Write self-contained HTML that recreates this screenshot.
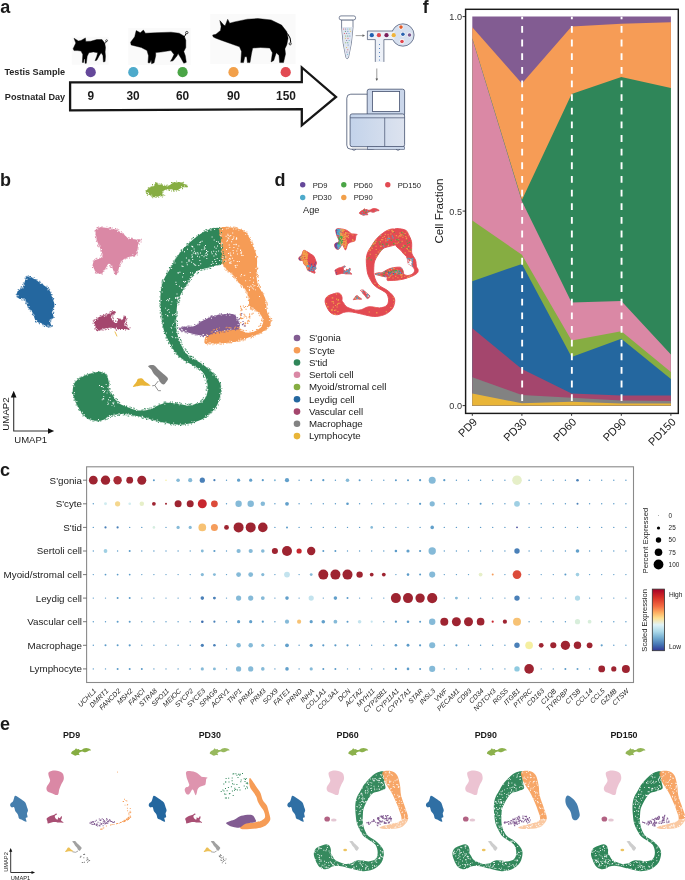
<!DOCTYPE html><html><head><meta charset="utf-8"><style>html,body{margin:0;padding:0;background:#fff;width:685px;height:880px;overflow:hidden}svg{display:block;font-family:"Liberation Sans", sans-serif;will-change:transform}</style></head><body><svg width="685" height="880" viewBox="0 0 685 880"><text x="0.2" y="12.9" font-size="18" font-weight="bold" text-anchor="start" fill="#1a1a1a" >a</text>
<rect x="71.8" y="36.8" width="36.8" height="28" fill="#fafafa"/>
<rect x="128.2" y="27.9" width="62.5" height="37.1" fill="#fafafa"/>
<rect x="210.2" y="14.1" width="85.4" height="49.9" fill="#fafafa"/>
<polygon points="73.1,48.8 75.8,43.1 74.0,38.3 78.4,40.9 81.0,40.5 85.4,37.9 85.8,41.4 90.7,41.2 96.8,39.6 102.0,39.6 104.7,43.1 105.5,47.5 105.1,51.9 105.5,56.3 105.1,61.5 103.4,62.0 102.9,55.4 101.2,52.8 99.4,55.4 96.8,60.2 95.0,60.7 96.8,56.3 97.7,52.8 93.3,51.9 88.9,52.8 87.2,56.3 86.3,63.3 85.0,63.3 85.0,58.9 84.1,58.9 83.6,62.4 82.3,62.4 82.8,54.5 81.0,51.0 77.5,50.6 74.0,50.6" fill="#000" stroke="#000" stroke-width="0.4" stroke-linejoin="round"/>
<polygon points="130.6,42.2 134.7,36.8 136.2,30.6 140.3,32.7 143.4,30.1 145.4,33.2 155.7,32.7 171.0,32.2 179.2,33.2 184.3,36.2 185.8,40.3 185.8,47.5 183.8,51.6 185.3,55.7 186.3,62.3 183.8,63.3 180.7,57.7 178.1,53.6 177.1,55.7 173.0,60.8 170.5,61.3 172.0,58.7 174.0,54.6 171.0,50.5 160.8,52.1 155.7,52.6 155.7,55.7 154.1,62.8 151.6,63.8 151.1,59.7 150.0,62.8 148.0,62.8 148.5,55.7 147.0,50.5 141.3,47.5 135.2,46.0 131.1,44.9" fill="#000" stroke="#000" stroke-width="0.4" stroke-linejoin="round"/>
<polygon points="212.6,35.0 215.9,34.3 220.5,30.4 221.1,26.5 219.8,20.5 223.8,25.1 225.1,25.8 227.7,19.2 229.7,23.2 234.3,21.9 247.4,19.2 257.9,18.6 271.1,19.9 281.6,25.1 286.8,31.7 288.1,38.3 286.8,44.8 284.9,48.8 285.5,54.0 283.5,62.6 279.6,62.6 279.0,55.4 276.3,52.7 273.7,60.6 271.1,61.9 272.4,52.7 269.8,48.1 260.6,47.5 252.7,48.1 251.4,54.0 250.0,62.6 247.4,62.6 246.8,56.7 244.8,56.7 243.5,62.6 240.8,62.6 241.5,51.4 239.5,46.8 230.3,43.5 221.1,40.2 215.9,38.3 213.3,37.0" fill="#000" stroke="#000" stroke-width="0.4" stroke-linejoin="round"/>
<path d="M104.8,43.5 Q106,42.5 106.2,41.2" fill="none" stroke="#000" stroke-width="0.9"/><circle cx="106.6" cy="40.6" r="0.9" fill="none" stroke="#000" stroke-width="0.6"/>
<path d="M184.3,36.8 Q185.5,35 186,33.6" fill="none" stroke="#000" stroke-width="1"/><circle cx="186.8" cy="32.6" r="1.2" fill="none" stroke="#000" stroke-width="0.7"/>
<path d="M287.5,33.5 Q291,38 290.8,42.5" fill="none" stroke="#000" stroke-width="1"/><circle cx="290.2" cy="43.8" r="1.1" fill="none" stroke="#000" stroke-width="0.7"/>
<path d="M70.1,82.3 L301.8,82.2 L301.8,67.5 L336,97 L301.8,125.3 L301.8,109.2 L70.1,110.4 Z" fill="#fff" stroke="#161616" stroke-width="2.3" stroke-linejoin="miter"/>
<circle cx="90.7" cy="72.2" r="5.1" fill="#65489a"/>
<circle cx="133.3" cy="72.2" r="5.1" fill="#4eaacb"/>
<circle cx="182.6" cy="72.2" r="5.1" fill="#4aa546"/>
<circle cx="233.5" cy="72.2" r="5.1" fill="#f2a04a"/>
<circle cx="285.7" cy="72.2" r="5.1" fill="#e24a52"/>
<text x="4.4" y="75" font-size="9.15" font-weight="bold" text-anchor="start" fill="#262626" >Testis Sample</text>
<text x="4.8" y="99.8" font-size="9.15" font-weight="bold" text-anchor="start" fill="#262626" >Postnatal Day</text>
<text x="90.7" y="100.3" font-size="11.9" font-weight="bold" text-anchor="middle" fill="#1c1c1c" >9</text>
<text x="133" y="100.3" font-size="11.9" font-weight="bold" text-anchor="middle" fill="#1c1c1c" >30</text>
<text x="182.5" y="100.3" font-size="11.9" font-weight="bold" text-anchor="middle" fill="#1c1c1c" >60</text>
<text x="233.5" y="100.3" font-size="11.9" font-weight="bold" text-anchor="middle" fill="#1c1c1c" >90</text>
<text x="286" y="100.3" font-size="11.9" font-weight="bold" text-anchor="middle" fill="#1c1c1c" >150</text>
<path d="M341.6,19.9 L353,19.9 L353,27 Q352,44 348.4,57.8 Q347.2,59.5 346,57.8 Q342.6,44 341.6,27 Z" fill="#fff" stroke="#44506e" stroke-width="0.7"/>
<path d="M342,27 L352.6,27 Q351.6,44 348.2,57.4 Q347.2,58.8 346.2,57.4 Q343,44 342,27 Z" fill="#dfe6f1"/>
<rect x="339.2" y="15.9" width="16.4" height="4" rx="1.8" fill="#fff" stroke="#44506e" stroke-width="0.7"/>
<circle cx="343.6" cy="29.0" r="0.5" fill="#e0474f"/>
<circle cx="345.7" cy="29.0" r="0.5" fill="#7e5b92"/>
<circle cx="347.8" cy="29.0" r="0.5" fill="#4eaacb"/>
<circle cx="349.9" cy="29.0" r="0.5" fill="#86ad42"/>
<circle cx="345.4" cy="31.3" r="0.5" fill="#2f8659"/>
<circle cx="347.9" cy="31.3" r="0.5" fill="#4b78c0"/>
<circle cx="350.4" cy="31.3" r="0.5" fill="#e9b538"/>
<circle cx="344.4" cy="33.6" r="0.5" fill="#e0474f"/>
<circle cx="346.7" cy="33.6" r="0.5" fill="#7e5b92"/>
<circle cx="349.0" cy="33.6" r="0.5" fill="#4eaacb"/>
<circle cx="345.7" cy="35.9" r="0.5" fill="#86ad42"/>
<circle cx="347.8" cy="35.9" r="0.5" fill="#2f8659"/>
<circle cx="349.9" cy="35.9" r="0.5" fill="#4b78c0"/>
<circle cx="345.3" cy="38.2" r="0.5" fill="#e9b538"/>
<circle cx="348.0" cy="38.2" r="0.5" fill="#e0474f"/>
<circle cx="346.7" cy="40.5" r="0.5" fill="#7e5b92"/>
<circle cx="349.1" cy="40.5" r="0.5" fill="#4eaacb"/>
<circle cx="345.7" cy="42.8" r="0.5" fill="#86ad42"/>
<circle cx="347.8" cy="42.8" r="0.5" fill="#2f8659"/>
<circle cx="348.1" cy="45.1" r="0.5" fill="#4b78c0"/>
<circle cx="346.6" cy="47.4" r="0.5" fill="#e9b538"/>
<circle cx="347.8" cy="49.7" r="0.5" fill="#e0474f"/>
<circle cx="346.9" cy="52.0" r="0.5" fill="#7e5b92"/>
<circle cx="347.6" cy="54.3" r="0.5" fill="#4eaacb"/>
<line x1="355.6" y1="35.6" x2="363.5" y2="35.6" stroke="#666" stroke-width="0.6"/>
<path d="M362.5,34.3 L365,35.6 L362.5,36.9 Z" fill="#666"/>
<circle cx="402.9" cy="35" r="11.2" fill="#d7e0ef" stroke="#44506e" stroke-width="0.7"/>
<rect x="367.4" y="31" width="27" height="8.6" fill="#edf1f8"/>
<rect x="375.3" y="39" width="8.6" height="22.9" fill="#edf1f8"/>
<path d="M393.2,31 L367.4,31 L367.4,39.6 L375.3,39.6 L375.3,61.9 M383.9,61.9 L383.9,39.6 L392.6,39.6" fill="none" stroke="#44506e" stroke-width="0.7"/>
<circle cx="371.8" cy="35.2" r="2.1" fill="#1f5fb0"/>
<circle cx="378.9" cy="35.2" r="2.1" fill="#e0474f"/>
<circle cx="386.5" cy="35.2" r="2.1" fill="#7a1f5c"/>
<circle cx="393.7" cy="35.2" r="2.1" fill="#f0b43a"/>
<circle cx="401" cy="27.1" r="2.4" fill="#fff"/>
<circle cx="401" cy="27.1" r="1.8" fill="#e05a2a"/>
<circle cx="402.9" cy="34.3" r="2.4" fill="#fff"/>
<circle cx="402.9" cy="34.3" r="1.8" fill="#2a62b0"/>
<circle cx="409.5" cy="35" r="2.4" fill="#fff"/>
<circle cx="409.5" cy="35" r="1.8" fill="#7e5b92"/>
<circle cx="402" cy="41.5" r="2.4" fill="#fff"/>
<circle cx="402" cy="41.5" r="1.8" fill="#e0474f"/>
<circle cx="379.5" cy="44.5" r="0.5" fill="#2a62b0"/>
<circle cx="379.5" cy="48.5" r="0.5" fill="#2a62b0"/>
<circle cx="379.5" cy="52.5" r="0.5" fill="#2a62b0"/>
<circle cx="379.5" cy="56.5" r="0.5" fill="#2a62b0"/>
<circle cx="379.5" cy="60" r="0.5" fill="#2a62b0"/>
<line x1="376.8" y1="68.5" x2="376.8" y2="79.5" stroke="#555" stroke-width="0.6"/>
<path d="M375.5,78.6 L376.8,81 L378.1,78.6 Z" fill="#555"/>
<defs><linearGradient id="mg" x1="0" x2="1"><stop offset="0" stop-color="#c3d3ea"/><stop offset="1" stop-color="#dde3ef"/></linearGradient></defs>
<rect x="346.8" y="94.2" width="30" height="55" rx="4" fill="#fff" stroke="#44506e" stroke-width="0.8"/>
<rect x="367.2" y="89.2" width="37.4" height="27" rx="2" fill="#cad6ea" stroke="#44506e" stroke-width="0.8"/>
<rect x="372.4" y="91.5" width="27.2" height="20" fill="#fff" stroke="#44506e" stroke-width="0.8"/>
<rect x="350.1" y="113.9" width="54.5" height="32.8" rx="2" fill="url(#mg)" stroke="#44506e" stroke-width="0.8"/>
<line x1="350.1" y1="117.8" x2="404.6" y2="117.8" stroke="#44506e" stroke-width="0.7"/>
<line x1="384.7" y1="117.8" x2="384.7" y2="146.7" stroke="#44506e" stroke-width="0.7"/>
<rect x="367.5" y="146.7" width="37" height="2.6" fill="#cad6ea" stroke="#44506e" stroke-width="0.6"/>
<path d="M352,149.3 Q354,151.5 356,149.3 M396,149.3 Q398,151.5 400,149.3" fill="none" stroke="#44506e" stroke-width="0.7"/>
<polygon points="472.3,16.6 521.9,16.6 571.6,16.6 621.3,16.6 670.9,16.6 670.9,405.6 621.3,405.6 571.6,405.6 521.9,405.6 472.3,405.6" fill="#825c92"/>
<polygon points="472.3,27.3 521.9,83.6 571.6,26.6 621.3,23.7 670.9,22.3 670.9,405.6 621.3,405.6 571.6,405.6 521.9,405.6 472.3,405.6" fill="#f69c56"/>
<polygon points="472.3,38.3 521.9,200.1 571.6,94.1 621.3,77.1 670.9,88.0 670.9,405.6 621.3,405.6 571.6,405.6 521.9,405.6 472.3,405.6" fill="#2f8659"/>
<polygon points="472.3,38.7 521.9,201.3 571.6,302.4 621.3,301.0 670.9,354.5 670.9,405.6 621.3,405.6 571.6,405.6 521.9,405.6 472.3,405.6" fill="#da88a5"/>
<polygon points="472.3,220.6 521.9,254.7 571.6,340.4 621.3,331.2 670.9,372.0 670.9,405.6 621.3,405.6 571.6,405.6 521.9,405.6 472.3,405.6" fill="#86ad42"/>
<polygon points="472.3,281.2 521.9,263.9 571.6,357.1 621.3,338.7 670.9,379.0 670.9,405.6 621.3,405.6 571.6,405.6 521.9,405.6 472.3,405.6" fill="#24679f"/>
<polygon points="472.3,328.2 521.9,369.1 571.6,393.5 621.3,395.6 670.9,395.6 670.9,405.6 621.3,405.6 571.6,405.6 521.9,405.6 472.3,405.6" fill="#a4466d"/>
<polygon points="472.3,377.3 521.9,395.0 571.6,397.7 621.3,400.5 670.9,400.9 670.9,405.6 621.3,405.6 571.6,405.6 521.9,405.6 472.3,405.6" fill="#828282"/>
<polygon points="472.3,393.6 521.9,403.2 571.6,401.8 621.3,403.5 670.9,403.5 670.9,405.6 621.3,405.6 571.6,405.6 521.9,405.6 472.3,405.6" fill="#e9b538"/>
<line x1="522.15" y1="414.7" x2="522.15" y2="16.65" stroke="#fff" stroke-width="1.9" stroke-dasharray="6.82,6.82"/>
<line x1="571.85" y1="414.7" x2="571.85" y2="16.65" stroke="#fff" stroke-width="1.9" stroke-dasharray="6.82,6.82"/>
<line x1="621.55" y1="414.7" x2="621.55" y2="16.65" stroke="#fff" stroke-width="1.9" stroke-dasharray="6.82,6.82"/>
<rect x="465.6" y="9.3" width="212.7" height="404.1" fill="none" stroke="#1a1a1a" stroke-width="1.45"/>
<line x1="462.6" y1="16.6" x2="465" y2="16.6" stroke="#333" stroke-width="1"/>
<text x="462" y="20.25" font-size="9.1" font-weight="normal" text-anchor="end" fill="#333" >1.0</text>
<line x1="462.6" y1="211.1" x2="465" y2="211.1" stroke="#333" stroke-width="1"/>
<text x="462" y="214.725" font-size="9.1" font-weight="normal" text-anchor="end" fill="#333" >0.5</text>
<line x1="462.6" y1="405.6" x2="465" y2="405.6" stroke="#333" stroke-width="1"/>
<text x="462" y="409.20000000000005" font-size="9.1" font-weight="normal" text-anchor="end" fill="#333" >0.0</text>
<line x1="472.3" y1="413.4" x2="472.3" y2="415.8" stroke="#333" stroke-width="1"/>
<text transform="translate(477.90000000000003,422.6) rotate(-45)" font-size="11" text-anchor="end" fill="#1a1a1a">PD9</text>
<line x1="521.9" y1="413.4" x2="521.9" y2="415.8" stroke="#333" stroke-width="1"/>
<text transform="translate(527.5,422.6) rotate(-45)" font-size="11" text-anchor="end" fill="#1a1a1a">PD30</text>
<line x1="571.6" y1="413.4" x2="571.6" y2="415.8" stroke="#333" stroke-width="1"/>
<text transform="translate(577.2,422.6) rotate(-45)" font-size="11" text-anchor="end" fill="#1a1a1a">PD60</text>
<line x1="621.3" y1="413.4" x2="621.3" y2="415.8" stroke="#333" stroke-width="1"/>
<text transform="translate(626.9,422.6) rotate(-45)" font-size="11" text-anchor="end" fill="#1a1a1a">PD90</text>
<line x1="670.9" y1="413.4" x2="670.9" y2="415.8" stroke="#333" stroke-width="1"/>
<text transform="translate(676.5,422.6) rotate(-45)" font-size="11" text-anchor="end" fill="#1a1a1a">PD150</text>
<text transform="translate(443,211) rotate(-90)" font-size="11.6" text-anchor="middle" fill="#1a1a1a">Cell Fraction</text>
<text x="422.8" y="12.6" font-size="17.6" font-weight="bold" text-anchor="start" fill="#1a1a1a" >f</text>
<text x="0.0" y="185.6" font-size="18" font-weight="bold" text-anchor="start" fill="#1a1a1a" >b</text>
<g><path d="M145.70,192.50 C145.57,191.33 147.57,189.18 148.80,188.10 C150.03,187.02 151.87,186.95 153.10,186.00 C154.33,185.05 155.32,182.63 156.20,182.40 C157.08,182.17 157.38,184.30 158.40,184.60 C159.42,184.90 161.43,183.97 162.30,184.20 C163.17,184.43 162.50,185.78 163.60,186.00 C164.70,186.22 167.43,185.95 168.90,185.50 C170.37,185.05 170.93,183.88 172.40,183.30 C173.87,182.72 175.95,182.00 177.70,182.00 C179.45,182.00 181.23,182.57 182.90,183.30 C184.57,184.03 187.70,185.73 187.70,186.40 C187.70,187.07 184.57,186.72 182.90,187.30 C181.23,187.88 179.30,189.40 177.70,189.90 C176.10,190.40 174.77,190.45 173.30,190.30 C171.83,190.15 170.37,189.00 168.90,189.00 C167.43,189.00 165.67,189.72 164.50,190.30 C163.33,190.88 162.05,191.55 161.90,192.50 C161.75,193.45 164.03,195.42 163.60,196.00 C163.17,196.58 160.82,195.78 159.30,196.00 C157.78,196.22 156.12,197.45 154.50,197.30 C152.88,197.15 151.07,195.90 149.60,195.10 C148.13,194.30 145.83,193.67 145.70,192.50Z" fill="#86ad42"/>
<path d="M96.00,229.20 C96.73,228.38 98.08,227.62 99.90,227.40 C101.72,227.18 104.27,227.53 106.90,227.90 C109.53,228.27 113.22,228.73 115.70,229.60 C118.18,230.47 120.05,231.93 121.80,233.10 C123.55,234.27 125.03,235.65 126.20,236.60 C127.37,237.55 127.50,238.35 128.80,238.80 C130.10,239.25 131.95,239.00 134.00,239.30 C136.05,239.60 140.37,240.02 141.10,240.60 C141.83,241.18 138.98,241.42 138.40,242.80 C137.82,244.18 138.03,246.87 137.60,248.90 C137.17,250.93 137.12,253.68 135.80,255.00 C134.48,256.32 131.75,256.07 129.70,256.80 C127.65,257.53 125.12,258.23 123.50,259.40 C121.88,260.57 120.87,261.90 120.00,263.80 C119.13,265.70 118.95,268.90 118.30,270.80 C117.65,272.70 116.83,275.05 116.10,275.20 C115.37,275.35 114.70,273.32 113.90,271.70 C113.10,270.08 112.18,266.82 111.30,265.50 C110.42,264.18 109.63,263.22 108.60,263.80 C107.57,264.38 106.27,267.40 105.10,269.00 C103.93,270.60 103.05,272.80 101.60,273.40 C100.15,274.00 97.85,273.92 96.40,272.60 C94.95,271.28 93.20,267.55 92.90,265.50 C92.60,263.45 93.43,261.47 94.60,260.30 C95.77,259.13 98.58,259.38 99.90,258.50 C101.22,257.62 102.35,256.45 102.50,255.00 C102.65,253.55 101.60,251.83 100.80,249.80 C100.00,247.77 98.43,244.85 97.70,242.80 C96.97,240.75 96.77,239.25 96.40,237.50 C96.03,235.75 95.57,233.68 95.50,232.30 C95.43,230.92 95.27,230.02 96.00,229.20Z" fill="#da88a5"/>
<path d="M27.30,276.10 C28.90,275.38 31.48,277.48 33.90,278.80 C36.32,280.12 39.32,282.25 41.80,284.00 C44.28,285.75 47.05,286.97 48.80,289.30 C50.55,291.63 51.35,295.38 52.30,298.00 C53.25,300.62 54.50,302.80 54.50,305.00 C54.50,307.20 52.45,309.08 52.30,311.20 C52.15,313.32 54.03,316.25 53.60,317.70 C53.17,319.15 50.07,318.37 49.70,319.90 C49.33,321.43 51.98,325.88 51.40,326.90 C50.82,327.92 47.80,326.58 46.20,326.00 C44.60,325.42 43.55,324.27 41.80,323.40 C40.05,322.53 37.17,322.55 35.70,320.80 C34.23,319.05 34.32,315.23 33.00,312.90 C31.68,310.57 29.12,309.13 27.80,306.80 C26.48,304.47 26.42,300.22 25.10,298.90 C23.78,297.58 21.28,299.48 19.90,298.90 C18.52,298.32 17.10,296.72 16.80,295.40 C16.50,294.08 17.15,292.32 18.10,291.00 C19.05,289.68 21.47,288.82 22.50,287.50 C23.53,286.18 23.50,285.00 24.30,283.10 C25.10,281.20 25.70,276.82 27.30,276.10Z" fill="#24679f"/>
<path d="M93.80,321.50 C93.95,320.25 95.10,319.75 96.40,318.80 C97.70,317.85 99.57,316.60 101.60,315.80 C103.63,315.00 106.55,314.80 108.60,314.00 C110.65,313.20 112.72,311.15 113.90,311.00 C115.08,310.85 116.13,312.30 115.70,313.10 C115.27,313.90 111.75,314.48 111.30,315.80 C110.85,317.12 111.98,319.83 113.00,321.00 C114.02,322.17 116.52,323.23 117.40,322.80 C118.28,322.37 117.57,318.85 118.30,318.40 C119.03,317.95 120.63,320.53 121.80,320.10 C122.97,319.67 124.57,315.80 125.30,315.80 C126.03,315.80 126.35,318.65 126.20,320.10 C126.05,321.55 123.82,322.97 124.40,324.50 C124.98,326.03 129.85,328.57 129.70,329.30 C129.55,330.03 125.70,328.97 123.50,328.90 C121.30,328.83 118.25,329.05 116.50,328.90 C114.75,328.75 114.45,328.15 113.00,328.00 C111.55,327.85 109.83,327.70 107.80,328.00 C105.77,328.30 102.70,329.35 100.80,329.80 C98.90,330.25 97.28,331.28 96.40,330.70 C95.52,330.12 95.93,327.83 95.50,326.30 C95.07,324.77 93.65,322.75 93.80,321.50Z" fill="#a4466d"/>
<path d="M220.20,228.50 C217.85,226.90 211.32,228.65 206.90,230.40 C202.48,232.15 198.12,235.35 193.70,239.00 C189.28,242.65 184.20,247.57 180.40,252.30 C176.60,257.03 173.75,262.67 170.90,267.40 C168.05,272.13 165.05,275.95 163.30,280.70 C161.55,285.45 160.72,290.20 160.40,295.90 C160.08,301.60 160.83,309.22 161.40,314.90 C161.97,320.58 162.42,325.30 163.80,330.00 C165.18,334.70 167.62,339.17 169.70,343.10 C171.78,347.03 173.88,350.75 176.30,353.60 C178.72,356.45 181.35,358.22 184.20,360.20 C187.05,362.18 190.33,363.53 193.40,365.50 C196.47,367.47 200.42,369.60 202.60,372.00 C204.78,374.40 205.63,377.27 206.50,379.90 C207.37,382.53 207.80,385.17 207.80,387.80 C207.80,390.43 207.37,393.50 206.50,395.70 C205.63,397.90 204.13,399.68 202.60,401.00 C201.07,402.32 199.72,402.85 197.30,403.60 C194.88,404.35 191.60,405.50 188.10,405.50 C184.60,405.50 180.02,404.03 176.30,403.60 C172.58,403.17 168.78,402.62 165.80,402.90 C162.82,403.18 161.08,404.18 158.40,405.30 C155.72,406.42 153.10,408.75 149.70,409.60 C146.30,410.45 141.90,410.88 138.00,410.40 C134.10,409.92 129.70,408.05 126.30,406.70 C122.90,405.35 120.03,404.48 117.60,402.30 C115.17,400.12 113.17,395.78 111.70,393.60 C110.23,391.42 109.28,391.15 108.80,389.20 C108.32,387.25 109.28,384.33 108.80,381.90 C108.32,379.47 107.37,376.30 105.90,374.60 C104.43,372.90 102.20,371.95 100.00,371.70 C97.80,371.45 95.37,372.37 92.70,373.10 C90.03,373.83 86.67,374.88 84.00,376.10 C81.33,377.32 78.53,378.47 76.70,380.40 C74.87,382.33 73.48,385.02 73.00,387.70 C72.52,390.38 72.70,392.85 73.80,396.50 C74.90,400.15 77.67,406.20 79.60,409.60 C81.53,413.00 82.97,415.07 85.40,416.90 C87.83,418.73 91.27,420.10 94.20,420.60 C97.13,421.10 100.08,420.75 103.00,419.90 C105.92,419.05 108.30,416.48 111.70,415.50 C115.10,414.52 119.02,413.88 123.40,414.00 C127.78,414.12 133.13,415.22 138.00,416.20 C142.87,417.18 148.10,418.80 152.60,419.90 C157.10,421.00 161.05,422.02 165.00,422.80 C168.95,423.58 172.67,424.42 176.30,424.60 C179.93,424.78 183.08,424.55 186.80,423.90 C190.52,423.25 195.10,422.12 198.60,420.70 C202.10,419.28 204.95,417.60 207.80,415.40 C210.65,413.20 213.73,410.35 215.70,407.50 C217.67,404.65 218.72,401.58 219.60,398.30 C220.48,395.02 221.22,390.87 221.00,387.80 C220.78,384.73 219.83,382.53 218.30,379.90 C216.77,377.27 214.42,374.62 211.80,372.00 C209.18,369.38 206.33,366.82 202.60,364.20 C198.87,361.58 192.92,359.37 189.40,356.30 C185.88,353.23 183.63,350.18 181.50,345.80 C179.37,341.42 177.42,335.78 176.60,330.00 C175.78,324.22 176.28,316.15 176.60,311.10 C176.92,306.05 177.23,303.50 178.50,299.70 C179.77,295.90 181.98,292.10 184.20,288.30 C186.42,284.50 189.28,279.90 191.80,276.90 C194.32,273.90 195.83,272.03 199.30,270.30 C202.77,268.57 208.48,267.88 212.60,266.50 C216.72,265.12 222.43,264.75 224.00,262.00 C225.57,259.25 222.50,253.67 222.00,250.00 C221.50,246.33 221.30,243.58 221.00,240.00 C220.70,236.42 222.55,230.10 220.20,228.50Z" fill="#2f8659"/>
<path d="M220.20,228.50 C221.97,226.43 227.48,227.12 231.60,227.60 C235.72,228.08 241.73,229.18 244.90,231.40 C248.07,233.62 248.65,236.80 250.60,240.90 C252.55,245.00 255.55,251.15 256.60,256.00 C257.65,260.85 256.75,265.40 256.90,270.00 C257.05,274.60 256.13,278.93 257.50,283.60 C258.87,288.27 263.48,293.22 265.10,298.00 C266.72,302.78 266.27,308.73 267.20,312.30 C268.13,315.87 270.37,317.02 270.70,319.40 C271.03,321.78 270.82,324.38 269.20,326.60 C267.58,328.82 264.07,331.00 261.00,332.70 C257.93,334.40 254.55,335.43 250.80,336.80 C247.05,338.17 242.77,339.87 238.50,340.90 C234.23,341.93 229.45,342.55 225.20,343.00 C220.95,343.45 216.37,343.53 213.00,343.60 C209.63,343.67 206.02,344.83 205.00,343.40 C203.98,341.97 204.40,337.57 206.90,335.00 C209.40,332.43 214.57,329.07 220.00,328.00 C225.43,326.93 235.90,328.15 239.50,328.60 C243.10,329.05 240.07,330.02 241.60,330.70 C243.13,331.38 245.97,332.87 248.70,332.70 C251.43,332.53 255.60,331.40 258.00,329.70 C260.40,328.00 262.60,324.90 263.10,322.50 C263.60,320.10 262.20,317.35 261.00,315.30 C259.80,313.25 257.77,311.73 255.90,310.20 C254.03,308.67 251.00,307.80 249.80,306.10 C248.60,304.40 249.38,302.72 248.70,300.00 C248.02,297.28 247.23,292.53 245.70,289.80 C244.17,287.07 241.55,285.98 239.50,283.60 C237.45,281.22 235.78,278.05 233.40,275.50 C231.02,272.95 227.02,270.55 225.20,268.30 C223.38,266.05 223.03,265.05 222.50,262.00 C221.97,258.95 222.25,253.67 222.00,250.00 C221.75,246.33 221.30,243.58 221.00,240.00 C220.70,236.42 218.43,230.57 220.20,228.50Z" fill="#f69c56"/>
<path d="M178.50,329.10 C178.50,328.20 183.57,327.07 186.10,326.60 C188.63,326.13 190.87,327.30 193.70,326.30 C196.53,325.30 199.63,322.35 203.10,320.60 C206.57,318.85 209.75,316.92 214.50,315.80 C219.25,314.68 227.80,313.42 231.60,313.90 C235.40,314.38 236.03,316.32 237.30,318.70 C238.57,321.08 240.47,326.30 239.20,328.20 C237.93,330.10 233.50,329.47 229.70,330.10 C225.90,330.73 220.20,331.05 216.40,332.00 C212.60,332.95 210.07,335.33 206.90,335.80 C203.73,336.27 200.87,335.43 197.40,334.80 C193.93,334.17 189.25,332.95 186.10,332.00 C182.95,331.05 178.50,330.00 178.50,329.10Z" fill="#825c92"/>
<path d="M148.20,366.10 C148.63,365.38 152.22,364.72 153.90,365.30 C155.58,365.88 156.70,368.15 158.30,369.60 C159.90,371.05 161.90,372.53 163.50,374.00 C165.10,375.47 167.45,377.08 167.90,378.40 C168.35,379.72 166.93,380.88 166.20,381.90 C165.47,382.92 164.53,384.50 163.50,384.50 C162.47,384.50 160.87,382.92 160.00,381.90 C159.13,380.88 159.32,379.72 158.30,378.40 C157.28,377.08 155.07,375.47 153.90,374.00 C152.73,372.53 152.25,370.92 151.30,369.60 C150.35,368.28 147.77,366.82 148.20,366.10Z" fill="#828282"/>
<path d="M132.90,386.70 C132.90,385.97 135.53,383.22 136.40,381.90 C137.27,380.58 137.15,379.38 138.10,378.80 C139.05,378.22 140.93,377.95 142.10,378.40 C143.27,378.85 143.72,380.33 145.10,381.50 C146.48,382.67 150.10,384.68 150.40,385.40 C150.70,386.12 148.50,385.80 146.90,385.80 C145.30,385.80 142.55,385.32 140.80,385.40 C139.05,385.48 137.72,386.08 136.40,386.30 C135.08,386.52 132.90,387.43 132.90,386.70Z" fill="#e9b538"/></g>
<path d="M145.5,190.4h0.9v0.9h-0.9zM147.8,187.5h0.9v0.9h-0.9zM145.8,190.0h0.9v0.9h-0.9zM152.0,184.4h0.9v0.9h-0.9zM148.4,187.2h0.9v0.9h-0.9zM150.7,186.3h0.9v0.9h-0.9zM155.3,182.0h0.9v0.9h-0.9zM152.1,184.0h0.9v0.9h-0.9zM152.8,185.2h0.9v0.9h-0.9zM157.2,182.8h0.9v0.9h-0.9zM157.3,182.9h0.9v0.9h-0.9zM158.8,183.4h0.9v0.9h-0.9zM160.8,183.2h0.9v0.9h-0.9zM163.9,184.8h0.9v0.9h-0.9zM166.7,184.5h0.9v0.9h-0.9zM166.6,185.2h0.9v0.9h-0.9zM165.7,185.3h0.9v0.9h-0.9zM171.3,182.0h0.9v0.9h-0.9zM171.0,182.0h0.9v0.9h-0.9zM172.6,182.1h0.9v0.9h-0.9zM176.2,180.7h0.9v0.9h-0.9zM174.0,182.0h0.9v0.9h-0.9zM181.5,181.9h0.9v0.9h-0.9zM182.6,182.2h0.9v0.9h-0.9zM182.6,182.1h0.9v0.9h-0.9zM186.5,184.7h0.9v0.9h-0.9zM185.4,184.3h0.9v0.9h-0.9zM183.2,181.7h0.9v0.9h-0.9zM187.0,186.3h0.9v0.9h-0.9zM185.8,186.6h0.9v0.9h-0.9zM184.4,186.7h0.9v0.9h-0.9zM182.0,188.3h0.9v0.9h-0.9zM182.2,187.7h0.9v0.9h-0.9zM178.7,190.0h0.9v0.9h-0.9zM177.7,189.5h0.9v0.9h-0.9zM173.2,190.0h0.9v0.9h-0.9zM173.5,191.0h0.9v0.9h-0.9zM176.1,190.5h0.9v0.9h-0.9zM171.0,190.6h0.9v0.9h-0.9zM168.9,189.6h0.9v0.9h-0.9zM169.0,190.2h0.9v0.9h-0.9zM165.9,189.4h0.9v0.9h-0.9zM168.5,189.0h0.9v0.9h-0.9zM167.8,189.7h0.9v0.9h-0.9zM162.7,191.5h0.9v0.9h-0.9zM161.9,192.3h0.9v0.9h-0.9zM164.3,194.9h0.9v0.9h-0.9zM163.2,194.2h0.9v0.9h-0.9zM159.9,195.6h0.9v0.9h-0.9zM161.9,196.7h0.9v0.9h-0.9zM159.9,195.9h0.9v0.9h-0.9zM155.6,197.1h0.9v0.9h-0.9zM157.6,196.1h0.9v0.9h-0.9zM158.3,196.9h0.9v0.9h-0.9zM150.9,195.6h0.9v0.9h-0.9zM151.8,196.5h0.9v0.9h-0.9zM152.4,197.4h0.9v0.9h-0.9zM146.2,192.8h0.9v0.9h-0.9zM146.9,194.5h0.9v0.9h-0.9zM147.0,194.8h0.9v0.9h-0.9z" fill="#86ad42"/><path d="M153.4,185.1h0.9v0.9h-0.9zM152.9,185.3h0.9v0.9h-0.9zM166.7,185.5h0.9v0.9h-0.9zM166.7,185.5h0.9v0.9h-0.9zM176.5,181.9h0.9v0.9h-0.9zM184.2,185.6h0.9v0.9h-0.9zM181.0,186.3h0.9v0.9h-0.9zM171.5,189.0h0.9v0.9h-0.9zM162.4,194.5h0.9v0.9h-0.9zM159.9,195.5h0.9v0.9h-0.9zM155.4,196.1h0.9v0.9h-0.9zM151.3,194.7h0.9v0.9h-0.9zM146.7,192.1h0.9v0.9h-0.9zM148.1,192.7h0.9v0.9h-0.9zM148.1,193.1h0.9v0.9h-0.9z" fill="#fff"/>
<path d="M97.3,227.3h0.9v0.9h-0.9zM96.6,227.0h0.9v0.9h-0.9zM98.2,226.6h0.9v0.9h-0.9zM101.5,226.6h0.9v0.9h-0.9zM100.4,226.9h0.9v0.9h-0.9zM101.6,226.3h0.9v0.9h-0.9zM106.5,226.4h0.9v0.9h-0.9zM110.1,226.9h0.9v0.9h-0.9zM108.7,227.3h0.9v0.9h-0.9zM115.1,228.1h0.9v0.9h-0.9zM109.6,227.6h0.9v0.9h-0.9zM111.8,227.5h0.9v0.9h-0.9zM110.3,227.8h0.9v0.9h-0.9zM120.9,230.9h0.9v0.9h-0.9zM116.5,229.6h0.9v0.9h-0.9zM118.3,229.3h0.9v0.9h-0.9zM116.7,228.6h0.9v0.9h-0.9zM122.9,232.9h0.9v0.9h-0.9zM121.6,232.5h0.9v0.9h-0.9zM123.3,234.0h0.9v0.9h-0.9zM128.6,237.8h0.9v0.9h-0.9zM128.4,237.0h0.9v0.9h-0.9zM132.0,238.2h0.9v0.9h-0.9zM131.4,237.5h0.9v0.9h-0.9zM131.1,238.1h0.9v0.9h-0.9zM140.4,239.7h0.9v0.9h-0.9zM139.4,239.4h0.9v0.9h-0.9zM138.5,239.0h0.9v0.9h-0.9zM140.9,238.8h0.9v0.9h-0.9zM137.3,239.3h0.9v0.9h-0.9zM140.6,241.5h0.9v0.9h-0.9zM140.7,241.4h0.9v0.9h-0.9zM137.7,248.5h0.9v0.9h-0.9zM137.6,247.2h0.9v0.9h-0.9zM138.8,243.9h0.9v0.9h-0.9zM138.4,243.1h0.9v0.9h-0.9zM136.8,251.6h0.9v0.9h-0.9zM136.8,254.6h0.9v0.9h-0.9zM136.1,252.5h0.9v0.9h-0.9zM137.0,252.6h0.9v0.9h-0.9zM134.2,255.9h0.9v0.9h-0.9zM133.6,255.3h0.9v0.9h-0.9zM134.3,255.1h0.9v0.9h-0.9zM132.9,255.9h0.9v0.9h-0.9zM129.1,257.6h0.9v0.9h-0.9zM126.6,257.9h0.9v0.9h-0.9zM124.7,258.6h0.9v0.9h-0.9zM125.4,258.2h0.9v0.9h-0.9zM121.9,260.7h0.9v0.9h-0.9zM120.9,262.7h0.9v0.9h-0.9zM121.8,261.6h0.9v0.9h-0.9zM119.2,265.9h0.9v0.9h-0.9zM118.9,266.2h0.9v0.9h-0.9zM119.2,265.6h0.9v0.9h-0.9zM120.1,263.9h0.9v0.9h-0.9zM119.9,265.6h0.9v0.9h-0.9zM117.7,270.9h0.9v0.9h-0.9zM117.2,272.1h0.9v0.9h-0.9zM117.6,271.7h0.9v0.9h-0.9zM113.7,271.7h0.9v0.9h-0.9zM114.1,273.1h0.9v0.9h-0.9zM110.7,267.1h0.9v0.9h-0.9zM109.9,266.5h0.9v0.9h-0.9zM110.3,266.2h0.9v0.9h-0.9zM111.2,266.9h0.9v0.9h-0.9zM110.5,265.0h0.9v0.9h-0.9zM109.1,265.3h0.9v0.9h-0.9zM106.3,267.8h0.9v0.9h-0.9zM106.6,266.2h0.9v0.9h-0.9zM104.7,268.5h0.9v0.9h-0.9zM106.4,268.4h0.9v0.9h-0.9zM103.4,270.8h0.9v0.9h-0.9zM102.1,273.5h0.9v0.9h-0.9zM102.6,271.2h0.9v0.9h-0.9zM96.4,273.0h0.9v0.9h-0.9zM101.0,273.4h0.9v0.9h-0.9zM98.8,273.0h0.9v0.9h-0.9zM92.1,267.1h0.9v0.9h-0.9zM95.0,271.9h0.9v0.9h-0.9zM94.8,269.9h0.9v0.9h-0.9zM95.0,270.3h0.9v0.9h-0.9zM94.9,272.5h0.9v0.9h-0.9zM92.8,260.5h0.9v0.9h-0.9zM93.1,260.6h0.9v0.9h-0.9zM91.9,264.7h0.9v0.9h-0.9zM94.2,259.2h0.9v0.9h-0.9zM96.5,257.7h0.9v0.9h-0.9zM95.6,258.0h0.9v0.9h-0.9zM100.9,254.5h0.9v0.9h-0.9zM100.1,255.4h0.9v0.9h-0.9zM99.2,257.8h0.9v0.9h-0.9zM101.2,253.3h0.9v0.9h-0.9zM100.3,249.5h0.9v0.9h-0.9zM100.5,250.8h0.9v0.9h-0.9zM100.1,249.3h0.9v0.9h-0.9zM97.2,245.6h0.9v0.9h-0.9zM98.2,246.3h0.9v0.9h-0.9zM97.3,244.8h0.9v0.9h-0.9zM97.9,244.0h0.9v0.9h-0.9zM96.2,240.2h0.9v0.9h-0.9zM95.7,238.5h0.9v0.9h-0.9zM95.9,241.1h0.9v0.9h-0.9zM94.9,235.8h0.9v0.9h-0.9zM95.4,233.8h0.9v0.9h-0.9zM95.1,237.0h0.9v0.9h-0.9zM95.3,230.1h0.9v0.9h-0.9zM94.4,230.5h0.9v0.9h-0.9z" fill="#da88a5"/><path d="M97.3,228.5h0.9v0.9h-0.9zM109.6,229.1h0.9v0.9h-0.9zM111.6,228.5h0.9v0.9h-0.9zM120.2,232.1h0.9v0.9h-0.9zM117.3,231.0h0.9v0.9h-0.9zM128.2,238.3h0.9v0.9h-0.9zM137.1,240.5h0.9v0.9h-0.9zM140.0,240.6h0.9v0.9h-0.9zM136.1,251.4h0.9v0.9h-0.9zM132.4,254.2h0.9v0.9h-0.9zM120.7,260.7h0.9v0.9h-0.9zM116.9,271.4h0.9v0.9h-0.9zM113.9,271.6h0.9v0.9h-0.9zM111.6,265.7h0.9v0.9h-0.9zM102.9,270.4h0.9v0.9h-0.9zM101.7,256.5h0.9v0.9h-0.9zM101.1,249.2h0.9v0.9h-0.9zM100.7,249.1h0.9v0.9h-0.9zM99.6,245.6h0.9v0.9h-0.9zM98.5,243.7h0.9v0.9h-0.9z" fill="#fff"/>
<path d="M28.1,275.4h0.9v0.9h-0.9zM33.7,277.2h0.9v0.9h-0.9zM31.4,277.3h0.9v0.9h-0.9zM30.0,276.1h0.9v0.9h-0.9zM40.2,282.6h0.9v0.9h-0.9zM36.6,279.6h0.9v0.9h-0.9zM34.9,279.3h0.9v0.9h-0.9zM36.3,279.3h0.9v0.9h-0.9zM39.4,281.6h0.9v0.9h-0.9zM39.3,280.7h0.9v0.9h-0.9zM41.8,283.4h0.9v0.9h-0.9zM48.3,288.3h0.9v0.9h-0.9zM42.3,284.1h0.9v0.9h-0.9zM48.3,288.2h0.9v0.9h-0.9zM46.5,285.8h0.9v0.9h-0.9zM48.1,287.2h0.9v0.9h-0.9zM51.6,294.3h0.9v0.9h-0.9zM51.8,297.1h0.9v0.9h-0.9zM50.3,291.8h0.9v0.9h-0.9zM49.2,289.3h0.9v0.9h-0.9zM50.5,291.8h0.9v0.9h-0.9zM51.2,294.0h0.9v0.9h-0.9zM55.1,304.1h0.9v0.9h-0.9zM52.6,298.0h0.9v0.9h-0.9zM52.8,298.7h0.9v0.9h-0.9zM53.3,298.2h0.9v0.9h-0.9zM52.7,299.4h0.9v0.9h-0.9zM52.8,309.1h0.9v0.9h-0.9zM52.2,310.2h0.9v0.9h-0.9zM53.3,309.2h0.9v0.9h-0.9zM53.6,306.4h0.9v0.9h-0.9zM53.3,311.7h0.9v0.9h-0.9zM53.0,313.1h0.9v0.9h-0.9zM53.3,312.0h0.9v0.9h-0.9zM53.6,317.0h0.9v0.9h-0.9zM51.2,319.4h0.9v0.9h-0.9zM50.2,319.4h0.9v0.9h-0.9zM49.9,320.5h0.9v0.9h-0.9zM50.3,321.3h0.9v0.9h-0.9zM49.7,321.0h0.9v0.9h-0.9zM51.0,325.6h0.9v0.9h-0.9zM52.1,325.3h0.9v0.9h-0.9zM52.0,325.7h0.9v0.9h-0.9zM48.3,327.2h0.9v0.9h-0.9zM46.0,326.2h0.9v0.9h-0.9zM47.3,326.4h0.9v0.9h-0.9zM44.2,326.1h0.9v0.9h-0.9zM42.7,325.4h0.9v0.9h-0.9zM42.2,323.8h0.9v0.9h-0.9zM39.1,323.3h0.9v0.9h-0.9zM35.6,321.9h0.9v0.9h-0.9zM35.1,321.0h0.9v0.9h-0.9zM38.5,322.4h0.9v0.9h-0.9zM33.2,315.0h0.9v0.9h-0.9zM32.4,312.9h0.9v0.9h-0.9zM32.8,314.8h0.9v0.9h-0.9zM31.9,314.1h0.9v0.9h-0.9zM33.9,316.4h0.9v0.9h-0.9zM32.3,312.5h0.9v0.9h-0.9zM29.9,310.6h0.9v0.9h-0.9zM28.9,308.6h0.9v0.9h-0.9zM28.3,308.7h0.9v0.9h-0.9zM27.7,306.8h0.9v0.9h-0.9zM25.6,303.3h0.9v0.9h-0.9zM25.2,302.6h0.9v0.9h-0.9zM25.3,300.5h0.9v0.9h-0.9zM24.2,300.2h0.9v0.9h-0.9zM24.3,298.9h0.9v0.9h-0.9zM22.5,299.7h0.9v0.9h-0.9zM21.2,299.4h0.9v0.9h-0.9zM23.5,298.7h0.9v0.9h-0.9zM16.6,295.8h0.9v0.9h-0.9zM17.1,296.5h0.9v0.9h-0.9zM16.6,296.3h0.9v0.9h-0.9zM15.8,293.9h0.9v0.9h-0.9zM16.6,293.6h0.9v0.9h-0.9zM17.3,291.5h0.9v0.9h-0.9zM20.8,286.3h0.9v0.9h-0.9zM20.2,287.8h0.9v0.9h-0.9zM17.8,289.1h0.9v0.9h-0.9zM22.3,284.2h0.9v0.9h-0.9zM22.9,282.5h0.9v0.9h-0.9zM21.5,286.8h0.9v0.9h-0.9zM24.5,277.7h0.9v0.9h-0.9zM25.5,276.4h0.9v0.9h-0.9zM25.9,276.5h0.9v0.9h-0.9zM26.7,275.7h0.9v0.9h-0.9zM25.0,278.8h0.9v0.9h-0.9z" fill="#24679f"/><path d="M29.6,277.2h0.9v0.9h-0.9zM39.9,283.1h0.9v0.9h-0.9zM48.1,288.7h0.9v0.9h-0.9zM47.3,289.4h0.9v0.9h-0.9zM51.9,312.3h0.9v0.9h-0.9zM49.4,321.1h0.9v0.9h-0.9zM49.9,325.9h0.9v0.9h-0.9zM48.6,325.7h0.9v0.9h-0.9zM47.5,324.8h0.9v0.9h-0.9zM36.3,320.3h0.9v0.9h-0.9zM35.5,320.1h0.9v0.9h-0.9zM33.6,314.8h0.9v0.9h-0.9zM30.7,309.9h0.9v0.9h-0.9zM28.6,306.0h0.9v0.9h-0.9zM27.3,302.8h0.9v0.9h-0.9zM21.2,298.1h0.9v0.9h-0.9zM17.5,295.0h0.9v0.9h-0.9zM17.6,295.4h0.9v0.9h-0.9zM21.7,287.4h0.9v0.9h-0.9zM23.8,284.8h0.9v0.9h-0.9zM22.9,287.4h0.9v0.9h-0.9zM26.8,278.7h0.9v0.9h-0.9zM27.6,276.1h0.9v0.9h-0.9zM25.6,279.1h0.9v0.9h-0.9z" fill="#fff"/>
<path d="M93.8,318.9h0.9v0.9h-0.9zM92.8,320.3h0.9v0.9h-0.9zM100.2,315.8h0.9v0.9h-0.9zM99.8,315.3h0.9v0.9h-0.9zM100.5,315.4h0.9v0.9h-0.9zM96.3,316.9h0.9v0.9h-0.9zM103.4,313.9h0.9v0.9h-0.9zM103.2,314.2h0.9v0.9h-0.9zM105.2,313.8h0.9v0.9h-0.9zM106.0,313.2h0.9v0.9h-0.9zM107.6,313.5h0.9v0.9h-0.9zM112.0,310.3h0.9v0.9h-0.9zM111.3,311.0h0.9v0.9h-0.9zM109.8,311.1h0.9v0.9h-0.9zM109.3,312.4h0.9v0.9h-0.9zM114.6,311.7h0.9v0.9h-0.9zM111.6,315.4h0.9v0.9h-0.9zM113.6,314.0h0.9v0.9h-0.9zM112.6,314.7h0.9v0.9h-0.9zM112.4,316.6h0.9v0.9h-0.9zM112.9,318.3h0.9v0.9h-0.9zM112.4,317.5h0.9v0.9h-0.9zM113.0,320.3h0.9v0.9h-0.9zM115.3,320.3h0.9v0.9h-0.9zM115.4,321.0h0.9v0.9h-0.9zM117.0,320.9h0.9v0.9h-0.9zM117.0,321.9h0.9v0.9h-0.9zM116.9,318.0h0.9v0.9h-0.9zM120.4,319.1h0.9v0.9h-0.9zM119.6,318.6h0.9v0.9h-0.9zM123.2,316.9h0.9v0.9h-0.9zM123.6,315.5h0.9v0.9h-0.9zM123.5,315.8h0.9v0.9h-0.9zM126.0,319.1h0.9v0.9h-0.9zM126.6,318.2h0.9v0.9h-0.9zM126.2,319.5h0.9v0.9h-0.9zM125.1,322.9h0.9v0.9h-0.9zM126.2,321.7h0.9v0.9h-0.9zM126.1,322.5h0.9v0.9h-0.9zM129.6,327.3h0.9v0.9h-0.9zM126.5,325.9h0.9v0.9h-0.9zM126.7,324.8h0.9v0.9h-0.9zM126.0,324.1h0.9v0.9h-0.9zM125.2,324.3h0.9v0.9h-0.9zM125.1,329.6h0.9v0.9h-0.9zM123.1,328.9h0.9v0.9h-0.9zM123.1,329.2h0.9v0.9h-0.9zM128.3,329.1h0.9v0.9h-0.9zM120.1,329.1h0.9v0.9h-0.9zM117.8,329.2h0.9v0.9h-0.9zM116.1,329.8h0.9v0.9h-0.9zM122.7,328.7h0.9v0.9h-0.9zM115.6,329.3h0.9v0.9h-0.9zM115.6,329.3h0.9v0.9h-0.9zM110.5,328.2h0.9v0.9h-0.9zM108.0,328.8h0.9v0.9h-0.9zM108.2,328.8h0.9v0.9h-0.9zM102.8,329.7h0.9v0.9h-0.9zM104.8,329.3h0.9v0.9h-0.9zM101.6,329.6h0.9v0.9h-0.9zM105.8,328.9h0.9v0.9h-0.9zM107.0,327.7h0.9v0.9h-0.9zM99.4,330.0h0.9v0.9h-0.9zM96.9,330.1h0.9v0.9h-0.9zM97.1,330.3h0.9v0.9h-0.9zM94.4,328.5h0.9v0.9h-0.9zM95.2,327.4h0.9v0.9h-0.9zM94.4,328.2h0.9v0.9h-0.9zM92.6,322.8h0.9v0.9h-0.9zM93.2,321.2h0.9v0.9h-0.9zM94.3,325.1h0.9v0.9h-0.9z" fill="#a4466d"/><path d="M95.0,320.0h0.9v0.9h-0.9zM93.7,321.2h0.9v0.9h-0.9zM100.4,316.2h0.9v0.9h-0.9zM97.3,318.6h0.9v0.9h-0.9zM103.9,315.8h0.9v0.9h-0.9zM105.6,315.3h0.9v0.9h-0.9zM109.9,313.4h0.9v0.9h-0.9zM110.9,317.1h0.9v0.9h-0.9zM111.9,318.7h0.9v0.9h-0.9zM114.6,322.2h0.9v0.9h-0.9zM115.0,322.0h0.9v0.9h-0.9zM125.5,319.2h0.9v0.9h-0.9zM125.3,319.7h0.9v0.9h-0.9zM124.4,325.2h0.9v0.9h-0.9zM116.1,328.1h0.9v0.9h-0.9zM116.0,327.4h0.9v0.9h-0.9zM102.4,327.9h0.9v0.9h-0.9zM96.8,328.9h0.9v0.9h-0.9zM96.1,328.2h0.9v0.9h-0.9zM94.0,320.9h0.9v0.9h-0.9z" fill="#fff"/>
<path d="M209.8,228.2h0.9v0.9h-0.9zM206.5,229.5h0.9v0.9h-0.9zM212.3,228.1h0.9v0.9h-0.9zM212.4,228.0h0.9v0.9h-0.9zM213.4,227.7h0.9v0.9h-0.9zM211.7,229.0h0.9v0.9h-0.9zM219.0,227.0h0.9v0.9h-0.9zM210.5,228.6h0.9v0.9h-0.9zM214.1,228.4h0.9v0.9h-0.9zM196.4,235.6h0.9v0.9h-0.9zM205.5,229.3h0.9v0.9h-0.9zM196.5,235.6h0.9v0.9h-0.9zM198.0,235.2h0.9v0.9h-0.9zM198.2,235.0h0.9v0.9h-0.9zM202.0,232.3h0.9v0.9h-0.9zM193.1,237.1h0.9v0.9h-0.9zM203.5,230.4h0.9v0.9h-0.9zM205.6,229.1h0.9v0.9h-0.9zM197.9,234.0h0.9v0.9h-0.9zM204.1,230.6h0.9v0.9h-0.9zM187.4,243.1h0.9v0.9h-0.9zM184.1,247.1h0.9v0.9h-0.9zM192.3,237.7h0.9v0.9h-0.9zM180.7,249.7h0.9v0.9h-0.9zM191.3,238.5h0.9v0.9h-0.9zM180.9,250.2h0.9v0.9h-0.9zM182.9,248.2h0.9v0.9h-0.9zM189.3,241.5h0.9v0.9h-0.9zM180.9,249.3h0.9v0.9h-0.9zM186.3,243.6h0.9v0.9h-0.9zM186.6,243.6h0.9v0.9h-0.9zM181.0,250.4h0.9v0.9h-0.9zM180.7,250.3h0.9v0.9h-0.9zM179.5,252.4h0.9v0.9h-0.9zM171.5,264.9h0.9v0.9h-0.9zM173.2,261.7h0.9v0.9h-0.9zM174.4,259.9h0.9v0.9h-0.9zM175.5,256.3h0.9v0.9h-0.9zM170.7,265.6h0.9v0.9h-0.9zM171.9,263.1h0.9v0.9h-0.9zM172.9,260.5h0.9v0.9h-0.9zM175.2,258.5h0.9v0.9h-0.9zM174.6,259.6h0.9v0.9h-0.9zM177.3,255.3h0.9v0.9h-0.9zM176.2,257.5h0.9v0.9h-0.9zM166.9,270.5h0.9v0.9h-0.9zM162.3,279.3h0.9v0.9h-0.9zM166.0,272.8h0.9v0.9h-0.9zM169.0,266.9h0.9v0.9h-0.9zM168.9,267.6h0.9v0.9h-0.9zM162.5,279.4h0.9v0.9h-0.9zM165.9,273.4h0.9v0.9h-0.9zM169.7,267.1h0.9v0.9h-0.9zM166.8,270.6h0.9v0.9h-0.9zM167.6,271.9h0.9v0.9h-0.9zM161.6,281.4h0.9v0.9h-0.9zM160.8,288.7h0.9v0.9h-0.9zM160.1,291.6h0.9v0.9h-0.9zM161.8,280.2h0.9v0.9h-0.9zM159.5,291.0h0.9v0.9h-0.9zM159.9,291.4h0.9v0.9h-0.9zM161.9,280.6h0.9v0.9h-0.9zM161.6,282.5h0.9v0.9h-0.9zM160.8,287.0h0.9v0.9h-0.9zM161.5,284.4h0.9v0.9h-0.9zM159.4,296.4h0.9v0.9h-0.9zM160.1,304.3h0.9v0.9h-0.9zM159.1,300.3h0.9v0.9h-0.9zM159.7,310.2h0.9v0.9h-0.9zM159.1,303.4h0.9v0.9h-0.9zM159.8,307.4h0.9v0.9h-0.9zM159.2,305.6h0.9v0.9h-0.9zM160.1,304.7h0.9v0.9h-0.9zM160.1,307.0h0.9v0.9h-0.9zM159.4,301.2h0.9v0.9h-0.9zM159.7,312.5h0.9v0.9h-0.9zM160.6,311.8h0.9v0.9h-0.9zM160.1,312.5h0.9v0.9h-0.9zM160.2,317.4h0.9v0.9h-0.9zM162.1,322.1h0.9v0.9h-0.9zM162.1,322.8h0.9v0.9h-0.9zM160.2,316.0h0.9v0.9h-0.9zM162.1,326.5h0.9v0.9h-0.9zM161.2,320.7h0.9v0.9h-0.9zM161.6,322.8h0.9v0.9h-0.9zM162.2,322.4h0.9v0.9h-0.9zM160.7,315.6h0.9v0.9h-0.9zM161.5,318.7h0.9v0.9h-0.9zM163.4,331.2h0.9v0.9h-0.9zM165.7,337.8h0.9v0.9h-0.9zM165.6,337.3h0.9v0.9h-0.9zM164.6,333.1h0.9v0.9h-0.9zM166.6,340.1h0.9v0.9h-0.9zM168.4,342.4h0.9v0.9h-0.9zM168.3,341.9h0.9v0.9h-0.9zM165.8,336.8h0.9v0.9h-0.9zM168.7,342.8h0.9v0.9h-0.9zM163.9,333.1h0.9v0.9h-0.9zM171.2,347.5h0.9v0.9h-0.9zM175.7,353.1h0.9v0.9h-0.9zM168.2,343.3h0.9v0.9h-0.9zM173.9,351.0h0.9v0.9h-0.9zM170.0,346.0h0.9v0.9h-0.9zM172.0,348.2h0.9v0.9h-0.9zM173.7,350.8h0.9v0.9h-0.9zM174.3,353.3h0.9v0.9h-0.9zM177.6,354.6h0.9v0.9h-0.9zM178.8,356.2h0.9v0.9h-0.9zM178.8,356.8h0.9v0.9h-0.9zM179.2,356.1h0.9v0.9h-0.9zM181.5,358.5h0.9v0.9h-0.9zM178.0,356.5h0.9v0.9h-0.9zM176.0,353.8h0.9v0.9h-0.9zM186.0,361.6h0.9v0.9h-0.9zM187.1,361.7h0.9v0.9h-0.9zM191.9,365.2h0.9v0.9h-0.9zM183.6,360.0h0.9v0.9h-0.9zM186.7,361.8h0.9v0.9h-0.9zM185.7,362.5h0.9v0.9h-0.9zM192.7,365.0h0.9v0.9h-0.9zM196.5,368.4h0.9v0.9h-0.9zM194.6,366.9h0.9v0.9h-0.9zM199.3,370.2h0.9v0.9h-0.9zM198.4,369.0h0.9v0.9h-0.9zM198.6,369.1h0.9v0.9h-0.9zM194.2,367.4h0.9v0.9h-0.9zM194.5,366.2h0.9v0.9h-0.9zM203.0,376.3h0.9v0.9h-0.9zM203.6,377.1h0.9v0.9h-0.9zM201.6,373.2h0.9v0.9h-0.9zM204.6,379.7h0.9v0.9h-0.9zM202.9,374.6h0.9v0.9h-0.9zM203.1,375.6h0.9v0.9h-0.9zM206.5,386.1h0.9v0.9h-0.9zM205.4,383.1h0.9v0.9h-0.9zM206.5,386.3h0.9v0.9h-0.9zM206.0,381.5h0.9v0.9h-0.9zM207.2,386.9h0.9v0.9h-0.9zM206.9,388.2h0.9v0.9h-0.9zM206.4,387.7h0.9v0.9h-0.9zM205.7,388.9h0.9v0.9h-0.9zM205.8,390.1h0.9v0.9h-0.9zM205.4,393.7h0.9v0.9h-0.9zM204.9,396.7h0.9v0.9h-0.9zM202.4,398.8h0.9v0.9h-0.9zM201.6,399.2h0.9v0.9h-0.9zM202.9,397.3h0.9v0.9h-0.9zM197.1,401.9h0.9v0.9h-0.9zM200.3,401.1h0.9v0.9h-0.9zM200.6,400.1h0.9v0.9h-0.9zM201.6,400.7h0.9v0.9h-0.9zM191.3,403.3h0.9v0.9h-0.9zM195.8,403.3h0.9v0.9h-0.9zM188.5,403.5h0.9v0.9h-0.9zM190.1,403.6h0.9v0.9h-0.9zM189.7,404.2h0.9v0.9h-0.9zM188.7,404.0h0.9v0.9h-0.9zM176.5,403.1h0.9v0.9h-0.9zM180.3,402.7h0.9v0.9h-0.9zM186.9,404.4h0.9v0.9h-0.9zM176.8,402.0h0.9v0.9h-0.9zM180.9,402.9h0.9v0.9h-0.9zM186.8,404.0h0.9v0.9h-0.9zM185.2,403.3h0.9v0.9h-0.9zM179.2,402.3h0.9v0.9h-0.9zM169.4,402.5h0.9v0.9h-0.9zM175.1,402.5h0.9v0.9h-0.9zM175.3,402.1h0.9v0.9h-0.9zM173.7,403.0h0.9v0.9h-0.9zM165.4,401.8h0.9v0.9h-0.9zM170.2,401.6h0.9v0.9h-0.9zM172.0,401.6h0.9v0.9h-0.9zM164.8,401.6h0.9v0.9h-0.9zM159.1,403.7h0.9v0.9h-0.9zM158.6,403.6h0.9v0.9h-0.9zM163.7,401.6h0.9v0.9h-0.9zM163.7,402.6h0.9v0.9h-0.9zM149.5,407.6h0.9v0.9h-0.9zM154.0,406.7h0.9v0.9h-0.9zM153.5,406.7h0.9v0.9h-0.9zM154.7,405.5h0.9v0.9h-0.9zM150.9,407.6h0.9v0.9h-0.9zM153.5,405.8h0.9v0.9h-0.9zM148.7,408.8h0.9v0.9h-0.9zM148.2,408.6h0.9v0.9h-0.9zM146.9,408.3h0.9v0.9h-0.9zM141.1,409.7h0.9v0.9h-0.9zM142.1,409.6h0.9v0.9h-0.9zM145.1,408.6h0.9v0.9h-0.9zM143.5,409.2h0.9v0.9h-0.9zM144.2,408.1h0.9v0.9h-0.9zM126.0,406.3h0.9v0.9h-0.9zM136.3,408.9h0.9v0.9h-0.9zM129.5,406.6h0.9v0.9h-0.9zM131.0,407.2h0.9v0.9h-0.9zM133.7,408.1h0.9v0.9h-0.9zM126.3,405.6h0.9v0.9h-0.9zM130.7,407.3h0.9v0.9h-0.9zM133.4,407.6h0.9v0.9h-0.9zM119.3,402.3h0.9v0.9h-0.9zM123.9,405.1h0.9v0.9h-0.9zM118.3,401.3h0.9v0.9h-0.9zM117.8,401.6h0.9v0.9h-0.9zM125.9,405.8h0.9v0.9h-0.9zM118.6,402.2h0.9v0.9h-0.9zM113.3,395.1h0.9v0.9h-0.9zM113.0,394.2h0.9v0.9h-0.9zM116.4,400.5h0.9v0.9h-0.9zM116.2,398.4h0.9v0.9h-0.9zM117.3,401.2h0.9v0.9h-0.9zM115.4,397.9h0.9v0.9h-0.9zM116.9,399.0h0.9v0.9h-0.9zM109.0,388.5h0.9v0.9h-0.9zM109.7,388.6h0.9v0.9h-0.9zM111.5,391.3h0.9v0.9h-0.9zM109.4,388.1h0.9v0.9h-0.9zM108.5,385.0h0.9v0.9h-0.9zM109.7,383.9h0.9v0.9h-0.9zM108.7,382.9h0.9v0.9h-0.9zM108.4,382.2h0.9v0.9h-0.9zM106.8,375.6h0.9v0.9h-0.9zM109.2,380.7h0.9v0.9h-0.9zM106.2,374.6h0.9v0.9h-0.9zM107.2,378.3h0.9v0.9h-0.9zM106.4,376.0h0.9v0.9h-0.9zM103.4,373.1h0.9v0.9h-0.9zM104.2,372.5h0.9v0.9h-0.9zM102.1,371.7h0.9v0.9h-0.9zM105.5,373.8h0.9v0.9h-0.9zM97.9,371.2h0.9v0.9h-0.9zM98.4,371.2h0.9v0.9h-0.9zM93.9,372.0h0.9v0.9h-0.9zM92.5,371.6h0.9v0.9h-0.9zM93.1,372.3h0.9v0.9h-0.9zM83.8,375.4h0.9v0.9h-0.9zM87.2,372.9h0.9v0.9h-0.9zM84.3,374.4h0.9v0.9h-0.9zM86.7,374.1h0.9v0.9h-0.9zM87.1,374.2h0.9v0.9h-0.9zM88.9,373.7h0.9v0.9h-0.9zM78.4,378.2h0.9v0.9h-0.9zM80.9,376.4h0.9v0.9h-0.9zM79.6,376.8h0.9v0.9h-0.9zM76.9,378.3h0.9v0.9h-0.9zM80.8,376.9h0.9v0.9h-0.9zM74.5,380.4h0.9v0.9h-0.9zM73.5,383.0h0.9v0.9h-0.9zM72.6,384.9h0.9v0.9h-0.9zM73.9,382.7h0.9v0.9h-0.9zM75.2,381.5h0.9v0.9h-0.9zM72.1,393.0h0.9v0.9h-0.9zM73.0,392.8h0.9v0.9h-0.9zM72.4,391.8h0.9v0.9h-0.9zM71.8,392.2h0.9v0.9h-0.9zM72.9,393.9h0.9v0.9h-0.9zM73.1,395.3h0.9v0.9h-0.9zM78.1,409.2h0.9v0.9h-0.9zM76.7,404.3h0.9v0.9h-0.9zM77.5,405.8h0.9v0.9h-0.9zM76.1,402.5h0.9v0.9h-0.9zM73.7,400.1h0.9v0.9h-0.9zM73.2,396.9h0.9v0.9h-0.9zM73.8,398.8h0.9v0.9h-0.9zM73.6,397.0h0.9v0.9h-0.9zM75.7,404.5h0.9v0.9h-0.9zM75.4,401.5h0.9v0.9h-0.9zM82.5,415.5h0.9v0.9h-0.9zM81.0,412.6h0.9v0.9h-0.9zM78.7,410.2h0.9v0.9h-0.9zM82.4,413.8h0.9v0.9h-0.9zM79.2,409.4h0.9v0.9h-0.9zM83.0,414.6h0.9v0.9h-0.9zM87.2,418.0h0.9v0.9h-0.9zM88.6,418.6h0.9v0.9h-0.9zM92.6,420.9h0.9v0.9h-0.9zM90.0,419.4h0.9v0.9h-0.9zM86.8,418.2h0.9v0.9h-0.9zM89.9,419.5h0.9v0.9h-0.9zM100.6,420.4h0.9v0.9h-0.9zM97.8,421.1h0.9v0.9h-0.9zM99.7,420.6h0.9v0.9h-0.9zM94.3,420.4h0.9v0.9h-0.9zM98.1,420.5h0.9v0.9h-0.9zM96.6,420.7h0.9v0.9h-0.9zM110.0,417.2h0.9v0.9h-0.9zM111.2,415.9h0.9v0.9h-0.9zM107.9,418.2h0.9v0.9h-0.9zM105.8,419.2h0.9v0.9h-0.9zM104.8,419.3h0.9v0.9h-0.9zM107.0,418.7h0.9v0.9h-0.9zM117.9,414.6h0.9v0.9h-0.9zM117.3,415.0h0.9v0.9h-0.9zM119.4,414.1h0.9v0.9h-0.9zM122.8,414.7h0.9v0.9h-0.9zM114.6,416.0h0.9v0.9h-0.9zM113.7,414.9h0.9v0.9h-0.9zM112.1,415.5h0.9v0.9h-0.9zM118.9,415.1h0.9v0.9h-0.9zM124.1,414.3h0.9v0.9h-0.9zM133.3,415.3h0.9v0.9h-0.9zM127.6,415.6h0.9v0.9h-0.9zM127.7,415.6h0.9v0.9h-0.9zM123.9,413.8h0.9v0.9h-0.9zM131.1,414.8h0.9v0.9h-0.9zM125.7,414.5h0.9v0.9h-0.9zM135.1,415.5h0.9v0.9h-0.9zM128.3,415.7h0.9v0.9h-0.9zM131.8,415.3h0.9v0.9h-0.9zM138.0,416.4h0.9v0.9h-0.9zM142.8,418.2h0.9v0.9h-0.9zM141.3,417.2h0.9v0.9h-0.9zM151.0,419.5h0.9v0.9h-0.9zM145.8,418.1h0.9v0.9h-0.9zM152.0,419.5h0.9v0.9h-0.9zM141.8,417.9h0.9v0.9h-0.9zM147.2,418.5h0.9v0.9h-0.9zM147.9,418.4h0.9v0.9h-0.9zM146.0,419.1h0.9v0.9h-0.9zM155.5,420.3h0.9v0.9h-0.9zM154.7,420.1h0.9v0.9h-0.9zM157.9,422.0h0.9v0.9h-0.9zM154.7,420.1h0.9v0.9h-0.9zM160.5,421.5h0.9v0.9h-0.9zM156.5,420.5h0.9v0.9h-0.9zM156.5,421.0h0.9v0.9h-0.9zM152.3,420.1h0.9v0.9h-0.9zM170.1,423.9h0.9v0.9h-0.9zM165.3,422.9h0.9v0.9h-0.9zM174.8,425.2h0.9v0.9h-0.9zM165.2,422.6h0.9v0.9h-0.9zM170.3,423.6h0.9v0.9h-0.9zM172.9,424.3h0.9v0.9h-0.9zM164.6,423.6h0.9v0.9h-0.9zM170.8,424.7h0.9v0.9h-0.9zM185.0,424.7h0.9v0.9h-0.9zM180.0,425.0h0.9v0.9h-0.9zM180.3,424.9h0.9v0.9h-0.9zM182.6,424.3h0.9v0.9h-0.9zM177.9,424.3h0.9v0.9h-0.9zM184.6,424.0h0.9v0.9h-0.9zM180.8,424.6h0.9v0.9h-0.9zM191.1,423.6h0.9v0.9h-0.9zM194.9,421.2h0.9v0.9h-0.9zM194.2,422.3h0.9v0.9h-0.9zM191.8,422.3h0.9v0.9h-0.9zM187.6,424.5h0.9v0.9h-0.9zM193.5,422.2h0.9v0.9h-0.9zM194.0,421.8h0.9v0.9h-0.9zM190.2,422.4h0.9v0.9h-0.9zM207.6,415.6h0.9v0.9h-0.9zM203.2,418.9h0.9v0.9h-0.9zM201.8,418.3h0.9v0.9h-0.9zM203.4,417.4h0.9v0.9h-0.9zM205.8,417.0h0.9v0.9h-0.9zM205.1,417.1h0.9v0.9h-0.9zM206.5,416.1h0.9v0.9h-0.9zM211.3,412.2h0.9v0.9h-0.9zM214.5,409.6h0.9v0.9h-0.9zM208.9,413.7h0.9v0.9h-0.9zM209.2,413.6h0.9v0.9h-0.9zM216.0,408.2h0.9v0.9h-0.9zM210.6,412.7h0.9v0.9h-0.9zM211.3,411.8h0.9v0.9h-0.9zM218.3,400.3h0.9v0.9h-0.9zM219.7,398.8h0.9v0.9h-0.9zM216.1,407.2h0.9v0.9h-0.9zM217.8,404.6h0.9v0.9h-0.9zM219.1,400.2h0.9v0.9h-0.9zM218.7,400.2h0.9v0.9h-0.9zM219.6,396.5h0.9v0.9h-0.9zM220.6,393.2h0.9v0.9h-0.9zM221.4,387.9h0.9v0.9h-0.9zM220.5,390.6h0.9v0.9h-0.9zM220.2,390.1h0.9v0.9h-0.9zM221.1,390.7h0.9v0.9h-0.9zM220.8,393.4h0.9v0.9h-0.9zM219.6,383.0h0.9v0.9h-0.9zM219.9,382.1h0.9v0.9h-0.9zM220.2,383.7h0.9v0.9h-0.9zM220.1,382.2h0.9v0.9h-0.9zM220.3,385.6h0.9v0.9h-0.9zM214.7,374.1h0.9v0.9h-0.9zM216.3,375.7h0.9v0.9h-0.9zM218.1,378.6h0.9v0.9h-0.9zM212.5,372.2h0.9v0.9h-0.9zM214.0,373.4h0.9v0.9h-0.9zM216.0,376.2h0.9v0.9h-0.9zM212.9,372.8h0.9v0.9h-0.9zM209.2,369.4h0.9v0.9h-0.9zM210.0,370.4h0.9v0.9h-0.9zM209.1,368.3h0.9v0.9h-0.9zM202.9,363.6h0.9v0.9h-0.9zM210.4,369.3h0.9v0.9h-0.9zM208.8,369.4h0.9v0.9h-0.9zM207.5,367.3h0.9v0.9h-0.9zM203.0,363.0h0.9v0.9h-0.9zM190.4,355.5h0.9v0.9h-0.9zM191.2,356.1h0.9v0.9h-0.9zM200.5,361.4h0.9v0.9h-0.9zM190.8,356.0h0.9v0.9h-0.9zM192.4,356.6h0.9v0.9h-0.9zM193.1,356.8h0.9v0.9h-0.9zM195.5,359.7h0.9v0.9h-0.9zM194.7,358.6h0.9v0.9h-0.9zM190.0,356.3h0.9v0.9h-0.9zM196.4,360.0h0.9v0.9h-0.9zM184.7,348.3h0.9v0.9h-0.9zM186.9,351.3h0.9v0.9h-0.9zM186.3,350.9h0.9v0.9h-0.9zM182.6,346.6h0.9v0.9h-0.9zM185.3,349.9h0.9v0.9h-0.9zM188.2,353.1h0.9v0.9h-0.9zM185.5,349.0h0.9v0.9h-0.9zM187.1,351.7h0.9v0.9h-0.9zM188.6,355.3h0.9v0.9h-0.9zM180.3,339.4h0.9v0.9h-0.9zM179.3,337.4h0.9v0.9h-0.9zM178.8,337.1h0.9v0.9h-0.9zM180.9,340.5h0.9v0.9h-0.9zM177.8,333.1h0.9v0.9h-0.9zM177.6,331.3h0.9v0.9h-0.9zM181.6,344.0h0.9v0.9h-0.9zM180.3,339.6h0.9v0.9h-0.9zM181.3,342.4h0.9v0.9h-0.9zM179.9,339.1h0.9v0.9h-0.9zM180.2,342.2h0.9v0.9h-0.9zM177.1,325.0h0.9v0.9h-0.9zM177.0,327.6h0.9v0.9h-0.9zM176.6,313.1h0.9v0.9h-0.9zM177.2,323.4h0.9v0.9h-0.9zM177.1,327.9h0.9v0.9h-0.9zM177.1,311.7h0.9v0.9h-0.9zM176.2,316.3h0.9v0.9h-0.9zM176.3,327.4h0.9v0.9h-0.9zM176.8,314.7h0.9v0.9h-0.9zM177.0,321.1h0.9v0.9h-0.9zM176.5,315.6h0.9v0.9h-0.9zM176.7,311.4h0.9v0.9h-0.9zM176.4,320.0h0.9v0.9h-0.9zM179.2,300.3h0.9v0.9h-0.9zM178.9,300.3h0.9v0.9h-0.9zM177.6,304.4h0.9v0.9h-0.9zM178.5,302.0h0.9v0.9h-0.9zM178.2,301.6h0.9v0.9h-0.9zM178.4,303.7h0.9v0.9h-0.9zM179.3,300.4h0.9v0.9h-0.9zM177.8,301.9h0.9v0.9h-0.9zM182.0,292.4h0.9v0.9h-0.9zM178.7,298.1h0.9v0.9h-0.9zM184.4,288.2h0.9v0.9h-0.9zM183.5,289.2h0.9v0.9h-0.9zM181.8,293.8h0.9v0.9h-0.9zM178.6,298.5h0.9v0.9h-0.9zM179.6,297.6h0.9v0.9h-0.9zM179.2,297.3h0.9v0.9h-0.9zM189.6,279.9h0.9v0.9h-0.9zM189.2,281.3h0.9v0.9h-0.9zM187.5,284.6h0.9v0.9h-0.9zM188.3,281.6h0.9v0.9h-0.9zM186.0,284.7h0.9v0.9h-0.9zM185.2,286.0h0.9v0.9h-0.9zM188.5,281.3h0.9v0.9h-0.9zM191.0,278.9h0.9v0.9h-0.9zM187.1,282.8h0.9v0.9h-0.9zM191.6,276.3h0.9v0.9h-0.9zM193.2,275.1h0.9v0.9h-0.9zM197.4,272.5h0.9v0.9h-0.9zM196.6,273.4h0.9v0.9h-0.9zM198.0,272.0h0.9v0.9h-0.9zM192.3,276.2h0.9v0.9h-0.9zM203.8,269.3h0.9v0.9h-0.9zM210.3,268.0h0.9v0.9h-0.9zM203.7,269.4h0.9v0.9h-0.9zM209.8,267.7h0.9v0.9h-0.9zM200.3,269.8h0.9v0.9h-0.9zM204.7,268.7h0.9v0.9h-0.9zM201.4,269.9h0.9v0.9h-0.9zM206.7,268.5h0.9v0.9h-0.9zM208.8,267.5h0.9v0.9h-0.9zM222.8,262.5h0.9v0.9h-0.9zM217.0,264.3h0.9v0.9h-0.9zM223.2,262.4h0.9v0.9h-0.9zM213.1,265.9h0.9v0.9h-0.9zM217.3,264.2h0.9v0.9h-0.9zM217.1,264.4h0.9v0.9h-0.9zM220.1,264.1h0.9v0.9h-0.9zM218.5,264.7h0.9v0.9h-0.9zM223.0,252.8h0.9v0.9h-0.9zM223.9,255.6h0.9v0.9h-0.9zM223.9,261.2h0.9v0.9h-0.9zM223.2,258.2h0.9v0.9h-0.9zM224.2,257.6h0.9v0.9h-0.9zM222.8,255.1h0.9v0.9h-0.9zM224.0,261.0h0.9v0.9h-0.9zM222.6,251.1h0.9v0.9h-0.9zM222.1,243.8h0.9v0.9h-0.9zM221.5,246.9h0.9v0.9h-0.9zM222.0,247.8h0.9v0.9h-0.9zM222.0,244.7h0.9v0.9h-0.9zM222.2,247.0h0.9v0.9h-0.9zM221.7,246.8h0.9v0.9h-0.9zM221.7,246.6h0.9v0.9h-0.9zM221.1,232.0h0.9v0.9h-0.9zM221.1,237.8h0.9v0.9h-0.9zM220.7,228.3h0.9v0.9h-0.9zM220.8,237.0h0.9v0.9h-0.9zM220.8,228.2h0.9v0.9h-0.9zM220.2,228.3h0.9v0.9h-0.9zM220.6,233.7h0.9v0.9h-0.9zM221.3,237.9h0.9v0.9h-0.9z" fill="#2f8659"/><path d="M210.0,229.4h0.9v0.9h-0.9zM206.6,230.5h0.9v0.9h-0.9zM219.3,228.7h0.9v0.9h-0.9zM210.6,229.6h0.9v0.9h-0.9zM214.2,229.0h0.9v0.9h-0.9zM206.8,231.0h0.9v0.9h-0.9zM182.0,250.3h0.9v0.9h-0.9zM187.5,244.5h0.9v0.9h-0.9zM174.6,262.5h0.9v0.9h-0.9zM163.6,280.1h0.9v0.9h-0.9zM171.2,268.0h0.9v0.9h-0.9zM163.5,280.5h0.9v0.9h-0.9zM161.6,291.4h0.9v0.9h-0.9zM161.8,291.7h0.9v0.9h-0.9zM163.9,281.0h0.9v0.9h-0.9zM161.9,287.2h0.9v0.9h-0.9zM160.9,300.2h0.9v0.9h-0.9zM161.1,312.4h0.9v0.9h-0.9zM162.5,322.8h0.9v0.9h-0.9zM163.1,322.5h0.9v0.9h-0.9zM161.6,315.4h0.9v0.9h-0.9zM162.4,318.6h0.9v0.9h-0.9zM165.9,332.6h0.9v0.9h-0.9zM172.0,344.7h0.9v0.9h-0.9zM175.6,352.5h0.9v0.9h-0.9zM186.9,361.3h0.9v0.9h-0.9zM199.1,368.0h0.9v0.9h-0.9zM194.8,365.8h0.9v0.9h-0.9zM206.6,378.7h0.9v0.9h-0.9zM207.3,389.1h0.9v0.9h-0.9zM200.6,401.9h0.9v0.9h-0.9zM202.0,401.5h0.9v0.9h-0.9zM191.6,404.7h0.9v0.9h-0.9zM186.6,405.0h0.9v0.9h-0.9zM178.8,404.3h0.9v0.9h-0.9zM173.7,403.3h0.9v0.9h-0.9zM164.4,403.9h0.9v0.9h-0.9zM153.7,407.2h0.9v0.9h-0.9zM135.9,410.0h0.9v0.9h-0.9zM117.5,402.1h0.9v0.9h-0.9zM101.6,372.6h0.9v0.9h-0.9zM92.7,372.7h0.9v0.9h-0.9zM86.9,374.6h0.9v0.9h-0.9zM78.8,378.9h0.9v0.9h-0.9zM74.2,385.7h0.9v0.9h-0.9zM73.9,392.0h0.9v0.9h-0.9zM73.6,393.8h0.9v0.9h-0.9zM76.4,401.0h0.9v0.9h-0.9zM83.9,414.4h0.9v0.9h-0.9zM82.0,411.8h0.9v0.9h-0.9zM83.6,414.0h0.9v0.9h-0.9zM90.3,418.5h0.9v0.9h-0.9zM98.0,419.0h0.9v0.9h-0.9zM108.9,415.1h0.9v0.9h-0.9zM110.8,415.1h0.9v0.9h-0.9zM107.2,416.8h0.9v0.9h-0.9zM106.4,417.4h0.9v0.9h-0.9zM122.7,413.4h0.9v0.9h-0.9zM113.6,413.8h0.9v0.9h-0.9zM118.6,413.1h0.9v0.9h-0.9zM127.9,413.5h0.9v0.9h-0.9zM131.1,414.3h0.9v0.9h-0.9zM125.8,413.6h0.9v0.9h-0.9zM141.6,415.7h0.9v0.9h-0.9zM152.3,418.7h0.9v0.9h-0.9zM142.2,416.1h0.9v0.9h-0.9zM147.3,417.9h0.9v0.9h-0.9zM148.1,417.7h0.9v0.9h-0.9zM146.4,417.5h0.9v0.9h-0.9zM154.7,420.0h0.9v0.9h-0.9zM156.8,419.6h0.9v0.9h-0.9zM165.5,421.8h0.9v0.9h-0.9zM165.4,421.8h0.9v0.9h-0.9zM173.2,422.6h0.9v0.9h-0.9zM184.9,422.9h0.9v0.9h-0.9zM179.9,423.5h0.9v0.9h-0.9zM191.4,420.9h0.9v0.9h-0.9zM193.7,421.0h0.9v0.9h-0.9zM207.2,415.0h0.9v0.9h-0.9zM205.0,415.5h0.9v0.9h-0.9zM212.9,408.0h0.9v0.9h-0.9zM208.7,413.5h0.9v0.9h-0.9zM210.8,411.4h0.9v0.9h-0.9zM218.1,400.0h0.9v0.9h-0.9zM219.8,387.7h0.9v0.9h-0.9zM219.3,393.2h0.9v0.9h-0.9zM212.5,374.6h0.9v0.9h-0.9zM215.4,376.7h0.9v0.9h-0.9zM209.6,370.4h0.9v0.9h-0.9zM201.9,364.3h0.9v0.9h-0.9zM192.0,358.6h0.9v0.9h-0.9zM189.4,357.3h0.9v0.9h-0.9zM185.1,351.8h0.9v0.9h-0.9zM183.6,350.4h0.9v0.9h-0.9zM185.8,352.7h0.9v0.9h-0.9zM188.3,355.5h0.9v0.9h-0.9zM176.1,331.8h0.9v0.9h-0.9zM178.6,340.1h0.9v0.9h-0.9zM180.0,342.8h0.9v0.9h-0.9zM176.0,327.6h0.9v0.9h-0.9zM175.3,313.1h0.9v0.9h-0.9zM175.3,314.7h0.9v0.9h-0.9zM177.9,300.0h0.9v0.9h-0.9zM177.7,300.1h0.9v0.9h-0.9zM177.2,304.4h0.9v0.9h-0.9zM176.7,301.7h0.9v0.9h-0.9zM183.6,287.8h0.9v0.9h-0.9zM181.0,293.4h0.9v0.9h-0.9zM178.0,296.8h0.9v0.9h-0.9zM187.7,280.3h0.9v0.9h-0.9zM189.5,277.9h0.9v0.9h-0.9zM191.1,275.7h0.9v0.9h-0.9zM196.1,271.0h0.9v0.9h-0.9zM195.8,272.4h0.9v0.9h-0.9zM209.5,266.7h0.9v0.9h-0.9zM200.2,269.1h0.9v0.9h-0.9zM222.4,255.9h0.9v0.9h-0.9zM222.1,257.9h0.9v0.9h-0.9zM221.1,251.3h0.9v0.9h-0.9zM221.0,247.0h0.9v0.9h-0.9z" fill="#fff"/>
<path d="M222.0,227.0h0.9v0.9h-0.9zM221.9,227.2h0.9v0.9h-0.9zM230.0,226.4h0.9v0.9h-0.9zM225.8,226.4h0.9v0.9h-0.9zM226.6,226.9h0.9v0.9h-0.9zM219.7,227.3h0.9v0.9h-0.9zM226.8,226.9h0.9v0.9h-0.9zM227.5,226.5h0.9v0.9h-0.9zM243.9,230.3h0.9v0.9h-0.9zM233.4,226.6h0.9v0.9h-0.9zM234.6,226.8h0.9v0.9h-0.9zM235.9,227.2h0.9v0.9h-0.9zM237.0,227.6h0.9v0.9h-0.9zM238.6,229.0h0.9v0.9h-0.9zM241.0,228.8h0.9v0.9h-0.9zM233.3,227.1h0.9v0.9h-0.9zM235.7,227.0h0.9v0.9h-0.9zM249.9,239.1h0.9v0.9h-0.9zM249.0,238.2h0.9v0.9h-0.9zM246.4,231.5h0.9v0.9h-0.9zM246.6,233.1h0.9v0.9h-0.9zM248.8,238.0h0.9v0.9h-0.9zM247.9,235.4h0.9v0.9h-0.9zM249.8,237.2h0.9v0.9h-0.9zM252.4,243.5h0.9v0.9h-0.9zM253.3,247.0h0.9v0.9h-0.9zM252.7,243.8h0.9v0.9h-0.9zM254.5,250.3h0.9v0.9h-0.9zM254.7,250.5h0.9v0.9h-0.9zM251.9,242.3h0.9v0.9h-0.9zM251.8,242.6h0.9v0.9h-0.9zM251.8,244.0h0.9v0.9h-0.9zM251.6,240.6h0.9v0.9h-0.9zM255.2,250.3h0.9v0.9h-0.9zM250.7,241.8h0.9v0.9h-0.9zM257.1,268.6h0.9v0.9h-0.9zM256.6,266.7h0.9v0.9h-0.9zM256.8,267.9h0.9v0.9h-0.9zM256.6,268.3h0.9v0.9h-0.9zM256.3,257.5h0.9v0.9h-0.9zM257.3,256.6h0.9v0.9h-0.9zM257.6,267.7h0.9v0.9h-0.9zM256.8,256.0h0.9v0.9h-0.9zM256.7,268.5h0.9v0.9h-0.9zM258.0,280.0h0.9v0.9h-0.9zM257.0,275.9h0.9v0.9h-0.9zM256.6,272.4h0.9v0.9h-0.9zM257.3,276.2h0.9v0.9h-0.9zM257.4,275.5h0.9v0.9h-0.9zM257.7,276.8h0.9v0.9h-0.9zM258.1,275.2h0.9v0.9h-0.9zM257.0,274.0h0.9v0.9h-0.9zM257.5,280.7h0.9v0.9h-0.9zM262.2,291.8h0.9v0.9h-0.9zM258.9,285.0h0.9v0.9h-0.9zM263.3,293.3h0.9v0.9h-0.9zM259.7,286.3h0.9v0.9h-0.9zM258.5,285.7h0.9v0.9h-0.9zM261.9,291.8h0.9v0.9h-0.9zM258.8,284.5h0.9v0.9h-0.9zM260.1,286.4h0.9v0.9h-0.9zM260.0,286.9h0.9v0.9h-0.9zM257.8,283.3h0.9v0.9h-0.9zM258.5,285.0h0.9v0.9h-0.9zM266.6,303.2h0.9v0.9h-0.9zM266.1,302.4h0.9v0.9h-0.9zM267.2,307.8h0.9v0.9h-0.9zM266.2,302.2h0.9v0.9h-0.9zM266.6,302.2h0.9v0.9h-0.9zM265.8,300.7h0.9v0.9h-0.9zM265.3,301.2h0.9v0.9h-0.9zM266.9,304.6h0.9v0.9h-0.9zM266.5,302.8h0.9v0.9h-0.9zM266.7,303.7h0.9v0.9h-0.9zM270.8,318.1h0.9v0.9h-0.9zM267.9,313.4h0.9v0.9h-0.9zM271.3,318.4h0.9v0.9h-0.9zM268.3,312.5h0.9v0.9h-0.9zM269.5,316.7h0.9v0.9h-0.9zM269.1,325.5h0.9v0.9h-0.9zM271.4,320.1h0.9v0.9h-0.9zM269.0,325.3h0.9v0.9h-0.9zM270.0,324.8h0.9v0.9h-0.9zM271.1,320.6h0.9v0.9h-0.9zM265.9,329.2h0.9v0.9h-0.9zM267.3,327.7h0.9v0.9h-0.9zM261.1,332.2h0.9v0.9h-0.9zM261.4,332.7h0.9v0.9h-0.9zM264.3,329.9h0.9v0.9h-0.9zM264.8,329.8h0.9v0.9h-0.9zM266.0,329.3h0.9v0.9h-0.9zM258.7,333.5h0.9v0.9h-0.9zM257.5,333.8h0.9v0.9h-0.9zM253.1,336.7h0.9v0.9h-0.9zM254.8,335.4h0.9v0.9h-0.9zM260.4,332.8h0.9v0.9h-0.9zM252.2,336.1h0.9v0.9h-0.9zM251.1,336.8h0.9v0.9h-0.9zM243.3,339.4h0.9v0.9h-0.9zM250.5,337.5h0.9v0.9h-0.9zM242.6,340.3h0.9v0.9h-0.9zM244.7,338.5h0.9v0.9h-0.9zM240.9,339.7h0.9v0.9h-0.9zM245.1,338.2h0.9v0.9h-0.9zM238.4,340.5h0.9v0.9h-0.9zM244.6,339.6h0.9v0.9h-0.9zM239.5,340.8h0.9v0.9h-0.9zM234.9,341.2h0.9v0.9h-0.9zM230.4,342.4h0.9v0.9h-0.9zM229.6,342.2h0.9v0.9h-0.9zM230.7,342.7h0.9v0.9h-0.9zM237.4,341.0h0.9v0.9h-0.9zM231.3,341.8h0.9v0.9h-0.9zM233.9,341.2h0.9v0.9h-0.9zM226.5,343.2h0.9v0.9h-0.9zM228.6,342.6h0.9v0.9h-0.9zM213.6,343.6h0.9v0.9h-0.9zM217.4,343.2h0.9v0.9h-0.9zM214.5,343.2h0.9v0.9h-0.9zM216.1,343.5h0.9v0.9h-0.9zM220.8,343.7h0.9v0.9h-0.9zM221.0,343.7h0.9v0.9h-0.9zM223.1,343.6h0.9v0.9h-0.9zM219.6,343.9h0.9v0.9h-0.9zM208.6,343.3h0.9v0.9h-0.9zM206.6,343.4h0.9v0.9h-0.9zM212.4,344.4h0.9v0.9h-0.9zM207.2,344.4h0.9v0.9h-0.9zM209.6,344.2h0.9v0.9h-0.9zM204.8,340.9h0.9v0.9h-0.9zM204.8,340.8h0.9v0.9h-0.9zM205.1,340.2h0.9v0.9h-0.9zM205.3,338.0h0.9v0.9h-0.9zM205.3,338.0h0.9v0.9h-0.9zM204.7,342.0h0.9v0.9h-0.9zM219.0,327.4h0.9v0.9h-0.9zM210.6,331.7h0.9v0.9h-0.9zM213.8,329.1h0.9v0.9h-0.9zM211.8,331.3h0.9v0.9h-0.9zM211.3,331.4h0.9v0.9h-0.9zM216.5,328.0h0.9v0.9h-0.9zM211.8,331.6h0.9v0.9h-0.9zM216.0,329.0h0.9v0.9h-0.9zM206.6,333.9h0.9v0.9h-0.9zM212.8,329.6h0.9v0.9h-0.9zM238.6,327.3h0.9v0.9h-0.9zM225.6,327.3h0.9v0.9h-0.9zM230.6,327.5h0.9v0.9h-0.9zM234.4,327.3h0.9v0.9h-0.9zM228.8,327.5h0.9v0.9h-0.9zM238.3,327.6h0.9v0.9h-0.9zM227.7,327.2h0.9v0.9h-0.9zM229.5,327.0h0.9v0.9h-0.9zM235.2,326.6h0.9v0.9h-0.9zM234.0,327.8h0.9v0.9h-0.9zM238.6,327.0h0.9v0.9h-0.9zM237.0,327.1h0.9v0.9h-0.9zM226.4,326.7h0.9v0.9h-0.9zM241.1,329.7h0.9v0.9h-0.9zM240.7,329.7h0.9v0.9h-0.9zM243.4,330.4h0.9v0.9h-0.9zM242.7,330.0h0.9v0.9h-0.9zM245.7,330.1h0.9v0.9h-0.9zM242.7,329.7h0.9v0.9h-0.9zM241.5,329.4h0.9v0.9h-0.9zM252.3,330.3h0.9v0.9h-0.9zM257.3,329.0h0.9v0.9h-0.9zM249.6,331.6h0.9v0.9h-0.9zM255.9,329.5h0.9v0.9h-0.9zM256.2,329.0h0.9v0.9h-0.9zM252.2,330.0h0.9v0.9h-0.9zM260.1,325.2h0.9v0.9h-0.9zM258.4,326.0h0.9v0.9h-0.9zM260.5,323.1h0.9v0.9h-0.9zM259.9,323.7h0.9v0.9h-0.9zM259.8,325.0h0.9v0.9h-0.9zM258.6,325.8h0.9v0.9h-0.9zM261.3,318.4h0.9v0.9h-0.9zM261.7,319.5h0.9v0.9h-0.9zM261.1,319.8h0.9v0.9h-0.9zM261.0,320.4h0.9v0.9h-0.9zM262.2,320.8h0.9v0.9h-0.9zM259.5,315.4h0.9v0.9h-0.9zM258.1,313.2h0.9v0.9h-0.9zM258.8,314.7h0.9v0.9h-0.9zM254.6,310.7h0.9v0.9h-0.9zM256.1,310.7h0.9v0.9h-0.9zM253.3,308.8h0.9v0.9h-0.9zM251.5,308.7h0.9v0.9h-0.9zM251.8,307.4h0.9v0.9h-0.9zM254.6,310.0h0.9v0.9h-0.9zM251.2,308.4h0.9v0.9h-0.9zM248.5,304.0h0.9v0.9h-0.9zM248.0,305.0h0.9v0.9h-0.9zM249.1,305.2h0.9v0.9h-0.9zM247.9,300.1h0.9v0.9h-0.9zM244.7,289.6h0.9v0.9h-0.9zM246.3,296.6h0.9v0.9h-0.9zM246.8,296.3h0.9v0.9h-0.9zM245.1,291.7h0.9v0.9h-0.9zM245.6,291.6h0.9v0.9h-0.9zM246.3,297.1h0.9v0.9h-0.9zM246.1,292.7h0.9v0.9h-0.9zM241.0,285.6h0.9v0.9h-0.9zM243.3,287.4h0.9v0.9h-0.9zM240.0,285.4h0.9v0.9h-0.9zM243.6,287.8h0.9v0.9h-0.9zM243.0,287.1h0.9v0.9h-0.9zM241.1,286.8h0.9v0.9h-0.9zM234.5,278.3h0.9v0.9h-0.9zM233.2,276.4h0.9v0.9h-0.9zM234.6,277.2h0.9v0.9h-0.9zM236.1,280.3h0.9v0.9h-0.9zM232.5,275.7h0.9v0.9h-0.9zM233.4,277.1h0.9v0.9h-0.9zM237.8,281.6h0.9v0.9h-0.9zM227.6,271.0h0.9v0.9h-0.9zM227.6,271.5h0.9v0.9h-0.9zM232.1,275.9h0.9v0.9h-0.9zM230.6,273.6h0.9v0.9h-0.9zM225.6,270.1h0.9v0.9h-0.9zM227.8,271.5h0.9v0.9h-0.9zM224.4,268.7h0.9v0.9h-0.9zM223.5,265.9h0.9v0.9h-0.9zM221.5,263.6h0.9v0.9h-0.9zM221.9,262.1h0.9v0.9h-0.9zM222.4,262.8h0.9v0.9h-0.9zM221.2,249.7h0.9v0.9h-0.9zM220.9,258.0h0.9v0.9h-0.9zM221.5,255.7h0.9v0.9h-0.9zM221.4,252.3h0.9v0.9h-0.9zM221.0,255.4h0.9v0.9h-0.9zM220.7,256.9h0.9v0.9h-0.9zM220.7,250.8h0.9v0.9h-0.9zM221.5,255.7h0.9v0.9h-0.9zM220.3,243.6h0.9v0.9h-0.9zM220.6,240.4h0.9v0.9h-0.9zM219.8,243.1h0.9v0.9h-0.9zM220.4,245.8h0.9v0.9h-0.9zM220.6,242.6h0.9v0.9h-0.9zM220.7,243.4h0.9v0.9h-0.9zM220.7,245.7h0.9v0.9h-0.9zM218.9,228.9h0.9v0.9h-0.9zM219.4,231.6h0.9v0.9h-0.9zM220.0,234.7h0.9v0.9h-0.9zM219.5,235.1h0.9v0.9h-0.9zM219.0,229.7h0.9v0.9h-0.9zM219.9,231.1h0.9v0.9h-0.9zM219.0,233.8h0.9v0.9h-0.9zM218.8,229.0h0.9v0.9h-0.9z" fill="#f69c56"/><path d="M222.1,229.0h0.9v0.9h-0.9zM225.9,228.4h0.9v0.9h-0.9zM227.6,227.9h0.9v0.9h-0.9zM243.6,231.2h0.9v0.9h-0.9zM235.5,228.7h0.9v0.9h-0.9zM238.4,229.7h0.9v0.9h-0.9zM232.9,228.6h0.9v0.9h-0.9zM245.2,233.9h0.9v0.9h-0.9zM251.0,242.9h0.9v0.9h-0.9zM255.3,267.9h0.9v0.9h-0.9zM255.0,256.7h0.9v0.9h-0.9zM255.8,267.7h0.9v0.9h-0.9zM255.2,256.1h0.9v0.9h-0.9zM256.2,275.9h0.9v0.9h-0.9zM255.9,272.4h0.9v0.9h-0.9zM257.2,285.9h0.9v0.9h-0.9zM257.5,286.2h0.9v0.9h-0.9zM258.0,284.9h0.9v0.9h-0.9zM265.0,308.1h0.9v0.9h-0.9zM265.1,301.3h0.9v0.9h-0.9zM265.4,303.0h0.9v0.9h-0.9zM269.0,317.0h0.9v0.9h-0.9zM268.9,320.2h0.9v0.9h-0.9zM266.9,327.1h0.9v0.9h-0.9zM251.8,335.2h0.9v0.9h-0.9zM240.4,338.5h0.9v0.9h-0.9zM238.2,339.8h0.9v0.9h-0.9zM244.1,338.0h0.9v0.9h-0.9zM229.4,340.7h0.9v0.9h-0.9zM231.2,341.1h0.9v0.9h-0.9zM219.5,342.3h0.9v0.9h-0.9zM208.6,342.6h0.9v0.9h-0.9zM212.4,342.9h0.9v0.9h-0.9zM207.3,342.9h0.9v0.9h-0.9zM209.7,342.2h0.9v0.9h-0.9zM205.8,340.4h0.9v0.9h-0.9zM205.9,338.2h0.9v0.9h-0.9zM214.8,331.0h0.9v0.9h-0.9zM216.7,330.3h0.9v0.9h-0.9zM240.6,330.1h0.9v0.9h-0.9zM245.3,331.6h0.9v0.9h-0.9zM252.6,331.1h0.9v0.9h-0.9zM259.8,327.0h0.9v0.9h-0.9zM261.0,325.9h0.9v0.9h-0.9zM262.8,319.2h0.9v0.9h-0.9zM258.9,312.4h0.9v0.9h-0.9zM252.4,307.4h0.9v0.9h-0.9zM247.4,296.1h0.9v0.9h-0.9zM247.8,296.7h0.9v0.9h-0.9zM246.8,292.5h0.9v0.9h-0.9zM241.5,285.2h0.9v0.9h-0.9zM235.9,277.2h0.9v0.9h-0.9zM231.4,272.7h0.9v0.9h-0.9zM225.2,267.8h0.9v0.9h-0.9zM222.7,257.9h0.9v0.9h-0.9zM221.8,243.4h0.9v0.9h-0.9zM221.4,242.6h0.9v0.9h-0.9zM220.4,235.0h0.9v0.9h-0.9zM220.7,233.7h0.9v0.9h-0.9z" fill="#fff"/>
<path d="M184.1,326.6h0.9v0.9h-0.9zM180.5,327.8h0.9v0.9h-0.9zM182.5,326.0h0.9v0.9h-0.9zM178.5,327.2h0.9v0.9h-0.9zM181.3,326.7h0.9v0.9h-0.9zM187.2,326.0h0.9v0.9h-0.9zM186.9,325.7h0.9v0.9h-0.9zM187.9,325.4h0.9v0.9h-0.9zM189.4,325.4h0.9v0.9h-0.9zM190.9,325.7h0.9v0.9h-0.9zM200.5,321.0h0.9v0.9h-0.9zM199.1,321.7h0.9v0.9h-0.9zM198.7,321.8h0.9v0.9h-0.9zM194.3,324.1h0.9v0.9h-0.9zM198.9,321.0h0.9v0.9h-0.9zM197.5,323.2h0.9v0.9h-0.9zM194.4,323.9h0.9v0.9h-0.9zM211.5,315.0h0.9v0.9h-0.9zM211.6,315.4h0.9v0.9h-0.9zM202.8,318.9h0.9v0.9h-0.9zM205.0,318.0h0.9v0.9h-0.9zM211.3,316.0h0.9v0.9h-0.9zM210.5,315.8h0.9v0.9h-0.9zM208.3,316.7h0.9v0.9h-0.9zM210.2,315.8h0.9v0.9h-0.9zM219.1,313.6h0.9v0.9h-0.9zM227.1,313.5h0.9v0.9h-0.9zM217.8,314.5h0.9v0.9h-0.9zM221.4,314.1h0.9v0.9h-0.9zM229.2,313.4h0.9v0.9h-0.9zM214.5,314.9h0.9v0.9h-0.9zM221.0,313.2h0.9v0.9h-0.9zM223.8,313.9h0.9v0.9h-0.9zM225.7,313.9h0.9v0.9h-0.9zM220.8,314.3h0.9v0.9h-0.9zM226.9,312.9h0.9v0.9h-0.9zM220.7,313.3h0.9v0.9h-0.9zM234.6,314.5h0.9v0.9h-0.9zM234.5,315.6h0.9v0.9h-0.9zM232.3,314.0h0.9v0.9h-0.9zM235.1,316.6h0.9v0.9h-0.9zM237.2,317.0h0.9v0.9h-0.9zM238.7,323.7h0.9v0.9h-0.9zM238.0,322.9h0.9v0.9h-0.9zM238.5,319.1h0.9v0.9h-0.9zM238.7,324.8h0.9v0.9h-0.9zM237.8,319.5h0.9v0.9h-0.9zM238.5,321.3h0.9v0.9h-0.9zM237.2,328.3h0.9v0.9h-0.9zM235.0,329.5h0.9v0.9h-0.9zM238.2,328.6h0.9v0.9h-0.9zM235.2,329.7h0.9v0.9h-0.9zM236.5,328.5h0.9v0.9h-0.9zM230.5,329.6h0.9v0.9h-0.9zM219.1,332.5h0.9v0.9h-0.9zM224.3,330.8h0.9v0.9h-0.9zM227.5,331.0h0.9v0.9h-0.9zM220.9,331.3h0.9v0.9h-0.9zM222.7,331.7h0.9v0.9h-0.9zM224.5,331.6h0.9v0.9h-0.9zM224.2,331.5h0.9v0.9h-0.9zM218.6,331.7h0.9v0.9h-0.9zM219.1,332.3h0.9v0.9h-0.9zM207.1,336.1h0.9v0.9h-0.9zM214.9,333.2h0.9v0.9h-0.9zM211.6,333.3h0.9v0.9h-0.9zM211.6,333.5h0.9v0.9h-0.9zM207.5,336.1h0.9v0.9h-0.9zM206.6,335.7h0.9v0.9h-0.9zM215.5,332.6h0.9v0.9h-0.9zM203.1,335.8h0.9v0.9h-0.9zM202.9,336.3h0.9v0.9h-0.9zM201.9,335.7h0.9v0.9h-0.9zM202.1,335.6h0.9v0.9h-0.9zM201.7,335.3h0.9v0.9h-0.9zM200.0,335.9h0.9v0.9h-0.9zM192.6,333.7h0.9v0.9h-0.9zM196.4,334.6h0.9v0.9h-0.9zM194.8,334.6h0.9v0.9h-0.9zM191.5,333.7h0.9v0.9h-0.9zM185.6,332.4h0.9v0.9h-0.9zM187.2,332.9h0.9v0.9h-0.9zM185.7,331.6h0.9v0.9h-0.9zM196.7,334.7h0.9v0.9h-0.9zM184.5,331.6h0.9v0.9h-0.9zM182.0,330.5h0.9v0.9h-0.9zM181.5,331.3h0.9v0.9h-0.9zM180.8,330.6h0.9v0.9h-0.9zM180.2,329.9h0.9v0.9h-0.9z" fill="#825c92"/><path d="M180.7,328.4h0.9v0.9h-0.9zM187.0,326.6h0.9v0.9h-0.9zM197.5,323.3h0.9v0.9h-0.9zM211.1,317.8h0.9v0.9h-0.9zM229.4,314.8h0.9v0.9h-0.9zM214.6,316.2h0.9v0.9h-0.9zM225.8,314.7h0.9v0.9h-0.9zM220.8,314.7h0.9v0.9h-0.9zM236.2,318.1h0.9v0.9h-0.9zM237.7,324.0h0.9v0.9h-0.9zM236.5,319.5h0.9v0.9h-0.9zM230.4,328.8h0.9v0.9h-0.9zM227.3,329.4h0.9v0.9h-0.9zM224.3,330.3h0.9v0.9h-0.9zM207.0,335.0h0.9v0.9h-0.9zM206.1,334.4h0.9v0.9h-0.9zM203.2,334.2h0.9v0.9h-0.9zM203.1,334.0h0.9v0.9h-0.9zM202.0,334.4h0.9v0.9h-0.9zM186.0,330.4h0.9v0.9h-0.9zM185.0,330.2h0.9v0.9h-0.9zM182.2,329.5h0.9v0.9h-0.9zM181.3,329.1h0.9v0.9h-0.9z" fill="#fff"/>
<path d="M181.4,287.9h1.0v1.0h-1.0zM197.7,253.4h1.0v1.0h-1.0zM201.6,240.8h1.0v1.0h-1.0zM211.6,253.2h1.0v1.0h-1.0zM197.4,244.3h1.0v1.0h-1.0zM190.0,272.3h1.0v1.0h-1.0zM215.1,253.3h1.0v1.0h-1.0zM211.0,251.4h1.0v1.0h-1.0zM179.4,271.7h1.0v1.0h-1.0zM213.2,250.8h1.0v1.0h-1.0zM193.2,263.3h1.0v1.0h-1.0zM195.2,264.8h1.0v1.0h-1.0zM184.2,281.8h1.0v1.0h-1.0zM176.7,297.3h1.0v1.0h-1.0zM210.8,264.0h1.0v1.0h-1.0zM191.5,254.3h1.0v1.0h-1.0zM215.6,247.8h1.0v1.0h-1.0zM176.8,296.7h1.0v1.0h-1.0zM213.7,239.5h1.0v1.0h-1.0zM185.9,257.5h1.0v1.0h-1.0zM193.6,248.5h1.0v1.0h-1.0zM214.3,258.9h1.0v1.0h-1.0zM199.1,256.5h1.0v1.0h-1.0zM201.5,255.0h1.0v1.0h-1.0zM217.0,245.6h1.0v1.0h-1.0zM205.0,245.1h1.0v1.0h-1.0zM199.4,260.1h1.0v1.0h-1.0zM197.2,252.2h1.0v1.0h-1.0zM176.5,293.6h1.0v1.0h-1.0zM192.2,259.0h1.0v1.0h-1.0zM216.7,257.9h1.0v1.0h-1.0zM219.0,243.0h1.0v1.0h-1.0zM176.6,297.4h1.0v1.0h-1.0zM177.0,297.4h1.0v1.0h-1.0zM198.3,265.1h1.0v1.0h-1.0zM192.8,252.6h1.0v1.0h-1.0zM195.4,253.5h1.0v1.0h-1.0zM192.0,272.5h1.0v1.0h-1.0zM177.6,272.0h1.0v1.0h-1.0zM188.5,259.2h1.0v1.0h-1.0zM192.3,246.6h1.0v1.0h-1.0zM200.1,241.5h1.0v1.0h-1.0zM207.3,251.1h1.0v1.0h-1.0zM206.2,255.3h1.0v1.0h-1.0zM219.2,260.0h1.0v1.0h-1.0zM180.9,287.3h1.0v1.0h-1.0zM183.1,280.9h1.0v1.0h-1.0zM186.8,264.3h1.0v1.0h-1.0zM187.0,248.8h1.0v1.0h-1.0zM192.0,256.2h1.0v1.0h-1.0zM175.2,297.1h1.0v1.0h-1.0zM175.4,281.7h1.0v1.0h-1.0zM207.1,253.8h1.0v1.0h-1.0zM191.3,245.8h1.0v1.0h-1.0zM182.5,266.1h1.0v1.0h-1.0zM200.0,252.6h1.0v1.0h-1.0zM177.4,303.9h1.0v1.0h-1.0zM211.9,261.2h1.0v1.0h-1.0zM186.4,262.3h1.0v1.0h-1.0zM216.2,240.9h1.0v1.0h-1.0zM206.0,249.9h1.0v1.0h-1.0zM177.3,298.4h1.0v1.0h-1.0zM190.4,276.0h1.0v1.0h-1.0zM203.7,248.7h1.0v1.0h-1.0zM206.1,252.0h1.0v1.0h-1.0zM211.6,236.4h1.0v1.0h-1.0zM204.5,247.8h1.0v1.0h-1.0zM215.8,251.2h1.0v1.0h-1.0zM215.9,263.0h1.0v1.0h-1.0zM182.1,276.5h1.0v1.0h-1.0zM212.6,263.0h1.0v1.0h-1.0zM204.7,254.7h1.0v1.0h-1.0zM194.1,264.2h1.0v1.0h-1.0zM197.0,255.7h1.0v1.0h-1.0zM199.3,270.4h1.0v1.0h-1.0zM175.2,298.0h1.0v1.0h-1.0zM197.5,270.6h1.0v1.0h-1.0zM191.5,254.5h1.0v1.0h-1.0zM218.1,250.6h1.0v1.0h-1.0zM203.9,246.6h1.0v1.0h-1.0zM213.4,255.6h1.0v1.0h-1.0zM206.3,258.0h1.0v1.0h-1.0zM184.0,251.2h1.0v1.0h-1.0zM191.2,250.2h1.0v1.0h-1.0zM191.1,261.8h1.0v1.0h-1.0zM195.3,252.3h1.0v1.0h-1.0zM177.7,272.7h1.0v1.0h-1.0zM189.2,260.5h1.0v1.0h-1.0zM199.2,244.3h1.0v1.0h-1.0zM199.4,242.0h1.0v1.0h-1.0zM185.1,281.1h1.0v1.0h-1.0zM201.3,249.3h1.0v1.0h-1.0zM218.0,241.6h1.0v1.0h-1.0zM181.4,261.4h1.0v1.0h-1.0zM178.9,285.8h1.0v1.0h-1.0zM194.7,253.1h1.0v1.0h-1.0zM200.2,263.2h1.0v1.0h-1.0zM183.0,273.1h1.0v1.0h-1.0zM188.1,260.6h1.0v1.0h-1.0zM193.9,250.7h1.0v1.0h-1.0zM215.2,261.1h1.0v1.0h-1.0zM205.5,253.0h1.0v1.0h-1.0zM191.5,256.8h1.0v1.0h-1.0zM214.1,246.6h1.0v1.0h-1.0zM215.7,254.2h1.0v1.0h-1.0zM221.3,260.4h1.0v1.0h-1.0zM181.5,265.6h1.0v1.0h-1.0zM203.5,256.2h1.0v1.0h-1.0zM192.0,245.9h1.0v1.0h-1.0zM175.8,283.9h1.0v1.0h-1.0z" fill="#fff"/>
<path d="M225.6,235.8h1.0v1.0h-1.0zM235.8,243.9h1.0v1.0h-1.0zM234.7,265.1h1.0v1.0h-1.0zM236.6,264.8h1.0v1.0h-1.0zM240.9,252.7h1.0v1.0h-1.0zM228.3,238.3h1.0v1.0h-1.0zM240.2,252.5h1.0v1.0h-1.0zM236.9,253.5h1.0v1.0h-1.0zM228.4,259.6h1.0v1.0h-1.0zM242.5,254.9h1.0v1.0h-1.0zM236.2,238.2h1.0v1.0h-1.0zM232.6,250.1h1.0v1.0h-1.0zM230.5,255.3h1.0v1.0h-1.0zM229.7,252.5h1.0v1.0h-1.0zM228.0,252.9h1.0v1.0h-1.0zM233.4,247.1h1.0v1.0h-1.0zM236.3,250.5h1.0v1.0h-1.0zM229.3,247.0h1.0v1.0h-1.0zM230.3,235.0h1.0v1.0h-1.0zM233.5,244.1h1.0v1.0h-1.0zM228.7,244.4h1.0v1.0h-1.0zM233.3,260.2h1.0v1.0h-1.0zM235.7,238.8h1.0v1.0h-1.0zM230.5,261.3h1.0v1.0h-1.0zM240.1,249.4h1.0v1.0h-1.0zM233.0,252.5h1.0v1.0h-1.0zM231.9,257.7h1.0v1.0h-1.0zM235.7,244.2h1.0v1.0h-1.0zM238.8,261.0h1.0v1.0h-1.0zM234.9,265.4h1.0v1.0h-1.0zM235.5,243.8h1.0v1.0h-1.0zM225.3,256.4h1.0v1.0h-1.0zM231.1,241.2h1.0v1.0h-1.0zM229.3,235.8h1.0v1.0h-1.0zM226.3,240.7h1.0v1.0h-1.0zM227.6,235.0h1.0v1.0h-1.0zM231.8,239.0h1.0v1.0h-1.0zM229.1,258.0h1.0v1.0h-1.0zM226.0,249.1h1.0v1.0h-1.0zM229.9,258.5h1.0v1.0h-1.0zM237.3,248.2h1.0v1.0h-1.0zM227.0,239.8h1.0v1.0h-1.0zM227.4,233.8h1.0v1.0h-1.0zM236.1,237.2h1.0v1.0h-1.0zM241.1,254.8h1.0v1.0h-1.0zM232.2,232.6h1.0v1.0h-1.0zM235.4,267.0h1.0v1.0h-1.0zM233.3,236.5h1.0v1.0h-1.0zM229.0,262.6h1.0v1.0h-1.0zM229.9,254.5h1.0v1.0h-1.0zM225.4,260.4h1.0v1.0h-1.0zM241.1,251.4h1.0v1.0h-1.0zM229.5,262.0h1.0v1.0h-1.0zM232.8,238.3h1.0v1.0h-1.0zM227.6,237.2h1.0v1.0h-1.0zM240.0,249.9h1.0v1.0h-1.0zM236.8,260.9h1.0v1.0h-1.0zM230.4,263.0h1.0v1.0h-1.0zM238.3,245.4h1.0v1.0h-1.0zM235.9,238.5h1.0v1.0h-1.0z" fill="#fff"/>
<path d="M176.6,337.3h0.9v0.9h-0.9zM172.2,314.2h0.9v0.9h-0.9zM171.4,301.3h0.9v0.9h-0.9zM167.0,315.1h0.9v0.9h-0.9zM167.4,315.6h0.9v0.9h-0.9zM173.8,314.1h0.9v0.9h-0.9zM171.2,327.9h0.9v0.9h-0.9zM169.2,298.1h0.9v0.9h-0.9zM174.7,321.5h0.9v0.9h-0.9zM173.1,322.9h0.9v0.9h-0.9zM172.0,324.6h0.9v0.9h-0.9zM168.6,299.3h0.9v0.9h-0.9zM170.7,327.1h0.9v0.9h-0.9zM172.2,315.2h0.9v0.9h-0.9zM166.9,309.8h0.9v0.9h-0.9zM166.0,299.9h0.9v0.9h-0.9zM165.1,307.7h0.9v0.9h-0.9zM172.0,331.7h0.9v0.9h-0.9zM168.9,311.8h0.9v0.9h-0.9zM168.3,309.0h0.9v0.9h-0.9zM174.7,319.7h0.9v0.9h-0.9zM167.9,300.3h0.9v0.9h-0.9zM174.7,326.7h0.9v0.9h-0.9zM171.6,336.0h0.9v0.9h-0.9zM172.3,337.2h0.9v0.9h-0.9zM165.3,313.9h0.9v0.9h-0.9zM175.0,337.3h0.9v0.9h-0.9zM167.1,298.9h0.9v0.9h-0.9zM170.6,304.2h0.9v0.9h-0.9zM176.7,337.4h0.9v0.9h-0.9z" fill="#fff"/>
<path d="M113.2,403.5h0.9v0.9h-0.9zM101.8,399.3h0.9v0.9h-0.9zM113.5,401.7h0.9v0.9h-0.9zM107.3,404.2h0.9v0.9h-0.9zM104.7,390.2h0.9v0.9h-0.9zM109.5,391.7h0.9v0.9h-0.9zM99.1,385.0h0.9v0.9h-0.9zM112.2,402.5h0.9v0.9h-0.9zM113.9,405.7h0.9v0.9h-0.9zM100.9,386.1h0.9v0.9h-0.9zM108.1,399.3h0.9v0.9h-0.9zM102.9,398.3h0.9v0.9h-0.9zM103.3,398.6h0.9v0.9h-0.9zM107.9,403.3h0.9v0.9h-0.9zM103.1,387.2h0.9v0.9h-0.9zM110.2,393.4h0.9v0.9h-0.9zM105.7,384.0h0.9v0.9h-0.9zM107.5,390.4h0.9v0.9h-0.9zM107.4,401.7h0.9v0.9h-0.9zM113.2,402.8h0.9v0.9h-0.9zM109.4,397.0h0.9v0.9h-0.9zM106.6,392.5h0.9v0.9h-0.9zM102.4,390.1h0.9v0.9h-0.9zM104.0,391.0h0.9v0.9h-0.9zM117.5,402.5h0.9v0.9h-0.9zM103.3,396.1h0.9v0.9h-0.9zM111.5,405.2h0.9v0.9h-0.9zM103.4,392.1h0.9v0.9h-0.9zM107.4,386.9h0.9v0.9h-0.9zM109.8,400.1h0.9v0.9h-0.9zM101.6,386.1h0.9v0.9h-0.9zM101.8,386.4h0.9v0.9h-0.9zM102.7,398.0h0.9v0.9h-0.9zM103.0,390.2h0.9v0.9h-0.9zM114.0,397.8h0.9v0.9h-0.9z" fill="#fff"/>
<path d="M245.2,280.3h0.9v0.9h-0.9zM248.9,290.1h0.9v0.9h-0.9zM247.4,286.0h0.9v0.9h-0.9zM252.4,284.1h0.9v0.9h-0.9zM243.7,275.2h0.9v0.9h-0.9zM249.7,272.0h0.9v0.9h-0.9zM251.9,287.6h0.9v0.9h-0.9zM240.4,275.6h0.9v0.9h-0.9zM248.9,289.1h0.9v0.9h-0.9zM249.1,286.8h0.9v0.9h-0.9zM250.7,286.4h0.9v0.9h-0.9zM248.5,298.1h0.9v0.9h-0.9zM253.4,285.6h0.9v0.9h-0.9zM250.1,277.2h0.9v0.9h-0.9zM253.1,281.8h0.9v0.9h-0.9zM241.0,274.1h0.9v0.9h-0.9zM259.0,296.0h0.9v0.9h-0.9zM244.4,274.7h0.9v0.9h-0.9zM253.2,288.5h0.9v0.9h-0.9zM249.5,280.2h0.9v0.9h-0.9zM250.4,285.6h0.9v0.9h-0.9zM254.5,285.2h0.9v0.9h-0.9zM248.7,297.7h0.9v0.9h-0.9zM255.1,289.4h0.9v0.9h-0.9zM253.0,277.6h0.9v0.9h-0.9z" fill="#fff"/>
<path d="M249.9,308.3h1.1v1.1h-1.1zM242.3,317.9h1.1v1.1h-1.1zM240.2,322.1h1.1v1.1h-1.1zM249.0,315.5h1.1v1.1h-1.1zM241.3,317.8h1.1v1.1h-1.1zM244.5,323.3h1.1v1.1h-1.1zM243.6,316.5h1.1v1.1h-1.1zM239.6,317.9h1.1v1.1h-1.1zM247.3,323.0h1.1v1.1h-1.1zM251.4,313.6h1.1v1.1h-1.1zM251.3,308.3h1.1v1.1h-1.1zM251.8,309.5h1.1v1.1h-1.1zM252.6,312.7h1.1v1.1h-1.1zM245.4,315.9h1.1v1.1h-1.1zM247.1,320.6h1.1v1.1h-1.1zM240.1,313.2h1.1v1.1h-1.1zM244.6,322.2h1.1v1.1h-1.1zM247.1,306.0h1.1v1.1h-1.1zM249.3,317.4h1.1v1.1h-1.1zM240.0,305.8h1.1v1.1h-1.1zM242.8,305.4h1.1v1.1h-1.1zM244.3,325.2h1.1v1.1h-1.1zM244.3,314.7h1.1v1.1h-1.1zM240.1,317.1h1.1v1.1h-1.1zM246.1,317.4h1.1v1.1h-1.1zM239.7,313.8h1.1v1.1h-1.1zM243.5,313.7h1.1v1.1h-1.1zM240.3,307.5h1.1v1.1h-1.1zM240.8,318.1h1.1v1.1h-1.1zM249.0,313.6h1.1v1.1h-1.1zM248.5,316.6h1.1v1.1h-1.1zM245.0,305.9h1.1v1.1h-1.1zM243.7,306.9h1.1v1.1h-1.1zM245.1,322.8h1.1v1.1h-1.1zM249.2,315.8h1.1v1.1h-1.1zM248.6,321.0h1.1v1.1h-1.1zM241.5,309.3h1.1v1.1h-1.1zM240.4,310.2h1.1v1.1h-1.1zM245.5,308.7h1.1v1.1h-1.1zM240.9,308.6h1.1v1.1h-1.1zM250.1,306.9h1.1v1.1h-1.1zM249.7,304.4h1.1v1.1h-1.1zM248.2,319.8h1.1v1.1h-1.1zM247.0,322.5h1.1v1.1h-1.1zM240.2,315.1h1.1v1.1h-1.1z" fill="#f69c56"/>
<path d="M241.9,324.1h1.1v1.1h-1.1zM238.8,318.2h1.1v1.1h-1.1zM241.2,312.9h1.1v1.1h-1.1zM243.8,325.4h1.1v1.1h-1.1zM242.9,323.3h1.1v1.1h-1.1zM238.0,322.5h1.1v1.1h-1.1zM238.8,323.2h1.1v1.1h-1.1zM242.5,320.9h1.1v1.1h-1.1zM236.4,318.5h1.1v1.1h-1.1zM238.5,324.9h1.1v1.1h-1.1zM244.8,325.4h1.1v1.1h-1.1zM240.8,314.5h1.1v1.1h-1.1z" fill="#825c92"/>
<path d="M114.8,331.5 L116,334 L117,336.4" fill="none" stroke="#e9b538" stroke-width="0.9"/>
<path d="M158.3,381 L154.8,385.4 L152.2,385.8 M154.8,385.4 L158.3,390.7 L160.9,390.7" fill="none" stroke="#878787" stroke-width="0.9"/>
<path d="M13.7,397 L13.7,431 L48.5,431" fill="none" stroke="#333" stroke-width="1.1"/>
<path d="M10.8,397.4 L13.7,390.7 L16.5,397.4 Z M48,428.2 L54.2,431 L48,433.8 Z" fill="#111"/>
<text transform="translate(8.8,414) rotate(-90)" font-size="9.7" text-anchor="middle" fill="#1a1a1a">UMAP2</text>
<text x="14.3" y="442.7" font-size="9.5" font-weight="normal" text-anchor="start" fill="#1a1a1a" >UMAP1</text>
<text x="0.0" y="476.3" font-size="18" font-weight="bold" text-anchor="start" fill="#1a1a1a" >c</text>
<rect x="86.6" y="466.8" width="546.4" height="115.9" fill="none"/>
<rect x="86.6" y="466.8" width="546.9" height="215.7" fill="none" stroke="#8a8a8a" stroke-width="1.1"/>
<line x1="83" y1="480.2" x2="86.6" y2="480.2" stroke="#555" stroke-width="0.8"/>
<text x="82" y="483.59999999999997" font-size="9.8" font-weight="normal" text-anchor="end" fill="#1a1a1a" >S'gonia</text>
<circle cx="93.3" cy="480.2" r="4.4" fill="#9e2431"/>
<circle cx="105.5" cy="480.2" r="4.65" fill="#9e2431"/>
<circle cx="117.6" cy="480.2" r="4.2" fill="#a82a35"/>
<circle cx="129.7" cy="480.2" r="3.4" fill="#9e2431"/>
<circle cx="141.8" cy="480.2" r="4.5" fill="#9e2431"/>
<circle cx="153.9" cy="480.2" r="1.0" fill="#5b9bc9"/>
<circle cx="166.0" cy="480.2" r="0.8" fill="#f5efa0"/>
<circle cx="178.1" cy="480.2" r="1.8" fill="#85bad8"/>
<circle cx="190.2" cy="480.2" r="2.1" fill="#85bad8"/>
<circle cx="202.3" cy="480.2" r="2.6" fill="#4a80b8"/>
<circle cx="214.4" cy="480.2" r="1.1" fill="#4a80b8"/>
<circle cx="226.5" cy="480.2" r="0.7" fill="#5b9bc9"/>
<circle cx="238.6" cy="480.2" r="1.6" fill="#62a0cb"/>
<circle cx="250.7" cy="480.2" r="1.6" fill="#62a0cb"/>
<circle cx="262.8" cy="480.2" r="1.1" fill="#5b9bc9"/>
<circle cx="274.9" cy="480.2" r="1.0" fill="#85bad8"/>
<circle cx="287.0" cy="480.2" r="2.1" fill="#62a0cb"/>
<circle cx="299.1" cy="480.2" r="0.7" fill="#5b9bc9"/>
<circle cx="311.2" cy="480.2" r="1.0" fill="#5b9bc9"/>
<circle cx="323.3" cy="480.2" r="1.1" fill="#5b9bc9"/>
<circle cx="335.4" cy="480.2" r="0.7" fill="#5b9bc9"/>
<circle cx="347.5" cy="480.2" r="1.8" fill="#85bad8"/>
<circle cx="359.6" cy="480.2" r="1.0" fill="#5b9bc9"/>
<circle cx="371.7" cy="480.2" r="0.7" fill="#5b9bc9"/>
<circle cx="383.8" cy="480.2" r="0.7" fill="#5b9bc9"/>
<circle cx="395.9" cy="480.2" r="1.0" fill="#5b9bc9"/>
<circle cx="408.0" cy="480.2" r="1.0" fill="#5b9bc9"/>
<circle cx="420.1" cy="480.2" r="1.1" fill="#5b9bc9"/>
<circle cx="432.2" cy="480.2" r="3.5" fill="#85bad8"/>
<circle cx="444.3" cy="480.2" r="1.1" fill="#5b9bc9"/>
<circle cx="456.4" cy="480.2" r="0.7" fill="#5b9bc9"/>
<circle cx="468.5" cy="480.2" r="0.7" fill="#5b9bc9"/>
<circle cx="480.6" cy="480.2" r="0.7" fill="#5b9bc9"/>
<circle cx="492.7" cy="480.2" r="0.7" fill="#5b9bc9"/>
<circle cx="504.9" cy="480.2" r="0.7" fill="#5b9bc9"/>
<circle cx="517.0" cy="480.2" r="4.8" fill="#e6efc8"/>
<circle cx="529.1" cy="480.2" r="0.7" fill="#5b9bc9"/>
<circle cx="541.2" cy="480.2" r="0.7" fill="#5b9bc9"/>
<circle cx="553.3" cy="480.2" r="0.7" fill="#5b9bc9"/>
<circle cx="565.4" cy="480.2" r="0.7" fill="#5b9bc9"/>
<circle cx="577.5" cy="480.2" r="1.3" fill="#4a80b8"/>
<circle cx="589.6" cy="480.2" r="0.7" fill="#5b9bc9"/>
<circle cx="601.7" cy="480.2" r="0.7" fill="#5b9bc9"/>
<circle cx="613.8" cy="480.2" r="0.7" fill="#5b9bc9"/>
<circle cx="625.9" cy="480.2" r="0.7" fill="#5b9bc9"/>
<line x1="83" y1="503.8" x2="86.6" y2="503.8" stroke="#555" stroke-width="0.8"/>
<text x="82" y="507.18999999999994" font-size="9.8" font-weight="normal" text-anchor="end" fill="#1a1a1a" >S'cyte</text>
<circle cx="93.3" cy="503.8" r="0.7" fill="#5b9bc9"/>
<circle cx="105.5" cy="503.8" r="1.45" fill="#d0ecf0"/>
<circle cx="117.6" cy="503.8" r="2.6" fill="#f5d78e"/>
<circle cx="129.7" cy="503.8" r="1.3" fill="#d0ecf0"/>
<circle cx="141.8" cy="503.8" r="2.25" fill="#e6efc8"/>
<circle cx="153.9" cy="503.8" r="1.9" fill="#9e2431"/>
<circle cx="166.0" cy="503.8" r="1.0" fill="#9e2431"/>
<circle cx="178.1" cy="503.8" r="3.5" fill="#9e2431"/>
<circle cx="190.2" cy="503.8" r="3.5" fill="#9e2431"/>
<circle cx="202.3" cy="503.8" r="4.5" fill="#c8262e"/>
<circle cx="214.4" cy="503.8" r="3.4" fill="#dc4b3a"/>
<circle cx="226.5" cy="503.8" r="0.7" fill="#5b9bc9"/>
<circle cx="238.6" cy="503.8" r="3.2" fill="#85bad8"/>
<circle cx="250.7" cy="503.8" r="3.2" fill="#85bad8"/>
<circle cx="262.8" cy="503.8" r="2.25" fill="#85bad8"/>
<circle cx="274.9" cy="503.8" r="0.7" fill="#5b9bc9"/>
<circle cx="287.0" cy="503.8" r="1.9" fill="#62a0cb"/>
<circle cx="299.1" cy="503.8" r="0.7" fill="#5b9bc9"/>
<circle cx="311.2" cy="503.8" r="0.7" fill="#5b9bc9"/>
<circle cx="323.3" cy="503.8" r="0.7" fill="#5b9bc9"/>
<circle cx="335.4" cy="503.8" r="0.7" fill="#5b9bc9"/>
<circle cx="347.5" cy="503.8" r="1.3" fill="#5b9bc9"/>
<circle cx="359.6" cy="503.8" r="0.7" fill="#5b9bc9"/>
<circle cx="371.7" cy="503.8" r="0.7" fill="#5b9bc9"/>
<circle cx="383.8" cy="503.8" r="0.7" fill="#5b9bc9"/>
<circle cx="395.9" cy="503.8" r="0.7" fill="#5b9bc9"/>
<circle cx="408.0" cy="503.8" r="0.7" fill="#5b9bc9"/>
<circle cx="420.1" cy="503.8" r="1.1" fill="#5b9bc9"/>
<circle cx="432.2" cy="503.8" r="2.6" fill="#85bad8"/>
<circle cx="444.3" cy="503.8" r="0.7" fill="#5b9bc9"/>
<circle cx="456.4" cy="503.8" r="0.7" fill="#5b9bc9"/>
<circle cx="468.5" cy="503.8" r="0.7" fill="#5b9bc9"/>
<circle cx="480.6" cy="503.8" r="1.0" fill="#5b9bc9"/>
<circle cx="492.7" cy="503.8" r="0.7" fill="#5b9bc9"/>
<circle cx="504.9" cy="503.8" r="0.7" fill="#5b9bc9"/>
<circle cx="517.0" cy="503.8" r="2.9" fill="#9fcfe3"/>
<circle cx="529.1" cy="503.8" r="0.7" fill="#5b9bc9"/>
<circle cx="541.2" cy="503.8" r="0.7" fill="#5b9bc9"/>
<circle cx="553.3" cy="503.8" r="0.7" fill="#5b9bc9"/>
<circle cx="565.4" cy="503.8" r="0.7" fill="#5b9bc9"/>
<circle cx="577.5" cy="503.8" r="1.0" fill="#4a80b8"/>
<circle cx="589.6" cy="503.8" r="0.7" fill="#5b9bc9"/>
<circle cx="601.7" cy="503.8" r="0.7" fill="#5b9bc9"/>
<circle cx="613.8" cy="503.8" r="0.7" fill="#5b9bc9"/>
<circle cx="625.9" cy="503.8" r="0.7" fill="#5b9bc9"/>
<line x1="83" y1="527.4" x2="86.6" y2="527.4" stroke="#555" stroke-width="0.8"/>
<text x="82" y="530.78" font-size="9.8" font-weight="normal" text-anchor="end" fill="#1a1a1a" >S'tid</text>
<circle cx="93.3" cy="527.4" r="0.7" fill="#5b9bc9"/>
<circle cx="105.5" cy="527.4" r="1.1" fill="#4a80b8"/>
<circle cx="117.6" cy="527.4" r="1.1" fill="#4a80b8"/>
<circle cx="129.7" cy="527.4" r="0.7" fill="#5b9bc9"/>
<circle cx="141.8" cy="527.4" r="0.7" fill="#5b9bc9"/>
<circle cx="153.9" cy="527.4" r="1.3" fill="#d5ede0"/>
<circle cx="166.0" cy="527.4" r="0.7" fill="#5b9bc9"/>
<circle cx="178.1" cy="527.4" r="1.6" fill="#85bad8"/>
<circle cx="190.2" cy="527.4" r="1.6" fill="#85bad8"/>
<circle cx="202.3" cy="527.4" r="3.85" fill="#f7c274"/>
<circle cx="214.4" cy="527.4" r="3.5" fill="#f59d5c"/>
<circle cx="226.5" cy="527.4" r="2.4" fill="#9e2431"/>
<circle cx="238.6" cy="527.4" r="5.0" fill="#9e2431"/>
<circle cx="250.7" cy="527.4" r="5.0" fill="#9e2431"/>
<circle cx="262.8" cy="527.4" r="4.8" fill="#9e2431"/>
<circle cx="274.9" cy="527.4" r="0.7" fill="#5b9bc9"/>
<circle cx="287.0" cy="527.4" r="1.0" fill="#5b9bc9"/>
<circle cx="299.1" cy="527.4" r="0.7" fill="#5b9bc9"/>
<circle cx="311.2" cy="527.4" r="0.7" fill="#5b9bc9"/>
<circle cx="323.3" cy="527.4" r="0.7" fill="#5b9bc9"/>
<circle cx="335.4" cy="527.4" r="0.7" fill="#5b9bc9"/>
<circle cx="347.5" cy="527.4" r="0.7" fill="#5b9bc9"/>
<circle cx="359.6" cy="527.4" r="0.7" fill="#5b9bc9"/>
<circle cx="371.7" cy="527.4" r="1.3" fill="#85bad8"/>
<circle cx="383.8" cy="527.4" r="0.7" fill="#5b9bc9"/>
<circle cx="395.9" cy="527.4" r="0.7" fill="#5b9bc9"/>
<circle cx="408.0" cy="527.4" r="0.7" fill="#5b9bc9"/>
<circle cx="420.1" cy="527.4" r="0.7" fill="#5b9bc9"/>
<circle cx="432.2" cy="527.4" r="1.8" fill="#62a0cb"/>
<circle cx="444.3" cy="527.4" r="0.7" fill="#5b9bc9"/>
<circle cx="456.4" cy="527.4" r="0.7" fill="#5b9bc9"/>
<circle cx="468.5" cy="527.4" r="0.7" fill="#5b9bc9"/>
<circle cx="480.6" cy="527.4" r="0.7" fill="#5b9bc9"/>
<circle cx="492.7" cy="527.4" r="0.7" fill="#5b9bc9"/>
<circle cx="504.9" cy="527.4" r="0.7" fill="#5b9bc9"/>
<circle cx="517.0" cy="527.4" r="0.8" fill="#3b3f95"/>
<circle cx="529.1" cy="527.4" r="0.7" fill="#5b9bc9"/>
<circle cx="541.2" cy="527.4" r="0.7" fill="#5b9bc9"/>
<circle cx="553.3" cy="527.4" r="0.7" fill="#5b9bc9"/>
<circle cx="565.4" cy="527.4" r="0.7" fill="#5b9bc9"/>
<circle cx="577.5" cy="527.4" r="0.7" fill="#5b9bc9"/>
<circle cx="589.6" cy="527.4" r="0.7" fill="#5b9bc9"/>
<circle cx="601.7" cy="527.4" r="0.7" fill="#5b9bc9"/>
<circle cx="613.8" cy="527.4" r="0.7" fill="#5b9bc9"/>
<circle cx="625.9" cy="527.4" r="0.7" fill="#5b9bc9"/>
<line x1="83" y1="551.0" x2="86.6" y2="551.0" stroke="#555" stroke-width="0.8"/>
<text x="82" y="554.37" font-size="9.8" font-weight="normal" text-anchor="end" fill="#1a1a1a" >Sertoli cell</text>
<circle cx="93.3" cy="551.0" r="0.7" fill="#5b9bc9"/>
<circle cx="105.5" cy="551.0" r="1.9" fill="#9fcfe3"/>
<circle cx="117.6" cy="551.0" r="0.7" fill="#5b9bc9"/>
<circle cx="129.7" cy="551.0" r="1.0" fill="#5b9bc9"/>
<circle cx="141.8" cy="551.0" r="0.7" fill="#5b9bc9"/>
<circle cx="153.9" cy="551.0" r="0.7" fill="#5b9bc9"/>
<circle cx="166.0" cy="551.0" r="0.7" fill="#5b9bc9"/>
<circle cx="178.1" cy="551.0" r="0.7" fill="#5b9bc9"/>
<circle cx="190.2" cy="551.0" r="0.7" fill="#5b9bc9"/>
<circle cx="202.3" cy="551.0" r="1.45" fill="#85bad8"/>
<circle cx="214.4" cy="551.0" r="1.1" fill="#5b9bc9"/>
<circle cx="226.5" cy="551.0" r="0.7" fill="#5b9bc9"/>
<circle cx="238.6" cy="551.0" r="2.1" fill="#85bad8"/>
<circle cx="250.7" cy="551.0" r="2.1" fill="#85bad8"/>
<circle cx="262.8" cy="551.0" r="1.8" fill="#85bad8"/>
<circle cx="274.9" cy="551.0" r="3.05" fill="#9e2431"/>
<circle cx="287.0" cy="551.0" r="5.0" fill="#9e2431"/>
<circle cx="299.1" cy="551.0" r="2.6" fill="#c8262e"/>
<circle cx="311.2" cy="551.0" r="4.2" fill="#9e2431"/>
<circle cx="323.3" cy="551.0" r="1.0" fill="#5b9bc9"/>
<circle cx="335.4" cy="551.0" r="1.0" fill="#5b9bc9"/>
<circle cx="347.5" cy="551.0" r="0.7" fill="#5b9bc9"/>
<circle cx="359.6" cy="551.0" r="0.7" fill="#5b9bc9"/>
<circle cx="371.7" cy="551.0" r="0.7" fill="#5b9bc9"/>
<circle cx="383.8" cy="551.0" r="0.7" fill="#5b9bc9"/>
<circle cx="395.9" cy="551.0" r="1.3" fill="#5b9bc9"/>
<circle cx="408.0" cy="551.0" r="1.6" fill="#62a0cb"/>
<circle cx="420.1" cy="551.0" r="1.1" fill="#5b9bc9"/>
<circle cx="432.2" cy="551.0" r="3.7" fill="#85bad8"/>
<circle cx="444.3" cy="551.0" r="0.7" fill="#5b9bc9"/>
<circle cx="456.4" cy="551.0" r="0.7" fill="#5b9bc9"/>
<circle cx="468.5" cy="551.0" r="0.7" fill="#5b9bc9"/>
<circle cx="480.6" cy="551.0" r="0.7" fill="#5b9bc9"/>
<circle cx="492.7" cy="551.0" r="0.7" fill="#5b9bc9"/>
<circle cx="504.9" cy="551.0" r="0.7" fill="#5b9bc9"/>
<circle cx="517.0" cy="551.0" r="2.7" fill="#4a80b8"/>
<circle cx="529.1" cy="551.0" r="0.7" fill="#5b9bc9"/>
<circle cx="541.2" cy="551.0" r="0.7" fill="#5b9bc9"/>
<circle cx="553.3" cy="551.0" r="0.7" fill="#5b9bc9"/>
<circle cx="565.4" cy="551.0" r="0.7" fill="#5b9bc9"/>
<circle cx="577.5" cy="551.0" r="1.8" fill="#62a0cb"/>
<circle cx="589.6" cy="551.0" r="0.7" fill="#5b9bc9"/>
<circle cx="601.7" cy="551.0" r="0.7" fill="#5b9bc9"/>
<circle cx="613.8" cy="551.0" r="0.7" fill="#5b9bc9"/>
<circle cx="625.9" cy="551.0" r="0.7" fill="#5b9bc9"/>
<line x1="83" y1="574.6" x2="86.6" y2="574.6" stroke="#555" stroke-width="0.8"/>
<text x="82" y="577.9599999999999" font-size="9.8" font-weight="normal" text-anchor="end" fill="#1a1a1a" >Myoid/stromal cell</text>
<circle cx="93.3" cy="574.6" r="0.7" fill="#5b9bc9"/>
<circle cx="105.5" cy="574.6" r="0.9" fill="#5b9bc9"/>
<circle cx="117.6" cy="574.6" r="0.9" fill="#5b9bc9"/>
<circle cx="129.7" cy="574.6" r="0.9" fill="#5b9bc9"/>
<circle cx="141.8" cy="574.6" r="0.7" fill="#5b9bc9"/>
<circle cx="153.9" cy="574.6" r="0.7" fill="#5b9bc9"/>
<circle cx="166.0" cy="574.6" r="0.7" fill="#5b9bc9"/>
<circle cx="178.1" cy="574.6" r="0.7" fill="#5b9bc9"/>
<circle cx="190.2" cy="574.6" r="0.7" fill="#5b9bc9"/>
<circle cx="202.3" cy="574.6" r="1.6" fill="#85bad8"/>
<circle cx="214.4" cy="574.6" r="1.45" fill="#85bad8"/>
<circle cx="226.5" cy="574.6" r="0.7" fill="#5b9bc9"/>
<circle cx="238.6" cy="574.6" r="2.4" fill="#85bad8"/>
<circle cx="250.7" cy="574.6" r="2.4" fill="#85bad8"/>
<circle cx="262.8" cy="574.6" r="1.6" fill="#85bad8"/>
<circle cx="274.9" cy="574.6" r="0.7" fill="#5b9bc9"/>
<circle cx="287.0" cy="574.6" r="2.9" fill="#c3e3ee"/>
<circle cx="299.1" cy="574.6" r="0.7" fill="#5b9bc9"/>
<circle cx="311.2" cy="574.6" r="1.45" fill="#85bad8"/>
<circle cx="323.3" cy="574.6" r="5.0" fill="#9e2431"/>
<circle cx="335.4" cy="574.6" r="5.0" fill="#9e2431"/>
<circle cx="347.5" cy="574.6" r="5.0" fill="#9e2431"/>
<circle cx="359.6" cy="574.6" r="3.2" fill="#9e2431"/>
<circle cx="371.7" cy="574.6" r="1.9" fill="#9e2431"/>
<circle cx="383.8" cy="574.6" r="1.9" fill="#9e2431"/>
<circle cx="395.9" cy="574.6" r="0.7" fill="#5b9bc9"/>
<circle cx="408.0" cy="574.6" r="1.3" fill="#5b9bc9"/>
<circle cx="420.1" cy="574.6" r="1.0" fill="#5b9bc9"/>
<circle cx="432.2" cy="574.6" r="3.05" fill="#85bad8"/>
<circle cx="444.3" cy="574.6" r="0.7" fill="#5b9bc9"/>
<circle cx="456.4" cy="574.6" r="0.7" fill="#5b9bc9"/>
<circle cx="468.5" cy="574.6" r="0.7" fill="#5b9bc9"/>
<circle cx="480.6" cy="574.6" r="1.9" fill="#e6efc8"/>
<circle cx="492.7" cy="574.6" r="1.0" fill="#f59d5c"/>
<circle cx="504.9" cy="574.6" r="0.7" fill="#5b9bc9"/>
<circle cx="517.0" cy="574.6" r="4.35" fill="#dc4b3a"/>
<circle cx="529.1" cy="574.6" r="0.7" fill="#5b9bc9"/>
<circle cx="541.2" cy="574.6" r="0.7" fill="#5b9bc9"/>
<circle cx="553.3" cy="574.6" r="0.7" fill="#5b9bc9"/>
<circle cx="565.4" cy="574.6" r="1.0" fill="#5b9bc9"/>
<circle cx="577.5" cy="574.6" r="1.8" fill="#9fcfe3"/>
<circle cx="589.6" cy="574.6" r="0.7" fill="#5b9bc9"/>
<circle cx="601.7" cy="574.6" r="0.7" fill="#5b9bc9"/>
<circle cx="613.8" cy="574.6" r="0.7" fill="#5b9bc9"/>
<circle cx="625.9" cy="574.6" r="0.7" fill="#5b9bc9"/>
<line x1="83" y1="598.1" x2="86.6" y2="598.1" stroke="#555" stroke-width="0.8"/>
<text x="82" y="601.55" font-size="9.8" font-weight="normal" text-anchor="end" fill="#1a1a1a" >Leydig cell</text>
<circle cx="93.3" cy="598.1" r="0.7" fill="#5b9bc9"/>
<circle cx="105.5" cy="598.1" r="0.7" fill="#5b9bc9"/>
<circle cx="117.6" cy="598.1" r="1.0" fill="#5b9bc9"/>
<circle cx="129.7" cy="598.1" r="1.0" fill="#5b9bc9"/>
<circle cx="141.8" cy="598.1" r="0.7" fill="#5b9bc9"/>
<circle cx="153.9" cy="598.1" r="0.7" fill="#5b9bc9"/>
<circle cx="166.0" cy="598.1" r="0.7" fill="#5b9bc9"/>
<circle cx="178.1" cy="598.1" r="0.7" fill="#5b9bc9"/>
<circle cx="190.2" cy="598.1" r="0.7" fill="#5b9bc9"/>
<circle cx="202.3" cy="598.1" r="1.8" fill="#4a80b8"/>
<circle cx="214.4" cy="598.1" r="1.45" fill="#4a80b8"/>
<circle cx="226.5" cy="598.1" r="0.7" fill="#5b9bc9"/>
<circle cx="238.6" cy="598.1" r="2.6" fill="#85bad8"/>
<circle cx="250.7" cy="598.1" r="2.6" fill="#85bad8"/>
<circle cx="262.8" cy="598.1" r="1.9" fill="#85bad8"/>
<circle cx="274.9" cy="598.1" r="0.7" fill="#5b9bc9"/>
<circle cx="287.0" cy="598.1" r="1.8" fill="#62a0cb"/>
<circle cx="299.1" cy="598.1" r="0.7" fill="#5b9bc9"/>
<circle cx="311.2" cy="598.1" r="2.6" fill="#c3e3ee"/>
<circle cx="323.3" cy="598.1" r="0.7" fill="#5b9bc9"/>
<circle cx="335.4" cy="598.1" r="1.8" fill="#62a0cb"/>
<circle cx="347.5" cy="598.1" r="1.0" fill="#5b9bc9"/>
<circle cx="359.6" cy="598.1" r="0.7" fill="#5b9bc9"/>
<circle cx="371.7" cy="598.1" r="0.7" fill="#5b9bc9"/>
<circle cx="383.8" cy="598.1" r="0.7" fill="#5b9bc9"/>
<circle cx="395.9" cy="598.1" r="5.0" fill="#9e2431"/>
<circle cx="408.0" cy="598.1" r="5.0" fill="#9e2431"/>
<circle cx="420.1" cy="598.1" r="4.65" fill="#9e2431"/>
<circle cx="432.2" cy="598.1" r="5.1" fill="#9e2431"/>
<circle cx="444.3" cy="598.1" r="0.7" fill="#5b9bc9"/>
<circle cx="456.4" cy="598.1" r="1.45" fill="#85bad8"/>
<circle cx="468.5" cy="598.1" r="0.7" fill="#5b9bc9"/>
<circle cx="480.6" cy="598.1" r="0.7" fill="#5b9bc9"/>
<circle cx="492.7" cy="598.1" r="0.7" fill="#5b9bc9"/>
<circle cx="504.9" cy="598.1" r="0.7" fill="#5b9bc9"/>
<circle cx="517.0" cy="598.1" r="2.7" fill="#4a80b8"/>
<circle cx="529.1" cy="598.1" r="0.7" fill="#5b9bc9"/>
<circle cx="541.2" cy="598.1" r="0.7" fill="#5b9bc9"/>
<circle cx="553.3" cy="598.1" r="0.7" fill="#5b9bc9"/>
<circle cx="565.4" cy="598.1" r="0.7" fill="#5b9bc9"/>
<circle cx="577.5" cy="598.1" r="2.6" fill="#b2dbe9"/>
<circle cx="589.6" cy="598.1" r="0.7" fill="#5b9bc9"/>
<circle cx="601.7" cy="598.1" r="0.7" fill="#5b9bc9"/>
<circle cx="613.8" cy="598.1" r="0.7" fill="#5b9bc9"/>
<circle cx="625.9" cy="598.1" r="0.7" fill="#5b9bc9"/>
<line x1="83" y1="621.7" x2="86.6" y2="621.7" stroke="#555" stroke-width="0.8"/>
<text x="82" y="625.14" font-size="9.8" font-weight="normal" text-anchor="end" fill="#1a1a1a" >Vascular cell</text>
<circle cx="93.3" cy="621.7" r="0.7" fill="#5b9bc9"/>
<circle cx="105.5" cy="621.7" r="0.7" fill="#5b9bc9"/>
<circle cx="117.6" cy="621.7" r="1.0" fill="#5b9bc9"/>
<circle cx="129.7" cy="621.7" r="1.0" fill="#5b9bc9"/>
<circle cx="141.8" cy="621.7" r="0.7" fill="#5b9bc9"/>
<circle cx="153.9" cy="621.7" r="0.7" fill="#5b9bc9"/>
<circle cx="166.0" cy="621.7" r="0.7" fill="#5b9bc9"/>
<circle cx="178.1" cy="621.7" r="0.7" fill="#5b9bc9"/>
<circle cx="190.2" cy="621.7" r="0.7" fill="#5b9bc9"/>
<circle cx="202.3" cy="621.7" r="1.3" fill="#3d6eae"/>
<circle cx="214.4" cy="621.7" r="1.1" fill="#4a80b8"/>
<circle cx="226.5" cy="621.7" r="0.7" fill="#5b9bc9"/>
<circle cx="238.6" cy="621.7" r="1.6" fill="#62a0cb"/>
<circle cx="250.7" cy="621.7" r="1.6" fill="#62a0cb"/>
<circle cx="262.8" cy="621.7" r="1.1" fill="#5b9bc9"/>
<circle cx="274.9" cy="621.7" r="0.7" fill="#5b9bc9"/>
<circle cx="287.0" cy="621.7" r="2.1" fill="#85bad8"/>
<circle cx="299.1" cy="621.7" r="2.1" fill="#f7c274"/>
<circle cx="311.2" cy="621.7" r="1.6" fill="#62a0cb"/>
<circle cx="323.3" cy="621.7" r="1.8" fill="#62a0cb"/>
<circle cx="335.4" cy="621.7" r="1.9" fill="#85bad8"/>
<circle cx="347.5" cy="621.7" r="1.0" fill="#5b9bc9"/>
<circle cx="359.6" cy="621.7" r="1.8" fill="#c3e3ee"/>
<circle cx="371.7" cy="621.7" r="1.1" fill="#c3e3ee"/>
<circle cx="383.8" cy="621.7" r="0.7" fill="#5b9bc9"/>
<circle cx="395.9" cy="621.7" r="1.1" fill="#5b9bc9"/>
<circle cx="408.0" cy="621.7" r="1.3" fill="#5b9bc9"/>
<circle cx="420.1" cy="621.7" r="1.0" fill="#5b9bc9"/>
<circle cx="432.2" cy="621.7" r="3.2" fill="#85bad8"/>
<circle cx="444.3" cy="621.7" r="4.0" fill="#9e2431"/>
<circle cx="456.4" cy="621.7" r="4.5" fill="#9e2431"/>
<circle cx="468.5" cy="621.7" r="4.5" fill="#9e2431"/>
<circle cx="480.6" cy="621.7" r="3.85" fill="#9e2431"/>
<circle cx="492.7" cy="621.7" r="1.1" fill="#c8262e"/>
<circle cx="504.9" cy="621.7" r="2.1" fill="#9e2431"/>
<circle cx="517.0" cy="621.7" r="4.0" fill="#f7c274"/>
<circle cx="529.1" cy="621.7" r="0.7" fill="#5b9bc9"/>
<circle cx="541.2" cy="621.7" r="0.7" fill="#5b9bc9"/>
<circle cx="553.3" cy="621.7" r="0.7" fill="#5b9bc9"/>
<circle cx="565.4" cy="621.7" r="0.7" fill="#5b9bc9"/>
<circle cx="577.5" cy="621.7" r="2.6" fill="#d8eedb"/>
<circle cx="589.6" cy="621.7" r="1.9" fill="#d8eedb"/>
<circle cx="601.7" cy="621.7" r="0.7" fill="#5b9bc9"/>
<circle cx="613.8" cy="621.7" r="0.7" fill="#5b9bc9"/>
<circle cx="625.9" cy="621.7" r="0.7" fill="#5b9bc9"/>
<line x1="83" y1="645.3" x2="86.6" y2="645.3" stroke="#555" stroke-width="0.8"/>
<text x="82" y="648.7299999999999" font-size="9.8" font-weight="normal" text-anchor="end" fill="#1a1a1a" >Macrophage</text>
<circle cx="93.3" cy="645.3" r="0.7" fill="#5b9bc9"/>
<circle cx="105.5" cy="645.3" r="1.0" fill="#5b9bc9"/>
<circle cx="117.6" cy="645.3" r="1.0" fill="#5b9bc9"/>
<circle cx="129.7" cy="645.3" r="1.1" fill="#5b9bc9"/>
<circle cx="141.8" cy="645.3" r="0.7" fill="#5b9bc9"/>
<circle cx="153.9" cy="645.3" r="0.7" fill="#5b9bc9"/>
<circle cx="166.0" cy="645.3" r="0.7" fill="#5b9bc9"/>
<circle cx="178.1" cy="645.3" r="0.7" fill="#5b9bc9"/>
<circle cx="190.2" cy="645.3" r="0.7" fill="#5b9bc9"/>
<circle cx="202.3" cy="645.3" r="1.6" fill="#4a80b8"/>
<circle cx="214.4" cy="645.3" r="1.3" fill="#4a80b8"/>
<circle cx="226.5" cy="645.3" r="0.7" fill="#5b9bc9"/>
<circle cx="238.6" cy="645.3" r="2.25" fill="#85bad8"/>
<circle cx="250.7" cy="645.3" r="2.25" fill="#85bad8"/>
<circle cx="262.8" cy="645.3" r="1.6" fill="#85bad8"/>
<circle cx="274.9" cy="645.3" r="0.7" fill="#5b9bc9"/>
<circle cx="287.0" cy="645.3" r="1.9" fill="#62a0cb"/>
<circle cx="299.1" cy="645.3" r="0.7" fill="#5b9bc9"/>
<circle cx="311.2" cy="645.3" r="1.6" fill="#62a0cb"/>
<circle cx="323.3" cy="645.3" r="1.1" fill="#5b9bc9"/>
<circle cx="335.4" cy="645.3" r="1.1" fill="#5b9bc9"/>
<circle cx="347.5" cy="645.3" r="1.1" fill="#5b9bc9"/>
<circle cx="359.6" cy="645.3" r="0.7" fill="#5b9bc9"/>
<circle cx="371.7" cy="645.3" r="0.7" fill="#5b9bc9"/>
<circle cx="383.8" cy="645.3" r="0.7" fill="#5b9bc9"/>
<circle cx="395.9" cy="645.3" r="1.3" fill="#5b9bc9"/>
<circle cx="408.0" cy="645.3" r="1.45" fill="#5b9bc9"/>
<circle cx="420.1" cy="645.3" r="1.1" fill="#5b9bc9"/>
<circle cx="432.2" cy="645.3" r="3.05" fill="#85bad8"/>
<circle cx="444.3" cy="645.3" r="0.7" fill="#5b9bc9"/>
<circle cx="456.4" cy="645.3" r="1.1" fill="#5b9bc9"/>
<circle cx="468.5" cy="645.3" r="0.7" fill="#5b9bc9"/>
<circle cx="480.6" cy="645.3" r="0.7" fill="#5b9bc9"/>
<circle cx="492.7" cy="645.3" r="0.7" fill="#5b9bc9"/>
<circle cx="504.9" cy="645.3" r="0.7" fill="#5b9bc9"/>
<circle cx="517.0" cy="645.3" r="2.7" fill="#4a80b8"/>
<circle cx="529.1" cy="645.3" r="3.85" fill="#f5efa0"/>
<circle cx="541.2" cy="645.3" r="2.4" fill="#9e2431"/>
<circle cx="553.3" cy="645.3" r="3.05" fill="#9e2431"/>
<circle cx="565.4" cy="645.3" r="4.65" fill="#9e2431"/>
<circle cx="577.5" cy="645.3" r="3.7" fill="#9e2431"/>
<circle cx="589.6" cy="645.3" r="2.9" fill="#9e2431"/>
<circle cx="601.7" cy="645.3" r="1.1" fill="#62a0cb"/>
<circle cx="613.8" cy="645.3" r="0.7" fill="#5b9bc9"/>
<circle cx="625.9" cy="645.3" r="0.7" fill="#5b9bc9"/>
<line x1="83" y1="668.9" x2="86.6" y2="668.9" stroke="#555" stroke-width="0.8"/>
<text x="82" y="672.3199999999999" font-size="9.8" font-weight="normal" text-anchor="end" fill="#1a1a1a" >Lymphocyte</text>
<circle cx="93.3" cy="668.9" r="0.7" fill="#5b9bc9"/>
<circle cx="105.5" cy="668.9" r="0.7" fill="#5b9bc9"/>
<circle cx="117.6" cy="668.9" r="1.0" fill="#5b9bc9"/>
<circle cx="129.7" cy="668.9" r="1.0" fill="#5b9bc9"/>
<circle cx="141.8" cy="668.9" r="1.0" fill="#5b9bc9"/>
<circle cx="153.9" cy="668.9" r="0.7" fill="#5b9bc9"/>
<circle cx="166.0" cy="668.9" r="0.7" fill="#5b9bc9"/>
<circle cx="178.1" cy="668.9" r="0.7" fill="#5b9bc9"/>
<circle cx="190.2" cy="668.9" r="0.7" fill="#5b9bc9"/>
<circle cx="202.3" cy="668.9" r="1.6" fill="#85bad8"/>
<circle cx="214.4" cy="668.9" r="1.45" fill="#85bad8"/>
<circle cx="226.5" cy="668.9" r="0.7" fill="#5b9bc9"/>
<circle cx="238.6" cy="668.9" r="2.6" fill="#85bad8"/>
<circle cx="250.7" cy="668.9" r="2.6" fill="#85bad8"/>
<circle cx="262.8" cy="668.9" r="1.8" fill="#85bad8"/>
<circle cx="274.9" cy="668.9" r="0.7" fill="#5b9bc9"/>
<circle cx="287.0" cy="668.9" r="1.8" fill="#62a0cb"/>
<circle cx="299.1" cy="668.9" r="0.7" fill="#5b9bc9"/>
<circle cx="311.2" cy="668.9" r="1.6" fill="#85bad8"/>
<circle cx="323.3" cy="668.9" r="1.0" fill="#5b9bc9"/>
<circle cx="335.4" cy="668.9" r="1.0" fill="#5b9bc9"/>
<circle cx="347.5" cy="668.9" r="0.7" fill="#5b9bc9"/>
<circle cx="359.6" cy="668.9" r="0.7" fill="#5b9bc9"/>
<circle cx="371.7" cy="668.9" r="0.7" fill="#5b9bc9"/>
<circle cx="383.8" cy="668.9" r="0.7" fill="#5b9bc9"/>
<circle cx="395.9" cy="668.9" r="1.1" fill="#5b9bc9"/>
<circle cx="408.0" cy="668.9" r="1.3" fill="#5b9bc9"/>
<circle cx="420.1" cy="668.9" r="1.0" fill="#5b9bc9"/>
<circle cx="432.2" cy="668.9" r="3.05" fill="#85bad8"/>
<circle cx="444.3" cy="668.9" r="0.7" fill="#5b9bc9"/>
<circle cx="456.4" cy="668.9" r="0.7" fill="#5b9bc9"/>
<circle cx="468.5" cy="668.9" r="0.7" fill="#5b9bc9"/>
<circle cx="480.6" cy="668.9" r="0.7" fill="#5b9bc9"/>
<circle cx="492.7" cy="668.9" r="0.7" fill="#5b9bc9"/>
<circle cx="504.9" cy="668.9" r="0.7" fill="#5b9bc9"/>
<circle cx="517.0" cy="668.9" r="2.7" fill="#8fcae0"/>
<circle cx="529.1" cy="668.9" r="4.8" fill="#9e2431"/>
<circle cx="541.2" cy="668.9" r="0.7" fill="#5b9bc9"/>
<circle cx="553.3" cy="668.9" r="0.7" fill="#5b9bc9"/>
<circle cx="565.4" cy="668.9" r="1.0" fill="#5b9bc9"/>
<circle cx="577.5" cy="668.9" r="1.0" fill="#62a0cb"/>
<circle cx="589.6" cy="668.9" r="0.7" fill="#5b9bc9"/>
<circle cx="601.7" cy="668.9" r="3.4" fill="#9e2431"/>
<circle cx="613.8" cy="668.9" r="2.6" fill="#9e2431"/>
<circle cx="625.9" cy="668.9" r="4.0" fill="#9e2431"/>
<text transform="translate(96.8,691.4) rotate(-45)" font-size="6.9" font-style="italic" text-anchor="end" fill="#1a1a1a">UCHL1</text>
<text transform="translate(109.0,691.4) rotate(-45)" font-size="6.9" font-style="italic" text-anchor="end" fill="#1a1a1a">DMRT1</text>
<text transform="translate(121.1,691.4) rotate(-45)" font-size="6.9" font-style="italic" text-anchor="end" fill="#1a1a1a">FANCD2</text>
<text transform="translate(133.2,691.4) rotate(-45)" font-size="6.9" font-style="italic" text-anchor="end" fill="#1a1a1a">MSH2</text>
<text transform="translate(145.3,691.4) rotate(-45)" font-size="6.9" font-style="italic" text-anchor="end" fill="#1a1a1a">FANCI</text>
<text transform="translate(157.4,691.4) rotate(-45)" font-size="6.9" font-style="italic" text-anchor="end" fill="#1a1a1a">STRA8</text>
<text transform="translate(169.5,691.4) rotate(-45)" font-size="6.9" font-style="italic" text-anchor="end" fill="#1a1a1a">SPO11</text>
<text transform="translate(181.6,691.4) rotate(-45)" font-size="6.9" font-style="italic" text-anchor="end" fill="#1a1a1a">MEIOC</text>
<text transform="translate(193.7,691.4) rotate(-45)" font-size="6.9" font-style="italic" text-anchor="end" fill="#1a1a1a">SYCP2</text>
<text transform="translate(205.8,691.4) rotate(-45)" font-size="6.9" font-style="italic" text-anchor="end" fill="#1a1a1a">SYCE3</text>
<text transform="translate(217.9,691.4) rotate(-45)" font-size="6.9" font-style="italic" text-anchor="end" fill="#1a1a1a">SPAG6</text>
<text transform="translate(230.0,691.4) rotate(-45)" font-size="6.9" font-style="italic" text-anchor="end" fill="#1a1a1a">ACRV1</text>
<text transform="translate(242.1,691.4) rotate(-45)" font-size="6.9" font-style="italic" text-anchor="end" fill="#1a1a1a">TNP1</text>
<text transform="translate(254.2,691.4) rotate(-45)" font-size="6.9" font-style="italic" text-anchor="end" fill="#1a1a1a">PRM2</text>
<text transform="translate(266.3,691.4) rotate(-45)" font-size="6.9" font-style="italic" text-anchor="end" fill="#1a1a1a">PRM3</text>
<text transform="translate(278.4,691.4) rotate(-45)" font-size="6.9" font-style="italic" text-anchor="end" fill="#1a1a1a">SOX9</text>
<text transform="translate(290.5,691.4) rotate(-45)" font-size="6.9" font-style="italic" text-anchor="end" fill="#1a1a1a">FATE1</text>
<text transform="translate(302.6,691.4) rotate(-45)" font-size="6.9" font-style="italic" text-anchor="end" fill="#1a1a1a">PRND</text>
<text transform="translate(314.7,691.4) rotate(-45)" font-size="6.9" font-style="italic" text-anchor="end" fill="#1a1a1a">INHA</text>
<text transform="translate(326.8,691.4) rotate(-45)" font-size="6.9" font-style="italic" text-anchor="end" fill="#1a1a1a">COL1A1</text>
<text transform="translate(338.9,691.4) rotate(-45)" font-size="6.9" font-style="italic" text-anchor="end" fill="#1a1a1a">COL3A1</text>
<text transform="translate(351.0,691.4) rotate(-45)" font-size="6.9" font-style="italic" text-anchor="end" fill="#1a1a1a">DCN</text>
<text transform="translate(363.1,691.4) rotate(-45)" font-size="6.9" font-style="italic" text-anchor="end" fill="#1a1a1a">ACTA2</text>
<text transform="translate(375.2,691.4) rotate(-45)" font-size="6.9" font-style="italic" text-anchor="end" fill="#1a1a1a">MYH11</text>
<text transform="translate(387.3,691.4) rotate(-45)" font-size="6.9" font-style="italic" text-anchor="end" fill="#1a1a1a">CYP26B1</text>
<text transform="translate(399.4,691.4) rotate(-45)" font-size="6.9" font-style="italic" text-anchor="end" fill="#1a1a1a">CYP11A1</text>
<text transform="translate(411.5,691.4) rotate(-45)" font-size="6.9" font-style="italic" text-anchor="end" fill="#1a1a1a">CYP17A1</text>
<text transform="translate(423.6,691.4) rotate(-45)" font-size="6.9" font-style="italic" text-anchor="end" fill="#1a1a1a">STAR</text>
<text transform="translate(435.7,691.4) rotate(-45)" font-size="6.9" font-style="italic" text-anchor="end" fill="#1a1a1a">INSL3</text>
<text transform="translate(447.8,691.4) rotate(-45)" font-size="6.9" font-style="italic" text-anchor="end" fill="#1a1a1a">VWF</text>
<text transform="translate(459.9,691.4) rotate(-45)" font-size="6.9" font-style="italic" text-anchor="end" fill="#1a1a1a">PECAM1</text>
<text transform="translate(472.0,691.4) rotate(-45)" font-size="6.9" font-style="italic" text-anchor="end" fill="#1a1a1a">CD93</text>
<text transform="translate(484.1,691.4) rotate(-45)" font-size="6.9" font-style="italic" text-anchor="end" fill="#1a1a1a">CD34</text>
<text transform="translate(496.2,691.4) rotate(-45)" font-size="6.9" font-style="italic" text-anchor="end" fill="#1a1a1a">NOTCH3</text>
<text transform="translate(508.4,691.4) rotate(-45)" font-size="6.9" font-style="italic" text-anchor="end" fill="#1a1a1a">RGS5</text>
<text transform="translate(520.5,691.4) rotate(-45)" font-size="6.9" font-style="italic" text-anchor="end" fill="#1a1a1a">ITGB1</text>
<text transform="translate(532.6,691.4) rotate(-45)" font-size="6.9" font-style="italic" text-anchor="end" fill="#1a1a1a">PTPRC</text>
<text transform="translate(544.7,691.4) rotate(-45)" font-size="6.9" font-style="italic" text-anchor="end" fill="#1a1a1a">CD163</text>
<text transform="translate(556.8,691.4) rotate(-45)" font-size="6.9" font-style="italic" text-anchor="end" fill="#1a1a1a">C1QB</text>
<text transform="translate(568.9,691.4) rotate(-45)" font-size="6.9" font-style="italic" text-anchor="end" fill="#1a1a1a">TYROBP</text>
<text transform="translate(581.0,691.4) rotate(-45)" font-size="6.9" font-style="italic" text-anchor="end" fill="#1a1a1a">CTSB</text>
<text transform="translate(593.1,691.4) rotate(-45)" font-size="6.9" font-style="italic" text-anchor="end" fill="#1a1a1a">CCL14</text>
<text transform="translate(605.2,691.4) rotate(-45)" font-size="6.9" font-style="italic" text-anchor="end" fill="#1a1a1a">CCL5</text>
<text transform="translate(617.3,691.4) rotate(-45)" font-size="6.9" font-style="italic" text-anchor="end" fill="#1a1a1a">GZMB</text>
<text transform="translate(629.4,691.4) rotate(-45)" font-size="6.9" font-style="italic" text-anchor="end" fill="#1a1a1a">CTSW</text>
<text transform="translate(647.6,540.6) rotate(-90)" font-size="7.8" text-anchor="middle" fill="#1a1a1a">Percent Expressed</text>
<circle cx="658.5" cy="515.6" r="0.35" fill="#000"/>
<text x="668.6" y="517.9" font-size="6.4" font-weight="normal" text-anchor="start" fill="#1a1a1a" >0</text>
<circle cx="658.5" cy="528" r="1.6" fill="#000"/>
<text x="668.6" y="530.3" font-size="6.4" font-weight="normal" text-anchor="start" fill="#1a1a1a" >25</text>
<circle cx="658.5" cy="540" r="2.7" fill="#000"/>
<text x="668.6" y="542.3" font-size="6.4" font-weight="normal" text-anchor="start" fill="#1a1a1a" >50</text>
<circle cx="658.5" cy="552.3" r="3.8" fill="#000"/>
<text x="668.6" y="554.5999999999999" font-size="6.4" font-weight="normal" text-anchor="start" fill="#1a1a1a" >75</text>
<circle cx="658.5" cy="564.5" r="4.9" fill="#000"/>
<text x="668.6" y="566.8" font-size="6.4" font-weight="normal" text-anchor="start" fill="#1a1a1a" >100</text>
<defs><linearGradient id="cb" x1="0" y1="0" x2="0" y2="1"><stop offset="0" stop-color="#a50026"/><stop offset="0.14" stop-color="#d73027"/><stop offset="0.28" stop-color="#f46d43"/><stop offset="0.38" stop-color="#fdae61"/><stop offset="0.47" stop-color="#fee090"/><stop offset="0.58" stop-color="#e0f3f8"/><stop offset="0.69" stop-color="#abd9e9"/><stop offset="0.79" stop-color="#74add1"/><stop offset="0.9" stop-color="#4575b4"/><stop offset="1" stop-color="#313695"/></linearGradient></defs>
<rect x="652.3" y="589.1" width="12.2" height="61.6" fill="url(#cb)" stroke="#333" stroke-width="0.8"/>
<text x="668.9" y="597" font-size="6.6" font-weight="normal" text-anchor="start" fill="#1a1a1a" >High</text>
<text x="668.9" y="649.2" font-size="6.6" font-weight="normal" text-anchor="start" fill="#1a1a1a" >Low</text>
<text transform="translate(646.9,620.4) rotate(-90)" font-size="7.55" text-anchor="middle" fill="#1a1a1a">Scaled Expression</text>
<text x="274.6" y="185.7" font-size="18" font-weight="bold" text-anchor="start" fill="#1a1a1a" >d</text>
<circle cx="302.7" cy="184.8" r="2.7" fill="#65489a"/>
<text x="312.7" y="187.5" font-size="7.6" font-weight="normal" text-anchor="start" fill="#1a1a1a" >PD9</text>
<circle cx="343.8" cy="184.8" r="2.7" fill="#4aa546"/>
<text x="353.8" y="187.5" font-size="7.6" font-weight="normal" text-anchor="start" fill="#1a1a1a" >PD60</text>
<circle cx="387.8" cy="184.8" r="2.7" fill="#e24a52"/>
<text x="397.8" y="187.5" font-size="7.6" font-weight="normal" text-anchor="start" fill="#1a1a1a" >PD150</text>
<circle cx="302.7" cy="197.5" r="2.7" fill="#4eaacb"/>
<text x="312.7" y="200.2" font-size="7.6" font-weight="normal" text-anchor="start" fill="#1a1a1a" >PD30</text>
<circle cx="343.8" cy="197.5" r="2.7" fill="#f2a04a"/>
<text x="353.8" y="200.2" font-size="7.6" font-weight="normal" text-anchor="start" fill="#1a1a1a" >PD90</text>
<text x="303" y="212.8" font-size="9.2" font-weight="normal" text-anchor="start" fill="#1a1a1a" >Age</text>
<defs><filter id="bl" x="-50%" y="-50%" width="200%" height="200%"><feGaussianBlur stdDeviation="2"/></filter><clipPath id="dc0"><path d="M145.70,192.50 C145.57,191.33 147.57,189.18 148.80,188.10 C150.03,187.02 151.87,186.95 153.10,186.00 C154.33,185.05 155.32,182.63 156.20,182.40 C157.08,182.17 157.38,184.30 158.40,184.60 C159.42,184.90 161.43,183.97 162.30,184.20 C163.17,184.43 162.50,185.78 163.60,186.00 C164.70,186.22 167.43,185.95 168.90,185.50 C170.37,185.05 170.93,183.88 172.40,183.30 C173.87,182.72 175.95,182.00 177.70,182.00 C179.45,182.00 181.23,182.57 182.90,183.30 C184.57,184.03 187.70,185.73 187.70,186.40 C187.70,187.07 184.57,186.72 182.90,187.30 C181.23,187.88 179.30,189.40 177.70,189.90 C176.10,190.40 174.77,190.45 173.30,190.30 C171.83,190.15 170.37,189.00 168.90,189.00 C167.43,189.00 165.67,189.72 164.50,190.30 C163.33,190.88 162.05,191.55 161.90,192.50 C161.75,193.45 164.03,195.42 163.60,196.00 C163.17,196.58 160.82,195.78 159.30,196.00 C157.78,196.22 156.12,197.45 154.50,197.30 C152.88,197.15 151.07,195.90 149.60,195.10 C148.13,194.30 145.83,193.67 145.70,192.50Z"/></clipPath><clipPath id="dc1"><path d="M96.00,229.20 C96.73,228.38 98.08,227.62 99.90,227.40 C101.72,227.18 104.27,227.53 106.90,227.90 C109.53,228.27 113.22,228.73 115.70,229.60 C118.18,230.47 120.05,231.93 121.80,233.10 C123.55,234.27 125.03,235.65 126.20,236.60 C127.37,237.55 127.50,238.35 128.80,238.80 C130.10,239.25 131.95,239.00 134.00,239.30 C136.05,239.60 140.37,240.02 141.10,240.60 C141.83,241.18 138.98,241.42 138.40,242.80 C137.82,244.18 138.03,246.87 137.60,248.90 C137.17,250.93 137.12,253.68 135.80,255.00 C134.48,256.32 131.75,256.07 129.70,256.80 C127.65,257.53 125.12,258.23 123.50,259.40 C121.88,260.57 120.87,261.90 120.00,263.80 C119.13,265.70 118.95,268.90 118.30,270.80 C117.65,272.70 116.83,275.05 116.10,275.20 C115.37,275.35 114.70,273.32 113.90,271.70 C113.10,270.08 112.18,266.82 111.30,265.50 C110.42,264.18 109.63,263.22 108.60,263.80 C107.57,264.38 106.27,267.40 105.10,269.00 C103.93,270.60 103.05,272.80 101.60,273.40 C100.15,274.00 97.85,273.92 96.40,272.60 C94.95,271.28 93.20,267.55 92.90,265.50 C92.60,263.45 93.43,261.47 94.60,260.30 C95.77,259.13 98.58,259.38 99.90,258.50 C101.22,257.62 102.35,256.45 102.50,255.00 C102.65,253.55 101.60,251.83 100.80,249.80 C100.00,247.77 98.43,244.85 97.70,242.80 C96.97,240.75 96.77,239.25 96.40,237.50 C96.03,235.75 95.57,233.68 95.50,232.30 C95.43,230.92 95.27,230.02 96.00,229.20Z"/></clipPath><clipPath id="dc2"><path d="M27.30,276.10 C28.90,275.38 31.48,277.48 33.90,278.80 C36.32,280.12 39.32,282.25 41.80,284.00 C44.28,285.75 47.05,286.97 48.80,289.30 C50.55,291.63 51.35,295.38 52.30,298.00 C53.25,300.62 54.50,302.80 54.50,305.00 C54.50,307.20 52.45,309.08 52.30,311.20 C52.15,313.32 54.03,316.25 53.60,317.70 C53.17,319.15 50.07,318.37 49.70,319.90 C49.33,321.43 51.98,325.88 51.40,326.90 C50.82,327.92 47.80,326.58 46.20,326.00 C44.60,325.42 43.55,324.27 41.80,323.40 C40.05,322.53 37.17,322.55 35.70,320.80 C34.23,319.05 34.32,315.23 33.00,312.90 C31.68,310.57 29.12,309.13 27.80,306.80 C26.48,304.47 26.42,300.22 25.10,298.90 C23.78,297.58 21.28,299.48 19.90,298.90 C18.52,298.32 17.10,296.72 16.80,295.40 C16.50,294.08 17.15,292.32 18.10,291.00 C19.05,289.68 21.47,288.82 22.50,287.50 C23.53,286.18 23.50,285.00 24.30,283.10 C25.10,281.20 25.70,276.82 27.30,276.10Z"/></clipPath><clipPath id="dc3"><path d="M93.80,321.50 C93.95,320.25 95.10,319.75 96.40,318.80 C97.70,317.85 99.57,316.60 101.60,315.80 C103.63,315.00 106.55,314.80 108.60,314.00 C110.65,313.20 112.72,311.15 113.90,311.00 C115.08,310.85 116.13,312.30 115.70,313.10 C115.27,313.90 111.75,314.48 111.30,315.80 C110.85,317.12 111.98,319.83 113.00,321.00 C114.02,322.17 116.52,323.23 117.40,322.80 C118.28,322.37 117.57,318.85 118.30,318.40 C119.03,317.95 120.63,320.53 121.80,320.10 C122.97,319.67 124.57,315.80 125.30,315.80 C126.03,315.80 126.35,318.65 126.20,320.10 C126.05,321.55 123.82,322.97 124.40,324.50 C124.98,326.03 129.85,328.57 129.70,329.30 C129.55,330.03 125.70,328.97 123.50,328.90 C121.30,328.83 118.25,329.05 116.50,328.90 C114.75,328.75 114.45,328.15 113.00,328.00 C111.55,327.85 109.83,327.70 107.80,328.00 C105.77,328.30 102.70,329.35 100.80,329.80 C98.90,330.25 97.28,331.28 96.40,330.70 C95.52,330.12 95.93,327.83 95.50,326.30 C95.07,324.77 93.65,322.75 93.80,321.50Z"/></clipPath><clipPath id="dc4"><path d="M220.20,228.50 C217.85,226.90 211.32,228.65 206.90,230.40 C202.48,232.15 198.12,235.35 193.70,239.00 C189.28,242.65 184.20,247.57 180.40,252.30 C176.60,257.03 173.75,262.67 170.90,267.40 C168.05,272.13 165.05,275.95 163.30,280.70 C161.55,285.45 160.72,290.20 160.40,295.90 C160.08,301.60 160.83,309.22 161.40,314.90 C161.97,320.58 162.42,325.30 163.80,330.00 C165.18,334.70 167.62,339.17 169.70,343.10 C171.78,347.03 173.88,350.75 176.30,353.60 C178.72,356.45 181.35,358.22 184.20,360.20 C187.05,362.18 190.33,363.53 193.40,365.50 C196.47,367.47 200.42,369.60 202.60,372.00 C204.78,374.40 205.63,377.27 206.50,379.90 C207.37,382.53 207.80,385.17 207.80,387.80 C207.80,390.43 207.37,393.50 206.50,395.70 C205.63,397.90 204.13,399.68 202.60,401.00 C201.07,402.32 199.72,402.85 197.30,403.60 C194.88,404.35 191.60,405.50 188.10,405.50 C184.60,405.50 180.02,404.03 176.30,403.60 C172.58,403.17 168.78,402.62 165.80,402.90 C162.82,403.18 161.08,404.18 158.40,405.30 C155.72,406.42 153.10,408.75 149.70,409.60 C146.30,410.45 141.90,410.88 138.00,410.40 C134.10,409.92 129.70,408.05 126.30,406.70 C122.90,405.35 120.03,404.48 117.60,402.30 C115.17,400.12 113.17,395.78 111.70,393.60 C110.23,391.42 109.28,391.15 108.80,389.20 C108.32,387.25 109.28,384.33 108.80,381.90 C108.32,379.47 107.37,376.30 105.90,374.60 C104.43,372.90 102.20,371.95 100.00,371.70 C97.80,371.45 95.37,372.37 92.70,373.10 C90.03,373.83 86.67,374.88 84.00,376.10 C81.33,377.32 78.53,378.47 76.70,380.40 C74.87,382.33 73.48,385.02 73.00,387.70 C72.52,390.38 72.70,392.85 73.80,396.50 C74.90,400.15 77.67,406.20 79.60,409.60 C81.53,413.00 82.97,415.07 85.40,416.90 C87.83,418.73 91.27,420.10 94.20,420.60 C97.13,421.10 100.08,420.75 103.00,419.90 C105.92,419.05 108.30,416.48 111.70,415.50 C115.10,414.52 119.02,413.88 123.40,414.00 C127.78,414.12 133.13,415.22 138.00,416.20 C142.87,417.18 148.10,418.80 152.60,419.90 C157.10,421.00 161.05,422.02 165.00,422.80 C168.95,423.58 172.67,424.42 176.30,424.60 C179.93,424.78 183.08,424.55 186.80,423.90 C190.52,423.25 195.10,422.12 198.60,420.70 C202.10,419.28 204.95,417.60 207.80,415.40 C210.65,413.20 213.73,410.35 215.70,407.50 C217.67,404.65 218.72,401.58 219.60,398.30 C220.48,395.02 221.22,390.87 221.00,387.80 C220.78,384.73 219.83,382.53 218.30,379.90 C216.77,377.27 214.42,374.62 211.80,372.00 C209.18,369.38 206.33,366.82 202.60,364.20 C198.87,361.58 192.92,359.37 189.40,356.30 C185.88,353.23 183.63,350.18 181.50,345.80 C179.37,341.42 177.42,335.78 176.60,330.00 C175.78,324.22 176.28,316.15 176.60,311.10 C176.92,306.05 177.23,303.50 178.50,299.70 C179.77,295.90 181.98,292.10 184.20,288.30 C186.42,284.50 189.28,279.90 191.80,276.90 C194.32,273.90 195.83,272.03 199.30,270.30 C202.77,268.57 208.48,267.88 212.60,266.50 C216.72,265.12 222.43,264.75 224.00,262.00 C225.57,259.25 222.50,253.67 222.00,250.00 C221.50,246.33 221.30,243.58 221.00,240.00 C220.70,236.42 222.55,230.10 220.20,228.50Z"/></clipPath><clipPath id="dc5"><path d="M220.20,228.50 C221.97,226.43 227.48,227.12 231.60,227.60 C235.72,228.08 241.73,229.18 244.90,231.40 C248.07,233.62 248.65,236.80 250.60,240.90 C252.55,245.00 255.55,251.15 256.60,256.00 C257.65,260.85 256.75,265.40 256.90,270.00 C257.05,274.60 256.13,278.93 257.50,283.60 C258.87,288.27 263.48,293.22 265.10,298.00 C266.72,302.78 266.27,308.73 267.20,312.30 C268.13,315.87 270.37,317.02 270.70,319.40 C271.03,321.78 270.82,324.38 269.20,326.60 C267.58,328.82 264.07,331.00 261.00,332.70 C257.93,334.40 254.55,335.43 250.80,336.80 C247.05,338.17 242.77,339.87 238.50,340.90 C234.23,341.93 229.45,342.55 225.20,343.00 C220.95,343.45 216.37,343.53 213.00,343.60 C209.63,343.67 206.02,344.83 205.00,343.40 C203.98,341.97 204.40,337.57 206.90,335.00 C209.40,332.43 214.57,329.07 220.00,328.00 C225.43,326.93 235.90,328.15 239.50,328.60 C243.10,329.05 240.07,330.02 241.60,330.70 C243.13,331.38 245.97,332.87 248.70,332.70 C251.43,332.53 255.60,331.40 258.00,329.70 C260.40,328.00 262.60,324.90 263.10,322.50 C263.60,320.10 262.20,317.35 261.00,315.30 C259.80,313.25 257.77,311.73 255.90,310.20 C254.03,308.67 251.00,307.80 249.80,306.10 C248.60,304.40 249.38,302.72 248.70,300.00 C248.02,297.28 247.23,292.53 245.70,289.80 C244.17,287.07 241.55,285.98 239.50,283.60 C237.45,281.22 235.78,278.05 233.40,275.50 C231.02,272.95 227.02,270.55 225.20,268.30 C223.38,266.05 223.03,265.05 222.50,262.00 C221.97,258.95 222.25,253.67 222.00,250.00 C221.75,246.33 221.30,243.58 221.00,240.00 C220.70,236.42 218.43,230.57 220.20,228.50Z"/></clipPath><clipPath id="dc6"><path d="M178.50,329.10 C178.50,328.20 183.57,327.07 186.10,326.60 C188.63,326.13 190.87,327.30 193.70,326.30 C196.53,325.30 199.63,322.35 203.10,320.60 C206.57,318.85 209.75,316.92 214.50,315.80 C219.25,314.68 227.80,313.42 231.60,313.90 C235.40,314.38 236.03,316.32 237.30,318.70 C238.57,321.08 240.47,326.30 239.20,328.20 C237.93,330.10 233.50,329.47 229.70,330.10 C225.90,330.73 220.20,331.05 216.40,332.00 C212.60,332.95 210.07,335.33 206.90,335.80 C203.73,336.27 200.87,335.43 197.40,334.80 C193.93,334.17 189.25,332.95 186.10,332.00 C182.95,331.05 178.50,330.00 178.50,329.10Z"/></clipPath><clipPath id="dc7"><path d="M148.20,366.10 C148.63,365.38 152.22,364.72 153.90,365.30 C155.58,365.88 156.70,368.15 158.30,369.60 C159.90,371.05 161.90,372.53 163.50,374.00 C165.10,375.47 167.45,377.08 167.90,378.40 C168.35,379.72 166.93,380.88 166.20,381.90 C165.47,382.92 164.53,384.50 163.50,384.50 C162.47,384.50 160.87,382.92 160.00,381.90 C159.13,380.88 159.32,379.72 158.30,378.40 C157.28,377.08 155.07,375.47 153.90,374.00 C152.73,372.53 152.25,370.92 151.30,369.60 C150.35,368.28 147.77,366.82 148.20,366.10Z"/></clipPath><clipPath id="dc8"><path d="M132.90,386.70 C132.90,385.97 135.53,383.22 136.40,381.90 C137.27,380.58 137.15,379.38 138.10,378.80 C139.05,378.22 140.93,377.95 142.10,378.40 C143.27,378.85 143.72,380.33 145.10,381.50 C146.48,382.67 150.10,384.68 150.40,385.40 C150.70,386.12 148.50,385.80 146.90,385.80 C145.30,385.80 142.55,385.32 140.80,385.40 C139.05,385.48 137.72,386.08 136.40,386.30 C135.08,386.52 132.90,387.43 132.90,386.70Z"/></clipPath></defs>
<g transform="translate(290.9,127.5) scale(0.47,0.445)"><path d="M145.70,192.50 C145.57,191.33 147.57,189.18 148.80,188.10 C150.03,187.02 151.87,186.95 153.10,186.00 C154.33,185.05 155.32,182.63 156.20,182.40 C157.08,182.17 157.38,184.30 158.40,184.60 C159.42,184.90 161.43,183.97 162.30,184.20 C163.17,184.43 162.50,185.78 163.60,186.00 C164.70,186.22 167.43,185.95 168.90,185.50 C170.37,185.05 170.93,183.88 172.40,183.30 C173.87,182.72 175.95,182.00 177.70,182.00 C179.45,182.00 181.23,182.57 182.90,183.30 C184.57,184.03 187.70,185.73 187.70,186.40 C187.70,187.07 184.57,186.72 182.90,187.30 C181.23,187.88 179.30,189.40 177.70,189.90 C176.10,190.40 174.77,190.45 173.30,190.30 C171.83,190.15 170.37,189.00 168.90,189.00 C167.43,189.00 165.67,189.72 164.50,190.30 C163.33,190.88 162.05,191.55 161.90,192.50 C161.75,193.45 164.03,195.42 163.60,196.00 C163.17,196.58 160.82,195.78 159.30,196.00 C157.78,196.22 156.12,197.45 154.50,197.30 C152.88,197.15 151.07,195.90 149.60,195.10 C148.13,194.30 145.83,193.67 145.70,192.50Z" fill="#e24a52" stroke="#e24a52" stroke-width="2"/>
<path d="M96.00,229.20 C96.73,228.38 98.08,227.62 99.90,227.40 C101.72,227.18 104.27,227.53 106.90,227.90 C109.53,228.27 113.22,228.73 115.70,229.60 C118.18,230.47 120.05,231.93 121.80,233.10 C123.55,234.27 125.03,235.65 126.20,236.60 C127.37,237.55 127.50,238.35 128.80,238.80 C130.10,239.25 131.95,239.00 134.00,239.30 C136.05,239.60 140.37,240.02 141.10,240.60 C141.83,241.18 138.98,241.42 138.40,242.80 C137.82,244.18 138.03,246.87 137.60,248.90 C137.17,250.93 137.12,253.68 135.80,255.00 C134.48,256.32 131.75,256.07 129.70,256.80 C127.65,257.53 125.12,258.23 123.50,259.40 C121.88,260.57 120.87,261.90 120.00,263.80 C119.13,265.70 118.95,268.90 118.30,270.80 C117.65,272.70 116.83,275.05 116.10,275.20 C115.37,275.35 114.70,273.32 113.90,271.70 C113.10,270.08 112.18,266.82 111.30,265.50 C110.42,264.18 109.63,263.22 108.60,263.80 C107.57,264.38 106.27,267.40 105.10,269.00 C103.93,270.60 103.05,272.80 101.60,273.40 C100.15,274.00 97.85,273.92 96.40,272.60 C94.95,271.28 93.20,267.55 92.90,265.50 C92.60,263.45 93.43,261.47 94.60,260.30 C95.77,259.13 98.58,259.38 99.90,258.50 C101.22,257.62 102.35,256.45 102.50,255.00 C102.65,253.55 101.60,251.83 100.80,249.80 C100.00,247.77 98.43,244.85 97.70,242.80 C96.97,240.75 96.77,239.25 96.40,237.50 C96.03,235.75 95.57,233.68 95.50,232.30 C95.43,230.92 95.27,230.02 96.00,229.20Z" fill="#e24a52" stroke="#e24a52" stroke-width="2"/>
<path d="M27.30,276.10 C28.90,275.38 31.48,277.48 33.90,278.80 C36.32,280.12 39.32,282.25 41.80,284.00 C44.28,285.75 47.05,286.97 48.80,289.30 C50.55,291.63 51.35,295.38 52.30,298.00 C53.25,300.62 54.50,302.80 54.50,305.00 C54.50,307.20 52.45,309.08 52.30,311.20 C52.15,313.32 54.03,316.25 53.60,317.70 C53.17,319.15 50.07,318.37 49.70,319.90 C49.33,321.43 51.98,325.88 51.40,326.90 C50.82,327.92 47.80,326.58 46.20,326.00 C44.60,325.42 43.55,324.27 41.80,323.40 C40.05,322.53 37.17,322.55 35.70,320.80 C34.23,319.05 34.32,315.23 33.00,312.90 C31.68,310.57 29.12,309.13 27.80,306.80 C26.48,304.47 26.42,300.22 25.10,298.90 C23.78,297.58 21.28,299.48 19.90,298.90 C18.52,298.32 17.10,296.72 16.80,295.40 C16.50,294.08 17.15,292.32 18.10,291.00 C19.05,289.68 21.47,288.82 22.50,287.50 C23.53,286.18 23.50,285.00 24.30,283.10 C25.10,281.20 25.70,276.82 27.30,276.10Z" fill="#e24a52" stroke="#e24a52" stroke-width="2"/>
<path d="M93.80,321.50 C93.95,320.25 95.10,319.75 96.40,318.80 C97.70,317.85 99.57,316.60 101.60,315.80 C103.63,315.00 106.55,314.80 108.60,314.00 C110.65,313.20 112.72,311.15 113.90,311.00 C115.08,310.85 116.13,312.30 115.70,313.10 C115.27,313.90 111.75,314.48 111.30,315.80 C110.85,317.12 111.98,319.83 113.00,321.00 C114.02,322.17 116.52,323.23 117.40,322.80 C118.28,322.37 117.57,318.85 118.30,318.40 C119.03,317.95 120.63,320.53 121.80,320.10 C122.97,319.67 124.57,315.80 125.30,315.80 C126.03,315.80 126.35,318.65 126.20,320.10 C126.05,321.55 123.82,322.97 124.40,324.50 C124.98,326.03 129.85,328.57 129.70,329.30 C129.55,330.03 125.70,328.97 123.50,328.90 C121.30,328.83 118.25,329.05 116.50,328.90 C114.75,328.75 114.45,328.15 113.00,328.00 C111.55,327.85 109.83,327.70 107.80,328.00 C105.77,328.30 102.70,329.35 100.80,329.80 C98.90,330.25 97.28,331.28 96.40,330.70 C95.52,330.12 95.93,327.83 95.50,326.30 C95.07,324.77 93.65,322.75 93.80,321.50Z" fill="#e24a52" stroke="#e24a52" stroke-width="2"/>
<path d="M220.20,228.50 C217.85,226.90 211.32,228.65 206.90,230.40 C202.48,232.15 198.12,235.35 193.70,239.00 C189.28,242.65 184.20,247.57 180.40,252.30 C176.60,257.03 173.75,262.67 170.90,267.40 C168.05,272.13 165.05,275.95 163.30,280.70 C161.55,285.45 160.72,290.20 160.40,295.90 C160.08,301.60 160.83,309.22 161.40,314.90 C161.97,320.58 162.42,325.30 163.80,330.00 C165.18,334.70 167.62,339.17 169.70,343.10 C171.78,347.03 173.88,350.75 176.30,353.60 C178.72,356.45 181.35,358.22 184.20,360.20 C187.05,362.18 190.33,363.53 193.40,365.50 C196.47,367.47 200.42,369.60 202.60,372.00 C204.78,374.40 205.63,377.27 206.50,379.90 C207.37,382.53 207.80,385.17 207.80,387.80 C207.80,390.43 207.37,393.50 206.50,395.70 C205.63,397.90 204.13,399.68 202.60,401.00 C201.07,402.32 199.72,402.85 197.30,403.60 C194.88,404.35 191.60,405.50 188.10,405.50 C184.60,405.50 180.02,404.03 176.30,403.60 C172.58,403.17 168.78,402.62 165.80,402.90 C162.82,403.18 161.08,404.18 158.40,405.30 C155.72,406.42 153.10,408.75 149.70,409.60 C146.30,410.45 141.90,410.88 138.00,410.40 C134.10,409.92 129.70,408.05 126.30,406.70 C122.90,405.35 120.03,404.48 117.60,402.30 C115.17,400.12 113.17,395.78 111.70,393.60 C110.23,391.42 109.28,391.15 108.80,389.20 C108.32,387.25 109.28,384.33 108.80,381.90 C108.32,379.47 107.37,376.30 105.90,374.60 C104.43,372.90 102.20,371.95 100.00,371.70 C97.80,371.45 95.37,372.37 92.70,373.10 C90.03,373.83 86.67,374.88 84.00,376.10 C81.33,377.32 78.53,378.47 76.70,380.40 C74.87,382.33 73.48,385.02 73.00,387.70 C72.52,390.38 72.70,392.85 73.80,396.50 C74.90,400.15 77.67,406.20 79.60,409.60 C81.53,413.00 82.97,415.07 85.40,416.90 C87.83,418.73 91.27,420.10 94.20,420.60 C97.13,421.10 100.08,420.75 103.00,419.90 C105.92,419.05 108.30,416.48 111.70,415.50 C115.10,414.52 119.02,413.88 123.40,414.00 C127.78,414.12 133.13,415.22 138.00,416.20 C142.87,417.18 148.10,418.80 152.60,419.90 C157.10,421.00 161.05,422.02 165.00,422.80 C168.95,423.58 172.67,424.42 176.30,424.60 C179.93,424.78 183.08,424.55 186.80,423.90 C190.52,423.25 195.10,422.12 198.60,420.70 C202.10,419.28 204.95,417.60 207.80,415.40 C210.65,413.20 213.73,410.35 215.70,407.50 C217.67,404.65 218.72,401.58 219.60,398.30 C220.48,395.02 221.22,390.87 221.00,387.80 C220.78,384.73 219.83,382.53 218.30,379.90 C216.77,377.27 214.42,374.62 211.80,372.00 C209.18,369.38 206.33,366.82 202.60,364.20 C198.87,361.58 192.92,359.37 189.40,356.30 C185.88,353.23 183.63,350.18 181.50,345.80 C179.37,341.42 177.42,335.78 176.60,330.00 C175.78,324.22 176.28,316.15 176.60,311.10 C176.92,306.05 177.23,303.50 178.50,299.70 C179.77,295.90 181.98,292.10 184.20,288.30 C186.42,284.50 189.28,279.90 191.80,276.90 C194.32,273.90 195.83,272.03 199.30,270.30 C202.77,268.57 208.48,267.88 212.60,266.50 C216.72,265.12 222.43,264.75 224.00,262.00 C225.57,259.25 222.50,253.67 222.00,250.00 C221.50,246.33 221.30,243.58 221.00,240.00 C220.70,236.42 222.55,230.10 220.20,228.50Z" fill="#e24a52" stroke="#e24a52" stroke-width="2"/>
<path d="M220.20,228.50 C221.97,226.43 227.48,227.12 231.60,227.60 C235.72,228.08 241.73,229.18 244.90,231.40 C248.07,233.62 248.65,236.80 250.60,240.90 C252.55,245.00 255.55,251.15 256.60,256.00 C257.65,260.85 256.75,265.40 256.90,270.00 C257.05,274.60 256.13,278.93 257.50,283.60 C258.87,288.27 263.48,293.22 265.10,298.00 C266.72,302.78 266.27,308.73 267.20,312.30 C268.13,315.87 270.37,317.02 270.70,319.40 C271.03,321.78 270.82,324.38 269.20,326.60 C267.58,328.82 264.07,331.00 261.00,332.70 C257.93,334.40 254.55,335.43 250.80,336.80 C247.05,338.17 242.77,339.87 238.50,340.90 C234.23,341.93 229.45,342.55 225.20,343.00 C220.95,343.45 216.37,343.53 213.00,343.60 C209.63,343.67 206.02,344.83 205.00,343.40 C203.98,341.97 204.40,337.57 206.90,335.00 C209.40,332.43 214.57,329.07 220.00,328.00 C225.43,326.93 235.90,328.15 239.50,328.60 C243.10,329.05 240.07,330.02 241.60,330.70 C243.13,331.38 245.97,332.87 248.70,332.70 C251.43,332.53 255.60,331.40 258.00,329.70 C260.40,328.00 262.60,324.90 263.10,322.50 C263.60,320.10 262.20,317.35 261.00,315.30 C259.80,313.25 257.77,311.73 255.90,310.20 C254.03,308.67 251.00,307.80 249.80,306.10 C248.60,304.40 249.38,302.72 248.70,300.00 C248.02,297.28 247.23,292.53 245.70,289.80 C244.17,287.07 241.55,285.98 239.50,283.60 C237.45,281.22 235.78,278.05 233.40,275.50 C231.02,272.95 227.02,270.55 225.20,268.30 C223.38,266.05 223.03,265.05 222.50,262.00 C221.97,258.95 222.25,253.67 222.00,250.00 C221.75,246.33 221.30,243.58 221.00,240.00 C220.70,236.42 218.43,230.57 220.20,228.50Z" fill="#e24a52" stroke="#e24a52" stroke-width="2"/>
<path d="M178.50,329.10 C178.50,328.20 183.57,327.07 186.10,326.60 C188.63,326.13 190.87,327.30 193.70,326.30 C196.53,325.30 199.63,322.35 203.10,320.60 C206.57,318.85 209.75,316.92 214.50,315.80 C219.25,314.68 227.80,313.42 231.60,313.90 C235.40,314.38 236.03,316.32 237.30,318.70 C238.57,321.08 240.47,326.30 239.20,328.20 C237.93,330.10 233.50,329.47 229.70,330.10 C225.90,330.73 220.20,331.05 216.40,332.00 C212.60,332.95 210.07,335.33 206.90,335.80 C203.73,336.27 200.87,335.43 197.40,334.80 C193.93,334.17 189.25,332.95 186.10,332.00 C182.95,331.05 178.50,330.00 178.50,329.10Z" fill="#e24a52" stroke="#e24a52" stroke-width="2"/>
<path d="M148.20,366.10 C148.63,365.38 152.22,364.72 153.90,365.30 C155.58,365.88 156.70,368.15 158.30,369.60 C159.90,371.05 161.90,372.53 163.50,374.00 C165.10,375.47 167.45,377.08 167.90,378.40 C168.35,379.72 166.93,380.88 166.20,381.90 C165.47,382.92 164.53,384.50 163.50,384.50 C162.47,384.50 160.87,382.92 160.00,381.90 C159.13,380.88 159.32,379.72 158.30,378.40 C157.28,377.08 155.07,375.47 153.90,374.00 C152.73,372.53 152.25,370.92 151.30,369.60 C150.35,368.28 147.77,366.82 148.20,366.10Z" fill="#e24a52" stroke="#e24a52" stroke-width="2"/>
<path d="M132.90,386.70 C132.90,385.97 135.53,383.22 136.40,381.90 C137.27,380.58 137.15,379.38 138.10,378.80 C139.05,378.22 140.93,377.95 142.10,378.40 C143.27,378.85 143.72,380.33 145.10,381.50 C146.48,382.67 150.10,384.68 150.40,385.40 C150.70,386.12 148.50,385.80 146.90,385.80 C145.30,385.80 142.55,385.32 140.80,385.40 C139.05,385.48 137.72,386.08 136.40,386.30 C135.08,386.52 132.90,387.43 132.90,386.70Z" fill="#e24a52" stroke="#e24a52" stroke-width="2"/>
<g clip-path="url(#dc1)"><path d="M95.1,255.8h2.5v2.5h-2.5zM99.4,274.8h2.5v2.5h-2.5zM93.9,268.0h2.5v2.5h-2.5zM91.1,256.5h2.5v2.5h-2.5zM91.9,268.8h2.5v2.5h-2.5zM91.1,276.0h2.5v2.5h-2.5zM89.5,255.8h2.5v2.5h-2.5zM89.7,270.8h2.5v2.5h-2.5zM92.8,263.0h2.5v2.5h-2.5zM92.3,267.3h2.5v2.5h-2.5zM93.2,256.2h2.5v2.5h-2.5zM93.5,258.7h2.5v2.5h-2.5zM90.0,272.2h2.5v2.5h-2.5zM96.2,268.0h2.5v2.5h-2.5zM98.5,261.0h2.5v2.5h-2.5zM92.9,261.7h2.5v2.5h-2.5zM93.2,268.1h2.5v2.5h-2.5zM88.8,262.8h2.5v2.5h-2.5zM94.6,259.7h2.5v2.5h-2.5zM89.0,269.1h2.5v2.5h-2.5zM88.9,265.4h2.5v2.5h-2.5zM90.4,251.6h2.5v2.5h-2.5zM90.7,252.5h2.5v2.5h-2.5zM90.4,268.6h2.5v2.5h-2.5zM96.8,260.2h2.5v2.5h-2.5zM95.9,263.1h2.5v2.5h-2.5zM94.2,273.5h2.5v2.5h-2.5zM92.2,273.4h2.5v2.5h-2.5zM96.4,268.5h2.5v2.5h-2.5zM88.8,252.9h2.5v2.5h-2.5zM89.1,259.7h2.5v2.5h-2.5zM99.2,273.5h2.5v2.5h-2.5zM98.0,253.8h2.5v2.5h-2.5zM96.5,270.9h2.5v2.5h-2.5zM97.7,271.3h2.5v2.5h-2.5zM90.3,255.4h2.5v2.5h-2.5zM97.5,269.9h2.5v2.5h-2.5zM98.6,262.4h2.5v2.5h-2.5zM98.5,254.4h2.5v2.5h-2.5zM99.3,273.7h2.5v2.5h-2.5zM92.5,252.5h2.5v2.5h-2.5zM94.8,268.7h2.5v2.5h-2.5zM92.6,252.2h2.5v2.5h-2.5zM91.8,272.2h2.5v2.5h-2.5zM89.7,275.1h2.5v2.5h-2.5zM91.5,256.1h2.5v2.5h-2.5zM90.0,276.3h2.5v2.5h-2.5zM98.7,259.0h2.5v2.5h-2.5zM89.8,267.7h2.5v2.5h-2.5zM98.5,251.1h2.5v2.5h-2.5zM95.7,273.0h2.5v2.5h-2.5zM93.8,265.6h2.5v2.5h-2.5zM97.6,257.0h2.5v2.5h-2.5zM91.8,267.9h2.5v2.5h-2.5zM94.8,264.7h2.5v2.5h-2.5zM92.4,275.1h2.5v2.5h-2.5zM91.9,268.4h2.5v2.5h-2.5zM98.6,261.2h2.5v2.5h-2.5zM89.3,256.5h2.5v2.5h-2.5zM89.5,254.6h2.5v2.5h-2.5zM90.1,259.7h2.5v2.5h-2.5zM92.8,262.4h2.5v2.5h-2.5zM96.1,268.3h2.5v2.5h-2.5zM96.3,260.2h2.5v2.5h-2.5zM96.0,265.0h2.5v2.5h-2.5zM90.2,264.9h2.5v2.5h-2.5zM92.3,268.3h2.5v2.5h-2.5zM96.8,257.0h2.5v2.5h-2.5zM93.5,262.6h2.5v2.5h-2.5zM92.0,251.8h2.5v2.5h-2.5zM89.3,276.6h2.5v2.5h-2.5zM96.9,262.2h2.5v2.5h-2.5zM96.1,257.7h2.5v2.5h-2.5zM96.6,275.5h2.5v2.5h-2.5zM97.3,262.8h2.5v2.5h-2.5zM99.6,274.7h2.5v2.5h-2.5zM89.4,261.5h2.5v2.5h-2.5zM93.7,257.9h2.5v2.5h-2.5zM95.5,254.5h2.5v2.5h-2.5zM97.0,273.0h2.5v2.5h-2.5zM89.4,268.7h2.5v2.5h-2.5zM91.7,267.3h2.5v2.5h-2.5zM96.4,276.1h2.5v2.5h-2.5zM97.5,259.6h2.5v2.5h-2.5zM96.8,254.6h2.5v2.5h-2.5zM96.6,261.6h2.5v2.5h-2.5zM91.7,257.0h2.5v2.5h-2.5zM91.1,271.5h2.5v2.5h-2.5zM89.8,256.8h2.5v2.5h-2.5zM90.9,254.9h2.5v2.5h-2.5z" fill="#65489a"/><path d="M99.2,266.0h2.5v2.5h-2.5zM99.4,268.7h2.5v2.5h-2.5zM103.8,259.5h2.5v2.5h-2.5zM103.9,264.6h2.5v2.5h-2.5zM98.2,263.6h2.5v2.5h-2.5zM103.9,263.3h2.5v2.5h-2.5zM106.5,269.3h2.5v2.5h-2.5zM101.5,255.1h2.5v2.5h-2.5zM99.0,271.4h2.5v2.5h-2.5zM104.6,265.8h2.5v2.5h-2.5zM102.2,262.8h2.5v2.5h-2.5zM100.0,263.6h2.5v2.5h-2.5zM99.2,266.1h2.5v2.5h-2.5zM104.1,267.5h2.5v2.5h-2.5zM100.2,251.3h2.5v2.5h-2.5zM101.1,268.0h2.5v2.5h-2.5zM102.8,269.7h2.5v2.5h-2.5zM102.1,259.9h2.5v2.5h-2.5zM106.8,253.4h2.5v2.5h-2.5zM99.8,265.2h2.5v2.5h-2.5zM104.1,260.9h2.5v2.5h-2.5zM103.3,261.1h2.5v2.5h-2.5zM104.4,273.6h2.5v2.5h-2.5zM106.0,266.6h2.5v2.5h-2.5zM102.5,275.3h2.5v2.5h-2.5zM102.2,266.3h2.5v2.5h-2.5zM106.4,267.9h2.5v2.5h-2.5zM101.7,269.6h2.5v2.5h-2.5zM103.8,274.4h2.5v2.5h-2.5zM104.0,263.7h2.5v2.5h-2.5zM107.5,263.5h2.5v2.5h-2.5zM101.7,275.0h2.5v2.5h-2.5zM107.2,253.6h2.5v2.5h-2.5zM98.5,272.8h2.5v2.5h-2.5zM106.6,259.5h2.5v2.5h-2.5zM100.3,267.9h2.5v2.5h-2.5zM107.2,254.7h2.5v2.5h-2.5zM102.2,267.3h2.5v2.5h-2.5zM100.0,260.4h2.5v2.5h-2.5zM99.2,262.2h2.5v2.5h-2.5zM100.0,251.0h2.5v2.5h-2.5zM101.6,253.0h2.5v2.5h-2.5zM98.9,253.0h2.5v2.5h-2.5zM101.9,257.6h2.5v2.5h-2.5zM105.0,260.4h2.5v2.5h-2.5zM100.2,254.0h2.5v2.5h-2.5zM100.7,269.6h2.5v2.5h-2.5zM99.8,261.8h2.5v2.5h-2.5zM105.8,272.0h2.5v2.5h-2.5zM102.4,272.3h2.5v2.5h-2.5zM104.2,255.1h2.5v2.5h-2.5zM98.7,253.5h2.5v2.5h-2.5zM105.7,259.7h2.5v2.5h-2.5zM106.1,275.8h2.5v2.5h-2.5zM106.9,261.9h2.5v2.5h-2.5zM97.8,256.5h2.5v2.5h-2.5zM99.9,266.9h2.5v2.5h-2.5zM104.8,274.6h2.5v2.5h-2.5zM104.8,275.6h2.5v2.5h-2.5zM104.1,262.0h2.5v2.5h-2.5zM106.1,256.4h2.5v2.5h-2.5zM105.5,269.1h2.5v2.5h-2.5zM106.4,250.4h2.5v2.5h-2.5zM99.6,275.3h2.5v2.5h-2.5zM99.2,261.4h2.5v2.5h-2.5zM103.8,262.2h2.5v2.5h-2.5zM106.5,275.5h2.5v2.5h-2.5zM101.2,252.5h2.5v2.5h-2.5zM106.9,261.5h2.5v2.5h-2.5zM100.2,252.6h2.5v2.5h-2.5zM97.8,265.1h2.5v2.5h-2.5zM100.6,264.3h2.5v2.5h-2.5zM107.0,262.3h2.5v2.5h-2.5zM107.3,250.6h2.5v2.5h-2.5zM105.3,269.9h2.5v2.5h-2.5zM107.3,249.6h2.5v2.5h-2.5zM102.8,264.3h2.5v2.5h-2.5zM103.7,261.9h2.5v2.5h-2.5zM100.5,274.0h2.5v2.5h-2.5zM106.5,268.4h2.5v2.5h-2.5z" fill="#4eaacb"/><path d="M99.5,230.1h2.5v2.5h-2.5zM96.7,234.5h2.5v2.5h-2.5zM91.1,224.0h2.5v2.5h-2.5zM95.4,224.7h2.5v2.5h-2.5zM93.0,237.0h2.5v2.5h-2.5zM98.3,224.6h2.5v2.5h-2.5zM89.7,226.3h2.5v2.5h-2.5zM97.9,223.1h2.5v2.5h-2.5zM91.2,224.5h2.5v2.5h-2.5zM90.2,231.1h2.5v2.5h-2.5zM90.8,229.3h2.5v2.5h-2.5zM96.8,234.3h2.5v2.5h-2.5zM93.3,235.3h2.5v2.5h-2.5zM95.0,236.0h2.5v2.5h-2.5zM91.5,228.7h2.5v2.5h-2.5zM95.1,237.9h2.5v2.5h-2.5zM95.6,230.3h2.5v2.5h-2.5zM91.5,227.3h2.5v2.5h-2.5zM91.1,238.5h2.5v2.5h-2.5zM98.5,237.1h2.5v2.5h-2.5zM94.6,234.1h2.5v2.5h-2.5zM92.0,230.5h2.5v2.5h-2.5zM90.4,229.5h2.5v2.5h-2.5zM91.5,224.3h2.5v2.5h-2.5zM98.9,224.3h2.5v2.5h-2.5zM97.7,233.9h2.5v2.5h-2.5zM89.7,230.5h2.5v2.5h-2.5zM99.7,238.5h2.5v2.5h-2.5zM94.9,235.1h2.5v2.5h-2.5zM96.5,227.4h2.5v2.5h-2.5zM94.8,232.3h2.5v2.5h-2.5zM93.1,235.9h2.5v2.5h-2.5zM93.6,234.7h2.5v2.5h-2.5zM89.5,229.9h2.5v2.5h-2.5zM89.2,233.1h2.5v2.5h-2.5zM98.3,231.4h2.5v2.5h-2.5zM95.0,232.7h2.5v2.5h-2.5zM91.3,228.9h2.5v2.5h-2.5zM95.1,233.1h2.5v2.5h-2.5zM92.9,230.4h2.5v2.5h-2.5zM92.4,231.6h2.5v2.5h-2.5zM96.2,228.0h2.5v2.5h-2.5zM96.3,236.3h2.5v2.5h-2.5zM94.7,238.4h2.5v2.5h-2.5zM92.2,237.5h2.5v2.5h-2.5zM90.8,228.6h2.5v2.5h-2.5zM97.7,223.3h2.5v2.5h-2.5zM95.5,236.7h2.5v2.5h-2.5zM99.1,233.7h2.5v2.5h-2.5zM92.6,228.1h2.5v2.5h-2.5z" fill="#65489a"/><path d="M106.3,243.7h2.5v2.5h-2.5zM104.1,228.2h2.5v2.5h-2.5zM100.1,239.9h2.5v2.5h-2.5zM104.8,223.2h2.5v2.5h-2.5zM98.4,244.2h2.5v2.5h-2.5zM97.9,238.5h2.5v2.5h-2.5zM100.0,238.2h2.5v2.5h-2.5zM105.4,236.7h2.5v2.5h-2.5zM100.7,230.5h2.5v2.5h-2.5zM103.0,237.8h2.5v2.5h-2.5zM100.8,233.9h2.5v2.5h-2.5zM102.1,229.0h2.5v2.5h-2.5zM98.5,236.4h2.5v2.5h-2.5zM97.8,237.1h2.5v2.5h-2.5zM104.8,242.6h2.5v2.5h-2.5zM99.3,232.7h2.5v2.5h-2.5zM106.0,231.1h2.5v2.5h-2.5zM106.7,227.5h2.5v2.5h-2.5zM105.2,223.7h2.5v2.5h-2.5zM103.4,242.1h2.5v2.5h-2.5zM102.2,237.9h2.5v2.5h-2.5zM105.9,246.7h2.5v2.5h-2.5zM98.5,235.3h2.5v2.5h-2.5zM97.1,231.8h2.5v2.5h-2.5zM98.2,226.6h2.5v2.5h-2.5zM103.0,224.8h2.5v2.5h-2.5zM98.3,223.0h2.5v2.5h-2.5zM104.9,228.6h2.5v2.5h-2.5zM97.5,237.7h2.5v2.5h-2.5zM103.9,237.9h2.5v2.5h-2.5zM102.2,235.6h2.5v2.5h-2.5zM103.9,230.2h2.5v2.5h-2.5zM105.2,239.4h2.5v2.5h-2.5zM105.3,244.1h2.5v2.5h-2.5zM105.1,235.2h2.5v2.5h-2.5zM102.0,240.4h2.5v2.5h-2.5zM102.5,223.4h2.5v2.5h-2.5zM105.9,227.5h2.5v2.5h-2.5zM101.6,233.6h2.5v2.5h-2.5zM97.7,236.6h2.5v2.5h-2.5zM102.7,242.3h2.5v2.5h-2.5zM102.9,230.1h2.5v2.5h-2.5zM102.4,245.8h2.5v2.5h-2.5zM103.1,243.0h2.5v2.5h-2.5zM96.9,239.3h2.5v2.5h-2.5zM98.9,226.7h2.5v2.5h-2.5zM100.1,227.0h2.5v2.5h-2.5zM97.6,227.8h2.5v2.5h-2.5zM99.1,228.7h2.5v2.5h-2.5zM104.7,224.7h2.5v2.5h-2.5zM98.8,224.1h2.5v2.5h-2.5zM101.8,228.2h2.5v2.5h-2.5zM102.1,228.5h2.5v2.5h-2.5zM98.7,234.5h2.5v2.5h-2.5zM97.5,244.0h2.5v2.5h-2.5zM102.4,232.2h2.5v2.5h-2.5zM102.2,245.5h2.5v2.5h-2.5zM101.7,232.2h2.5v2.5h-2.5zM98.9,231.9h2.5v2.5h-2.5zM104.5,237.5h2.5v2.5h-2.5z" fill="#4eaacb"/><path d="M115.0,240.1h2.5v2.5h-2.5zM113.8,266.6h2.5v2.5h-2.5zM107.1,258.6h2.5v2.5h-2.5zM107.4,232.0h2.5v2.5h-2.5zM107.6,257.8h2.5v2.5h-2.5zM104.8,253.8h2.5v2.5h-2.5zM107.7,232.2h2.5v2.5h-2.5zM108.8,241.8h2.5v2.5h-2.5zM109.2,263.5h2.5v2.5h-2.5zM115.6,234.7h2.5v2.5h-2.5zM116.6,251.7h2.5v2.5h-2.5zM116.2,260.7h2.5v2.5h-2.5zM110.1,235.8h2.5v2.5h-2.5zM115.8,268.7h2.5v2.5h-2.5zM111.5,229.9h2.5v2.5h-2.5zM114.3,258.4h2.5v2.5h-2.5zM115.1,267.7h2.5v2.5h-2.5zM116.4,257.1h2.5v2.5h-2.5zM108.2,248.2h2.5v2.5h-2.5zM109.8,258.2h2.5v2.5h-2.5zM111.5,261.1h2.5v2.5h-2.5zM110.0,250.7h2.5v2.5h-2.5zM116.2,259.6h2.5v2.5h-2.5zM115.8,255.5h2.5v2.5h-2.5zM104.5,243.2h2.5v2.5h-2.5zM106.8,236.3h2.5v2.5h-2.5zM104.5,229.6h2.5v2.5h-2.5zM109.5,259.2h2.5v2.5h-2.5zM114.9,267.3h2.5v2.5h-2.5zM110.9,225.4h2.5v2.5h-2.5zM105.4,227.3h2.5v2.5h-2.5zM114.9,238.8h2.5v2.5h-2.5zM112.9,244.6h2.5v2.5h-2.5zM110.9,262.2h2.5v2.5h-2.5zM111.9,228.0h2.5v2.5h-2.5zM111.6,240.4h2.5v2.5h-2.5zM116.4,236.5h2.5v2.5h-2.5zM106.1,265.3h2.5v2.5h-2.5zM108.5,228.4h2.5v2.5h-2.5zM113.9,265.2h2.5v2.5h-2.5zM109.6,232.1h2.5v2.5h-2.5zM114.9,239.7h2.5v2.5h-2.5zM106.2,226.7h2.5v2.5h-2.5zM115.1,235.1h2.5v2.5h-2.5zM104.4,240.8h2.5v2.5h-2.5zM112.6,268.6h2.5v2.5h-2.5zM105.7,251.9h2.5v2.5h-2.5zM106.5,262.7h2.5v2.5h-2.5zM109.6,254.8h2.5v2.5h-2.5zM114.5,248.3h2.5v2.5h-2.5zM109.3,225.2h2.5v2.5h-2.5zM105.1,255.2h2.5v2.5h-2.5zM113.4,250.2h2.5v2.5h-2.5zM103.4,257.6h2.5v2.5h-2.5zM114.6,262.4h2.5v2.5h-2.5zM113.3,253.9h2.5v2.5h-2.5zM107.6,240.7h2.5v2.5h-2.5zM105.4,253.1h2.5v2.5h-2.5zM107.5,260.4h2.5v2.5h-2.5zM106.0,236.3h2.5v2.5h-2.5zM103.9,237.1h2.5v2.5h-2.5zM113.6,261.1h2.5v2.5h-2.5zM115.6,226.3h2.5v2.5h-2.5zM112.3,249.5h2.5v2.5h-2.5zM107.6,266.1h2.5v2.5h-2.5zM112.3,238.5h2.5v2.5h-2.5zM114.4,244.2h2.5v2.5h-2.5zM109.3,245.7h2.5v2.5h-2.5zM109.4,225.9h2.5v2.5h-2.5zM114.2,238.0h2.5v2.5h-2.5zM109.1,232.5h2.5v2.5h-2.5zM110.7,227.9h2.5v2.5h-2.5zM103.2,234.0h2.5v2.5h-2.5zM115.1,254.8h2.5v2.5h-2.5zM112.9,228.8h2.5v2.5h-2.5zM109.1,257.1h2.5v2.5h-2.5zM113.2,244.5h2.5v2.5h-2.5zM103.8,241.4h2.5v2.5h-2.5zM116.0,263.9h2.5v2.5h-2.5zM111.3,240.3h2.5v2.5h-2.5zM111.2,250.1h2.5v2.5h-2.5zM109.2,262.3h2.5v2.5h-2.5zM110.6,229.0h2.5v2.5h-2.5zM113.0,255.5h2.5v2.5h-2.5zM104.2,247.8h2.5v2.5h-2.5zM116.4,253.2h2.5v2.5h-2.5zM112.2,245.8h2.5v2.5h-2.5zM108.7,268.2h2.5v2.5h-2.5zM106.7,245.2h2.5v2.5h-2.5zM104.1,247.4h2.5v2.5h-2.5zM112.0,255.2h2.5v2.5h-2.5zM116.4,236.3h2.5v2.5h-2.5zM105.7,240.5h2.5v2.5h-2.5zM107.4,264.9h2.5v2.5h-2.5zM105.7,245.5h2.5v2.5h-2.5zM116.7,242.7h2.5v2.5h-2.5zM109.2,243.2h2.5v2.5h-2.5zM107.3,238.9h2.5v2.5h-2.5zM114.5,225.4h2.5v2.5h-2.5zM103.7,260.3h2.5v2.5h-2.5zM112.9,243.4h2.5v2.5h-2.5zM109.5,245.6h2.5v2.5h-2.5zM106.3,243.8h2.5v2.5h-2.5zM107.7,250.8h2.5v2.5h-2.5zM107.5,250.7h2.5v2.5h-2.5zM103.3,268.3h2.5v2.5h-2.5zM102.9,245.5h2.5v2.5h-2.5zM108.0,230.5h2.5v2.5h-2.5zM116.4,244.5h2.5v2.5h-2.5zM105.3,239.2h2.5v2.5h-2.5z" fill="#f2a04a"/><path d="M106.1,259.0h2.5v2.5h-2.5zM99.9,259.7h2.5v2.5h-2.5zM107.1,243.8h2.5v2.5h-2.5zM107.0,257.2h2.5v2.5h-2.5zM101.4,260.2h2.5v2.5h-2.5zM103.0,250.9h2.5v2.5h-2.5zM105.6,255.2h2.5v2.5h-2.5zM106.5,247.8h2.5v2.5h-2.5zM104.1,245.2h2.5v2.5h-2.5zM102.2,251.6h2.5v2.5h-2.5zM100.4,249.0h2.5v2.5h-2.5zM107.1,246.0h2.5v2.5h-2.5zM103.7,243.4h2.5v2.5h-2.5zM106.4,244.6h2.5v2.5h-2.5zM101.4,256.2h2.5v2.5h-2.5zM103.7,252.7h2.5v2.5h-2.5zM105.2,251.7h2.5v2.5h-2.5zM103.6,245.5h2.5v2.5h-2.5zM101.0,246.4h2.5v2.5h-2.5zM102.0,248.5h2.5v2.5h-2.5zM107.8,246.6h2.5v2.5h-2.5zM100.9,247.6h2.5v2.5h-2.5zM100.9,257.7h2.5v2.5h-2.5zM108.3,256.5h2.5v2.5h-2.5zM108.3,252.6h2.5v2.5h-2.5z" fill="#4aa546"/><path d="M121.2,246.5h2.5v2.5h-2.5zM140.0,249.1h2.5v2.5h-2.5zM127.3,237.3h2.5v2.5h-2.5zM118.3,260.7h2.5v2.5h-2.5zM134.4,235.3h2.5v2.5h-2.5zM130.2,250.8h2.5v2.5h-2.5zM138.3,236.3h2.5v2.5h-2.5zM122.9,233.1h2.5v2.5h-2.5zM130.1,258.1h2.5v2.5h-2.5zM133.8,231.5h2.5v2.5h-2.5zM124.4,229.4h2.5v2.5h-2.5zM118.9,243.5h2.5v2.5h-2.5zM118.7,235.9h2.5v2.5h-2.5zM121.1,241.1h2.5v2.5h-2.5zM137.0,234.8h2.5v2.5h-2.5zM130.7,240.4h2.5v2.5h-2.5zM122.3,236.9h2.5v2.5h-2.5zM135.0,255.4h2.5v2.5h-2.5zM133.8,257.0h2.5v2.5h-2.5zM133.7,236.9h2.5v2.5h-2.5zM120.8,246.0h2.5v2.5h-2.5zM130.6,253.4h2.5v2.5h-2.5zM138.3,253.9h2.5v2.5h-2.5zM140.1,249.7h2.5v2.5h-2.5zM132.5,253.9h2.5v2.5h-2.5z" fill="#f2a04a"/></g>
<g clip-path="url(#dc2)"><path d="M13.9,297.4h2.5v2.5h-2.5zM20.7,289.7h2.5v2.5h-2.5zM15.2,286.3h2.5v2.5h-2.5zM13.5,286.6h2.5v2.5h-2.5zM14.6,298.1h2.5v2.5h-2.5zM14.5,286.2h2.5v2.5h-2.5zM21.1,299.3h2.5v2.5h-2.5zM13.7,288.6h2.5v2.5h-2.5zM21.6,289.8h2.5v2.5h-2.5zM18.4,295.2h2.5v2.5h-2.5zM18.6,283.7h2.5v2.5h-2.5zM19.3,297.4h2.5v2.5h-2.5zM16.8,289.0h2.5v2.5h-2.5zM19.3,300.6h2.5v2.5h-2.5zM21.2,286.4h2.5v2.5h-2.5zM19.6,291.6h2.5v2.5h-2.5zM21.6,300.2h2.5v2.5h-2.5zM17.1,299.0h2.5v2.5h-2.5zM20.7,284.8h2.5v2.5h-2.5zM16.4,299.8h2.5v2.5h-2.5zM14.9,290.6h2.5v2.5h-2.5zM18.4,289.1h2.5v2.5h-2.5zM19.8,286.0h2.5v2.5h-2.5zM18.1,292.7h2.5v2.5h-2.5zM13.0,297.0h2.5v2.5h-2.5zM19.9,298.1h2.5v2.5h-2.5zM14.5,292.3h2.5v2.5h-2.5zM14.1,296.0h2.5v2.5h-2.5zM18.3,298.8h2.5v2.5h-2.5zM14.0,287.3h2.5v2.5h-2.5zM13.4,299.4h2.5v2.5h-2.5zM18.6,285.3h2.5v2.5h-2.5zM19.4,290.8h2.5v2.5h-2.5zM16.4,296.8h2.5v2.5h-2.5zM19.3,291.5h2.5v2.5h-2.5zM15.4,289.7h2.5v2.5h-2.5zM16.2,286.1h2.5v2.5h-2.5zM14.3,292.8h2.5v2.5h-2.5zM21.5,293.2h2.5v2.5h-2.5zM16.4,283.3h2.5v2.5h-2.5zM21.0,288.5h2.5v2.5h-2.5zM15.4,295.7h2.5v2.5h-2.5zM20.7,284.7h2.5v2.5h-2.5zM13.4,286.6h2.5v2.5h-2.5zM21.7,292.0h2.5v2.5h-2.5zM13.7,294.5h2.5v2.5h-2.5zM17.3,284.7h2.5v2.5h-2.5zM13.3,289.5h2.5v2.5h-2.5zM21.5,290.4h2.5v2.5h-2.5zM21.7,289.5h2.5v2.5h-2.5z" fill="#65489a"/><path d="M23.2,293.9h2.5v2.5h-2.5zM27.5,277.4h2.5v2.5h-2.5zM26.8,316.7h2.5v2.5h-2.5zM27.8,296.6h2.5v2.5h-2.5zM31.4,293.5h2.5v2.5h-2.5zM23.2,311.3h2.5v2.5h-2.5zM21.4,313.7h2.5v2.5h-2.5zM32.9,298.0h2.5v2.5h-2.5zM27.0,275.8h2.5v2.5h-2.5zM21.5,308.3h2.5v2.5h-2.5zM30.4,301.4h2.5v2.5h-2.5zM20.9,306.1h2.5v2.5h-2.5zM34.6,312.9h2.5v2.5h-2.5zM29.4,293.2h2.5v2.5h-2.5zM25.5,279.8h2.5v2.5h-2.5zM19.4,317.3h2.5v2.5h-2.5zM25.1,290.6h2.5v2.5h-2.5zM26.5,318.0h2.5v2.5h-2.5zM33.4,304.5h2.5v2.5h-2.5zM31.3,297.0h2.5v2.5h-2.5zM29.1,309.4h2.5v2.5h-2.5zM29.4,275.0h2.5v2.5h-2.5zM26.2,299.7h2.5v2.5h-2.5zM29.5,315.6h2.5v2.5h-2.5zM31.3,292.0h2.5v2.5h-2.5zM26.4,308.7h2.5v2.5h-2.5zM30.9,289.4h2.5v2.5h-2.5zM25.1,300.9h2.5v2.5h-2.5zM26.7,303.5h2.5v2.5h-2.5zM32.4,292.0h2.5v2.5h-2.5zM28.0,282.0h2.5v2.5h-2.5zM31.8,304.9h2.5v2.5h-2.5zM28.4,288.3h2.5v2.5h-2.5zM20.2,284.2h2.5v2.5h-2.5zM22.9,308.1h2.5v2.5h-2.5zM28.0,312.0h2.5v2.5h-2.5zM33.6,285.1h2.5v2.5h-2.5zM21.2,306.1h2.5v2.5h-2.5zM25.6,311.0h2.5v2.5h-2.5zM25.9,283.3h2.5v2.5h-2.5zM33.9,307.0h2.5v2.5h-2.5zM31.5,305.2h2.5v2.5h-2.5zM34.0,313.1h2.5v2.5h-2.5zM19.8,276.3h2.5v2.5h-2.5zM19.4,307.0h2.5v2.5h-2.5zM26.7,305.4h2.5v2.5h-2.5zM20.3,280.8h2.5v2.5h-2.5zM32.8,301.4h2.5v2.5h-2.5zM21.2,278.3h2.5v2.5h-2.5zM31.6,311.4h2.5v2.5h-2.5zM20.6,317.8h2.5v2.5h-2.5zM20.7,290.7h2.5v2.5h-2.5zM28.7,310.1h2.5v2.5h-2.5zM32.8,273.7h2.5v2.5h-2.5zM22.8,279.1h2.5v2.5h-2.5zM20.0,303.6h2.5v2.5h-2.5zM21.0,292.1h2.5v2.5h-2.5zM29.6,308.5h2.5v2.5h-2.5zM27.4,304.5h2.5v2.5h-2.5zM29.2,283.3h2.5v2.5h-2.5zM22.3,316.9h2.5v2.5h-2.5zM22.9,314.5h2.5v2.5h-2.5zM19.6,287.1h2.5v2.5h-2.5zM29.5,283.3h2.5v2.5h-2.5zM34.7,301.6h2.5v2.5h-2.5zM32.8,303.6h2.5v2.5h-2.5zM32.4,278.9h2.5v2.5h-2.5zM24.5,284.0h2.5v2.5h-2.5zM24.8,278.3h2.5v2.5h-2.5zM20.9,296.2h2.5v2.5h-2.5zM33.9,302.3h2.5v2.5h-2.5zM29.1,314.6h2.5v2.5h-2.5zM28.0,299.0h2.5v2.5h-2.5zM28.3,297.0h2.5v2.5h-2.5zM21.4,277.1h2.5v2.5h-2.5zM32.4,294.3h2.5v2.5h-2.5zM31.5,275.1h2.5v2.5h-2.5zM26.8,314.9h2.5v2.5h-2.5zM19.0,317.4h2.5v2.5h-2.5zM24.4,296.4h2.5v2.5h-2.5zM28.8,299.9h2.5v2.5h-2.5zM23.9,315.8h2.5v2.5h-2.5zM23.5,272.9h2.5v2.5h-2.5zM19.0,317.6h2.5v2.5h-2.5zM22.6,288.5h2.5v2.5h-2.5zM28.2,296.5h2.5v2.5h-2.5zM24.3,305.9h2.5v2.5h-2.5zM28.0,277.7h2.5v2.5h-2.5zM30.0,305.0h2.5v2.5h-2.5zM30.6,305.1h2.5v2.5h-2.5zM19.1,275.5h2.5v2.5h-2.5zM32.8,284.0h2.5v2.5h-2.5zM34.6,318.7h2.5v2.5h-2.5zM32.5,305.2h2.5v2.5h-2.5zM19.4,311.7h2.5v2.5h-2.5zM25.1,311.8h2.5v2.5h-2.5zM33.6,275.4h2.5v2.5h-2.5zM24.9,285.4h2.5v2.5h-2.5zM21.5,316.4h2.5v2.5h-2.5zM29.7,299.1h2.5v2.5h-2.5zM31.0,298.6h2.5v2.5h-2.5zM19.1,298.3h2.5v2.5h-2.5zM29.6,305.1h2.5v2.5h-2.5zM31.8,285.9h2.5v2.5h-2.5zM28.4,307.3h2.5v2.5h-2.5zM25.6,316.8h2.5v2.5h-2.5zM24.0,296.6h2.5v2.5h-2.5zM25.5,314.5h2.5v2.5h-2.5zM32.3,306.5h2.5v2.5h-2.5zM29.8,299.8h2.5v2.5h-2.5zM30.2,287.2h2.5v2.5h-2.5zM20.0,292.7h2.5v2.5h-2.5zM34.3,275.9h2.5v2.5h-2.5zM28.1,279.0h2.5v2.5h-2.5zM19.2,305.3h2.5v2.5h-2.5zM29.5,284.5h2.5v2.5h-2.5zM28.1,298.8h2.5v2.5h-2.5zM26.5,305.6h2.5v2.5h-2.5zM31.4,308.8h2.5v2.5h-2.5zM28.1,315.8h2.5v2.5h-2.5zM34.3,307.1h2.5v2.5h-2.5zM23.3,280.7h2.5v2.5h-2.5zM29.8,308.9h2.5v2.5h-2.5zM34.5,316.0h2.5v2.5h-2.5zM25.1,276.6h2.5v2.5h-2.5zM28.9,297.3h2.5v2.5h-2.5zM29.3,281.6h2.5v2.5h-2.5zM28.4,301.8h2.5v2.5h-2.5zM18.9,276.9h2.5v2.5h-2.5zM25.9,302.8h2.5v2.5h-2.5zM31.6,280.8h2.5v2.5h-2.5zM34.1,282.6h2.5v2.5h-2.5zM34.3,283.0h2.5v2.5h-2.5zM29.2,313.1h2.5v2.5h-2.5zM21.9,290.2h2.5v2.5h-2.5zM33.4,307.8h2.5v2.5h-2.5zM31.4,276.8h2.5v2.5h-2.5zM33.3,293.1h2.5v2.5h-2.5zM22.0,310.8h2.5v2.5h-2.5zM26.2,310.0h2.5v2.5h-2.5zM32.1,274.1h2.5v2.5h-2.5zM22.7,302.6h2.5v2.5h-2.5zM20.6,280.4h2.5v2.5h-2.5zM28.7,311.8h2.5v2.5h-2.5zM21.5,279.8h2.5v2.5h-2.5zM31.2,290.9h2.5v2.5h-2.5zM24.8,298.4h2.5v2.5h-2.5zM34.6,302.6h2.5v2.5h-2.5zM25.3,292.9h2.5v2.5h-2.5zM33.3,304.6h2.5v2.5h-2.5zM28.0,284.5h2.5v2.5h-2.5zM31.6,278.7h2.5v2.5h-2.5zM25.5,281.6h2.5v2.5h-2.5zM22.2,279.0h2.5v2.5h-2.5zM22.0,309.2h2.5v2.5h-2.5zM19.3,291.3h2.5v2.5h-2.5zM19.4,274.8h2.5v2.5h-2.5zM24.2,288.3h2.5v2.5h-2.5zM33.1,290.2h2.5v2.5h-2.5zM33.2,318.5h2.5v2.5h-2.5zM26.7,294.3h2.5v2.5h-2.5zM32.6,314.3h2.5v2.5h-2.5zM34.6,283.2h2.5v2.5h-2.5zM24.0,298.4h2.5v2.5h-2.5zM27.2,288.2h2.5v2.5h-2.5zM20.9,290.9h2.5v2.5h-2.5zM32.8,290.5h2.5v2.5h-2.5zM24.2,315.3h2.5v2.5h-2.5zM19.8,286.1h2.5v2.5h-2.5zM21.5,286.3h2.5v2.5h-2.5zM33.5,287.8h2.5v2.5h-2.5zM24.3,283.9h2.5v2.5h-2.5zM26.0,275.0h2.5v2.5h-2.5zM25.7,313.4h2.5v2.5h-2.5zM33.5,288.5h2.5v2.5h-2.5zM20.2,274.7h2.5v2.5h-2.5zM25.3,285.3h2.5v2.5h-2.5zM30.9,283.4h2.5v2.5h-2.5zM25.6,288.6h2.5v2.5h-2.5zM25.8,302.7h2.5v2.5h-2.5z" fill="#f2a04a"/><path d="M52.3,316.5h2.5v2.5h-2.5zM49.8,313.7h2.5v2.5h-2.5zM42.4,314.2h2.5v2.5h-2.5zM43.7,310.2h2.5v2.5h-2.5zM40.9,315.1h2.5v2.5h-2.5zM32.6,325.1h2.5v2.5h-2.5zM51.8,311.8h2.5v2.5h-2.5zM45.7,319.3h2.5v2.5h-2.5zM41.1,320.6h2.5v2.5h-2.5zM46.3,314.3h2.5v2.5h-2.5zM39.7,318.9h2.5v2.5h-2.5zM53.6,327.4h2.5v2.5h-2.5zM48.8,317.9h2.5v2.5h-2.5zM51.7,328.3h2.5v2.5h-2.5zM51.2,312.6h2.5v2.5h-2.5zM40.8,313.3h2.5v2.5h-2.5zM41.7,325.8h2.5v2.5h-2.5zM42.6,315.3h2.5v2.5h-2.5zM35.4,311.6h2.5v2.5h-2.5zM49.9,327.8h2.5v2.5h-2.5zM51.3,308.8h2.5v2.5h-2.5zM37.6,311.6h2.5v2.5h-2.5zM41.9,312.8h2.5v2.5h-2.5zM42.5,317.8h2.5v2.5h-2.5zM45.6,319.0h2.5v2.5h-2.5zM42.8,309.6h2.5v2.5h-2.5zM52.5,317.3h2.5v2.5h-2.5zM50.9,315.2h2.5v2.5h-2.5zM33.7,328.6h2.5v2.5h-2.5zM42.6,312.1h2.5v2.5h-2.5zM52.9,327.3h2.5v2.5h-2.5zM34.2,327.8h2.5v2.5h-2.5zM34.6,311.3h2.5v2.5h-2.5zM35.0,326.3h2.5v2.5h-2.5zM45.1,319.9h2.5v2.5h-2.5zM47.1,314.6h2.5v2.5h-2.5zM33.1,310.3h2.5v2.5h-2.5zM37.0,320.5h2.5v2.5h-2.5zM33.4,309.6h2.5v2.5h-2.5zM36.2,309.0h2.5v2.5h-2.5z" fill="#4eaacb"/><path d="M50.7,305.4h2.0v2.0h-2.0zM52.9,313.8h2.0v2.0h-2.0zM42.6,317.5h2.0v2.0h-2.0zM38.2,304.8h2.0v2.0h-2.0zM43.0,305.9h2.0v2.0h-2.0zM47.7,311.5h2.0v2.0h-2.0zM42.3,307.3h2.0v2.0h-2.0zM39.2,320.5h2.0v2.0h-2.0zM52.1,309.5h2.0v2.0h-2.0zM50.3,308.4h2.0v2.0h-2.0zM49.4,306.2h2.0v2.0h-2.0zM45.8,311.2h2.0v2.0h-2.0zM51.5,321.8h2.0v2.0h-2.0zM37.0,302.0h2.0v2.0h-2.0zM43.7,305.5h2.0v2.0h-2.0zM39.5,327.5h2.0v2.0h-2.0zM52.9,299.5h2.0v2.0h-2.0zM35.4,317.8h2.0v2.0h-2.0zM53.0,325.7h2.0v2.0h-2.0zM48.2,321.2h2.0v2.0h-2.0zM44.2,313.7h2.0v2.0h-2.0zM51.3,302.2h2.0v2.0h-2.0zM48.0,320.6h2.0v2.0h-2.0zM38.0,322.1h2.0v2.0h-2.0zM38.2,328.0h2.0v2.0h-2.0z" fill="#65489a"/></g>
<g clip-path="url(#dc3)"><path d="M120.4,323.4h2.5v2.5h-2.5zM123.1,324.3h2.5v2.5h-2.5zM128.8,325.8h2.5v2.5h-2.5zM114.0,310.9h2.5v2.5h-2.5zM119.8,315.7h2.5v2.5h-2.5zM130.0,325.2h2.5v2.5h-2.5zM120.1,314.6h2.5v2.5h-2.5zM115.3,321.6h2.5v2.5h-2.5zM129.2,309.4h2.5v2.5h-2.5zM119.8,314.4h2.5v2.5h-2.5zM122.9,311.9h2.5v2.5h-2.5zM112.1,323.7h2.5v2.5h-2.5zM116.9,322.9h2.5v2.5h-2.5zM128.9,321.0h2.5v2.5h-2.5zM129.0,327.2h2.5v2.5h-2.5zM112.0,311.6h2.5v2.5h-2.5zM124.0,318.1h2.5v2.5h-2.5zM110.8,327.8h2.5v2.5h-2.5zM123.7,316.9h2.5v2.5h-2.5zM121.2,309.5h2.5v2.5h-2.5zM121.8,308.7h2.5v2.5h-2.5zM124.0,331.1h2.5v2.5h-2.5zM115.1,312.2h2.5v2.5h-2.5zM122.3,329.3h2.5v2.5h-2.5zM114.1,315.7h2.5v2.5h-2.5zM122.9,309.4h2.5v2.5h-2.5zM112.1,325.7h2.5v2.5h-2.5zM123.2,321.0h2.5v2.5h-2.5zM121.7,307.6h2.5v2.5h-2.5zM120.4,318.4h2.5v2.5h-2.5zM121.0,309.3h2.5v2.5h-2.5zM112.1,319.2h2.5v2.5h-2.5zM124.7,323.4h2.5v2.5h-2.5zM129.5,315.1h2.5v2.5h-2.5zM118.6,314.0h2.5v2.5h-2.5zM120.9,323.5h2.5v2.5h-2.5zM128.0,307.3h2.5v2.5h-2.5zM122.3,326.2h2.5v2.5h-2.5zM125.7,316.8h2.5v2.5h-2.5zM112.2,313.8h2.5v2.5h-2.5zM122.7,326.5h2.5v2.5h-2.5zM115.1,313.9h2.5v2.5h-2.5zM118.1,306.2h2.5v2.5h-2.5zM130.2,314.6h2.5v2.5h-2.5zM119.6,331.9h2.5v2.5h-2.5zM126.4,312.4h2.5v2.5h-2.5zM129.6,327.9h2.5v2.5h-2.5zM122.0,317.1h2.5v2.5h-2.5zM127.7,330.5h2.5v2.5h-2.5zM124.2,313.7h2.5v2.5h-2.5zM128.2,323.2h2.5v2.5h-2.5zM129.4,327.6h2.5v2.5h-2.5zM124.6,329.8h2.5v2.5h-2.5zM119.6,321.7h2.5v2.5h-2.5zM125.7,317.1h2.5v2.5h-2.5zM113.3,327.9h2.5v2.5h-2.5zM121.5,317.5h2.5v2.5h-2.5zM121.4,312.9h2.5v2.5h-2.5zM127.6,312.8h2.5v2.5h-2.5zM115.7,322.4h2.5v2.5h-2.5zM120.5,313.5h2.5v2.5h-2.5zM112.4,317.1h2.5v2.5h-2.5zM119.0,320.1h2.5v2.5h-2.5zM123.7,312.4h2.5v2.5h-2.5zM112.1,306.5h2.5v2.5h-2.5zM121.8,331.0h2.5v2.5h-2.5zM125.5,330.8h2.5v2.5h-2.5zM113.8,310.6h2.5v2.5h-2.5zM125.0,316.2h2.5v2.5h-2.5zM119.2,328.1h2.5v2.5h-2.5zM112.4,331.1h2.5v2.5h-2.5zM114.5,321.2h2.5v2.5h-2.5zM123.9,320.4h2.5v2.5h-2.5zM124.9,313.3h2.5v2.5h-2.5zM115.4,323.2h2.5v2.5h-2.5zM129.7,306.5h2.5v2.5h-2.5zM112.9,332.4h2.5v2.5h-2.5zM111.8,308.4h2.5v2.5h-2.5zM120.8,313.8h2.5v2.5h-2.5zM124.8,317.8h2.5v2.5h-2.5zM126.7,307.9h2.5v2.5h-2.5zM115.2,310.1h2.5v2.5h-2.5zM126.8,332.7h2.5v2.5h-2.5zM118.3,311.0h2.5v2.5h-2.5zM112.2,309.9h2.5v2.5h-2.5zM130.4,331.4h2.5v2.5h-2.5zM129.2,309.8h2.5v2.5h-2.5zM112.3,332.6h2.5v2.5h-2.5zM125.2,329.5h2.5v2.5h-2.5zM128.7,329.1h2.5v2.5h-2.5z" fill="#4eaacb"/><path d="M89.0,328.6h2.5v2.5h-2.5zM94.5,315.0h2.5v2.5h-2.5zM93.1,318.6h2.5v2.5h-2.5zM95.8,328.4h2.5v2.5h-2.5zM91.2,324.3h2.5v2.5h-2.5zM92.7,319.3h2.5v2.5h-2.5zM92.2,321.1h2.5v2.5h-2.5zM92.5,330.0h2.5v2.5h-2.5zM94.6,315.4h2.5v2.5h-2.5zM91.6,330.2h2.5v2.5h-2.5zM94.8,324.5h2.5v2.5h-2.5zM93.9,325.7h2.5v2.5h-2.5zM90.1,321.3h2.5v2.5h-2.5zM91.0,317.8h2.5v2.5h-2.5zM94.3,315.3h2.5v2.5h-2.5z" fill="#65489a"/></g>
<g clip-path="url(#dc6)"><path d="M190.7,311.7h2.5v2.5h-2.5zM218.7,316.1h2.5v2.5h-2.5zM216.0,313.4h2.5v2.5h-2.5zM239.5,329.0h2.5v2.5h-2.5zM194.2,310.7h2.5v2.5h-2.5zM230.0,335.7h2.5v2.5h-2.5zM197.0,311.9h2.5v2.5h-2.5zM239.3,335.6h2.5v2.5h-2.5zM205.3,312.1h2.5v2.5h-2.5zM224.4,337.9h2.5v2.5h-2.5zM194.6,319.8h2.5v2.5h-2.5zM232.1,331.2h2.5v2.5h-2.5zM235.3,327.4h2.5v2.5h-2.5zM190.0,337.3h2.5v2.5h-2.5zM228.2,334.7h2.5v2.5h-2.5zM196.8,317.8h2.5v2.5h-2.5zM239.1,336.5h2.5v2.5h-2.5zM181.3,311.1h2.5v2.5h-2.5zM183.5,328.6h2.5v2.5h-2.5zM191.3,313.8h2.5v2.5h-2.5zM209.0,337.6h2.5v2.5h-2.5zM206.4,311.2h2.5v2.5h-2.5zM184.0,317.7h2.5v2.5h-2.5zM196.8,315.0h2.5v2.5h-2.5zM180.2,318.9h2.5v2.5h-2.5zM189.2,314.9h2.5v2.5h-2.5zM180.3,325.7h2.5v2.5h-2.5zM224.7,319.3h2.5v2.5h-2.5zM181.9,321.4h2.5v2.5h-2.5zM179.7,312.8h2.5v2.5h-2.5zM192.0,335.8h2.5v2.5h-2.5zM178.5,323.4h2.5v2.5h-2.5zM175.7,319.4h2.5v2.5h-2.5zM239.4,334.0h2.5v2.5h-2.5zM205.7,316.7h2.5v2.5h-2.5zM192.1,325.0h2.5v2.5h-2.5zM203.7,316.7h2.5v2.5h-2.5zM177.0,332.2h2.5v2.5h-2.5zM240.7,337.6h2.5v2.5h-2.5zM208.2,320.8h2.5v2.5h-2.5zM182.4,338.4h2.5v2.5h-2.5zM203.6,310.8h2.5v2.5h-2.5zM238.7,328.3h2.5v2.5h-2.5zM223.8,324.9h2.5v2.5h-2.5zM188.9,332.8h2.5v2.5h-2.5zM223.9,324.1h2.5v2.5h-2.5zM236.8,314.1h2.5v2.5h-2.5zM238.1,326.2h2.5v2.5h-2.5zM182.1,333.9h2.5v2.5h-2.5zM231.6,333.3h2.5v2.5h-2.5zM203.8,326.9h2.5v2.5h-2.5zM214.7,330.3h2.5v2.5h-2.5zM202.2,312.4h2.5v2.5h-2.5zM197.0,319.4h2.5v2.5h-2.5zM177.6,314.0h2.5v2.5h-2.5zM219.0,324.3h2.5v2.5h-2.5zM187.2,334.2h2.5v2.5h-2.5zM177.9,308.8h2.5v2.5h-2.5zM218.1,335.6h2.5v2.5h-2.5zM231.4,328.0h2.5v2.5h-2.5zM204.6,316.5h2.5v2.5h-2.5zM236.6,328.5h2.5v2.5h-2.5zM187.9,335.1h2.5v2.5h-2.5zM224.0,337.8h2.5v2.5h-2.5zM199.8,321.9h2.5v2.5h-2.5zM212.8,317.7h2.5v2.5h-2.5zM194.4,336.6h2.5v2.5h-2.5zM229.1,335.3h2.5v2.5h-2.5zM224.4,328.3h2.5v2.5h-2.5zM177.4,333.3h2.5v2.5h-2.5zM187.9,327.7h2.5v2.5h-2.5zM217.5,314.8h2.5v2.5h-2.5zM221.9,311.1h2.5v2.5h-2.5zM181.9,331.6h2.5v2.5h-2.5zM196.1,323.8h2.5v2.5h-2.5zM216.7,324.9h2.5v2.5h-2.5zM231.1,333.1h2.5v2.5h-2.5zM191.8,311.7h2.5v2.5h-2.5zM206.4,336.7h2.5v2.5h-2.5zM190.6,332.4h2.5v2.5h-2.5z" fill="#f2a04a"/><path d="M233.9,314.7h2.5v2.5h-2.5zM182.2,312.1h2.5v2.5h-2.5zM224.5,334.5h2.5v2.5h-2.5zM240.2,329.1h2.5v2.5h-2.5zM217.0,329.4h2.5v2.5h-2.5zM206.6,325.2h2.5v2.5h-2.5zM184.2,310.0h2.5v2.5h-2.5zM232.1,332.8h2.5v2.5h-2.5zM238.4,331.0h2.5v2.5h-2.5zM213.5,313.7h2.5v2.5h-2.5zM232.1,324.6h2.5v2.5h-2.5zM232.0,332.2h2.5v2.5h-2.5zM226.6,327.7h2.5v2.5h-2.5zM227.4,321.6h2.5v2.5h-2.5zM221.9,324.5h2.5v2.5h-2.5zM215.0,338.0h2.5v2.5h-2.5zM233.4,330.2h2.5v2.5h-2.5zM214.3,315.7h2.5v2.5h-2.5zM230.2,321.1h2.5v2.5h-2.5zM199.1,334.6h2.5v2.5h-2.5zM206.3,329.7h2.5v2.5h-2.5zM187.0,331.4h2.5v2.5h-2.5zM237.7,327.2h2.5v2.5h-2.5zM230.6,325.9h2.5v2.5h-2.5zM222.2,322.1h2.5v2.5h-2.5zM195.3,336.7h2.5v2.5h-2.5zM217.7,336.5h2.5v2.5h-2.5zM196.7,316.5h2.5v2.5h-2.5zM210.4,326.5h2.5v2.5h-2.5zM178.6,311.2h2.5v2.5h-2.5zM214.5,309.5h2.5v2.5h-2.5zM183.7,337.2h2.5v2.5h-2.5zM237.9,335.8h2.5v2.5h-2.5zM193.9,337.9h2.5v2.5h-2.5zM199.5,333.0h2.5v2.5h-2.5zM194.3,337.1h2.5v2.5h-2.5zM186.0,310.6h2.5v2.5h-2.5zM187.5,326.9h2.5v2.5h-2.5zM179.3,328.7h2.5v2.5h-2.5zM228.9,333.0h2.5v2.5h-2.5zM229.9,329.2h2.5v2.5h-2.5zM208.3,324.6h2.5v2.5h-2.5zM192.4,325.0h2.5v2.5h-2.5zM213.9,323.7h2.5v2.5h-2.5zM233.8,332.3h2.5v2.5h-2.5zM195.0,335.6h2.5v2.5h-2.5zM196.8,324.1h2.5v2.5h-2.5zM181.7,329.2h2.5v2.5h-2.5zM178.7,313.4h2.5v2.5h-2.5zM232.3,336.4h2.5v2.5h-2.5zM209.3,332.7h2.5v2.5h-2.5zM207.2,309.8h2.5v2.5h-2.5zM184.1,327.1h2.5v2.5h-2.5zM227.2,323.4h2.5v2.5h-2.5zM236.6,336.3h2.5v2.5h-2.5z" fill="#4eaacb"/><path d="M229.0,326.7h2.5v2.5h-2.5zM222.4,309.0h2.5v2.5h-2.5zM217.4,330.9h2.5v2.5h-2.5zM206.5,323.3h2.5v2.5h-2.5zM191.0,321.0h2.5v2.5h-2.5zM213.3,334.7h2.5v2.5h-2.5zM212.6,322.3h2.5v2.5h-2.5zM195.6,331.5h2.5v2.5h-2.5zM196.0,310.5h2.5v2.5h-2.5zM211.4,324.3h2.5v2.5h-2.5zM229.4,321.9h2.5v2.5h-2.5zM219.9,319.7h2.5v2.5h-2.5zM207.2,311.1h2.5v2.5h-2.5zM205.3,315.0h2.5v2.5h-2.5zM201.5,316.7h2.5v2.5h-2.5zM221.5,320.0h2.5v2.5h-2.5zM201.4,321.4h2.5v2.5h-2.5zM216.4,320.6h2.5v2.5h-2.5zM224.9,329.7h2.5v2.5h-2.5zM197.1,325.9h2.5v2.5h-2.5zM216.6,309.4h2.5v2.5h-2.5zM201.9,317.3h2.5v2.5h-2.5zM198.4,321.0h2.5v2.5h-2.5zM238.1,331.2h2.5v2.5h-2.5zM194.6,309.9h2.5v2.5h-2.5zM223.7,320.2h2.5v2.5h-2.5zM177.2,317.5h2.5v2.5h-2.5zM185.4,338.6h2.5v2.5h-2.5zM191.3,323.5h2.5v2.5h-2.5zM177.3,334.8h2.5v2.5h-2.5zM208.1,309.3h2.5v2.5h-2.5zM214.4,334.4h2.5v2.5h-2.5zM206.1,325.2h2.5v2.5h-2.5zM236.4,321.3h2.5v2.5h-2.5zM211.7,335.2h2.5v2.5h-2.5zM218.7,324.1h2.5v2.5h-2.5zM197.0,327.2h2.5v2.5h-2.5zM225.2,330.8h2.5v2.5h-2.5zM188.6,317.8h2.5v2.5h-2.5zM209.9,312.2h2.5v2.5h-2.5z" fill="#4aa546"/><path d="M190.6,313.7h2.5v2.5h-2.5zM201.1,313.5h2.5v2.5h-2.5zM201.6,312.3h2.5v2.5h-2.5zM209.5,325.7h2.5v2.5h-2.5zM197.8,333.1h2.5v2.5h-2.5zM176.9,338.0h2.5v2.5h-2.5zM203.4,313.7h2.5v2.5h-2.5zM200.2,321.4h2.5v2.5h-2.5zM175.2,329.8h2.5v2.5h-2.5zM217.0,326.5h2.5v2.5h-2.5zM216.7,335.9h2.5v2.5h-2.5zM206.7,325.3h2.5v2.5h-2.5zM236.9,335.3h2.5v2.5h-2.5zM186.1,312.1h2.5v2.5h-2.5zM234.4,327.4h2.5v2.5h-2.5z" fill="#65489a"/></g>
<g clip-path="url(#dc5)"><path d="M253.2,298.2h2.5v2.5h-2.5zM237.3,303.6h2.5v2.5h-2.5zM254.7,301.9h2.5v2.5h-2.5zM257.8,311.0h2.5v2.5h-2.5zM248.0,311.0h2.5v2.5h-2.5zM249.6,308.3h2.5v2.5h-2.5zM255.9,313.3h2.5v2.5h-2.5zM248.1,292.9h2.5v2.5h-2.5zM240.2,296.7h2.5v2.5h-2.5zM257.6,321.5h2.5v2.5h-2.5zM244.6,315.4h2.5v2.5h-2.5zM236.4,318.2h2.5v2.5h-2.5zM236.4,317.4h2.5v2.5h-2.5zM251.5,319.0h2.5v2.5h-2.5zM254.6,306.4h2.5v2.5h-2.5zM237.0,298.5h2.5v2.5h-2.5zM257.0,312.8h2.5v2.5h-2.5zM234.8,315.9h2.5v2.5h-2.5zM236.8,293.0h2.5v2.5h-2.5zM258.2,320.2h2.5v2.5h-2.5zM244.1,316.6h2.5v2.5h-2.5zM240.4,298.1h2.5v2.5h-2.5zM255.1,301.1h2.5v2.5h-2.5zM236.9,318.8h2.5v2.5h-2.5zM248.1,315.8h2.5v2.5h-2.5zM257.2,312.2h2.5v2.5h-2.5zM237.9,298.1h2.5v2.5h-2.5zM257.2,308.3h2.5v2.5h-2.5zM239.9,315.4h2.5v2.5h-2.5zM257.4,297.5h2.5v2.5h-2.5zM249.7,321.4h2.5v2.5h-2.5zM238.1,315.5h2.5v2.5h-2.5zM245.5,315.1h2.5v2.5h-2.5zM237.3,308.7h2.5v2.5h-2.5zM240.5,296.4h2.5v2.5h-2.5zM256.3,294.5h2.5v2.5h-2.5zM237.6,318.8h2.5v2.5h-2.5zM239.0,321.8h2.5v2.5h-2.5zM246.3,312.5h2.5v2.5h-2.5zM251.0,301.7h2.5v2.5h-2.5zM243.9,302.7h2.5v2.5h-2.5zM239.6,304.4h2.5v2.5h-2.5zM252.9,294.3h2.5v2.5h-2.5zM234.9,301.4h2.5v2.5h-2.5zM246.8,297.2h2.5v2.5h-2.5zM236.2,293.0h2.5v2.5h-2.5zM254.8,312.0h2.5v2.5h-2.5zM235.6,296.5h2.5v2.5h-2.5zM239.6,314.3h2.5v2.5h-2.5zM245.7,294.8h2.5v2.5h-2.5zM247.6,322.1h2.5v2.5h-2.5zM249.3,322.0h2.5v2.5h-2.5zM244.7,312.2h2.5v2.5h-2.5zM249.8,311.0h2.5v2.5h-2.5zM257.2,303.7h2.5v2.5h-2.5zM237.6,308.6h2.5v2.5h-2.5zM248.3,304.6h2.5v2.5h-2.5zM257.9,293.4h2.5v2.5h-2.5zM252.5,313.5h2.5v2.5h-2.5zM244.9,311.5h2.5v2.5h-2.5zM257.2,312.5h2.5v2.5h-2.5zM257.3,301.0h2.5v2.5h-2.5zM238.6,310.5h2.5v2.5h-2.5zM235.4,315.0h2.5v2.5h-2.5zM242.3,306.6h2.5v2.5h-2.5zM251.3,293.7h2.5v2.5h-2.5zM237.5,315.1h2.5v2.5h-2.5zM238.0,312.7h2.5v2.5h-2.5zM238.6,320.3h2.5v2.5h-2.5zM250.6,311.2h2.5v2.5h-2.5zM248.6,308.2h2.5v2.5h-2.5zM254.9,296.2h2.5v2.5h-2.5zM259.9,322.0h2.5v2.5h-2.5zM242.1,292.8h2.5v2.5h-2.5zM251.0,316.4h2.5v2.5h-2.5zM251.4,314.7h2.5v2.5h-2.5zM257.8,320.1h2.5v2.5h-2.5zM239.3,315.0h2.5v2.5h-2.5zM248.8,315.1h2.5v2.5h-2.5zM251.4,303.3h2.5v2.5h-2.5z" fill="#4eaacb"/><path d="M253.4,300.2h2.8v2.8h-2.8zM251.1,307.4h2.8v2.8h-2.8zM254.3,307.7h2.8v2.8h-2.8zM245.5,298.2h2.8v2.8h-2.8zM245.4,315.9h2.8v2.8h-2.8zM254.4,301.7h2.8v2.8h-2.8zM251.6,300.8h2.8v2.8h-2.8zM247.9,304.7h2.8v2.8h-2.8zM242.7,305.2h2.8v2.8h-2.8zM250.3,310.2h2.8v2.8h-2.8zM244.0,299.2h2.8v2.8h-2.8zM238.8,315.0h2.8v2.8h-2.8zM246.9,306.5h2.8v2.8h-2.8zM245.3,298.8h2.8v2.8h-2.8zM242.4,316.0h2.8v2.8h-2.8zM244.7,307.3h2.8v2.8h-2.8zM253.6,308.6h2.8v2.8h-2.8zM241.6,297.9h2.8v2.8h-2.8zM241.3,298.8h2.8v2.8h-2.8zM241.5,299.8h2.8v2.8h-2.8zM243.8,306.0h2.8v2.8h-2.8zM244.7,304.0h2.8v2.8h-2.8zM246.9,301.2h2.8v2.8h-2.8zM254.0,301.3h2.8v2.8h-2.8zM248.7,304.4h2.8v2.8h-2.8zM247.2,296.7h2.8v2.8h-2.8zM254.5,314.1h2.8v2.8h-2.8zM239.0,302.0h2.8v2.8h-2.8zM253.4,311.9h2.8v2.8h-2.8zM247.7,313.1h2.8v2.8h-2.8zM240.5,311.4h2.8v2.8h-2.8zM241.3,302.2h2.8v2.8h-2.8zM253.7,303.6h2.8v2.8h-2.8zM247.5,309.6h2.8v2.8h-2.8zM245.6,312.7h2.8v2.8h-2.8zM253.9,308.0h2.8v2.8h-2.8zM244.3,313.0h2.8v2.8h-2.8zM242.8,297.4h2.8v2.8h-2.8zM252.7,301.5h2.8v2.8h-2.8zM239.6,310.2h2.8v2.8h-2.8zM239.0,310.8h2.8v2.8h-2.8zM251.9,300.8h2.8v2.8h-2.8zM251.8,308.6h2.8v2.8h-2.8zM241.9,299.5h2.8v2.8h-2.8zM240.5,306.5h2.8v2.8h-2.8zM253.1,305.7h2.8v2.8h-2.8zM245.9,303.5h2.8v2.8h-2.8zM248.1,309.0h2.8v2.8h-2.8zM242.5,300.3h2.8v2.8h-2.8zM239.2,310.8h2.8v2.8h-2.8zM248.0,298.6h2.8v2.8h-2.8zM252.6,310.7h2.8v2.8h-2.8zM238.9,310.0h2.8v2.8h-2.8zM239.2,306.0h2.8v2.8h-2.8zM253.3,309.2h2.8v2.8h-2.8zM241.1,298.8h2.8v2.8h-2.8zM253.6,296.6h2.8v2.8h-2.8zM242.7,299.7h2.8v2.8h-2.8zM243.2,303.7h2.8v2.8h-2.8zM251.7,304.1h2.8v2.8h-2.8z" fill="#fff"/><path d="M238.3,240.3h2.5v2.5h-2.5zM255.0,272.5h2.5v2.5h-2.5zM241.2,294.5h2.5v2.5h-2.5zM222.2,283.8h2.5v2.5h-2.5zM227.2,244.8h2.5v2.5h-2.5zM231.0,280.0h2.5v2.5h-2.5zM254.5,277.6h2.5v2.5h-2.5zM230.8,236.0h2.5v2.5h-2.5zM229.6,242.4h2.5v2.5h-2.5zM237.8,263.4h2.5v2.5h-2.5zM223.1,241.8h2.5v2.5h-2.5zM252.1,277.2h2.5v2.5h-2.5zM222.4,289.2h2.5v2.5h-2.5zM235.8,254.4h2.5v2.5h-2.5zM249.3,276.3h2.5v2.5h-2.5zM235.3,254.4h2.5v2.5h-2.5zM239.4,286.8h2.5v2.5h-2.5zM245.7,233.1h2.5v2.5h-2.5zM219.9,252.5h2.5v2.5h-2.5zM229.7,282.8h2.5v2.5h-2.5zM241.8,236.8h2.5v2.5h-2.5zM234.8,268.3h2.5v2.5h-2.5zM237.0,245.4h2.5v2.5h-2.5zM245.0,247.0h2.5v2.5h-2.5zM256.5,254.0h2.5v2.5h-2.5zM237.8,284.6h2.5v2.5h-2.5zM232.1,291.6h2.5v2.5h-2.5zM239.8,265.8h2.5v2.5h-2.5zM227.8,250.5h2.5v2.5h-2.5zM238.8,285.7h2.5v2.5h-2.5zM224.6,287.7h2.5v2.5h-2.5zM253.8,232.5h2.5v2.5h-2.5zM243.2,243.8h2.5v2.5h-2.5zM222.5,297.1h2.5v2.5h-2.5zM228.2,256.6h2.5v2.5h-2.5zM245.5,270.6h2.5v2.5h-2.5zM253.0,297.0h2.5v2.5h-2.5zM236.5,234.5h2.5v2.5h-2.5zM250.5,237.6h2.5v2.5h-2.5zM232.6,242.8h2.5v2.5h-2.5zM250.2,241.7h2.5v2.5h-2.5zM249.6,266.4h2.5v2.5h-2.5zM241.9,280.4h2.5v2.5h-2.5zM231.9,239.8h2.5v2.5h-2.5zM246.9,272.2h2.5v2.5h-2.5zM234.6,240.1h2.5v2.5h-2.5zM224.9,259.0h2.5v2.5h-2.5zM244.5,248.4h2.5v2.5h-2.5zM219.3,259.9h2.5v2.5h-2.5zM227.6,280.6h2.5v2.5h-2.5z" fill="#f2a04a"/><path d="M222.1,268.8h2.5v2.5h-2.5zM233.9,292.6h2.5v2.5h-2.5zM242.1,264.4h2.5v2.5h-2.5zM254.4,247.3h2.5v2.5h-2.5zM251.0,257.1h2.5v2.5h-2.5zM244.4,296.5h2.5v2.5h-2.5zM249.4,270.3h2.5v2.5h-2.5zM249.4,228.5h2.5v2.5h-2.5zM235.0,288.6h2.5v2.5h-2.5zM247.4,259.2h2.5v2.5h-2.5zM227.5,251.7h2.5v2.5h-2.5zM235.1,235.1h2.5v2.5h-2.5zM254.4,273.4h2.5v2.5h-2.5zM238.9,239.9h2.5v2.5h-2.5zM231.0,256.5h2.5v2.5h-2.5zM224.3,250.8h2.5v2.5h-2.5zM232.7,279.8h2.5v2.5h-2.5zM253.2,227.4h2.5v2.5h-2.5zM223.9,288.3h2.5v2.5h-2.5zM219.1,245.3h2.5v2.5h-2.5zM240.2,265.1h2.5v2.5h-2.5zM227.0,281.0h2.5v2.5h-2.5zM245.8,227.1h2.5v2.5h-2.5zM245.8,253.9h2.5v2.5h-2.5zM237.5,268.3h2.5v2.5h-2.5z" fill="#4aa546"/><path d="M234.4,335.7h2.5v2.5h-2.5zM221.9,342.4h2.5v2.5h-2.5zM247.5,339.0h2.5v2.5h-2.5zM231.2,340.5h2.5v2.5h-2.5zM247.8,335.6h2.5v2.5h-2.5zM210.1,332.8h2.5v2.5h-2.5zM262.0,334.9h2.5v2.5h-2.5zM226.5,336.3h2.5v2.5h-2.5zM212.3,330.3h2.5v2.5h-2.5zM250.5,333.2h2.5v2.5h-2.5zM227.0,343.2h2.5v2.5h-2.5zM235.0,332.8h2.5v2.5h-2.5zM208.7,335.7h2.5v2.5h-2.5zM233.4,329.4h2.5v2.5h-2.5zM259.7,336.2h2.5v2.5h-2.5zM236.1,341.0h2.5v2.5h-2.5zM227.5,343.3h2.5v2.5h-2.5zM244.9,331.4h2.5v2.5h-2.5zM231.1,343.1h2.5v2.5h-2.5zM240.2,324.0h2.5v2.5h-2.5zM254.9,332.0h2.5v2.5h-2.5zM221.7,333.4h2.5v2.5h-2.5zM216.0,337.1h2.5v2.5h-2.5zM240.9,333.0h2.5v2.5h-2.5zM232.6,330.4h2.5v2.5h-2.5zM245.3,340.4h2.5v2.5h-2.5zM206.8,336.4h2.5v2.5h-2.5zM252.1,343.6h2.5v2.5h-2.5zM250.4,342.8h2.5v2.5h-2.5zM242.0,340.7h2.5v2.5h-2.5zM248.1,328.8h2.5v2.5h-2.5zM246.7,336.1h2.5v2.5h-2.5zM235.7,328.5h2.5v2.5h-2.5zM260.3,339.9h2.5v2.5h-2.5zM250.9,328.6h2.5v2.5h-2.5z" fill="#f2a04a"/></g>
<g clip-path="url(#dc4)"><path d="M162.0,233.0h2.5v2.5h-2.5zM184.0,234.5h2.5v2.5h-2.5zM214.6,229.5h2.5v2.5h-2.5zM192.0,250.7h2.5v2.5h-2.5zM211.6,238.2h2.5v2.5h-2.5zM179.7,250.8h2.5v2.5h-2.5zM174.0,226.9h2.5v2.5h-2.5zM185.8,233.1h2.5v2.5h-2.5zM195.8,231.8h2.5v2.5h-2.5zM178.3,259.0h2.5v2.5h-2.5zM214.9,233.4h2.5v2.5h-2.5zM167.6,283.6h2.5v2.5h-2.5zM160.1,292.4h2.5v2.5h-2.5zM194.3,245.9h2.5v2.5h-2.5zM210.7,282.1h2.5v2.5h-2.5zM180.0,284.5h2.5v2.5h-2.5zM171.6,270.6h2.5v2.5h-2.5zM191.4,285.0h2.5v2.5h-2.5zM178.3,255.4h2.5v2.5h-2.5zM206.4,263.7h2.5v2.5h-2.5zM201.2,272.7h2.5v2.5h-2.5zM200.1,290.8h2.5v2.5h-2.5zM188.9,274.9h2.5v2.5h-2.5zM182.0,229.0h2.5v2.5h-2.5zM205.5,239.8h2.5v2.5h-2.5zM209.6,292.5h2.5v2.5h-2.5zM199.6,239.0h2.5v2.5h-2.5zM179.6,254.9h2.5v2.5h-2.5zM163.3,259.6h2.5v2.5h-2.5zM194.3,250.9h2.5v2.5h-2.5zM170.5,233.1h2.5v2.5h-2.5zM197.7,227.7h2.5v2.5h-2.5zM180.6,243.2h2.5v2.5h-2.5zM191.7,278.9h2.5v2.5h-2.5zM215.1,272.7h2.5v2.5h-2.5zM220.2,296.2h2.5v2.5h-2.5zM197.8,243.6h2.5v2.5h-2.5zM188.7,239.5h2.5v2.5h-2.5zM220.3,258.8h2.5v2.5h-2.5zM205.4,229.9h2.5v2.5h-2.5zM167.1,240.7h2.5v2.5h-2.5zM174.6,252.1h2.5v2.5h-2.5zM175.6,258.0h2.5v2.5h-2.5zM184.8,234.6h2.5v2.5h-2.5zM162.6,252.3h2.5v2.5h-2.5zM164.3,257.9h2.5v2.5h-2.5zM159.3,265.3h2.5v2.5h-2.5zM163.3,276.7h2.5v2.5h-2.5zM183.8,297.7h2.5v2.5h-2.5zM175.0,260.8h2.5v2.5h-2.5zM205.3,250.9h2.5v2.5h-2.5zM180.3,272.8h2.5v2.5h-2.5zM218.9,290.4h2.5v2.5h-2.5zM184.7,278.4h2.5v2.5h-2.5zM200.9,253.5h2.5v2.5h-2.5zM173.3,232.4h2.5v2.5h-2.5zM213.2,230.9h2.5v2.5h-2.5zM190.9,265.5h2.5v2.5h-2.5zM167.8,274.0h2.5v2.5h-2.5zM215.5,282.6h2.5v2.5h-2.5zM182.9,235.9h2.5v2.5h-2.5zM219.2,264.0h2.5v2.5h-2.5zM197.8,284.5h2.5v2.5h-2.5zM182.7,231.2h2.5v2.5h-2.5zM167.2,274.9h2.5v2.5h-2.5zM180.4,289.5h2.5v2.5h-2.5zM204.6,297.3h2.5v2.5h-2.5zM200.2,248.6h2.5v2.5h-2.5zM207.8,228.8h2.5v2.5h-2.5zM191.1,289.5h2.5v2.5h-2.5zM190.7,236.6h2.5v2.5h-2.5zM189.8,266.0h2.5v2.5h-2.5zM181.6,291.1h2.5v2.5h-2.5zM179.8,246.3h2.5v2.5h-2.5zM190.1,241.4h2.5v2.5h-2.5zM178.7,255.4h2.5v2.5h-2.5zM216.9,232.5h2.5v2.5h-2.5zM171.0,241.1h2.5v2.5h-2.5zM220.5,290.9h2.5v2.5h-2.5zM170.8,267.4h2.5v2.5h-2.5zM164.0,249.6h2.5v2.5h-2.5zM179.9,265.5h2.5v2.5h-2.5zM216.4,285.0h2.5v2.5h-2.5zM191.9,283.3h2.5v2.5h-2.5zM188.8,279.4h2.5v2.5h-2.5zM206.9,245.2h2.5v2.5h-2.5zM210.4,268.4h2.5v2.5h-2.5zM188.9,255.2h2.5v2.5h-2.5zM172.6,262.8h2.5v2.5h-2.5zM166.6,272.5h2.5v2.5h-2.5z" fill="#f2a04a"/><path d="M218.3,266.2h2.5v2.5h-2.5zM169.7,296.3h2.5v2.5h-2.5zM184.6,283.5h2.5v2.5h-2.5zM160.7,238.7h2.5v2.5h-2.5zM218.8,285.5h2.5v2.5h-2.5zM160.1,260.9h2.5v2.5h-2.5zM185.1,243.3h2.5v2.5h-2.5zM165.0,249.5h2.5v2.5h-2.5zM167.5,240.5h2.5v2.5h-2.5zM212.3,252.4h2.5v2.5h-2.5zM177.1,255.5h2.5v2.5h-2.5zM165.3,291.6h2.5v2.5h-2.5zM190.6,274.4h2.5v2.5h-2.5zM220.0,234.8h2.5v2.5h-2.5zM194.0,261.3h2.5v2.5h-2.5zM206.4,270.4h2.5v2.5h-2.5zM186.4,236.3h2.5v2.5h-2.5zM191.8,283.7h2.5v2.5h-2.5zM217.5,259.5h2.5v2.5h-2.5zM190.5,284.4h2.5v2.5h-2.5zM186.5,255.9h2.5v2.5h-2.5zM204.4,290.3h2.5v2.5h-2.5zM206.5,293.8h2.5v2.5h-2.5zM169.5,265.0h2.5v2.5h-2.5zM162.6,294.3h2.5v2.5h-2.5zM173.3,264.5h2.5v2.5h-2.5zM201.7,260.6h2.5v2.5h-2.5zM188.0,260.8h2.5v2.5h-2.5zM194.7,272.9h2.5v2.5h-2.5zM203.8,260.6h2.5v2.5h-2.5zM183.7,238.2h2.5v2.5h-2.5zM160.1,249.3h2.5v2.5h-2.5zM217.9,260.7h2.5v2.5h-2.5zM168.3,260.9h2.5v2.5h-2.5zM204.3,286.4h2.5v2.5h-2.5z" fill="#4aa546"/><path d="M214.6,242.8h2.5v2.5h-2.5zM208.8,248.4h2.5v2.5h-2.5zM204.5,252.0h2.5v2.5h-2.5zM196.4,271.0h2.5v2.5h-2.5zM159.0,277.8h2.5v2.5h-2.5zM168.3,263.1h2.5v2.5h-2.5zM210.0,272.5h2.5v2.5h-2.5zM205.3,247.9h2.5v2.5h-2.5zM189.1,240.2h2.5v2.5h-2.5zM189.2,237.1h2.5v2.5h-2.5zM216.1,246.8h2.5v2.5h-2.5zM196.3,265.2h2.5v2.5h-2.5zM185.4,291.0h2.5v2.5h-2.5zM198.4,282.1h2.5v2.5h-2.5zM169.8,238.4h2.5v2.5h-2.5z" fill="#4eaacb"/><path d="M93.7,398.8h2.5v2.5h-2.5zM89.0,402.3h2.5v2.5h-2.5zM89.6,393.3h2.5v2.5h-2.5zM77.0,375.7h2.5v2.5h-2.5zM95.8,373.3h2.5v2.5h-2.5zM97.8,396.8h2.5v2.5h-2.5zM85.1,408.6h2.5v2.5h-2.5zM86.2,390.4h2.5v2.5h-2.5zM102.7,393.7h2.5v2.5h-2.5zM91.4,368.8h2.5v2.5h-2.5zM95.9,384.4h2.5v2.5h-2.5zM77.8,401.6h2.5v2.5h-2.5zM86.8,381.5h2.5v2.5h-2.5zM87.6,381.7h2.5v2.5h-2.5zM87.0,407.3h2.5v2.5h-2.5zM71.6,414.3h2.5v2.5h-2.5zM97.0,402.0h2.5v2.5h-2.5zM76.9,401.9h2.5v2.5h-2.5zM71.0,398.2h2.5v2.5h-2.5zM85.5,416.7h2.5v2.5h-2.5zM74.4,394.6h2.5v2.5h-2.5zM93.6,418.8h2.5v2.5h-2.5zM88.8,389.9h2.5v2.5h-2.5zM91.6,409.8h2.5v2.5h-2.5zM99.3,387.3h2.5v2.5h-2.5zM99.1,394.2h2.5v2.5h-2.5zM99.6,394.1h2.5v2.5h-2.5zM77.1,378.4h2.5v2.5h-2.5zM108.7,370.3h2.5v2.5h-2.5zM94.3,408.9h2.5v2.5h-2.5zM86.5,410.6h2.5v2.5h-2.5zM91.4,418.1h2.5v2.5h-2.5zM105.1,373.9h2.5v2.5h-2.5zM100.0,385.6h2.5v2.5h-2.5zM98.8,412.5h2.5v2.5h-2.5z" fill="#f2a04a"/><path d="M166.3,384.9h2.5v2.5h-2.5zM195.9,337.6h2.5v2.5h-2.5zM165.5,413.4h2.5v2.5h-2.5zM187.0,355.7h2.5v2.5h-2.5zM201.8,412.8h2.5v2.5h-2.5zM181.4,414.4h2.5v2.5h-2.5zM181.6,415.2h2.5v2.5h-2.5zM204.0,339.9h2.5v2.5h-2.5zM216.3,338.4h2.5v2.5h-2.5zM168.9,382.0h2.5v2.5h-2.5zM219.4,330.7h2.5v2.5h-2.5zM218.0,394.7h2.5v2.5h-2.5zM204.3,362.3h2.5v2.5h-2.5zM185.2,354.2h2.5v2.5h-2.5zM192.6,351.7h2.5v2.5h-2.5zM169.3,362.1h2.5v2.5h-2.5zM167.2,393.4h2.5v2.5h-2.5zM175.4,354.2h2.5v2.5h-2.5zM188.2,393.6h2.5v2.5h-2.5zM211.4,403.1h2.5v2.5h-2.5zM178.1,402.3h2.5v2.5h-2.5zM216.5,380.2h2.5v2.5h-2.5zM217.3,386.9h2.5v2.5h-2.5zM177.6,349.0h2.5v2.5h-2.5zM209.3,346.4h2.5v2.5h-2.5z" fill="#f2a04a"/></g>
<g clip-path="url(#dc7)"><path d="M167.3,367.8h2.5v2.5h-2.5zM156.5,364.8h2.5v2.5h-2.5zM144.5,365.4h2.5v2.5h-2.5zM159.7,368.3h2.5v2.5h-2.5zM160.5,382.1h2.5v2.5h-2.5zM157.6,362.7h2.5v2.5h-2.5zM146.6,369.5h2.5v2.5h-2.5zM153.0,388.1h2.5v2.5h-2.5zM161.7,374.0h2.5v2.5h-2.5zM147.9,372.7h2.5v2.5h-2.5zM166.7,386.0h2.5v2.5h-2.5zM151.9,370.4h2.5v2.5h-2.5zM152.5,381.1h2.5v2.5h-2.5zM164.8,366.7h2.5v2.5h-2.5zM157.9,360.8h2.5v2.5h-2.5zM157.8,362.7h2.5v2.5h-2.5zM158.1,368.7h2.5v2.5h-2.5zM162.8,372.1h2.5v2.5h-2.5zM162.2,377.8h2.5v2.5h-2.5zM152.3,384.8h2.5v2.5h-2.5zM153.8,365.0h2.5v2.5h-2.5zM143.9,374.2h2.5v2.5h-2.5zM150.6,370.3h2.5v2.5h-2.5zM163.9,383.8h2.5v2.5h-2.5zM167.2,373.1h2.5v2.5h-2.5zM164.3,373.4h2.5v2.5h-2.5zM160.6,375.6h2.5v2.5h-2.5zM163.1,388.1h2.5v2.5h-2.5zM150.2,380.4h2.5v2.5h-2.5zM166.7,377.1h2.5v2.5h-2.5zM148.4,384.5h2.5v2.5h-2.5zM158.9,380.3h2.5v2.5h-2.5zM147.6,364.1h2.5v2.5h-2.5zM145.5,377.3h2.5v2.5h-2.5zM166.1,383.4h2.5v2.5h-2.5z" fill="#4eaacb"/><path d="M158.4,384.2h2.5v2.5h-2.5zM150.5,387.3h2.5v2.5h-2.5zM166.0,389.4h2.5v2.5h-2.5zM159.5,370.6h2.5v2.5h-2.5zM164.3,364.1h2.5v2.5h-2.5zM157.5,364.8h2.5v2.5h-2.5zM163.4,377.7h2.5v2.5h-2.5zM163.3,364.9h2.5v2.5h-2.5zM162.0,384.6h2.5v2.5h-2.5zM147.1,363.9h2.5v2.5h-2.5zM145.7,368.6h2.5v2.5h-2.5zM162.0,363.5h2.5v2.5h-2.5zM167.1,373.4h2.5v2.5h-2.5zM149.8,366.0h2.5v2.5h-2.5zM146.2,375.3h2.5v2.5h-2.5z" fill="#fff"/></g>
<g clip-path="url(#dc8)"><path d="M140.2,378.0h2.5v2.5h-2.5zM145.0,384.3h2.5v2.5h-2.5zM143.0,375.0h2.5v2.5h-2.5zM134.0,378.8h2.5v2.5h-2.5zM150.2,382.6h2.5v2.5h-2.5zM140.4,382.8h2.5v2.5h-2.5zM131.1,383.0h2.5v2.5h-2.5zM143.1,377.3h2.5v2.5h-2.5zM136.6,379.7h2.5v2.5h-2.5zM149.8,379.2h2.5v2.5h-2.5zM129.4,384.5h2.5v2.5h-2.5zM147.8,378.8h2.5v2.5h-2.5zM144.7,386.5h2.5v2.5h-2.5zM137.4,382.7h2.5v2.5h-2.5zM140.8,381.3h2.5v2.5h-2.5zM140.6,384.9h2.5v2.5h-2.5zM149.0,385.9h2.5v2.5h-2.5zM131.6,385.0h2.5v2.5h-2.5zM131.3,376.6h2.5v2.5h-2.5zM132.1,375.8h2.5v2.5h-2.5z" fill="#4eaacb"/><path d="M135.7,384.0h2.5v2.5h-2.5zM130.7,378.2h2.5v2.5h-2.5zM137.3,385.5h2.5v2.5h-2.5zM136.4,381.9h2.5v2.5h-2.5zM131.0,376.8h2.5v2.5h-2.5zM144.1,381.4h2.5v2.5h-2.5zM144.6,380.1h2.5v2.5h-2.5zM139.5,377.2h2.5v2.5h-2.5zM133.7,375.4h2.5v2.5h-2.5zM132.4,380.2h2.5v2.5h-2.5z" fill="#f2a04a"/></g>
<g clip-path="url(#dc0)"><path d="M161.7,186.9h2.5v2.5h-2.5zM184.0,196.7h2.5v2.5h-2.5zM156.9,195.7h2.5v2.5h-2.5zM186.8,195.5h2.5v2.5h-2.5zM143.9,198.4h2.5v2.5h-2.5zM154.7,194.7h2.5v2.5h-2.5zM150.6,190.3h2.5v2.5h-2.5zM161.2,192.5h2.5v2.5h-2.5zM178.1,195.6h2.5v2.5h-2.5zM181.0,196.2h2.5v2.5h-2.5zM171.3,189.4h2.5v2.5h-2.5zM178.7,191.2h2.5v2.5h-2.5zM179.3,186.4h2.5v2.5h-2.5zM186.7,196.6h2.5v2.5h-2.5zM151.8,194.7h2.5v2.5h-2.5zM168.0,190.8h2.5v2.5h-2.5zM179.6,192.2h2.5v2.5h-2.5zM173.5,196.4h2.5v2.5h-2.5zM149.7,180.1h2.5v2.5h-2.5zM155.9,185.9h2.5v2.5h-2.5z" fill="#4eaacb"/><path d="M165.5,188.4h2.5v2.5h-2.5zM178.1,194.9h2.5v2.5h-2.5zM158.3,189.7h2.5v2.5h-2.5zM171.3,192.9h2.5v2.5h-2.5zM186.5,193.6h2.5v2.5h-2.5zM183.0,192.0h2.5v2.5h-2.5zM154.9,184.5h2.5v2.5h-2.5zM143.1,188.8h2.5v2.5h-2.5z" fill="#4aa546"/></g></g>
<circle cx="297" cy="338.0" r="3.3" fill="#825c92"/>
<text x="308.9" y="341.4" font-size="9.7" font-weight="normal" text-anchor="start" fill="#1a1a1a" >S'gonia</text>
<circle cx="297" cy="350.3" r="3.3" fill="#f69c56"/>
<text x="308.9" y="353.65999999999997" font-size="9.7" font-weight="normal" text-anchor="start" fill="#1a1a1a" >S'cyte</text>
<circle cx="297" cy="362.5" r="3.3" fill="#2f8659"/>
<text x="308.9" y="365.91999999999996" font-size="9.7" font-weight="normal" text-anchor="start" fill="#1a1a1a" >S'tid</text>
<circle cx="297" cy="374.8" r="3.3" fill="#da88a5"/>
<text x="308.9" y="378.17999999999995" font-size="9.7" font-weight="normal" text-anchor="start" fill="#1a1a1a" >Sertoli cell</text>
<circle cx="297" cy="387.0" r="3.3" fill="#86ad42"/>
<text x="308.9" y="390.44" font-size="9.7" font-weight="normal" text-anchor="start" fill="#1a1a1a" >Myoid/stromal cell</text>
<circle cx="297" cy="399.3" r="3.3" fill="#24679f"/>
<text x="308.9" y="402.7" font-size="9.7" font-weight="normal" text-anchor="start" fill="#1a1a1a" >Leydig cell</text>
<circle cx="297" cy="411.6" r="3.3" fill="#a4466d"/>
<text x="308.9" y="414.96" font-size="9.7" font-weight="normal" text-anchor="start" fill="#1a1a1a" >Vascular cell</text>
<circle cx="297" cy="423.8" r="3.3" fill="#828282"/>
<text x="308.9" y="427.21999999999997" font-size="9.7" font-weight="normal" text-anchor="start" fill="#1a1a1a" >Macrophage</text>
<circle cx="297" cy="436.1" r="3.3" fill="#e9b538"/>
<text x="308.9" y="439.47999999999996" font-size="9.7" font-weight="normal" text-anchor="start" fill="#1a1a1a" >Lymphocyte</text>
<text x="0.0" y="729.5" font-size="18" font-weight="bold" text-anchor="start" fill="#1a1a1a" >e</text>
<defs><clipPath id="ecTop"><rect x="150" y="200" width="150" height="122"/></clipPath><clipPath id="ecBot"><rect x="150" y="322" width="150" height="40"/></clipPath><clipPath id="ecOr9"><rect x="238" y="262" width="40" height="90"/><rect x="200" y="326" width="70" height="25"/></clipPath><clipPath id="ecGr30"><rect x="180" y="222" width="50" height="60"/></clipPath></defs>
<text x="71.6" y="738.2" font-size="8.9" font-weight="bold" text-anchor="middle" fill="#1a1a1a" >PD9</text>
<g transform="translate(2.2,655.5) scale(0.473,0.508)"><path d="M145.70,192.50 C145.57,191.33 147.57,189.18 148.80,188.10 C150.03,187.02 151.87,186.95 153.10,186.00 C154.33,185.05 155.32,182.63 156.20,182.40 C157.08,182.17 157.38,184.30 158.40,184.60 C159.42,184.90 161.43,183.97 162.30,184.20 C163.17,184.43 162.50,185.78 163.60,186.00 C164.70,186.22 167.43,185.95 168.90,185.50 C170.37,185.05 170.93,183.88 172.40,183.30 C173.87,182.72 175.95,182.00 177.70,182.00 C179.45,182.00 181.23,182.57 182.90,183.30 C184.57,184.03 187.70,185.73 187.70,186.40 C187.70,187.07 184.57,186.72 182.90,187.30 C181.23,187.88 179.30,189.40 177.70,189.90 C176.10,190.40 174.77,190.45 173.30,190.30 C171.83,190.15 170.37,189.00 168.90,189.00 C167.43,189.00 165.67,189.72 164.50,190.30 C163.33,190.88 162.05,191.55 161.90,192.50 C161.75,193.45 164.03,195.42 163.60,196.00 C163.17,196.58 160.82,195.78 159.30,196.00 C157.78,196.22 156.12,197.45 154.50,197.30 C152.88,197.15 151.07,195.90 149.60,195.10 C148.13,194.30 145.83,193.67 145.70,192.50Z" fill="#86ad42" fill-opacity="1.0"/>
<path d="M27.30,276.10 C28.90,275.38 31.48,277.48 33.90,278.80 C36.32,280.12 39.32,282.25 41.80,284.00 C44.28,285.75 47.05,286.97 48.80,289.30 C50.55,291.63 51.35,295.38 52.30,298.00 C53.25,300.62 54.50,302.80 54.50,305.00 C54.50,307.20 52.45,309.08 52.30,311.20 C52.15,313.32 54.03,316.25 53.60,317.70 C53.17,319.15 50.07,318.37 49.70,319.90 C49.33,321.43 51.98,325.88 51.40,326.90 C50.82,327.92 47.80,326.58 46.20,326.00 C44.60,325.42 43.55,324.27 41.80,323.40 C40.05,322.53 37.17,322.55 35.70,320.80 C34.23,319.05 34.32,315.23 33.00,312.90 C31.68,310.57 29.12,309.13 27.80,306.80 C26.48,304.47 26.42,300.22 25.10,298.90 C23.78,297.58 21.28,299.48 19.90,298.90 C18.52,298.32 17.10,296.72 16.80,295.40 C16.50,294.08 17.15,292.32 18.10,291.00 C19.05,289.68 21.47,288.82 22.50,287.50 C23.53,286.18 23.50,285.00 24.30,283.10 C25.10,281.20 25.70,276.82 27.30,276.10Z" fill="#24679f" fill-opacity="0.85"/>
<path d="M93.80,321.50 C93.95,320.25 95.10,319.75 96.40,318.80 C97.70,317.85 99.57,316.60 101.60,315.80 C103.63,315.00 106.55,314.80 108.60,314.00 C110.65,313.20 112.72,311.15 113.90,311.00 C115.08,310.85 116.13,312.30 115.70,313.10 C115.27,313.90 111.75,314.48 111.30,315.80 C110.85,317.12 111.98,319.83 113.00,321.00 C114.02,322.17 116.52,323.23 117.40,322.80 C118.28,322.37 117.57,318.85 118.30,318.40 C119.03,317.95 120.63,320.53 121.80,320.10 C122.97,319.67 124.57,315.80 125.30,315.80 C126.03,315.80 126.35,318.65 126.20,320.10 C126.05,321.55 123.82,322.97 124.40,324.50 C124.98,326.03 129.85,328.57 129.70,329.30 C129.55,330.03 125.70,328.97 123.50,328.90 C121.30,328.83 118.25,329.05 116.50,328.90 C114.75,328.75 114.45,328.15 113.00,328.00 C111.55,327.85 109.83,327.70 107.80,328.00 C105.77,328.30 102.70,329.35 100.80,329.80 C98.90,330.25 97.28,331.28 96.40,330.70 C95.52,330.12 95.93,327.83 95.50,326.30 C95.07,324.77 93.65,322.75 93.80,321.50Z" fill="#a4466d" fill-opacity="0.95"/>
<path d="M148.20,366.10 C148.63,365.38 152.22,364.72 153.90,365.30 C155.58,365.88 156.70,368.15 158.30,369.60 C159.90,371.05 161.90,372.53 163.50,374.00 C165.10,375.47 167.45,377.08 167.90,378.40 C168.35,379.72 166.93,380.88 166.20,381.90 C165.47,382.92 164.53,384.50 163.50,384.50 C162.47,384.50 160.87,382.92 160.00,381.90 C159.13,380.88 159.32,379.72 158.30,378.40 C157.28,377.08 155.07,375.47 153.90,374.00 C152.73,372.53 152.25,370.92 151.30,369.60 C150.35,368.28 147.77,366.82 148.20,366.10Z" fill="#828282" fill-opacity="0.75"/>
<path d="M132.90,386.70 C132.90,385.97 135.53,383.22 136.40,381.90 C137.27,380.58 137.15,379.38 138.10,378.80 C139.05,378.22 140.93,377.95 142.10,378.40 C143.27,378.85 143.72,380.33 145.10,381.50 C146.48,382.67 150.10,384.68 150.40,385.40 C150.70,386.12 148.50,385.80 146.90,385.80 C145.30,385.80 142.55,385.32 140.80,385.40 C139.05,385.48 137.72,386.08 136.40,386.30 C135.08,386.52 132.90,387.43 132.90,386.70Z" fill="#e9b538" fill-opacity="0.85"/></g>
<path d="M49.00,771.90 C50.10,771.08 52.98,770.33 55.20,770.50 C57.42,770.67 60.87,771.48 62.30,772.90 C63.73,774.32 63.97,777.12 63.80,779.00 C63.63,780.88 62.05,782.48 61.30,784.20 C60.55,785.92 59.92,787.50 59.30,789.30 C58.68,791.10 58.97,794.40 57.60,795.00 C56.23,795.60 52.80,793.52 51.10,792.90 C49.40,792.28 48.15,792.25 47.40,791.30 C46.65,790.35 46.15,788.90 46.60,787.20 C47.05,785.50 49.77,783.07 50.10,781.10 C50.43,779.13 48.78,776.93 48.60,775.40 C48.42,773.87 47.90,772.72 49.00,771.90Z" fill="#da88a5"/>
<path d="M99.7,822.6h1.0v1.0h-1.0zM112.4,821.8h1.0v1.0h-1.0zM101.2,822.9h1.0v1.0h-1.0zM92.4,822.2h1.0v1.0h-1.0zM106.2,818.1h1.0v1.0h-1.0zM105.1,823.1h1.0v1.0h-1.0zM101.7,818.2h1.0v1.0h-1.0zM99.3,825.1h1.0v1.0h-1.0zM101.5,823.3h1.0v1.0h-1.0zM100.9,823.5h1.0v1.0h-1.0zM99.8,820.1h1.0v1.0h-1.0zM95.9,819.7h1.0v1.0h-1.0zM108.2,821.2h1.0v1.0h-1.0zM110.3,821.1h1.0v1.0h-1.0zM112.1,821.8h1.0v1.0h-1.0zM114.0,821.2h1.0v1.0h-1.0zM108.5,820.1h1.0v1.0h-1.0zM109.0,819.3h1.0v1.0h-1.0zM102.6,821.6h1.0v1.0h-1.0zM92.6,824.1h1.0v1.0h-1.0zM90.9,823.4h1.0v1.0h-1.0zM90.6,821.4h1.0v1.0h-1.0zM93.1,821.2h1.0v1.0h-1.0zM108.3,820.6h1.0v1.0h-1.0zM89.8,822.8h1.0v1.0h-1.0zM94.0,823.0h1.0v1.0h-1.0zM97.5,821.7h1.0v1.0h-1.0zM113.4,822.0h1.0v1.0h-1.0zM98.8,818.6h1.0v1.0h-1.0zM93.9,823.9h1.0v1.0h-1.0zM103.6,820.3h1.0v1.0h-1.0zM92.2,824.0h1.0v1.0h-1.0zM102.6,825.2h1.0v1.0h-1.0zM104.0,820.2h1.0v1.0h-1.0zM92.2,820.9h1.0v1.0h-1.0zM102.9,818.9h1.0v1.0h-1.0zM97.2,825.5h1.0v1.0h-1.0zM106.1,822.8h1.0v1.0h-1.0zM100.5,824.1h1.0v1.0h-1.0zM89.4,822.5h1.0v1.0h-1.0zM96.9,823.7h1.0v1.0h-1.0zM98.7,824.7h1.0v1.0h-1.0zM104.3,821.1h1.0v1.0h-1.0zM103.2,823.1h1.0v1.0h-1.0zM107.1,821.1h1.0v1.0h-1.0zM107.3,822.8h1.0v1.0h-1.0zM99.3,825.1h1.0v1.0h-1.0zM100.4,819.7h1.0v1.0h-1.0zM106.3,822.1h1.0v1.0h-1.0zM95.6,823.7h1.0v1.0h-1.0zM99.4,825.5h1.0v1.0h-1.0zM96.3,823.6h1.0v1.0h-1.0zM92.8,821.5h1.0v1.0h-1.0zM111.3,821.1h1.0v1.0h-1.0zM103.2,820.5h1.0v1.0h-1.0zM91.1,822.1h1.0v1.0h-1.0zM99.6,820.1h1.0v1.0h-1.0zM93.2,821.3h1.0v1.0h-1.0zM104.4,822.0h1.0v1.0h-1.0zM95.9,825.1h1.0v1.0h-1.0zM106.6,822.7h1.0v1.0h-1.0zM95.8,824.7h1.0v1.0h-1.0zM109.9,819.8h1.0v1.0h-1.0zM104.5,821.6h1.0v1.0h-1.0zM104.5,823.5h1.0v1.0h-1.0zM105.9,819.5h1.0v1.0h-1.0zM100.3,819.3h1.0v1.0h-1.0zM106.8,819.3h1.0v1.0h-1.0zM94.8,820.7h1.0v1.0h-1.0zM106.3,822.3h1.0v1.0h-1.0z" fill="#825c92"/>
<path d="M101.5,828.7h0.9v0.9h-0.9zM110.4,824.4h0.9v0.9h-0.9zM123.8,819.8h0.9v0.9h-0.9zM127.7,817.1h0.9v0.9h-0.9zM123.5,821.0h0.9v0.9h-0.9zM123.5,820.7h0.9v0.9h-0.9zM124.3,820.9h0.9v0.9h-0.9zM123.4,821.1h0.9v0.9h-0.9zM111.7,824.0h0.9v0.9h-0.9zM110.0,824.7h0.9v0.9h-0.9zM128.0,816.9h0.9v0.9h-0.9zM103.4,827.4h0.9v0.9h-0.9zM116.0,823.3h0.9v0.9h-0.9zM116.9,823.0h0.9v0.9h-0.9zM130.3,816.7h0.9v0.9h-0.9zM123.3,821.3h0.9v0.9h-0.9zM117.4,822.9h0.9v0.9h-0.9zM128.0,819.2h0.9v0.9h-0.9zM127.0,819.4h0.9v0.9h-0.9zM129.8,815.6h0.9v0.9h-0.9zM120.3,822.0h0.9v0.9h-0.9zM120.8,821.8h0.9v0.9h-0.9zM128.2,816.8h0.9v0.9h-0.9zM127.1,819.4h0.9v0.9h-0.9zM120.0,822.0h0.9v0.9h-0.9zM100.2,828.9h0.9v0.9h-0.9zM101.5,828.5h0.9v0.9h-0.9zM101.4,829.2h0.9v0.9h-0.9zM128.7,817.8h0.9v0.9h-0.9zM123.4,820.4h0.9v0.9h-0.9zM124.5,821.0h0.9v0.9h-0.9zM127.7,818.7h0.9v0.9h-0.9zM124.2,820.3h0.9v0.9h-0.9zM122.2,821.0h0.9v0.9h-0.9zM118.9,822.7h0.9v0.9h-0.9zM124.2,820.2h0.9v0.9h-0.9zM102.8,827.6h0.9v0.9h-0.9zM113.5,824.0h0.9v0.9h-0.9zM129.6,816.4h0.9v0.9h-0.9zM100.5,828.4h0.9v0.9h-0.9zM110.4,824.6h0.9v0.9h-0.9zM125.9,818.8h0.9v0.9h-0.9zM101.6,828.5h0.9v0.9h-0.9zM128.2,817.9h0.9v0.9h-0.9zM127.1,819.5h0.9v0.9h-0.9zM125.2,820.0h0.9v0.9h-0.9zM125.7,819.3h0.9v0.9h-0.9zM129.7,817.2h0.9v0.9h-0.9zM128.9,818.1h0.9v0.9h-0.9zM124.1,820.9h0.9v0.9h-0.9zM128.1,818.7h0.9v0.9h-0.9zM105.9,825.6h0.9v0.9h-0.9zM126.5,819.0h0.9v0.9h-0.9zM128.3,818.4h0.9v0.9h-0.9zM126.7,818.1h0.9v0.9h-0.9z" fill="#f69c56"/>
<path d="M128.1,812.7h0.9v0.9h-0.9zM122.6,800.9h0.9v0.9h-0.9zM126.4,800.6h0.9v0.9h-0.9zM129.8,808.1h0.9v0.9h-0.9zM129.5,811.9h0.9v0.9h-0.9zM129.6,810.7h0.9v0.9h-0.9zM126.8,804.7h0.9v0.9h-0.9zM124.6,804.7h0.9v0.9h-0.9zM124.0,798.8h0.9v0.9h-0.9zM129.6,811.7h0.9v0.9h-0.9zM125.4,799.9h0.9v0.9h-0.9zM127.2,804.1h0.9v0.9h-0.9zM123.1,801.0h0.9v0.9h-0.9zM128.5,814.3h0.9v0.9h-0.9zM129.4,812.5h0.9v0.9h-0.9zM130.3,811.8h0.9v0.9h-0.9zM127.2,810.3h0.9v0.9h-0.9zM126.9,807.8h0.9v0.9h-0.9z" fill="#f69c56"/>
<circle cx="117.5" cy="772" r="0.5" fill="#f69c56"/>
<path d="M84.1,854.1h1.0v1.0h-1.0zM86.2,859.7h1.0v1.0h-1.0zM86.6,857.4h1.0v1.0h-1.0zM83.3,857.3h1.0v1.0h-1.0zM80.2,856.3h1.0v1.0h-1.0zM82.3,861.9h1.0v1.0h-1.0zM84.0,853.7h1.0v1.0h-1.0zM79.8,856.7h1.0v1.0h-1.0zM84.0,861.7h1.0v1.0h-1.0zM81.8,862.1h1.0v1.0h-1.0zM87.5,858.8h1.0v1.0h-1.0zM87.0,861.8h1.0v1.0h-1.0zM89.1,860.0h1.0v1.0h-1.0zM83.1,854.0h1.0v1.0h-1.0zM88.2,860.4h1.0v1.0h-1.0zM86.8,857.2h1.0v1.0h-1.0zM87.2,859.1h1.0v1.0h-1.0zM80.5,855.8h1.0v1.0h-1.0z" fill="#828282"/>
<path d="M72.5,851.8 Q76.0,853.2 78.0,851" fill="none" stroke="#828282" stroke-width="0.7"/>
<text x="209.8" y="738.2" font-size="8.9" font-weight="bold" text-anchor="middle" fill="#1a1a1a" >PD30</text>
<g transform="translate(140.8,655.5) scale(0.473,0.508)"><path d="M145.70,192.50 C145.57,191.33 147.57,189.18 148.80,188.10 C150.03,187.02 151.87,186.95 153.10,186.00 C154.33,185.05 155.32,182.63 156.20,182.40 C157.08,182.17 157.38,184.30 158.40,184.60 C159.42,184.90 161.43,183.97 162.30,184.20 C163.17,184.43 162.50,185.78 163.60,186.00 C164.70,186.22 167.43,185.95 168.90,185.50 C170.37,185.05 170.93,183.88 172.40,183.30 C173.87,182.72 175.95,182.00 177.70,182.00 C179.45,182.00 181.23,182.57 182.90,183.30 C184.57,184.03 187.70,185.73 187.70,186.40 C187.70,187.07 184.57,186.72 182.90,187.30 C181.23,187.88 179.30,189.40 177.70,189.90 C176.10,190.40 174.77,190.45 173.30,190.30 C171.83,190.15 170.37,189.00 168.90,189.00 C167.43,189.00 165.67,189.72 164.50,190.30 C163.33,190.88 162.05,191.55 161.90,192.50 C161.75,193.45 164.03,195.42 163.60,196.00 C163.17,196.58 160.82,195.78 159.30,196.00 C157.78,196.22 156.12,197.45 154.50,197.30 C152.88,197.15 151.07,195.90 149.60,195.10 C148.13,194.30 145.83,193.67 145.70,192.50Z" fill="#86ad42" fill-opacity="0.85"/>
<path d="M96.00,229.20 C96.73,228.38 98.08,227.62 99.90,227.40 C101.72,227.18 104.27,227.53 106.90,227.90 C109.53,228.27 113.22,228.73 115.70,229.60 C118.18,230.47 120.05,231.93 121.80,233.10 C123.55,234.27 125.03,235.65 126.20,236.60 C127.37,237.55 127.50,238.35 128.80,238.80 C130.10,239.25 131.95,239.00 134.00,239.30 C136.05,239.60 140.37,240.02 141.10,240.60 C141.83,241.18 138.98,241.42 138.40,242.80 C137.82,244.18 138.03,246.87 137.60,248.90 C137.17,250.93 137.12,253.68 135.80,255.00 C134.48,256.32 131.75,256.07 129.70,256.80 C127.65,257.53 125.12,258.23 123.50,259.40 C121.88,260.57 120.87,261.90 120.00,263.80 C119.13,265.70 118.95,268.90 118.30,270.80 C117.65,272.70 116.83,275.05 116.10,275.20 C115.37,275.35 114.70,273.32 113.90,271.70 C113.10,270.08 112.18,266.82 111.30,265.50 C110.42,264.18 109.63,263.22 108.60,263.80 C107.57,264.38 106.27,267.40 105.10,269.00 C103.93,270.60 103.05,272.80 101.60,273.40 C100.15,274.00 97.85,273.92 96.40,272.60 C94.95,271.28 93.20,267.55 92.90,265.50 C92.60,263.45 93.43,261.47 94.60,260.30 C95.77,259.13 98.58,259.38 99.90,258.50 C101.22,257.62 102.35,256.45 102.50,255.00 C102.65,253.55 101.60,251.83 100.80,249.80 C100.00,247.77 98.43,244.85 97.70,242.80 C96.97,240.75 96.77,239.25 96.40,237.50 C96.03,235.75 95.57,233.68 95.50,232.30 C95.43,230.92 95.27,230.02 96.00,229.20Z" fill="#da88a5" fill-opacity="0.9"/>
<path d="M27.30,276.10 C28.90,275.38 31.48,277.48 33.90,278.80 C36.32,280.12 39.32,282.25 41.80,284.00 C44.28,285.75 47.05,286.97 48.80,289.30 C50.55,291.63 51.35,295.38 52.30,298.00 C53.25,300.62 54.50,302.80 54.50,305.00 C54.50,307.20 52.45,309.08 52.30,311.20 C52.15,313.32 54.03,316.25 53.60,317.70 C53.17,319.15 50.07,318.37 49.70,319.90 C49.33,321.43 51.98,325.88 51.40,326.90 C50.82,327.92 47.80,326.58 46.20,326.00 C44.60,325.42 43.55,324.27 41.80,323.40 C40.05,322.53 37.17,322.55 35.70,320.80 C34.23,319.05 34.32,315.23 33.00,312.90 C31.68,310.57 29.12,309.13 27.80,306.80 C26.48,304.47 26.42,300.22 25.10,298.90 C23.78,297.58 21.28,299.48 19.90,298.90 C18.52,298.32 17.10,296.72 16.80,295.40 C16.50,294.08 17.15,292.32 18.10,291.00 C19.05,289.68 21.47,288.82 22.50,287.50 C23.53,286.18 23.50,285.00 24.30,283.10 C25.10,281.20 25.70,276.82 27.30,276.10Z" fill="#24679f" fill-opacity="1.0"/>
<path d="M93.80,321.50 C93.95,320.25 95.10,319.75 96.40,318.80 C97.70,317.85 99.57,316.60 101.60,315.80 C103.63,315.00 106.55,314.80 108.60,314.00 C110.65,313.20 112.72,311.15 113.90,311.00 C115.08,310.85 116.13,312.30 115.70,313.10 C115.27,313.90 111.75,314.48 111.30,315.80 C110.85,317.12 111.98,319.83 113.00,321.00 C114.02,322.17 116.52,323.23 117.40,322.80 C118.28,322.37 117.57,318.85 118.30,318.40 C119.03,317.95 120.63,320.53 121.80,320.10 C122.97,319.67 124.57,315.80 125.30,315.80 C126.03,315.80 126.35,318.65 126.20,320.10 C126.05,321.55 123.82,322.97 124.40,324.50 C124.98,326.03 129.85,328.57 129.70,329.30 C129.55,330.03 125.70,328.97 123.50,328.90 C121.30,328.83 118.25,329.05 116.50,328.90 C114.75,328.75 114.45,328.15 113.00,328.00 C111.55,327.85 109.83,327.70 107.80,328.00 C105.77,328.30 102.70,329.35 100.80,329.80 C98.90,330.25 97.28,331.28 96.40,330.70 C95.52,330.12 95.93,327.83 95.50,326.30 C95.07,324.77 93.65,322.75 93.80,321.50Z" fill="#a4466d" fill-opacity="0.95"/>
<path d="M148.20,366.10 C148.63,365.38 152.22,364.72 153.90,365.30 C155.58,365.88 156.70,368.15 158.30,369.60 C159.90,371.05 161.90,372.53 163.50,374.00 C165.10,375.47 167.45,377.08 167.90,378.40 C168.35,379.72 166.93,380.88 166.20,381.90 C165.47,382.92 164.53,384.50 163.50,384.50 C162.47,384.50 160.87,382.92 160.00,381.90 C159.13,380.88 159.32,379.72 158.30,378.40 C157.28,377.08 155.07,375.47 153.90,374.00 C152.73,372.53 152.25,370.92 151.30,369.60 C150.35,368.28 147.77,366.82 148.20,366.10Z" fill="#828282" fill-opacity="0.75"/>
<path d="M132.90,386.70 C132.90,385.97 135.53,383.22 136.40,381.90 C137.27,380.58 137.15,379.38 138.10,378.80 C139.05,378.22 140.93,377.95 142.10,378.40 C143.27,378.85 143.72,380.33 145.10,381.50 C146.48,382.67 150.10,384.68 150.40,385.40 C150.70,386.12 148.50,385.80 146.90,385.80 C145.30,385.80 142.55,385.32 140.80,385.40 C139.05,385.48 137.72,386.08 136.40,386.30 C135.08,386.52 132.90,387.43 132.90,386.70Z" fill="#e9b538" fill-opacity="0.85"/></g>
<path d="M250.00,778.10 C250.72,778.25 252.33,780.88 253.50,782.50 C254.67,784.12 255.83,786.05 257.00,787.80 C258.17,789.55 259.55,790.97 260.50,793.00 C261.45,795.03 261.67,797.95 262.70,800.00 C263.73,802.05 265.75,803.55 266.70,805.30 C267.65,807.05 267.82,808.45 268.40,810.50 C268.98,812.55 269.98,815.83 270.20,817.60 C270.42,819.37 270.43,819.80 269.70,821.10 C268.97,822.40 267.62,824.23 265.80,825.40 C263.98,826.57 261.43,827.50 258.80,828.10 C256.17,828.70 252.92,828.85 250.00,829.00 C247.08,829.15 242.90,829.45 241.30,829.00 C239.70,828.55 239.97,827.18 240.40,826.30 C240.83,825.42 242.00,824.28 243.90,823.70 C245.80,823.12 249.75,823.10 251.80,822.80 C253.85,822.50 254.75,822.18 256.20,821.90 C257.65,821.62 259.05,821.82 260.50,821.10 C261.95,820.38 264.32,819.22 264.90,817.60 C265.48,815.98 264.73,813.30 264.00,811.40 C263.27,809.50 261.52,807.80 260.50,806.20 C259.48,804.60 258.62,803.42 257.90,801.80 C257.18,800.18 257.07,798.25 256.20,796.50 C255.33,794.75 253.73,792.90 252.70,791.30 C251.67,789.70 250.58,788.52 250.00,786.90 C249.42,785.28 249.20,783.07 249.20,781.60 C249.20,780.13 249.28,777.95 250.00,778.10Z" fill="#f69c56"/>
<path d="M226.40,822.80 C227.42,821.78 232.62,820.47 235.10,819.30 C237.58,818.13 238.52,816.53 241.30,815.80 C244.08,815.07 249.47,814.32 251.80,814.90 C254.13,815.48 254.72,818.13 255.30,819.30 C255.88,820.47 256.90,821.17 255.30,821.90 C253.70,822.63 248.18,822.82 245.70,823.70 C243.22,824.58 242.02,826.55 240.40,827.20 C238.78,827.85 237.90,827.90 236.00,827.60 C234.10,827.30 230.60,826.20 229.00,825.40 C227.40,824.60 225.38,823.82 226.40,822.80Z" fill="#825c92"/>
<path d="M220.7,790.9h1.0v1.0h-1.0zM225.6,777.9h1.0v1.0h-1.0zM239.5,789.6h1.0v1.0h-1.0zM226.6,790.3h1.0v1.0h-1.0zM229.4,793.0h1.0v1.0h-1.0zM244.5,780.9h1.0v1.0h-1.0zM225.3,793.8h1.0v1.0h-1.0zM236.4,774.8h1.0v1.0h-1.0zM234.0,789.8h1.0v1.0h-1.0zM222.4,789.4h1.0v1.0h-1.0zM246.8,782.2h1.0v1.0h-1.0zM247.2,783.2h1.0v1.0h-1.0zM238.1,773.7h1.0v1.0h-1.0zM235.2,788.9h1.0v1.0h-1.0zM243.7,785.4h1.0v1.0h-1.0zM223.3,783.6h1.0v1.0h-1.0zM224.0,793.6h1.0v1.0h-1.0zM232.5,773.5h1.0v1.0h-1.0zM242.0,773.1h1.0v1.0h-1.0zM239.7,773.8h1.0v1.0h-1.0zM233.3,773.2h1.0v1.0h-1.0zM231.9,790.4h1.0v1.0h-1.0zM233.5,783.7h1.0v1.0h-1.0zM232.0,783.2h1.0v1.0h-1.0zM235.4,773.3h1.0v1.0h-1.0zM231.7,777.4h1.0v1.0h-1.0zM238.6,787.1h1.0v1.0h-1.0zM245.8,782.8h1.0v1.0h-1.0zM227.9,787.0h1.0v1.0h-1.0zM245.7,778.1h1.0v1.0h-1.0zM236.4,784.1h1.0v1.0h-1.0zM225.2,781.7h1.0v1.0h-1.0zM247.0,787.5h1.0v1.0h-1.0zM226.0,797.6h1.0v1.0h-1.0zM228.2,777.8h1.0v1.0h-1.0zM243.7,778.2h1.0v1.0h-1.0zM225.0,788.0h1.0v1.0h-1.0zM245.0,778.9h1.0v1.0h-1.0zM240.3,781.2h1.0v1.0h-1.0zM234.3,787.8h1.0v1.0h-1.0zM232.7,794.9h1.0v1.0h-1.0zM228.5,781.6h1.0v1.0h-1.0zM246.3,786.3h1.0v1.0h-1.0zM240.7,779.6h1.0v1.0h-1.0zM245.0,788.3h1.0v1.0h-1.0zM224.9,797.6h1.0v1.0h-1.0zM231.6,780.3h1.0v1.0h-1.0zM223.5,790.6h1.0v1.0h-1.0zM230.9,786.3h1.0v1.0h-1.0zM228.9,793.3h1.0v1.0h-1.0zM225.2,781.2h1.0v1.0h-1.0zM239.3,774.8h1.0v1.0h-1.0zM237.5,776.9h1.0v1.0h-1.0zM236.9,789.5h1.0v1.0h-1.0zM228.1,797.6h1.0v1.0h-1.0z" fill="#2f8659"/>
<path d="M221.3,859.9h1.0v1.0h-1.0zM220.7,854.9h1.0v1.0h-1.0zM221.8,862.3h1.0v1.0h-1.0zM219.8,856.7h1.0v1.0h-1.0zM220.0,854.3h1.0v1.0h-1.0zM219.6,855.5h1.0v1.0h-1.0zM225.5,858.6h1.0v1.0h-1.0zM221.6,857.2h1.0v1.0h-1.0zM218.8,855.5h1.0v1.0h-1.0zM221.1,857.5h1.0v1.0h-1.0zM223.0,859.3h1.0v1.0h-1.0zM219.0,856.1h1.0v1.0h-1.0zM220.3,859.4h1.0v1.0h-1.0zM222.9,856.4h1.0v1.0h-1.0zM224.3,860.0h1.0v1.0h-1.0zM225.1,862.8h1.0v1.0h-1.0zM222.8,860.9h1.0v1.0h-1.0zM223.1,858.6h1.0v1.0h-1.0z" fill="#828282"/>
<path d="M211.10000000000002,851.8 Q214.60000000000002,853.2 216.60000000000002,851" fill="none" stroke="#828282" stroke-width="0.7"/>
<text x="347.6" y="738.2" font-size="8.9" font-weight="bold" text-anchor="middle" fill="#1a1a1a" >PD60</text>
<g transform="translate(279.4,655.5) scale(0.473,0.508)"><path d="M145.70,192.50 C145.57,191.33 147.57,189.18 148.80,188.10 C150.03,187.02 151.87,186.95 153.10,186.00 C154.33,185.05 155.32,182.63 156.20,182.40 C157.08,182.17 157.38,184.30 158.40,184.60 C159.42,184.90 161.43,183.97 162.30,184.20 C163.17,184.43 162.50,185.78 163.60,186.00 C164.70,186.22 167.43,185.95 168.90,185.50 C170.37,185.05 170.93,183.88 172.40,183.30 C173.87,182.72 175.95,182.00 177.70,182.00 C179.45,182.00 181.23,182.57 182.90,183.30 C184.57,184.03 187.70,185.73 187.70,186.40 C187.70,187.07 184.57,186.72 182.90,187.30 C181.23,187.88 179.30,189.40 177.70,189.90 C176.10,190.40 174.77,190.45 173.30,190.30 C171.83,190.15 170.37,189.00 168.90,189.00 C167.43,189.00 165.67,189.72 164.50,190.30 C163.33,190.88 162.05,191.55 161.90,192.50 C161.75,193.45 164.03,195.42 163.60,196.00 C163.17,196.58 160.82,195.78 159.30,196.00 C157.78,196.22 156.12,197.45 154.50,197.30 C152.88,197.15 151.07,195.90 149.60,195.10 C148.13,194.30 145.83,193.67 145.70,192.50Z" fill="#86ad42" fill-opacity="0.95"/>
<path d="M27.30,276.10 C28.90,275.38 31.48,277.48 33.90,278.80 C36.32,280.12 39.32,282.25 41.80,284.00 C44.28,285.75 47.05,286.97 48.80,289.30 C50.55,291.63 51.35,295.38 52.30,298.00 C53.25,300.62 54.50,302.80 54.50,305.00 C54.50,307.20 52.45,309.08 52.30,311.20 C52.15,313.32 54.03,316.25 53.60,317.70 C53.17,319.15 50.07,318.37 49.70,319.90 C49.33,321.43 51.98,325.88 51.40,326.90 C50.82,327.92 47.80,326.58 46.20,326.00 C44.60,325.42 43.55,324.27 41.80,323.40 C40.05,322.53 37.17,322.55 35.70,320.80 C34.23,319.05 34.32,315.23 33.00,312.90 C31.68,310.57 29.12,309.13 27.80,306.80 C26.48,304.47 26.42,300.22 25.10,298.90 C23.78,297.58 21.28,299.48 19.90,298.90 C18.52,298.32 17.10,296.72 16.80,295.40 C16.50,294.08 17.15,292.32 18.10,291.00 C19.05,289.68 21.47,288.82 22.50,287.50 C23.53,286.18 23.50,285.00 24.30,283.10 C25.10,281.20 25.70,276.82 27.30,276.10Z" fill="#24679f" fill-opacity="0.95"/>
<ellipse cx="101" cy="322" rx="6" ry="5" fill="#a4466d" fill-opacity="0.85"/>
<ellipse cx="115" cy="324" rx="6" ry="3" fill="#a4466d" fill-opacity="0.3"/>
<path d="M220.20,228.50 C217.85,226.90 211.32,228.65 206.90,230.40 C202.48,232.15 198.12,235.35 193.70,239.00 C189.28,242.65 184.20,247.57 180.40,252.30 C176.60,257.03 173.75,262.67 170.90,267.40 C168.05,272.13 165.05,275.95 163.30,280.70 C161.55,285.45 160.72,290.20 160.40,295.90 C160.08,301.60 160.83,309.22 161.40,314.90 C161.97,320.58 162.42,325.30 163.80,330.00 C165.18,334.70 167.62,339.17 169.70,343.10 C171.78,347.03 173.88,350.75 176.30,353.60 C178.72,356.45 181.35,358.22 184.20,360.20 C187.05,362.18 190.33,363.53 193.40,365.50 C196.47,367.47 200.42,369.60 202.60,372.00 C204.78,374.40 205.63,377.27 206.50,379.90 C207.37,382.53 207.80,385.17 207.80,387.80 C207.80,390.43 207.37,393.50 206.50,395.70 C205.63,397.90 204.13,399.68 202.60,401.00 C201.07,402.32 199.72,402.85 197.30,403.60 C194.88,404.35 191.60,405.50 188.10,405.50 C184.60,405.50 180.02,404.03 176.30,403.60 C172.58,403.17 168.78,402.62 165.80,402.90 C162.82,403.18 161.08,404.18 158.40,405.30 C155.72,406.42 153.10,408.75 149.70,409.60 C146.30,410.45 141.90,410.88 138.00,410.40 C134.10,409.92 129.70,408.05 126.30,406.70 C122.90,405.35 120.03,404.48 117.60,402.30 C115.17,400.12 113.17,395.78 111.70,393.60 C110.23,391.42 109.28,391.15 108.80,389.20 C108.32,387.25 109.28,384.33 108.80,381.90 C108.32,379.47 107.37,376.30 105.90,374.60 C104.43,372.90 102.20,371.95 100.00,371.70 C97.80,371.45 95.37,372.37 92.70,373.10 C90.03,373.83 86.67,374.88 84.00,376.10 C81.33,377.32 78.53,378.47 76.70,380.40 C74.87,382.33 73.48,385.02 73.00,387.70 C72.52,390.38 72.70,392.85 73.80,396.50 C74.90,400.15 77.67,406.20 79.60,409.60 C81.53,413.00 82.97,415.07 85.40,416.90 C87.83,418.73 91.27,420.10 94.20,420.60 C97.13,421.10 100.08,420.75 103.00,419.90 C105.92,419.05 108.30,416.48 111.70,415.50 C115.10,414.52 119.02,413.88 123.40,414.00 C127.78,414.12 133.13,415.22 138.00,416.20 C142.87,417.18 148.10,418.80 152.60,419.90 C157.10,421.00 161.05,422.02 165.00,422.80 C168.95,423.58 172.67,424.42 176.30,424.60 C179.93,424.78 183.08,424.55 186.80,423.90 C190.52,423.25 195.10,422.12 198.60,420.70 C202.10,419.28 204.95,417.60 207.80,415.40 C210.65,413.20 213.73,410.35 215.70,407.50 C217.67,404.65 218.72,401.58 219.60,398.30 C220.48,395.02 221.22,390.87 221.00,387.80 C220.78,384.73 219.83,382.53 218.30,379.90 C216.77,377.27 214.42,374.62 211.80,372.00 C209.18,369.38 206.33,366.82 202.60,364.20 C198.87,361.58 192.92,359.37 189.40,356.30 C185.88,353.23 183.63,350.18 181.50,345.80 C179.37,341.42 177.42,335.78 176.60,330.00 C175.78,324.22 176.28,316.15 176.60,311.10 C176.92,306.05 177.23,303.50 178.50,299.70 C179.77,295.90 181.98,292.10 184.20,288.30 C186.42,284.50 189.28,279.90 191.80,276.90 C194.32,273.90 195.83,272.03 199.30,270.30 C202.77,268.57 208.48,267.88 212.60,266.50 C216.72,265.12 222.43,264.75 224.00,262.00 C225.57,259.25 222.50,253.67 222.00,250.00 C221.50,246.33 221.30,243.58 221.00,240.00 C220.70,236.42 222.55,230.10 220.20,228.50Z" fill="#2f8659" fill-opacity="0.97"/>
<path d="M218.40,229.10 C220.90,226.45 230.47,226.18 235.50,227.20 C240.53,228.22 245.35,230.52 248.60,235.20 C251.85,239.88 253.55,248.60 255.00,255.30 C256.45,262.00 255.47,268.02 257.30,275.40 C259.13,282.78 263.50,292.22 266.00,299.60 C268.50,306.98 272.30,314.35 272.30,319.70 C272.30,325.05 269.23,328.35 266.00,331.70 C262.77,335.05 259.38,338.13 252.90,339.80 C246.42,341.47 233.95,341.70 227.10,341.70 C220.25,341.70 213.25,340.78 211.80,339.80 C210.35,338.82 214.45,337.15 218.40,335.80 C222.35,334.45 229.02,333.73 235.50,331.70 C241.98,329.67 254.40,328.30 257.30,323.60 C260.20,318.90 255.08,310.18 252.90,303.50 C250.72,296.82 247.10,289.53 244.20,283.50 C241.30,277.47 238.35,272.00 235.50,267.30 C232.65,262.60 229.60,259.33 227.10,255.30 C224.60,251.27 221.95,247.47 220.50,243.10 C219.05,238.73 215.90,231.75 218.40,229.10Z" fill="#f69c56" fill-opacity="0.9" clip-path="url(#ecTop)"/>
<path d="M218.40,229.10 C220.90,226.45 230.47,226.18 235.50,227.20 C240.53,228.22 245.35,230.52 248.60,235.20 C251.85,239.88 253.55,248.60 255.00,255.30 C256.45,262.00 255.47,268.02 257.30,275.40 C259.13,282.78 263.50,292.22 266.00,299.60 C268.50,306.98 272.30,314.35 272.30,319.70 C272.30,325.05 269.23,328.35 266.00,331.70 C262.77,335.05 259.38,338.13 252.90,339.80 C246.42,341.47 233.95,341.70 227.10,341.70 C220.25,341.70 213.25,340.78 211.80,339.80 C210.35,338.82 214.45,337.15 218.40,335.80 C222.35,334.45 229.02,333.73 235.50,331.70 C241.98,329.67 254.40,328.30 257.30,323.60 C260.20,318.90 255.08,310.18 252.90,303.50 C250.72,296.82 247.10,289.53 244.20,283.50 C241.30,277.47 238.35,272.00 235.50,267.30 C232.65,262.60 229.60,259.33 227.10,255.30 C224.60,251.27 221.95,247.47 220.50,243.10 C219.05,238.73 215.90,231.75 218.40,229.10Z" fill="#f69c56" fill-opacity="0.55" clip-path="url(#ecBot)"/>
<path d="M245.4,280.3h1.8v1.8h-1.8zM247.6,244.3h1.8v1.8h-1.8zM258.1,307.9h1.8v1.8h-1.8zM251.7,335.2h1.8v1.8h-1.8zM232.8,230.3h1.8v1.8h-1.8zM265.8,305.2h1.8v1.8h-1.8zM224.2,246.8h1.8v1.8h-1.8zM250.4,259.1h1.8v1.8h-1.8zM228.3,340.6h1.8v1.8h-1.8zM265.6,326.6h1.8v1.8h-1.8zM247.7,332.9h1.8v1.8h-1.8zM230.7,234.6h1.8v1.8h-1.8zM244.9,336.6h1.8v1.8h-1.8zM223.9,336.5h1.8v1.8h-1.8zM251.8,295.1h1.8v1.8h-1.8zM260.0,327.3h1.8v1.8h-1.8zM242.6,273.1h1.8v1.8h-1.8zM235.6,332.0h1.8v1.8h-1.8zM257.0,299.2h1.8v1.8h-1.8zM257.4,323.5h1.8v1.8h-1.8zM263.5,319.1h1.8v1.8h-1.8zM258.4,290.6h1.8v1.8h-1.8zM231.3,244.4h1.8v1.8h-1.8zM234.1,262.0h1.8v1.8h-1.8zM249.6,253.4h1.8v1.8h-1.8zM264.4,319.7h1.8v1.8h-1.8zM247.3,253.0h1.8v1.8h-1.8zM232.5,249.1h1.8v1.8h-1.8zM255.3,330.5h1.8v1.8h-1.8zM250.6,326.7h1.8v1.8h-1.8zM251.1,277.8h1.8v1.8h-1.8zM246.3,286.6h1.8v1.8h-1.8zM264.5,302.3h1.8v1.8h-1.8zM260.6,321.4h1.8v1.8h-1.8zM226.4,244.5h1.8v1.8h-1.8zM253.3,285.3h1.8v1.8h-1.8zM252.1,298.0h1.8v1.8h-1.8zM231.1,229.8h1.8v1.8h-1.8zM235.3,260.8h1.8v1.8h-1.8zM234.7,246.6h1.8v1.8h-1.8zM243.3,337.5h1.8v1.8h-1.8zM243.1,329.1h1.8v1.8h-1.8zM232.3,247.2h1.8v1.8h-1.8zM253.0,276.3h1.8v1.8h-1.8zM243.0,329.1h1.8v1.8h-1.8zM239.6,257.5h1.8v1.8h-1.8zM249.8,254.2h1.8v1.8h-1.8zM224.4,248.2h1.8v1.8h-1.8zM241.1,257.2h1.8v1.8h-1.8zM242.7,258.6h1.8v1.8h-1.8zM239.8,253.3h1.8v1.8h-1.8zM230.1,252.8h1.8v1.8h-1.8zM270.4,317.2h1.8v1.8h-1.8zM227.8,236.6h1.8v1.8h-1.8zM263.7,315.0h1.8v1.8h-1.8zM245.6,337.0h1.8v1.8h-1.8zM263.9,312.5h1.8v1.8h-1.8zM219.4,236.4h1.8v1.8h-1.8zM256.4,276.2h1.8v1.8h-1.8zM249.5,274.2h1.8v1.8h-1.8zM252.5,277.2h1.8v1.8h-1.8zM252.3,257.7h1.8v1.8h-1.8zM240.4,248.4h1.8v1.8h-1.8zM243.7,245.7h1.8v1.8h-1.8zM225.4,250.4h1.8v1.8h-1.8zM237.2,266.6h1.8v1.8h-1.8zM224.9,334.6h1.8v1.8h-1.8zM253.9,324.2h1.8v1.8h-1.8zM246.3,327.3h1.8v1.8h-1.8zM233.9,340.0h1.8v1.8h-1.8zM256.0,334.0h1.8v1.8h-1.8zM254.4,335.0h1.8v1.8h-1.8zM252.1,290.5h1.8v1.8h-1.8zM235.5,233.1h1.8v1.8h-1.8zM259.7,307.2h1.8v1.8h-1.8zM228.2,253.6h1.8v1.8h-1.8zM224.2,230.0h1.8v1.8h-1.8zM237.7,234.7h1.8v1.8h-1.8zM251.2,256.9h1.8v1.8h-1.8zM256.9,286.8h1.8v1.8h-1.8zM224.7,240.6h1.8v1.8h-1.8zM225.6,337.5h1.8v1.8h-1.8zM248.3,242.4h1.8v1.8h-1.8zM247.9,327.8h1.8v1.8h-1.8zM231.0,254.1h1.8v1.8h-1.8zM255.4,303.4h1.8v1.8h-1.8zM250.2,329.4h1.8v1.8h-1.8zM231.7,227.8h1.8v1.8h-1.8zM224.6,241.6h1.8v1.8h-1.8zM228.1,253.5h1.8v1.8h-1.8z" fill="#fff"/>
<path d="M233.7,316.6h2.2v2.2h-2.2zM205.6,332.5h2.2v2.2h-2.2zM199.0,323.9h2.2v2.2h-2.2zM208.9,329.8h2.2v2.2h-2.2zM198.2,325.7h2.2v2.2h-2.2zM211.6,326.3h2.2v2.2h-2.2zM234.2,319.5h2.2v2.2h-2.2zM198.2,322.9h2.2v2.2h-2.2zM234.8,319.5h2.2v2.2h-2.2zM219.3,318.9h2.2v2.2h-2.2zM187.9,328.8h2.2v2.2h-2.2zM212.3,325.5h2.2v2.2h-2.2zM228.8,320.9h2.2v2.2h-2.2zM220.7,320.3h2.2v2.2h-2.2zM206.2,320.7h2.2v2.2h-2.2zM227.4,324.2h2.2v2.2h-2.2zM216.4,315.3h2.2v2.2h-2.2zM218.0,317.7h2.2v2.2h-2.2zM209.6,320.3h2.2v2.2h-2.2zM217.1,315.7h2.2v2.2h-2.2zM202.2,327.2h2.2v2.2h-2.2zM212.0,331.1h2.2v2.2h-2.2zM191.6,328.4h2.2v2.2h-2.2zM187.6,330.6h2.2v2.2h-2.2zM224.9,323.4h2.2v2.2h-2.2zM218.7,314.5h2.2v2.2h-2.2zM194.5,326.0h2.2v2.2h-2.2zM225.6,328.6h2.2v2.2h-2.2zM214.6,315.0h2.2v2.2h-2.2zM206.8,333.9h2.2v2.2h-2.2zM208.5,318.4h2.2v2.2h-2.2zM234.3,320.4h2.2v2.2h-2.2zM229.7,327.8h2.2v2.2h-2.2zM209.6,323.6h2.2v2.2h-2.2zM198.0,322.9h2.2v2.2h-2.2zM220.7,329.3h2.2v2.2h-2.2zM220.7,320.4h2.2v2.2h-2.2zM186.0,328.1h2.2v2.2h-2.2zM213.3,324.8h2.2v2.2h-2.2zM211.2,325.9h2.2v2.2h-2.2zM231.3,327.9h2.2v2.2h-2.2zM223.6,329.4h2.2v2.2h-2.2zM222.4,327.8h2.2v2.2h-2.2zM223.5,314.1h2.2v2.2h-2.2zM187.7,327.1h2.2v2.2h-2.2zM216.6,317.2h2.2v2.2h-2.2zM223.3,319.8h2.2v2.2h-2.2zM233.0,319.7h2.2v2.2h-2.2zM235.9,320.0h2.2v2.2h-2.2zM224.9,315.8h2.2v2.2h-2.2zM207.9,320.6h2.2v2.2h-2.2zM229.7,328.4h2.2v2.2h-2.2zM212.0,315.3h2.2v2.2h-2.2zM209.1,318.0h2.2v2.2h-2.2zM183.6,328.2h2.2v2.2h-2.2zM228.6,313.8h2.2v2.2h-2.2zM234.7,324.4h2.2v2.2h-2.2zM205.8,328.0h2.2v2.2h-2.2zM210.2,323.8h2.2v2.2h-2.2zM231.1,318.2h2.2v2.2h-2.2zM214.3,317.2h2.2v2.2h-2.2zM188.6,331.4h2.2v2.2h-2.2zM199.6,325.0h2.2v2.2h-2.2zM220.8,327.2h2.2v2.2h-2.2zM214.1,326.4h2.2v2.2h-2.2zM230.8,319.9h2.2v2.2h-2.2zM225.9,318.0h2.2v2.2h-2.2zM220.3,326.2h2.2v2.2h-2.2zM227.2,314.1h2.2v2.2h-2.2zM217.5,319.8h2.2v2.2h-2.2zM225.9,328.6h2.2v2.2h-2.2zM206.5,318.6h2.2v2.2h-2.2zM231.0,326.2h2.2v2.2h-2.2zM234.7,321.5h2.2v2.2h-2.2zM231.5,320.0h2.2v2.2h-2.2zM198.4,321.8h2.2v2.2h-2.2zM208.5,321.1h2.2v2.2h-2.2zM195.4,325.2h2.2v2.2h-2.2zM229.9,328.2h2.2v2.2h-2.2zM208.4,321.7h2.2v2.2h-2.2zM187.0,328.0h2.2v2.2h-2.2zM225.7,320.5h2.2v2.2h-2.2zM228.0,324.0h2.2v2.2h-2.2zM215.6,326.4h2.2v2.2h-2.2zM216.9,324.7h2.2v2.2h-2.2zM208.8,327.7h2.2v2.2h-2.2zM206.1,329.2h2.2v2.2h-2.2zM224.3,320.6h2.2v2.2h-2.2zM209.3,320.5h2.2v2.2h-2.2zM224.2,315.4h2.2v2.2h-2.2z" fill="#825c92"/>
<path d="M148.20,366.10 C148.63,365.38 152.22,364.72 153.90,365.30 C155.58,365.88 156.70,368.15 158.30,369.60 C159.90,371.05 161.90,372.53 163.50,374.00 C165.10,375.47 167.45,377.08 167.90,378.40 C168.35,379.72 166.93,380.88 166.20,381.90 C165.47,382.92 164.53,384.50 163.50,384.50 C162.47,384.50 160.87,382.92 160.00,381.90 C159.13,380.88 159.32,379.72 158.30,378.40 C157.28,377.08 155.07,375.47 153.90,374.00 C152.73,372.53 152.25,370.92 151.30,369.60 C150.35,368.28 147.77,366.82 148.20,366.10Z" fill="#828282" fill-opacity="0.4"/>
<ellipse cx="139" cy="383" rx="4" ry="2.5" fill="#e9b538" fill-opacity="0.8"/>
<path d="M206.8,244.6h1.8v1.8h-1.8zM170.2,334.5h1.8v1.8h-1.8zM193.8,364.5h1.8v1.8h-1.8zM153.1,418.4h1.8v1.8h-1.8zM168.1,299.1h1.8v1.8h-1.8zM112.4,411.3h1.8v1.8h-1.8zM104.0,412.5h1.8v1.8h-1.8zM171.1,305.2h1.8v1.8h-1.8zM160.4,403.7h1.8v1.8h-1.8zM218.7,396.4h1.8v1.8h-1.8zM175.0,332.9h1.8v1.8h-1.8zM140.6,414.6h1.8v1.8h-1.8zM209.9,398.3h1.8v1.8h-1.8zM204.7,413.3h1.8v1.8h-1.8zM82.6,376.8h1.8v1.8h-1.8zM187.7,252.8h1.8v1.8h-1.8zM112.1,398.7h1.8v1.8h-1.8zM106.7,405.2h1.8v1.8h-1.8zM201.9,241.5h1.8v1.8h-1.8zM194.0,264.9h1.8v1.8h-1.8zM220.7,246.9h1.8v1.8h-1.8zM109.8,408.7h1.8v1.8h-1.8zM200.3,260.2h1.8v1.8h-1.8zM95.9,416.0h1.8v1.8h-1.8zM151.0,410.9h1.8v1.8h-1.8zM173.5,286.4h1.8v1.8h-1.8zM112.1,410.6h1.8v1.8h-1.8zM205.1,400.0h1.8v1.8h-1.8zM198.0,365.6h1.8v1.8h-1.8zM164.5,421.2h1.8v1.8h-1.8zM172.3,411.7h1.8v1.8h-1.8zM180.5,267.5h1.8v1.8h-1.8zM167.9,279.4h1.8v1.8h-1.8zM199.9,245.7h1.8v1.8h-1.8zM168.3,279.0h1.8v1.8h-1.8zM83.5,400.8h1.8v1.8h-1.8zM118.6,403.9h1.8v1.8h-1.8zM95.4,409.9h1.8v1.8h-1.8zM122.3,410.1h1.8v1.8h-1.8zM191.0,248.8h1.8v1.8h-1.8zM105.7,387.7h1.8v1.8h-1.8zM192.2,272.2h1.8v1.8h-1.8zM169.0,306.0h1.8v1.8h-1.8zM213.9,250.2h1.8v1.8h-1.8zM218.6,262.6h1.8v1.8h-1.8zM182.1,289.1h1.8v1.8h-1.8zM163.6,327.9h1.8v1.8h-1.8zM184.1,359.1h1.8v1.8h-1.8zM172.4,292.4h1.8v1.8h-1.8zM180.8,286.5h1.8v1.8h-1.8zM171.0,318.8h1.8v1.8h-1.8zM192.3,260.9h1.8v1.8h-1.8zM167.7,293.3h1.8v1.8h-1.8zM173.7,271.7h1.8v1.8h-1.8zM200.4,241.9h1.8v1.8h-1.8zM98.7,415.5h1.8v1.8h-1.8zM109.7,394.0h1.8v1.8h-1.8zM172.9,421.3h1.8v1.8h-1.8zM162.0,413.9h1.8v1.8h-1.8zM207.6,373.4h1.8v1.8h-1.8zM166.7,281.4h1.8v1.8h-1.8zM201.0,414.6h1.8v1.8h-1.8zM185.0,250.1h1.8v1.8h-1.8zM195.8,416.8h1.8v1.8h-1.8zM176.4,350.6h1.8v1.8h-1.8zM87.5,379.1h1.8v1.8h-1.8zM88.0,416.0h1.8v1.8h-1.8zM182.9,416.9h1.8v1.8h-1.8zM197.5,244.6h1.8v1.8h-1.8zM200.6,263.3h1.8v1.8h-1.8zM104.1,384.1h1.8v1.8h-1.8zM178.0,281.8h1.8v1.8h-1.8zM176.6,287.6h1.8v1.8h-1.8zM178.2,280.7h1.8v1.8h-1.8zM191.5,271.9h1.8v1.8h-1.8zM183.9,413.4h1.8v1.8h-1.8zM161.8,284.7h1.8v1.8h-1.8zM175.9,408.8h1.8v1.8h-1.8zM171.9,410.7h1.8v1.8h-1.8zM169.9,405.7h1.8v1.8h-1.8zM196.9,241.6h1.8v1.8h-1.8zM85.9,416.2h1.8v1.8h-1.8zM173.6,280.5h1.8v1.8h-1.8zM210.4,263.2h1.8v1.8h-1.8zM115.6,413.0h1.8v1.8h-1.8zM186.9,267.5h1.8v1.8h-1.8zM155.0,409.5h1.8v1.8h-1.8zM90.4,418.4h1.8v1.8h-1.8zM204.9,397.0h1.8v1.8h-1.8zM134.8,410.8h1.8v1.8h-1.8zM203.8,234.6h1.8v1.8h-1.8zM176.9,404.8h1.8v1.8h-1.8zM79.0,383.7h1.8v1.8h-1.8zM108.5,406.6h1.8v1.8h-1.8zM73.5,385.4h1.8v1.8h-1.8zM168.6,310.8h1.8v1.8h-1.8zM109.9,393.4h1.8v1.8h-1.8zM163.8,296.7h1.8v1.8h-1.8zM167.0,404.8h1.8v1.8h-1.8zM169.7,288.2h1.8v1.8h-1.8zM153.6,418.1h1.8v1.8h-1.8zM217.5,255.2h1.8v1.8h-1.8zM218.0,396.3h1.8v1.8h-1.8zM181.5,419.8h1.8v1.8h-1.8zM218.2,385.4h1.8v1.8h-1.8zM173.6,342.2h1.8v1.8h-1.8zM196.3,412.0h1.8v1.8h-1.8zM75.9,401.0h1.8v1.8h-1.8zM156.9,407.1h1.8v1.8h-1.8zM196.5,405.9h1.8v1.8h-1.8zM93.2,413.2h1.8v1.8h-1.8zM86.8,401.6h1.8v1.8h-1.8zM184.2,257.9h1.8v1.8h-1.8zM215.8,234.0h1.8v1.8h-1.8zM215.6,395.4h1.8v1.8h-1.8zM154.3,419.4h1.8v1.8h-1.8zM190.9,275.4h1.8v1.8h-1.8zM82.5,377.6h1.8v1.8h-1.8zM94.4,404.2h1.8v1.8h-1.8zM74.3,382.5h1.8v1.8h-1.8zM214.9,236.1h1.8v1.8h-1.8zM217.7,239.5h1.8v1.8h-1.8zM209.5,242.0h1.8v1.8h-1.8zM167.7,335.1h1.8v1.8h-1.8zM180.9,269.8h1.8v1.8h-1.8zM211.5,240.8h1.8v1.8h-1.8zM197.7,245.9h1.8v1.8h-1.8zM181.0,417.5h1.8v1.8h-1.8zM162.8,296.6h1.8v1.8h-1.8zM171.3,271.6h1.8v1.8h-1.8zM88.4,393.4h1.8v1.8h-1.8zM212.4,390.3h1.8v1.8h-1.8zM178.2,288.2h1.8v1.8h-1.8zM184.8,269.8h1.8v1.8h-1.8zM173.9,281.0h1.8v1.8h-1.8zM172.1,322.8h1.8v1.8h-1.8zM186.1,249.9h1.8v1.8h-1.8zM174.6,323.0h1.8v1.8h-1.8zM83.0,396.6h1.8v1.8h-1.8zM211.2,396.7h1.8v1.8h-1.8zM211.0,244.9h1.8v1.8h-1.8zM80.7,390.7h1.8v1.8h-1.8zM83.7,397.1h1.8v1.8h-1.8zM87.7,403.9h1.8v1.8h-1.8zM174.5,283.3h1.8v1.8h-1.8zM181.4,356.4h1.8v1.8h-1.8zM209.0,398.9h1.8v1.8h-1.8zM175.6,330.8h1.8v1.8h-1.8zM169.6,310.6h1.8v1.8h-1.8zM83.8,393.2h1.8v1.8h-1.8zM87.4,378.8h1.8v1.8h-1.8zM187.8,253.3h1.8v1.8h-1.8zM194.3,260.1h1.8v1.8h-1.8zM174.2,274.2h1.8v1.8h-1.8zM218.0,387.8h1.8v1.8h-1.8zM193.1,254.7h1.8v1.8h-1.8zM87.6,393.5h1.8v1.8h-1.8zM187.3,281.1h1.8v1.8h-1.8zM208.8,256.5h1.8v1.8h-1.8zM138.2,413.2h1.8v1.8h-1.8zM212.7,392.2h1.8v1.8h-1.8zM197.4,364.1h1.8v1.8h-1.8zM219.3,240.9h1.8v1.8h-1.8zM168.1,420.0h1.8v1.8h-1.8zM182.8,350.8h1.8v1.8h-1.8zM98.5,380.4h1.8v1.8h-1.8zM81.6,379.8h1.8v1.8h-1.8zM185.8,265.1h1.8v1.8h-1.8zM206.4,373.4h1.8v1.8h-1.8zM147.2,408.9h1.8v1.8h-1.8zM174.7,414.4h1.8v1.8h-1.8zM82.3,380.3h1.8v1.8h-1.8zM174.6,413.7h1.8v1.8h-1.8zM115.2,407.3h1.8v1.8h-1.8zM200.7,367.2h1.8v1.8h-1.8zM93.1,382.6h1.8v1.8h-1.8zM196.4,242.1h1.8v1.8h-1.8zM99.6,417.1h1.8v1.8h-1.8zM124.3,412.1h1.8v1.8h-1.8zM207.2,393.5h1.8v1.8h-1.8zM214.3,257.8h1.8v1.8h-1.8zM169.0,340.7h1.8v1.8h-1.8zM175.5,285.9h1.8v1.8h-1.8zM219.4,253.2h1.8v1.8h-1.8zM109.6,397.3h1.8v1.8h-1.8zM170.9,319.9h1.8v1.8h-1.8zM213.9,375.6h1.8v1.8h-1.8zM163.6,328.7h1.8v1.8h-1.8zM183.7,286.3h1.8v1.8h-1.8zM199.1,256.6h1.8v1.8h-1.8zM215.3,249.2h1.8v1.8h-1.8zM211.1,398.8h1.8v1.8h-1.8zM98.3,406.5h1.8v1.8h-1.8zM213.1,383.6h1.8v1.8h-1.8zM174.3,302.1h1.8v1.8h-1.8zM216.2,385.4h1.8v1.8h-1.8zM153.4,410.6h1.8v1.8h-1.8zM155.2,409.8h1.8v1.8h-1.8zM133.5,411.0h1.8v1.8h-1.8zM102.2,416.6h1.8v1.8h-1.8zM209.2,245.1h1.8v1.8h-1.8zM181.3,411.3h1.8v1.8h-1.8zM210.0,261.9h1.8v1.8h-1.8zM205.3,262.1h1.8v1.8h-1.8zM211.9,399.5h1.8v1.8h-1.8zM213.8,394.5h1.8v1.8h-1.8zM100.2,372.1h1.8v1.8h-1.8zM186.4,262.0h1.8v1.8h-1.8zM201.4,403.5h1.8v1.8h-1.8zM185.9,414.7h1.8v1.8h-1.8zM172.4,270.4h1.8v1.8h-1.8zM203.9,243.7h1.8v1.8h-1.8zM213.2,241.1h1.8v1.8h-1.8zM213.1,233.8h1.8v1.8h-1.8zM187.7,419.5h1.8v1.8h-1.8zM169.6,310.0h1.8v1.8h-1.8zM203.4,405.4h1.8v1.8h-1.8zM172.0,333.4h1.8v1.8h-1.8zM170.8,295.8h1.8v1.8h-1.8zM173.8,334.4h1.8v1.8h-1.8zM113.7,411.4h1.8v1.8h-1.8zM181.6,249.7h1.8v1.8h-1.8zM104.9,397.0h1.8v1.8h-1.8zM204.9,406.4h1.8v1.8h-1.8zM166.6,311.4h1.8v1.8h-1.8zM193.8,407.0h1.8v1.8h-1.8zM157.0,417.4h1.8v1.8h-1.8zM169.8,408.4h1.8v1.8h-1.8zM200.0,245.7h1.8v1.8h-1.8zM181.5,265.0h1.8v1.8h-1.8zM100.5,377.0h1.8v1.8h-1.8zM217.4,250.6h1.8v1.8h-1.8zM103.0,407.1h1.8v1.8h-1.8zM111.5,410.9h1.8v1.8h-1.8zM175.5,278.1h1.8v1.8h-1.8zM196.2,417.1h1.8v1.8h-1.8zM169.0,323.8h1.8v1.8h-1.8zM97.5,383.5h1.8v1.8h-1.8zM200.0,413.0h1.8v1.8h-1.8zM172.8,348.5h1.8v1.8h-1.8zM74.7,387.1h1.8v1.8h-1.8zM209.5,248.6h1.8v1.8h-1.8zM186.8,245.9h1.8v1.8h-1.8zM203.2,401.6h1.8v1.8h-1.8zM83.3,409.1h1.8v1.8h-1.8zM108.4,391.3h1.8v1.8h-1.8zM219.2,238.1h1.8v1.8h-1.8zM179.6,351.9h1.8v1.8h-1.8zM84.9,404.3h1.8v1.8h-1.8zM219.2,254.3h1.8v1.8h-1.8zM175.0,335.5h1.8v1.8h-1.8zM167.7,275.1h1.8v1.8h-1.8zM191.3,242.1h1.8v1.8h-1.8zM84.9,378.4h1.8v1.8h-1.8zM171.4,297.2h1.8v1.8h-1.8zM89.6,412.1h1.8v1.8h-1.8zM194.4,250.2h1.8v1.8h-1.8zM174.3,259.8h1.8v1.8h-1.8zM156.6,415.6h1.8v1.8h-1.8zM161.5,303.9h1.8v1.8h-1.8z" fill="#fff"/></g>
<path d="M329.20,771.90 C330.30,771.08 333.18,770.33 335.40,770.50 C337.62,770.67 341.07,771.48 342.50,772.90 C343.93,774.32 344.17,777.12 344.00,779.00 C343.83,780.88 342.25,782.48 341.50,784.20 C340.75,785.92 340.12,787.50 339.50,789.30 C338.88,791.10 339.17,794.40 337.80,795.00 C336.43,795.60 333.00,793.52 331.30,792.90 C329.60,792.28 328.35,792.25 327.60,791.30 C326.85,790.35 326.35,788.90 326.80,787.20 C327.25,785.50 329.97,783.07 330.30,781.10 C330.63,779.13 328.98,776.93 328.80,775.40 C328.62,773.87 328.10,772.72 329.20,771.90Z" fill="#da88a5" fill-opacity="0.5"/>
<text x="485.8" y="738.2" font-size="8.9" font-weight="bold" text-anchor="middle" fill="#1a1a1a" >PD90</text>
<g transform="translate(418.0,655.5) scale(0.473,0.508)"><path d="M145.70,192.50 C145.57,191.33 147.57,189.18 148.80,188.10 C150.03,187.02 151.87,186.95 153.10,186.00 C154.33,185.05 155.32,182.63 156.20,182.40 C157.08,182.17 157.38,184.30 158.40,184.60 C159.42,184.90 161.43,183.97 162.30,184.20 C163.17,184.43 162.50,185.78 163.60,186.00 C164.70,186.22 167.43,185.95 168.90,185.50 C170.37,185.05 170.93,183.88 172.40,183.30 C173.87,182.72 175.95,182.00 177.70,182.00 C179.45,182.00 181.23,182.57 182.90,183.30 C184.57,184.03 187.70,185.73 187.70,186.40 C187.70,187.07 184.57,186.72 182.90,187.30 C181.23,187.88 179.30,189.40 177.70,189.90 C176.10,190.40 174.77,190.45 173.30,190.30 C171.83,190.15 170.37,189.00 168.90,189.00 C167.43,189.00 165.67,189.72 164.50,190.30 C163.33,190.88 162.05,191.55 161.90,192.50 C161.75,193.45 164.03,195.42 163.60,196.00 C163.17,196.58 160.82,195.78 159.30,196.00 C157.78,196.22 156.12,197.45 154.50,197.30 C152.88,197.15 151.07,195.90 149.60,195.10 C148.13,194.30 145.83,193.67 145.70,192.50Z" fill="#86ad42" fill-opacity="0.95"/>
<path d="M27.30,276.10 C28.90,275.38 31.48,277.48 33.90,278.80 C36.32,280.12 39.32,282.25 41.80,284.00 C44.28,285.75 47.05,286.97 48.80,289.30 C50.55,291.63 51.35,295.38 52.30,298.00 C53.25,300.62 54.50,302.80 54.50,305.00 C54.50,307.20 52.45,309.08 52.30,311.20 C52.15,313.32 54.03,316.25 53.60,317.70 C53.17,319.15 50.07,318.37 49.70,319.90 C49.33,321.43 51.98,325.88 51.40,326.90 C50.82,327.92 47.80,326.58 46.20,326.00 C44.60,325.42 43.55,324.27 41.80,323.40 C40.05,322.53 37.17,322.55 35.70,320.80 C34.23,319.05 34.32,315.23 33.00,312.90 C31.68,310.57 29.12,309.13 27.80,306.80 C26.48,304.47 26.42,300.22 25.10,298.90 C23.78,297.58 21.28,299.48 19.90,298.90 C18.52,298.32 17.10,296.72 16.80,295.40 C16.50,294.08 17.15,292.32 18.10,291.00 C19.05,289.68 21.47,288.82 22.50,287.50 C23.53,286.18 23.50,285.00 24.30,283.10 C25.10,281.20 25.70,276.82 27.30,276.10Z" fill="#24679f" fill-opacity="0.95"/>
<ellipse cx="101" cy="322" rx="6" ry="5" fill="#a4466d" fill-opacity="0.85"/>
<ellipse cx="115" cy="324" rx="6" ry="3" fill="#a4466d" fill-opacity="0.3"/>
<path d="M220.20,228.50 C217.85,226.90 211.32,228.65 206.90,230.40 C202.48,232.15 198.12,235.35 193.70,239.00 C189.28,242.65 184.20,247.57 180.40,252.30 C176.60,257.03 173.75,262.67 170.90,267.40 C168.05,272.13 165.05,275.95 163.30,280.70 C161.55,285.45 160.72,290.20 160.40,295.90 C160.08,301.60 160.83,309.22 161.40,314.90 C161.97,320.58 162.42,325.30 163.80,330.00 C165.18,334.70 167.62,339.17 169.70,343.10 C171.78,347.03 173.88,350.75 176.30,353.60 C178.72,356.45 181.35,358.22 184.20,360.20 C187.05,362.18 190.33,363.53 193.40,365.50 C196.47,367.47 200.42,369.60 202.60,372.00 C204.78,374.40 205.63,377.27 206.50,379.90 C207.37,382.53 207.80,385.17 207.80,387.80 C207.80,390.43 207.37,393.50 206.50,395.70 C205.63,397.90 204.13,399.68 202.60,401.00 C201.07,402.32 199.72,402.85 197.30,403.60 C194.88,404.35 191.60,405.50 188.10,405.50 C184.60,405.50 180.02,404.03 176.30,403.60 C172.58,403.17 168.78,402.62 165.80,402.90 C162.82,403.18 161.08,404.18 158.40,405.30 C155.72,406.42 153.10,408.75 149.70,409.60 C146.30,410.45 141.90,410.88 138.00,410.40 C134.10,409.92 129.70,408.05 126.30,406.70 C122.90,405.35 120.03,404.48 117.60,402.30 C115.17,400.12 113.17,395.78 111.70,393.60 C110.23,391.42 109.28,391.15 108.80,389.20 C108.32,387.25 109.28,384.33 108.80,381.90 C108.32,379.47 107.37,376.30 105.90,374.60 C104.43,372.90 102.20,371.95 100.00,371.70 C97.80,371.45 95.37,372.37 92.70,373.10 C90.03,373.83 86.67,374.88 84.00,376.10 C81.33,377.32 78.53,378.47 76.70,380.40 C74.87,382.33 73.48,385.02 73.00,387.70 C72.52,390.38 72.70,392.85 73.80,396.50 C74.90,400.15 77.67,406.20 79.60,409.60 C81.53,413.00 82.97,415.07 85.40,416.90 C87.83,418.73 91.27,420.10 94.20,420.60 C97.13,421.10 100.08,420.75 103.00,419.90 C105.92,419.05 108.30,416.48 111.70,415.50 C115.10,414.52 119.02,413.88 123.40,414.00 C127.78,414.12 133.13,415.22 138.00,416.20 C142.87,417.18 148.10,418.80 152.60,419.90 C157.10,421.00 161.05,422.02 165.00,422.80 C168.95,423.58 172.67,424.42 176.30,424.60 C179.93,424.78 183.08,424.55 186.80,423.90 C190.52,423.25 195.10,422.12 198.60,420.70 C202.10,419.28 204.95,417.60 207.80,415.40 C210.65,413.20 213.73,410.35 215.70,407.50 C217.67,404.65 218.72,401.58 219.60,398.30 C220.48,395.02 221.22,390.87 221.00,387.80 C220.78,384.73 219.83,382.53 218.30,379.90 C216.77,377.27 214.42,374.62 211.80,372.00 C209.18,369.38 206.33,366.82 202.60,364.20 C198.87,361.58 192.92,359.37 189.40,356.30 C185.88,353.23 183.63,350.18 181.50,345.80 C179.37,341.42 177.42,335.78 176.60,330.00 C175.78,324.22 176.28,316.15 176.60,311.10 C176.92,306.05 177.23,303.50 178.50,299.70 C179.77,295.90 181.98,292.10 184.20,288.30 C186.42,284.50 189.28,279.90 191.80,276.90 C194.32,273.90 195.83,272.03 199.30,270.30 C202.77,268.57 208.48,267.88 212.60,266.50 C216.72,265.12 222.43,264.75 224.00,262.00 C225.57,259.25 222.50,253.67 222.00,250.00 C221.50,246.33 221.30,243.58 221.00,240.00 C220.70,236.42 222.55,230.10 220.20,228.50Z" fill="#2f8659" fill-opacity="0.98"/>
<path d="M218.40,229.10 C220.90,226.45 230.47,226.18 235.50,227.20 C240.53,228.22 245.35,230.52 248.60,235.20 C251.85,239.88 253.55,248.60 255.00,255.30 C256.45,262.00 255.47,268.02 257.30,275.40 C259.13,282.78 263.50,292.22 266.00,299.60 C268.50,306.98 272.30,314.35 272.30,319.70 C272.30,325.05 269.23,328.35 266.00,331.70 C262.77,335.05 259.38,338.13 252.90,339.80 C246.42,341.47 233.95,341.70 227.10,341.70 C220.25,341.70 213.25,340.78 211.80,339.80 C210.35,338.82 214.45,337.15 218.40,335.80 C222.35,334.45 229.02,333.73 235.50,331.70 C241.98,329.67 254.40,328.30 257.30,323.60 C260.20,318.90 255.08,310.18 252.90,303.50 C250.72,296.82 247.10,289.53 244.20,283.50 C241.30,277.47 238.35,272.00 235.50,267.30 C232.65,262.60 229.60,259.33 227.10,255.30 C224.60,251.27 221.95,247.47 220.50,243.10 C219.05,238.73 215.90,231.75 218.40,229.10Z" fill="#f69c56" fill-opacity="0.9" clip-path="url(#ecTop)"/>
<path d="M218.40,229.10 C220.90,226.45 230.47,226.18 235.50,227.20 C240.53,228.22 245.35,230.52 248.60,235.20 C251.85,239.88 253.55,248.60 255.00,255.30 C256.45,262.00 255.47,268.02 257.30,275.40 C259.13,282.78 263.50,292.22 266.00,299.60 C268.50,306.98 272.30,314.35 272.30,319.70 C272.30,325.05 269.23,328.35 266.00,331.70 C262.77,335.05 259.38,338.13 252.90,339.80 C246.42,341.47 233.95,341.70 227.10,341.70 C220.25,341.70 213.25,340.78 211.80,339.80 C210.35,338.82 214.45,337.15 218.40,335.80 C222.35,334.45 229.02,333.73 235.50,331.70 C241.98,329.67 254.40,328.30 257.30,323.60 C260.20,318.90 255.08,310.18 252.90,303.50 C250.72,296.82 247.10,289.53 244.20,283.50 C241.30,277.47 238.35,272.00 235.50,267.30 C232.65,262.60 229.60,259.33 227.10,255.30 C224.60,251.27 221.95,247.47 220.50,243.10 C219.05,238.73 215.90,231.75 218.40,229.10Z" fill="#f69c56" fill-opacity="0.55" clip-path="url(#ecBot)"/>
<path d="M245.1,266.8h1.8v1.8h-1.8zM221.4,240.3h1.8v1.8h-1.8zM220.6,230.1h1.8v1.8h-1.8zM244.4,239.9h1.8v1.8h-1.8zM248.5,268.4h1.8v1.8h-1.8zM265.8,301.4h1.8v1.8h-1.8zM257.5,300.6h1.8v1.8h-1.8zM256.4,334.1h1.8v1.8h-1.8zM240.9,332.6h1.8v1.8h-1.8zM252.5,289.2h1.8v1.8h-1.8zM266.3,323.2h1.8v1.8h-1.8zM247.9,284.7h1.8v1.8h-1.8zM229.4,336.3h1.8v1.8h-1.8zM236.3,233.3h1.8v1.8h-1.8zM235.9,335.5h1.8v1.8h-1.8zM229.3,339.4h1.8v1.8h-1.8zM253.3,288.1h1.8v1.8h-1.8zM227.2,334.4h1.8v1.8h-1.8zM236.6,264.8h1.8v1.8h-1.8zM242.8,258.7h1.8v1.8h-1.8zM251.4,286.6h1.8v1.8h-1.8zM244.0,281.0h1.8v1.8h-1.8zM230.9,335.8h1.8v1.8h-1.8zM232.6,226.8h1.8v1.8h-1.8zM228.0,243.5h1.8v1.8h-1.8zM249.3,247.7h1.8v1.8h-1.8zM236.3,247.3h1.8v1.8h-1.8zM252.2,280.9h1.8v1.8h-1.8zM242.6,249.7h1.8v1.8h-1.8zM245.1,246.8h1.8v1.8h-1.8zM250.3,251.8h1.8v1.8h-1.8zM252.4,254.4h1.8v1.8h-1.8zM262.9,329.5h1.8v1.8h-1.8zM220.0,334.5h1.8v1.8h-1.8zM251.3,269.9h1.8v1.8h-1.8zM225.5,241.3h1.8v1.8h-1.8zM238.1,260.2h1.8v1.8h-1.8zM233.0,337.4h1.8v1.8h-1.8zM256.2,321.4h1.8v1.8h-1.8zM262.6,310.8h1.8v1.8h-1.8zM247.1,275.7h1.8v1.8h-1.8zM258.6,290.4h1.8v1.8h-1.8zM226.5,250.6h1.8v1.8h-1.8zM234.3,250.0h1.8v1.8h-1.8zM232.5,257.0h1.8v1.8h-1.8zM236.6,239.9h1.8v1.8h-1.8zM219.2,230.1h1.8v1.8h-1.8zM256.1,297.7h1.8v1.8h-1.8zM238.4,239.3h1.8v1.8h-1.8zM267.9,308.6h1.8v1.8h-1.8zM239.7,334.1h1.8v1.8h-1.8zM255.1,274.5h1.8v1.8h-1.8zM245.8,257.2h1.8v1.8h-1.8zM263.9,321.1h1.8v1.8h-1.8zM263.0,299.9h1.8v1.8h-1.8zM233.3,257.5h1.8v1.8h-1.8zM229.0,229.5h1.8v1.8h-1.8zM259.0,334.1h1.8v1.8h-1.8zM253.8,331.3h1.8v1.8h-1.8zM224.1,238.6h1.8v1.8h-1.8zM228.0,339.7h1.8v1.8h-1.8zM258.9,299.9h1.8v1.8h-1.8zM231.3,238.7h1.8v1.8h-1.8zM254.1,325.1h1.8v1.8h-1.8zM248.4,332.3h1.8v1.8h-1.8zM254.8,329.5h1.8v1.8h-1.8zM231.3,256.2h1.8v1.8h-1.8zM219.0,336.3h1.8v1.8h-1.8zM252.7,337.1h1.8v1.8h-1.8zM242.1,261.7h1.8v1.8h-1.8zM250.1,335.6h1.8v1.8h-1.8zM256.9,314.6h1.8v1.8h-1.8zM237.6,235.1h1.8v1.8h-1.8zM237.8,330.2h1.8v1.8h-1.8zM243.6,247.1h1.8v1.8h-1.8zM224.2,250.4h1.8v1.8h-1.8zM248.8,326.9h1.8v1.8h-1.8zM266.5,306.8h1.8v1.8h-1.8zM237.5,335.6h1.8v1.8h-1.8zM237.5,262.1h1.8v1.8h-1.8zM227.4,250.3h1.8v1.8h-1.8zM249.4,326.7h1.8v1.8h-1.8zM237.6,338.5h1.8v1.8h-1.8zM267.4,311.7h1.8v1.8h-1.8zM261.3,312.0h1.8v1.8h-1.8zM265.9,322.4h1.8v1.8h-1.8zM261.1,323.0h1.8v1.8h-1.8zM236.5,232.7h1.8v1.8h-1.8zM247.7,269.9h1.8v1.8h-1.8zM232.3,253.4h1.8v1.8h-1.8z" fill="#fff"/>
<path d="M204.4,319.2h2.2v2.2h-2.2zM232.6,323.4h2.2v2.2h-2.2zM182.7,329.2h2.2v2.2h-2.2zM181.9,326.6h2.2v2.2h-2.2zM228.5,326.2h2.2v2.2h-2.2zM190.9,331.3h2.2v2.2h-2.2zM230.3,320.0h2.2v2.2h-2.2zM194.0,327.6h2.2v2.2h-2.2zM230.6,328.5h2.2v2.2h-2.2zM191.2,326.2h2.2v2.2h-2.2zM203.4,326.8h2.2v2.2h-2.2zM201.3,322.4h2.2v2.2h-2.2zM199.9,320.9h2.2v2.2h-2.2zM218.6,324.5h2.2v2.2h-2.2zM205.1,329.1h2.2v2.2h-2.2zM199.6,321.6h2.2v2.2h-2.2zM198.1,324.6h2.2v2.2h-2.2zM230.2,322.1h2.2v2.2h-2.2zM226.1,315.7h2.2v2.2h-2.2zM196.1,323.6h2.2v2.2h-2.2zM195.2,329.9h2.2v2.2h-2.2zM208.2,318.3h2.2v2.2h-2.2zM213.2,323.2h2.2v2.2h-2.2zM190.9,329.8h2.2v2.2h-2.2zM210.2,321.5h2.2v2.2h-2.2zM206.3,322.4h2.2v2.2h-2.2zM186.9,327.3h2.2v2.2h-2.2zM228.4,325.7h2.2v2.2h-2.2zM202.8,333.0h2.2v2.2h-2.2zM210.7,321.7h2.2v2.2h-2.2zM224.8,323.6h2.2v2.2h-2.2zM199.9,321.8h2.2v2.2h-2.2zM206.7,328.8h2.2v2.2h-2.2zM226.1,321.5h2.2v2.2h-2.2zM213.8,318.0h2.2v2.2h-2.2zM229.1,322.1h2.2v2.2h-2.2zM228.1,315.4h2.2v2.2h-2.2zM208.1,326.3h2.2v2.2h-2.2zM200.5,326.4h2.2v2.2h-2.2zM195.6,330.7h2.2v2.2h-2.2zM221.3,326.7h2.2v2.2h-2.2zM211.2,322.1h2.2v2.2h-2.2zM212.5,329.6h2.2v2.2h-2.2zM217.8,325.9h2.2v2.2h-2.2zM221.0,318.8h2.2v2.2h-2.2zM222.4,320.3h2.2v2.2h-2.2zM224.9,315.3h2.2v2.2h-2.2zM236.4,322.8h2.2v2.2h-2.2zM189.6,325.8h2.2v2.2h-2.2zM209.3,330.9h2.2v2.2h-2.2zM182.3,328.9h2.2v2.2h-2.2zM213.8,319.3h2.2v2.2h-2.2zM233.6,319.3h2.2v2.2h-2.2zM203.0,327.0h2.2v2.2h-2.2zM222.5,326.1h2.2v2.2h-2.2zM202.2,326.9h2.2v2.2h-2.2zM209.6,319.8h2.2v2.2h-2.2zM227.8,316.0h2.2v2.2h-2.2zM211.9,325.5h2.2v2.2h-2.2zM198.0,328.6h2.2v2.2h-2.2zM229.6,320.9h2.2v2.2h-2.2zM210.4,318.7h2.2v2.2h-2.2zM208.5,330.9h2.2v2.2h-2.2zM187.4,327.5h2.2v2.2h-2.2zM203.0,326.6h2.2v2.2h-2.2zM202.8,321.4h2.2v2.2h-2.2zM215.4,323.7h2.2v2.2h-2.2zM233.2,327.2h2.2v2.2h-2.2zM195.2,324.5h2.2v2.2h-2.2zM231.1,322.0h2.2v2.2h-2.2zM220.8,315.2h2.2v2.2h-2.2zM211.0,316.3h2.2v2.2h-2.2zM203.4,333.7h2.2v2.2h-2.2zM207.0,326.6h2.2v2.2h-2.2zM202.9,329.2h2.2v2.2h-2.2zM213.2,326.4h2.2v2.2h-2.2zM202.1,330.5h2.2v2.2h-2.2zM202.1,329.6h2.2v2.2h-2.2zM205.7,330.6h2.2v2.2h-2.2zM184.4,326.9h2.2v2.2h-2.2zM181.3,327.8h2.2v2.2h-2.2zM206.2,326.9h2.2v2.2h-2.2zM224.6,323.4h2.2v2.2h-2.2zM228.5,316.7h2.2v2.2h-2.2zM228.2,324.7h2.2v2.2h-2.2zM212.5,315.6h2.2v2.2h-2.2zM234.6,317.9h2.2v2.2h-2.2zM220.0,319.2h2.2v2.2h-2.2zM235.0,326.2h2.2v2.2h-2.2zM214.5,323.0h2.2v2.2h-2.2z" fill="#825c92"/>
<path d="M148.20,366.10 C148.63,365.38 152.22,364.72 153.90,365.30 C155.58,365.88 156.70,368.15 158.30,369.60 C159.90,371.05 161.90,372.53 163.50,374.00 C165.10,375.47 167.45,377.08 167.90,378.40 C168.35,379.72 166.93,380.88 166.20,381.90 C165.47,382.92 164.53,384.50 163.50,384.50 C162.47,384.50 160.87,382.92 160.00,381.90 C159.13,380.88 159.32,379.72 158.30,378.40 C157.28,377.08 155.07,375.47 153.90,374.00 C152.73,372.53 152.25,370.92 151.30,369.60 C150.35,368.28 147.77,366.82 148.20,366.10Z" fill="#828282" fill-opacity="0.4"/>
<ellipse cx="139" cy="383" rx="4" ry="2.5" fill="#e9b538" fill-opacity="0.8"/>
<path d="M87.7,395.4h1.8v1.8h-1.8zM160.3,410.5h1.8v1.8h-1.8zM97.3,394.0h1.8v1.8h-1.8zM161.4,299.8h1.8v1.8h-1.8zM189.7,414.9h1.8v1.8h-1.8zM95.4,385.9h1.8v1.8h-1.8zM219.6,252.0h1.8v1.8h-1.8zM183.0,421.6h1.8v1.8h-1.8zM208.6,401.2h1.8v1.8h-1.8zM147.3,411.4h1.8v1.8h-1.8zM103.2,411.3h1.8v1.8h-1.8zM160.6,406.5h1.8v1.8h-1.8zM197.0,366.1h1.8v1.8h-1.8zM202.1,414.1h1.8v1.8h-1.8zM91.7,377.5h1.8v1.8h-1.8zM168.8,283.7h1.8v1.8h-1.8zM173.0,286.2h1.8v1.8h-1.8zM209.8,375.1h1.8v1.8h-1.8zM104.4,410.1h1.8v1.8h-1.8zM88.4,400.5h1.8v1.8h-1.8zM177.7,405.0h1.8v1.8h-1.8zM99.5,401.3h1.8v1.8h-1.8zM191.2,269.5h1.8v1.8h-1.8zM99.1,411.6h1.8v1.8h-1.8zM186.5,277.6h1.8v1.8h-1.8zM174.9,334.3h1.8v1.8h-1.8zM144.5,414.0h1.8v1.8h-1.8zM206.7,391.4h1.8v1.8h-1.8zM103.1,395.3h1.8v1.8h-1.8zM207.1,409.6h1.8v1.8h-1.8zM83.0,398.9h1.8v1.8h-1.8zM171.3,271.6h1.8v1.8h-1.8zM74.6,387.3h1.8v1.8h-1.8zM167.1,276.9h1.8v1.8h-1.8zM174.8,267.3h1.8v1.8h-1.8zM171.3,337.0h1.8v1.8h-1.8zM211.7,386.5h1.8v1.8h-1.8zM110.3,413.0h1.8v1.8h-1.8zM169.4,287.0h1.8v1.8h-1.8zM165.5,327.8h1.8v1.8h-1.8zM212.0,231.6h1.8v1.8h-1.8zM187.7,260.7h1.8v1.8h-1.8zM166.3,290.4h1.8v1.8h-1.8zM76.4,384.3h1.8v1.8h-1.8zM84.3,409.4h1.8v1.8h-1.8zM192.8,414.2h1.8v1.8h-1.8zM198.6,364.4h1.8v1.8h-1.8zM75.0,388.3h1.8v1.8h-1.8zM207.6,403.4h1.8v1.8h-1.8zM168.4,302.4h1.8v1.8h-1.8zM160.8,301.4h1.8v1.8h-1.8zM158.4,406.7h1.8v1.8h-1.8zM121.4,404.6h1.8v1.8h-1.8zM128.7,412.9h1.8v1.8h-1.8zM85.4,392.5h1.8v1.8h-1.8zM172.4,337.3h1.8v1.8h-1.8zM168.3,314.8h1.8v1.8h-1.8zM93.0,403.9h1.8v1.8h-1.8zM106.4,399.0h1.8v1.8h-1.8zM165.3,298.3h1.8v1.8h-1.8zM206.1,411.9h1.8v1.8h-1.8zM175.0,335.8h1.8v1.8h-1.8zM216.9,257.1h1.8v1.8h-1.8zM165.7,330.4h1.8v1.8h-1.8zM86.2,389.9h1.8v1.8h-1.8zM195.0,364.8h1.8v1.8h-1.8zM172.3,282.3h1.8v1.8h-1.8zM163.7,418.3h1.8v1.8h-1.8zM101.6,389.7h1.8v1.8h-1.8zM107.2,387.6h1.8v1.8h-1.8zM89.7,377.2h1.8v1.8h-1.8zM189.2,272.1h1.8v1.8h-1.8zM160.3,417.8h1.8v1.8h-1.8zM180.4,286.9h1.8v1.8h-1.8zM96.9,416.5h1.8v1.8h-1.8zM175.2,290.0h1.8v1.8h-1.8zM212.5,392.0h1.8v1.8h-1.8zM177.8,410.1h1.8v1.8h-1.8zM186.2,421.7h1.8v1.8h-1.8zM175.8,417.6h1.8v1.8h-1.8zM175.7,314.7h1.8v1.8h-1.8zM182.2,404.5h1.8v1.8h-1.8zM87.0,383.8h1.8v1.8h-1.8zM171.8,300.2h1.8v1.8h-1.8zM104.7,382.1h1.8v1.8h-1.8zM164.9,322.4h1.8v1.8h-1.8zM162.2,287.8h1.8v1.8h-1.8zM152.5,409.7h1.8v1.8h-1.8zM205.5,377.4h1.8v1.8h-1.8zM189.9,415.2h1.8v1.8h-1.8zM102.2,418.4h1.8v1.8h-1.8zM179.7,405.4h1.8v1.8h-1.8zM185.2,408.4h1.8v1.8h-1.8zM87.7,387.6h1.8v1.8h-1.8zM201.4,236.0h1.8v1.8h-1.8zM99.4,378.3h1.8v1.8h-1.8zM194.5,268.2h1.8v1.8h-1.8zM163.7,318.4h1.8v1.8h-1.8zM84.9,397.4h1.8v1.8h-1.8zM172.0,289.3h1.8v1.8h-1.8zM168.3,340.8h1.8v1.8h-1.8zM181.7,263.7h1.8v1.8h-1.8zM176.1,302.4h1.8v1.8h-1.8zM206.6,263.8h1.8v1.8h-1.8zM204.0,252.5h1.8v1.8h-1.8zM180.3,354.0h1.8v1.8h-1.8zM86.9,380.8h1.8v1.8h-1.8zM127.8,412.2h1.8v1.8h-1.8zM179.6,343.6h1.8v1.8h-1.8zM176.0,345.5h1.8v1.8h-1.8zM173.1,405.2h1.8v1.8h-1.8zM167.5,309.0h1.8v1.8h-1.8zM174.4,272.0h1.8v1.8h-1.8zM160.5,312.5h1.8v1.8h-1.8zM160.2,299.1h1.8v1.8h-1.8zM189.7,253.8h1.8v1.8h-1.8zM200.9,411.7h1.8v1.8h-1.8zM197.6,250.2h1.8v1.8h-1.8zM172.2,341.8h1.8v1.8h-1.8zM203.2,259.0h1.8v1.8h-1.8zM101.6,405.9h1.8v1.8h-1.8zM104.8,397.7h1.8v1.8h-1.8zM90.7,386.8h1.8v1.8h-1.8zM131.9,409.5h1.8v1.8h-1.8zM110.2,408.7h1.8v1.8h-1.8zM165.7,312.9h1.8v1.8h-1.8zM193.0,409.4h1.8v1.8h-1.8zM181.2,421.1h1.8v1.8h-1.8zM180.6,411.7h1.8v1.8h-1.8zM113.6,407.4h1.8v1.8h-1.8zM197.8,364.2h1.8v1.8h-1.8zM127.3,407.3h1.8v1.8h-1.8zM74.8,387.6h1.8v1.8h-1.8zM99.3,392.2h1.8v1.8h-1.8zM95.2,397.3h1.8v1.8h-1.8zM181.9,270.5h1.8v1.8h-1.8zM92.9,403.7h1.8v1.8h-1.8zM177.9,265.9h1.8v1.8h-1.8zM96.9,410.3h1.8v1.8h-1.8zM192.7,241.4h1.8v1.8h-1.8zM213.6,258.3h1.8v1.8h-1.8zM209.1,389.8h1.8v1.8h-1.8zM84.0,380.4h1.8v1.8h-1.8zM185.4,358.8h1.8v1.8h-1.8zM107.4,411.2h1.8v1.8h-1.8zM174.2,289.0h1.8v1.8h-1.8zM164.0,306.7h1.8v1.8h-1.8zM168.3,328.6h1.8v1.8h-1.8zM199.5,410.2h1.8v1.8h-1.8zM157.7,414.6h1.8v1.8h-1.8zM203.4,415.7h1.8v1.8h-1.8zM172.3,404.7h1.8v1.8h-1.8zM158.3,412.9h1.8v1.8h-1.8zM189.6,243.1h1.8v1.8h-1.8zM200.0,258.0h1.8v1.8h-1.8zM172.9,294.7h1.8v1.8h-1.8zM199.5,268.1h1.8v1.8h-1.8zM80.1,385.6h1.8v1.8h-1.8zM103.3,394.3h1.8v1.8h-1.8zM100.6,374.0h1.8v1.8h-1.8zM74.8,390.2h1.8v1.8h-1.8zM160.8,311.6h1.8v1.8h-1.8zM215.7,393.3h1.8v1.8h-1.8zM209.4,238.0h1.8v1.8h-1.8zM163.0,286.3h1.8v1.8h-1.8zM185.5,410.2h1.8v1.8h-1.8zM191.1,251.0h1.8v1.8h-1.8zM176.6,273.2h1.8v1.8h-1.8zM87.6,383.4h1.8v1.8h-1.8zM183.9,408.7h1.8v1.8h-1.8zM186.2,272.9h1.8v1.8h-1.8zM221.8,253.7h1.8v1.8h-1.8zM179.9,352.9h1.8v1.8h-1.8zM196.9,265.5h1.8v1.8h-1.8zM79.0,393.9h1.8v1.8h-1.8zM193.7,259.9h1.8v1.8h-1.8zM194.6,268.4h1.8v1.8h-1.8zM208.9,234.4h1.8v1.8h-1.8zM85.5,405.9h1.8v1.8h-1.8zM213.1,397.3h1.8v1.8h-1.8zM170.7,418.4h1.8v1.8h-1.8zM180.3,252.6h1.8v1.8h-1.8zM98.4,389.2h1.8v1.8h-1.8zM212.9,387.0h1.8v1.8h-1.8zM209.9,403.4h1.8v1.8h-1.8zM79.9,404.4h1.8v1.8h-1.8zM101.0,401.1h1.8v1.8h-1.8zM105.3,394.7h1.8v1.8h-1.8zM175.6,287.1h1.8v1.8h-1.8zM190.9,274.7h1.8v1.8h-1.8zM176.4,298.9h1.8v1.8h-1.8zM138.6,414.5h1.8v1.8h-1.8zM179.7,350.6h1.8v1.8h-1.8zM77.6,388.8h1.8v1.8h-1.8zM151.9,412.9h1.8v1.8h-1.8zM155.7,416.3h1.8v1.8h-1.8zM186.5,357.7h1.8v1.8h-1.8zM123.1,412.5h1.8v1.8h-1.8zM176.0,288.5h1.8v1.8h-1.8zM175.9,300.9h1.8v1.8h-1.8zM176.5,338.8h1.8v1.8h-1.8zM170.2,334.7h1.8v1.8h-1.8zM190.3,420.8h1.8v1.8h-1.8zM179.5,405.0h1.8v1.8h-1.8zM99.7,413.7h1.8v1.8h-1.8zM190.6,254.9h1.8v1.8h-1.8zM93.6,391.3h1.8v1.8h-1.8zM220.7,257.8h1.8v1.8h-1.8zM82.7,382.3h1.8v1.8h-1.8zM207.2,238.6h1.8v1.8h-1.8zM209.6,402.4h1.8v1.8h-1.8zM88.7,387.8h1.8v1.8h-1.8zM161.0,410.3h1.8v1.8h-1.8zM151.0,417.4h1.8v1.8h-1.8zM217.0,384.7h1.8v1.8h-1.8zM169.0,409.9h1.8v1.8h-1.8zM85.8,414.4h1.8v1.8h-1.8zM214.1,237.8h1.8v1.8h-1.8zM197.5,258.7h1.8v1.8h-1.8zM215.3,242.7h1.8v1.8h-1.8zM98.7,375.6h1.8v1.8h-1.8zM196.0,412.7h1.8v1.8h-1.8zM175.3,344.2h1.8v1.8h-1.8zM178.2,278.4h1.8v1.8h-1.8zM149.3,414.3h1.8v1.8h-1.8zM74.1,386.3h1.8v1.8h-1.8zM134.9,409.2h1.8v1.8h-1.8zM201.7,266.1h1.8v1.8h-1.8zM109.4,399.6h1.8v1.8h-1.8zM218.9,248.4h1.8v1.8h-1.8zM201.6,364.6h1.8v1.8h-1.8zM177.2,406.8h1.8v1.8h-1.8zM88.4,413.1h1.8v1.8h-1.8zM204.3,402.2h1.8v1.8h-1.8zM194.4,243.0h1.8v1.8h-1.8zM165.3,287.6h1.8v1.8h-1.8zM197.6,366.0h1.8v1.8h-1.8zM214.5,243.4h1.8v1.8h-1.8zM205.8,255.3h1.8v1.8h-1.8zM172.3,319.6h1.8v1.8h-1.8zM176.1,348.5h1.8v1.8h-1.8zM216.1,237.4h1.8v1.8h-1.8zM183.4,404.8h1.8v1.8h-1.8zM99.8,410.9h1.8v1.8h-1.8zM166.4,301.5h1.8v1.8h-1.8zM142.5,411.1h1.8v1.8h-1.8zM93.0,410.8h1.8v1.8h-1.8zM179.5,290.7h1.8v1.8h-1.8zM190.8,248.5h1.8v1.8h-1.8zM203.4,367.3h1.8v1.8h-1.8zM172.0,299.3h1.8v1.8h-1.8zM160.4,293.0h1.8v1.8h-1.8zM196.9,262.7h1.8v1.8h-1.8zM203.6,254.3h1.8v1.8h-1.8zM174.4,282.5h1.8v1.8h-1.8zM177.5,294.2h1.8v1.8h-1.8zM98.8,374.2h1.8v1.8h-1.8zM174.0,420.5h1.8v1.8h-1.8zM170.8,314.0h1.8v1.8h-1.8zM206.4,260.4h1.8v1.8h-1.8z" fill="#fff"/></g>
<path d="M467.80,771.90 C468.90,771.08 471.78,770.33 474.00,770.50 C476.22,770.67 479.67,771.48 481.10,772.90 C482.53,774.32 482.77,777.12 482.60,779.00 C482.43,780.88 480.85,782.48 480.10,784.20 C479.35,785.92 478.72,787.50 478.10,789.30 C477.48,791.10 477.77,794.40 476.40,795.00 C475.03,795.60 471.60,793.52 469.90,792.90 C468.20,792.28 466.95,792.25 466.20,791.30 C465.45,790.35 464.95,788.90 465.40,787.20 C465.85,785.50 468.57,783.07 468.90,781.10 C469.23,779.13 467.58,776.93 467.40,775.40 C467.22,773.87 466.70,772.72 467.80,771.90Z" fill="#da88a5" fill-opacity="0.5"/>
<text x="624.0" y="738.2" font-size="8.9" font-weight="bold" text-anchor="middle" fill="#1a1a1a" >PD150</text>
<g transform="translate(556.6,655.5) scale(0.473,0.508)"><path d="M145.70,192.50 C145.57,191.33 147.57,189.18 148.80,188.10 C150.03,187.02 151.87,186.95 153.10,186.00 C154.33,185.05 155.32,182.63 156.20,182.40 C157.08,182.17 157.38,184.30 158.40,184.60 C159.42,184.90 161.43,183.97 162.30,184.20 C163.17,184.43 162.50,185.78 163.60,186.00 C164.70,186.22 167.43,185.95 168.90,185.50 C170.37,185.05 170.93,183.88 172.40,183.30 C173.87,182.72 175.95,182.00 177.70,182.00 C179.45,182.00 181.23,182.57 182.90,183.30 C184.57,184.03 187.70,185.73 187.70,186.40 C187.70,187.07 184.57,186.72 182.90,187.30 C181.23,187.88 179.30,189.40 177.70,189.90 C176.10,190.40 174.77,190.45 173.30,190.30 C171.83,190.15 170.37,189.00 168.90,189.00 C167.43,189.00 165.67,189.72 164.50,190.30 C163.33,190.88 162.05,191.55 161.90,192.50 C161.75,193.45 164.03,195.42 163.60,196.00 C163.17,196.58 160.82,195.78 159.30,196.00 C157.78,196.22 156.12,197.45 154.50,197.30 C152.88,197.15 151.07,195.90 149.60,195.10 C148.13,194.30 145.83,193.67 145.70,192.50Z" fill="#86ad42" fill-opacity="0.9"/>
<ellipse cx="101" cy="322" rx="6" ry="5" fill="#a4466d" fill-opacity="0.85"/>
<ellipse cx="115" cy="324" rx="6" ry="3" fill="#a4466d" fill-opacity="0.3"/>
<path d="M220.20,228.50 C217.85,226.90 211.32,228.65 206.90,230.40 C202.48,232.15 198.12,235.35 193.70,239.00 C189.28,242.65 184.20,247.57 180.40,252.30 C176.60,257.03 173.75,262.67 170.90,267.40 C168.05,272.13 165.05,275.95 163.30,280.70 C161.55,285.45 160.72,290.20 160.40,295.90 C160.08,301.60 160.83,309.22 161.40,314.90 C161.97,320.58 162.42,325.30 163.80,330.00 C165.18,334.70 167.62,339.17 169.70,343.10 C171.78,347.03 173.88,350.75 176.30,353.60 C178.72,356.45 181.35,358.22 184.20,360.20 C187.05,362.18 190.33,363.53 193.40,365.50 C196.47,367.47 200.42,369.60 202.60,372.00 C204.78,374.40 205.63,377.27 206.50,379.90 C207.37,382.53 207.80,385.17 207.80,387.80 C207.80,390.43 207.37,393.50 206.50,395.70 C205.63,397.90 204.13,399.68 202.60,401.00 C201.07,402.32 199.72,402.85 197.30,403.60 C194.88,404.35 191.60,405.50 188.10,405.50 C184.60,405.50 180.02,404.03 176.30,403.60 C172.58,403.17 168.78,402.62 165.80,402.90 C162.82,403.18 161.08,404.18 158.40,405.30 C155.72,406.42 153.10,408.75 149.70,409.60 C146.30,410.45 141.90,410.88 138.00,410.40 C134.10,409.92 129.70,408.05 126.30,406.70 C122.90,405.35 120.03,404.48 117.60,402.30 C115.17,400.12 113.17,395.78 111.70,393.60 C110.23,391.42 109.28,391.15 108.80,389.20 C108.32,387.25 109.28,384.33 108.80,381.90 C108.32,379.47 107.37,376.30 105.90,374.60 C104.43,372.90 102.20,371.95 100.00,371.70 C97.80,371.45 95.37,372.37 92.70,373.10 C90.03,373.83 86.67,374.88 84.00,376.10 C81.33,377.32 78.53,378.47 76.70,380.40 C74.87,382.33 73.48,385.02 73.00,387.70 C72.52,390.38 72.70,392.85 73.80,396.50 C74.90,400.15 77.67,406.20 79.60,409.60 C81.53,413.00 82.97,415.07 85.40,416.90 C87.83,418.73 91.27,420.10 94.20,420.60 C97.13,421.10 100.08,420.75 103.00,419.90 C105.92,419.05 108.30,416.48 111.70,415.50 C115.10,414.52 119.02,413.88 123.40,414.00 C127.78,414.12 133.13,415.22 138.00,416.20 C142.87,417.18 148.10,418.80 152.60,419.90 C157.10,421.00 161.05,422.02 165.00,422.80 C168.95,423.58 172.67,424.42 176.30,424.60 C179.93,424.78 183.08,424.55 186.80,423.90 C190.52,423.25 195.10,422.12 198.60,420.70 C202.10,419.28 204.95,417.60 207.80,415.40 C210.65,413.20 213.73,410.35 215.70,407.50 C217.67,404.65 218.72,401.58 219.60,398.30 C220.48,395.02 221.22,390.87 221.00,387.80 C220.78,384.73 219.83,382.53 218.30,379.90 C216.77,377.27 214.42,374.62 211.80,372.00 C209.18,369.38 206.33,366.82 202.60,364.20 C198.87,361.58 192.92,359.37 189.40,356.30 C185.88,353.23 183.63,350.18 181.50,345.80 C179.37,341.42 177.42,335.78 176.60,330.00 C175.78,324.22 176.28,316.15 176.60,311.10 C176.92,306.05 177.23,303.50 178.50,299.70 C179.77,295.90 181.98,292.10 184.20,288.30 C186.42,284.50 189.28,279.90 191.80,276.90 C194.32,273.90 195.83,272.03 199.30,270.30 C202.77,268.57 208.48,267.88 212.60,266.50 C216.72,265.12 222.43,264.75 224.00,262.00 C225.57,259.25 222.50,253.67 222.00,250.00 C221.50,246.33 221.30,243.58 221.00,240.00 C220.70,236.42 222.55,230.10 220.20,228.50Z" fill="#2f8659" fill-opacity="1.0"/>
<path d="M218.40,229.10 C220.90,226.45 230.47,226.18 235.50,227.20 C240.53,228.22 245.35,230.52 248.60,235.20 C251.85,239.88 253.55,248.60 255.00,255.30 C256.45,262.00 255.47,268.02 257.30,275.40 C259.13,282.78 263.50,292.22 266.00,299.60 C268.50,306.98 272.30,314.35 272.30,319.70 C272.30,325.05 269.23,328.35 266.00,331.70 C262.77,335.05 259.38,338.13 252.90,339.80 C246.42,341.47 233.95,341.70 227.10,341.70 C220.25,341.70 213.25,340.78 211.80,339.80 C210.35,338.82 214.45,337.15 218.40,335.80 C222.35,334.45 229.02,333.73 235.50,331.70 C241.98,329.67 254.40,328.30 257.30,323.60 C260.20,318.90 255.08,310.18 252.90,303.50 C250.72,296.82 247.10,289.53 244.20,283.50 C241.30,277.47 238.35,272.00 235.50,267.30 C232.65,262.60 229.60,259.33 227.10,255.30 C224.60,251.27 221.95,247.47 220.50,243.10 C219.05,238.73 215.90,231.75 218.40,229.10Z" fill="#f69c56" fill-opacity="0.9" clip-path="url(#ecTop)"/>
<path d="M218.40,229.10 C220.90,226.45 230.47,226.18 235.50,227.20 C240.53,228.22 245.35,230.52 248.60,235.20 C251.85,239.88 253.55,248.60 255.00,255.30 C256.45,262.00 255.47,268.02 257.30,275.40 C259.13,282.78 263.50,292.22 266.00,299.60 C268.50,306.98 272.30,314.35 272.30,319.70 C272.30,325.05 269.23,328.35 266.00,331.70 C262.77,335.05 259.38,338.13 252.90,339.80 C246.42,341.47 233.95,341.70 227.10,341.70 C220.25,341.70 213.25,340.78 211.80,339.80 C210.35,338.82 214.45,337.15 218.40,335.80 C222.35,334.45 229.02,333.73 235.50,331.70 C241.98,329.67 254.40,328.30 257.30,323.60 C260.20,318.90 255.08,310.18 252.90,303.50 C250.72,296.82 247.10,289.53 244.20,283.50 C241.30,277.47 238.35,272.00 235.50,267.30 C232.65,262.60 229.60,259.33 227.10,255.30 C224.60,251.27 221.95,247.47 220.50,243.10 C219.05,238.73 215.90,231.75 218.40,229.10Z" fill="#f69c56" fill-opacity="0.55" clip-path="url(#ecBot)"/>
<path d="M244.0,240.5h1.8v1.8h-1.8zM237.3,336.2h1.8v1.8h-1.8zM220.6,241.4h1.8v1.8h-1.8zM251.3,260.7h1.8v1.8h-1.8zM252.7,258.0h1.8v1.8h-1.8zM225.5,245.9h1.8v1.8h-1.8zM258.1,280.2h1.8v1.8h-1.8zM254.5,336.8h1.8v1.8h-1.8zM248.6,334.6h1.8v1.8h-1.8zM251.8,281.6h1.8v1.8h-1.8zM250.8,250.7h1.8v1.8h-1.8zM267.2,322.5h1.8v1.8h-1.8zM248.7,262.8h1.8v1.8h-1.8zM248.9,327.2h1.8v1.8h-1.8zM239.1,243.3h1.8v1.8h-1.8zM228.9,232.3h1.8v1.8h-1.8zM230.5,248.3h1.8v1.8h-1.8zM250.0,283.9h1.8v1.8h-1.8zM249.6,293.2h1.8v1.8h-1.8zM223.7,228.8h1.8v1.8h-1.8zM225.7,235.8h1.8v1.8h-1.8zM263.9,310.9h1.8v1.8h-1.8zM259.2,296.4h1.8v1.8h-1.8zM244.1,276.3h1.8v1.8h-1.8zM249.7,276.9h1.8v1.8h-1.8zM257.8,314.8h1.8v1.8h-1.8zM236.2,229.6h1.8v1.8h-1.8zM244.8,334.6h1.8v1.8h-1.8zM258.5,333.5h1.8v1.8h-1.8zM240.6,335.5h1.8v1.8h-1.8zM258.2,312.2h1.8v1.8h-1.8zM238.6,259.6h1.8v1.8h-1.8zM234.1,249.4h1.8v1.8h-1.8zM224.9,337.9h1.8v1.8h-1.8zM246.1,270.8h1.8v1.8h-1.8zM244.9,267.4h1.8v1.8h-1.8zM241.8,333.3h1.8v1.8h-1.8zM250.6,295.4h1.8v1.8h-1.8zM268.2,314.3h1.8v1.8h-1.8zM263.3,328.4h1.8v1.8h-1.8zM249.6,283.5h1.8v1.8h-1.8zM240.6,238.4h1.8v1.8h-1.8zM263.2,304.9h1.8v1.8h-1.8zM269.3,315.9h1.8v1.8h-1.8zM240.5,234.0h1.8v1.8h-1.8zM231.5,255.3h1.8v1.8h-1.8zM269.3,320.3h1.8v1.8h-1.8zM220.9,334.8h1.8v1.8h-1.8zM224.8,228.9h1.8v1.8h-1.8zM250.8,295.1h1.8v1.8h-1.8zM252.2,255.5h1.8v1.8h-1.8zM266.2,327.6h1.8v1.8h-1.8zM269.7,315.4h1.8v1.8h-1.8zM246.1,334.7h1.8v1.8h-1.8zM256.5,289.2h1.8v1.8h-1.8zM246.9,332.7h1.8v1.8h-1.8zM235.6,255.2h1.8v1.8h-1.8zM261.9,298.8h1.8v1.8h-1.8zM247.2,269.1h1.8v1.8h-1.8zM253.0,324.1h1.8v1.8h-1.8zM239.9,255.5h1.8v1.8h-1.8zM239.2,337.3h1.8v1.8h-1.8zM230.1,335.3h1.8v1.8h-1.8zM266.8,321.5h1.8v1.8h-1.8zM239.9,237.0h1.8v1.8h-1.8zM237.9,245.4h1.8v1.8h-1.8zM222.2,237.9h1.8v1.8h-1.8zM241.9,260.6h1.8v1.8h-1.8zM227.2,337.8h1.8v1.8h-1.8zM258.1,308.6h1.8v1.8h-1.8zM264.6,299.2h1.8v1.8h-1.8zM233.4,262.7h1.8v1.8h-1.8zM241.4,333.7h1.8v1.8h-1.8zM258.8,334.1h1.8v1.8h-1.8zM228.6,257.5h1.8v1.8h-1.8zM248.9,338.0h1.8v1.8h-1.8zM242.6,251.1h1.8v1.8h-1.8zM252.8,251.3h1.8v1.8h-1.8zM251.4,257.8h1.8v1.8h-1.8zM231.2,339.2h1.8v1.8h-1.8zM230.5,338.7h1.8v1.8h-1.8zM244.5,277.9h1.8v1.8h-1.8zM255.4,304.4h1.8v1.8h-1.8zM262.5,301.3h1.8v1.8h-1.8zM235.9,247.9h1.8v1.8h-1.8zM252.6,265.9h1.8v1.8h-1.8zM248.8,279.7h1.8v1.8h-1.8zM246.8,331.4h1.8v1.8h-1.8zM246.0,240.6h1.8v1.8h-1.8zM264.9,322.6h1.8v1.8h-1.8z" fill="#fff"/>
<path d="M206.3,326.6h2.2v2.2h-2.2zM201.9,332.9h2.2v2.2h-2.2zM226.1,317.2h2.2v2.2h-2.2zM227.1,327.1h2.2v2.2h-2.2zM204.1,328.6h2.2v2.2h-2.2zM182.5,327.7h2.2v2.2h-2.2zM213.1,317.6h2.2v2.2h-2.2zM189.3,330.6h2.2v2.2h-2.2zM224.1,321.5h2.2v2.2h-2.2zM190.4,329.1h2.2v2.2h-2.2zM210.8,320.7h2.2v2.2h-2.2zM194.4,327.5h2.2v2.2h-2.2zM227.7,313.4h2.2v2.2h-2.2zM226.3,319.4h2.2v2.2h-2.2zM195.5,326.9h2.2v2.2h-2.2zM212.0,318.0h2.2v2.2h-2.2zM235.8,327.2h2.2v2.2h-2.2zM194.0,330.9h2.2v2.2h-2.2zM197.6,325.1h2.2v2.2h-2.2zM206.1,327.6h2.2v2.2h-2.2zM196.7,324.1h2.2v2.2h-2.2zM209.9,327.5h2.2v2.2h-2.2zM215.2,315.6h2.2v2.2h-2.2zM201.1,321.3h2.2v2.2h-2.2zM217.4,326.2h2.2v2.2h-2.2zM223.9,328.0h2.2v2.2h-2.2zM206.3,325.1h2.2v2.2h-2.2zM199.4,327.0h2.2v2.2h-2.2zM223.1,323.1h2.2v2.2h-2.2zM225.0,324.0h2.2v2.2h-2.2zM213.7,321.7h2.2v2.2h-2.2zM198.7,325.2h2.2v2.2h-2.2zM227.3,314.7h2.2v2.2h-2.2zM232.9,319.0h2.2v2.2h-2.2zM196.3,329.4h2.2v2.2h-2.2zM206.0,332.8h2.2v2.2h-2.2zM208.6,318.8h2.2v2.2h-2.2zM231.8,326.2h2.2v2.2h-2.2zM205.1,331.0h2.2v2.2h-2.2zM213.3,320.1h2.2v2.2h-2.2zM216.1,316.4h2.2v2.2h-2.2zM217.2,329.3h2.2v2.2h-2.2zM203.0,330.5h2.2v2.2h-2.2zM233.9,320.6h2.2v2.2h-2.2zM223.9,320.5h2.2v2.2h-2.2zM192.6,332.3h2.2v2.2h-2.2zM220.8,329.3h2.2v2.2h-2.2zM211.1,321.3h2.2v2.2h-2.2zM205.6,322.6h2.2v2.2h-2.2zM222.2,324.2h2.2v2.2h-2.2zM204.1,329.0h2.2v2.2h-2.2zM236.3,324.9h2.2v2.2h-2.2zM192.3,327.2h2.2v2.2h-2.2zM232.4,328.2h2.2v2.2h-2.2zM208.6,328.2h2.2v2.2h-2.2zM194.3,330.2h2.2v2.2h-2.2zM209.5,319.9h2.2v2.2h-2.2zM204.9,334.3h2.2v2.2h-2.2zM185.3,329.0h2.2v2.2h-2.2zM213.9,328.6h2.2v2.2h-2.2zM207.2,329.6h2.2v2.2h-2.2zM199.9,329.0h2.2v2.2h-2.2zM185.1,327.7h2.2v2.2h-2.2zM236.2,327.0h2.2v2.2h-2.2zM226.4,323.0h2.2v2.2h-2.2zM231.4,322.7h2.2v2.2h-2.2zM215.1,321.1h2.2v2.2h-2.2zM209.6,321.6h2.2v2.2h-2.2zM206.7,320.0h2.2v2.2h-2.2zM206.2,323.7h2.2v2.2h-2.2zM206.2,327.0h2.2v2.2h-2.2zM180.8,326.9h2.2v2.2h-2.2zM216.4,318.5h2.2v2.2h-2.2zM207.0,334.2h2.2v2.2h-2.2zM203.6,321.9h2.2v2.2h-2.2zM205.7,327.1h2.2v2.2h-2.2zM222.9,317.5h2.2v2.2h-2.2zM227.3,313.8h2.2v2.2h-2.2zM223.9,324.3h2.2v2.2h-2.2zM192.5,325.3h2.2v2.2h-2.2zM224.0,323.3h2.2v2.2h-2.2zM226.1,320.3h2.2v2.2h-2.2zM214.9,316.0h2.2v2.2h-2.2zM213.6,321.2h2.2v2.2h-2.2zM227.1,315.4h2.2v2.2h-2.2zM222.0,324.9h2.2v2.2h-2.2zM224.0,316.7h2.2v2.2h-2.2zM206.8,332.0h2.2v2.2h-2.2zM222.0,326.7h2.2v2.2h-2.2zM209.7,328.9h2.2v2.2h-2.2z" fill="#825c92"/>
<path d="M148.20,366.10 C148.63,365.38 152.22,364.72 153.90,365.30 C155.58,365.88 156.70,368.15 158.30,369.60 C159.90,371.05 161.90,372.53 163.50,374.00 C165.10,375.47 167.45,377.08 167.90,378.40 C168.35,379.72 166.93,380.88 166.20,381.90 C165.47,382.92 164.53,384.50 163.50,384.50 C162.47,384.50 160.87,382.92 160.00,381.90 C159.13,380.88 159.32,379.72 158.30,378.40 C157.28,377.08 155.07,375.47 153.90,374.00 C152.73,372.53 152.25,370.92 151.30,369.60 C150.35,368.28 147.77,366.82 148.20,366.10Z" fill="#828282" fill-opacity="0.4"/>
<ellipse cx="139" cy="383" rx="4" ry="2.5" fill="#e9b538" fill-opacity="0.8"/>
<path d="M202.3,262.2h1.8v1.8h-1.8zM176.5,291.6h1.8v1.8h-1.8zM83.2,392.6h1.8v1.8h-1.8zM216.9,248.7h1.8v1.8h-1.8zM166.5,417.7h1.8v1.8h-1.8zM170.8,292.0h1.8v1.8h-1.8zM192.0,361.7h1.8v1.8h-1.8zM198.9,236.2h1.8v1.8h-1.8zM169.8,334.1h1.8v1.8h-1.8zM154.7,412.5h1.8v1.8h-1.8zM170.4,406.4h1.8v1.8h-1.8zM84.8,404.5h1.8v1.8h-1.8zM93.2,412.7h1.8v1.8h-1.8zM84.0,406.5h1.8v1.8h-1.8zM192.2,250.6h1.8v1.8h-1.8zM211.8,258.5h1.8v1.8h-1.8zM136.9,412.3h1.8v1.8h-1.8zM191.2,362.7h1.8v1.8h-1.8zM101.3,391.7h1.8v1.8h-1.8zM214.4,260.7h1.8v1.8h-1.8zM214.6,241.9h1.8v1.8h-1.8zM111.2,402.2h1.8v1.8h-1.8zM217.5,237.9h1.8v1.8h-1.8zM147.0,412.7h1.8v1.8h-1.8zM130.8,409.4h1.8v1.8h-1.8zM151.4,407.8h1.8v1.8h-1.8zM171.5,416.3h1.8v1.8h-1.8zM164.9,421.2h1.8v1.8h-1.8zM189.6,274.7h1.8v1.8h-1.8zM199.1,366.1h1.8v1.8h-1.8zM93.9,405.8h1.8v1.8h-1.8zM117.6,408.7h1.8v1.8h-1.8zM84.9,404.7h1.8v1.8h-1.8zM167.9,406.8h1.8v1.8h-1.8zM169.3,317.8h1.8v1.8h-1.8zM174.8,265.1h1.8v1.8h-1.8zM176.4,415.9h1.8v1.8h-1.8zM87.1,399.5h1.8v1.8h-1.8zM89.9,409.5h1.8v1.8h-1.8zM218.8,256.3h1.8v1.8h-1.8zM108.1,400.4h1.8v1.8h-1.8zM214.1,243.5h1.8v1.8h-1.8zM199.4,362.6h1.8v1.8h-1.8zM192.1,420.7h1.8v1.8h-1.8zM173.2,272.5h1.8v1.8h-1.8zM190.0,358.4h1.8v1.8h-1.8zM89.2,391.5h1.8v1.8h-1.8zM111.5,409.7h1.8v1.8h-1.8zM219.6,386.5h1.8v1.8h-1.8zM191.4,274.1h1.8v1.8h-1.8zM180.4,405.8h1.8v1.8h-1.8zM126.9,411.0h1.8v1.8h-1.8zM217.3,238.8h1.8v1.8h-1.8zM96.1,398.9h1.8v1.8h-1.8zM178.9,346.7h1.8v1.8h-1.8zM199.8,261.9h1.8v1.8h-1.8zM196.7,248.0h1.8v1.8h-1.8zM96.4,381.5h1.8v1.8h-1.8zM175.1,423.1h1.8v1.8h-1.8zM98.5,376.0h1.8v1.8h-1.8zM168.9,338.4h1.8v1.8h-1.8zM201.2,232.8h1.8v1.8h-1.8zM121.8,404.6h1.8v1.8h-1.8zM202.1,416.0h1.8v1.8h-1.8zM161.4,291.8h1.8v1.8h-1.8zM176.2,258.6h1.8v1.8h-1.8zM172.2,306.5h1.8v1.8h-1.8zM79.7,405.8h1.8v1.8h-1.8zM192.0,246.8h1.8v1.8h-1.8zM178.5,284.8h1.8v1.8h-1.8zM181.3,417.0h1.8v1.8h-1.8zM173.9,405.8h1.8v1.8h-1.8zM174.1,339.6h1.8v1.8h-1.8zM201.2,260.4h1.8v1.8h-1.8zM164.9,283.1h1.8v1.8h-1.8zM218.8,244.3h1.8v1.8h-1.8zM164.2,297.9h1.8v1.8h-1.8zM215.0,385.2h1.8v1.8h-1.8zM173.3,326.4h1.8v1.8h-1.8zM167.0,404.7h1.8v1.8h-1.8zM211.1,403.1h1.8v1.8h-1.8zM214.3,262.1h1.8v1.8h-1.8zM174.6,297.1h1.8v1.8h-1.8zM102.6,407.4h1.8v1.8h-1.8zM92.5,404.4h1.8v1.8h-1.8zM84.8,384.6h1.8v1.8h-1.8zM210.7,397.2h1.8v1.8h-1.8zM209.0,262.4h1.8v1.8h-1.8zM166.0,315.6h1.8v1.8h-1.8zM105.0,395.6h1.8v1.8h-1.8zM202.4,239.8h1.8v1.8h-1.8zM212.7,386.7h1.8v1.8h-1.8zM81.2,383.2h1.8v1.8h-1.8zM193.2,259.1h1.8v1.8h-1.8zM167.0,286.7h1.8v1.8h-1.8zM201.5,409.4h1.8v1.8h-1.8zM212.5,264.0h1.8v1.8h-1.8zM185.1,417.7h1.8v1.8h-1.8zM165.9,299.0h1.8v1.8h-1.8zM184.0,354.1h1.8v1.8h-1.8zM81.3,388.6h1.8v1.8h-1.8zM210.1,247.3h1.8v1.8h-1.8zM169.9,286.3h1.8v1.8h-1.8zM173.1,288.9h1.8v1.8h-1.8zM100.1,383.6h1.8v1.8h-1.8zM189.4,356.4h1.8v1.8h-1.8zM179.1,267.4h1.8v1.8h-1.8zM105.7,391.6h1.8v1.8h-1.8zM152.0,410.4h1.8v1.8h-1.8zM98.8,374.2h1.8v1.8h-1.8zM124.7,409.7h1.8v1.8h-1.8zM100.7,378.7h1.8v1.8h-1.8zM94.9,409.1h1.8v1.8h-1.8zM111.2,402.3h1.8v1.8h-1.8zM206.9,238.8h1.8v1.8h-1.8zM204.0,246.7h1.8v1.8h-1.8zM161.7,411.4h1.8v1.8h-1.8zM179.4,412.7h1.8v1.8h-1.8zM194.7,267.2h1.8v1.8h-1.8zM101.1,405.5h1.8v1.8h-1.8zM89.8,411.3h1.8v1.8h-1.8zM216.5,254.8h1.8v1.8h-1.8zM177.5,412.9h1.8v1.8h-1.8zM201.3,237.0h1.8v1.8h-1.8zM106.9,408.8h1.8v1.8h-1.8zM215.0,392.2h1.8v1.8h-1.8zM73.0,385.8h1.8v1.8h-1.8zM168.0,284.2h1.8v1.8h-1.8zM207.7,368.5h1.8v1.8h-1.8zM189.1,248.8h1.8v1.8h-1.8zM188.0,275.3h1.8v1.8h-1.8zM87.6,406.4h1.8v1.8h-1.8zM200.5,412.9h1.8v1.8h-1.8zM183.1,275.4h1.8v1.8h-1.8zM90.4,413.6h1.8v1.8h-1.8zM174.9,329.5h1.8v1.8h-1.8zM175.4,409.5h1.8v1.8h-1.8zM139.3,409.5h1.8v1.8h-1.8zM213.1,376.1h1.8v1.8h-1.8zM96.0,398.8h1.8v1.8h-1.8zM82.8,402.1h1.8v1.8h-1.8zM91.1,378.7h1.8v1.8h-1.8zM88.7,385.8h1.8v1.8h-1.8zM87.9,403.9h1.8v1.8h-1.8zM188.9,406.6h1.8v1.8h-1.8zM156.8,411.3h1.8v1.8h-1.8zM82.4,403.2h1.8v1.8h-1.8zM149.7,418.4h1.8v1.8h-1.8zM177.3,272.3h1.8v1.8h-1.8zM103.3,394.8h1.8v1.8h-1.8zM218.2,258.4h1.8v1.8h-1.8zM100.8,404.8h1.8v1.8h-1.8zM175.7,338.5h1.8v1.8h-1.8zM205.0,250.3h1.8v1.8h-1.8zM164.6,327.2h1.8v1.8h-1.8zM194.9,415.1h1.8v1.8h-1.8zM116.2,409.6h1.8v1.8h-1.8zM105.8,377.9h1.8v1.8h-1.8zM173.6,347.2h1.8v1.8h-1.8zM173.6,328.9h1.8v1.8h-1.8zM99.0,399.4h1.8v1.8h-1.8zM157.2,419.1h1.8v1.8h-1.8zM173.3,299.0h1.8v1.8h-1.8zM91.7,383.1h1.8v1.8h-1.8zM141.0,412.8h1.8v1.8h-1.8zM174.7,295.3h1.8v1.8h-1.8zM155.5,412.8h1.8v1.8h-1.8zM166.0,420.5h1.8v1.8h-1.8zM187.7,273.7h1.8v1.8h-1.8zM97.2,374.9h1.8v1.8h-1.8zM180.6,420.6h1.8v1.8h-1.8zM81.8,402.4h1.8v1.8h-1.8zM214.6,245.7h1.8v1.8h-1.8zM81.4,403.4h1.8v1.8h-1.8zM206.9,259.4h1.8v1.8h-1.8zM101.0,412.2h1.8v1.8h-1.8zM199.3,250.9h1.8v1.8h-1.8zM123.0,405.5h1.8v1.8h-1.8zM102.9,403.0h1.8v1.8h-1.8zM181.9,249.7h1.8v1.8h-1.8zM196.0,415.4h1.8v1.8h-1.8zM104.3,392.6h1.8v1.8h-1.8zM211.1,377.9h1.8v1.8h-1.8zM96.9,403.8h1.8v1.8h-1.8zM180.4,279.4h1.8v1.8h-1.8zM104.7,413.4h1.8v1.8h-1.8zM181.4,414.7h1.8v1.8h-1.8zM85.3,404.4h1.8v1.8h-1.8zM171.9,272.3h1.8v1.8h-1.8zM178.6,420.1h1.8v1.8h-1.8zM171.3,321.2h1.8v1.8h-1.8zM109.0,404.5h1.8v1.8h-1.8zM80.7,393.4h1.8v1.8h-1.8zM75.7,401.6h1.8v1.8h-1.8zM100.5,394.5h1.8v1.8h-1.8zM108.6,407.8h1.8v1.8h-1.8zM108.7,390.4h1.8v1.8h-1.8zM154.4,419.2h1.8v1.8h-1.8zM195.8,259.4h1.8v1.8h-1.8zM166.2,292.5h1.8v1.8h-1.8zM199.1,245.9h1.8v1.8h-1.8zM185.0,258.7h1.8v1.8h-1.8zM174.8,413.9h1.8v1.8h-1.8zM193.7,413.7h1.8v1.8h-1.8zM181.0,416.9h1.8v1.8h-1.8zM192.6,267.4h1.8v1.8h-1.8zM96.6,408.5h1.8v1.8h-1.8zM168.4,304.8h1.8v1.8h-1.8zM167.4,278.3h1.8v1.8h-1.8zM181.4,352.4h1.8v1.8h-1.8zM208.7,248.0h1.8v1.8h-1.8zM202.5,365.1h1.8v1.8h-1.8zM104.1,415.8h1.8v1.8h-1.8zM215.9,255.5h1.8v1.8h-1.8zM171.7,305.3h1.8v1.8h-1.8zM187.4,419.7h1.8v1.8h-1.8zM171.7,311.5h1.8v1.8h-1.8zM167.1,277.1h1.8v1.8h-1.8zM202.6,260.6h1.8v1.8h-1.8zM120.6,405.7h1.8v1.8h-1.8zM176.9,281.4h1.8v1.8h-1.8zM202.9,401.0h1.8v1.8h-1.8zM154.6,408.7h1.8v1.8h-1.8zM130.3,411.1h1.8v1.8h-1.8zM173.3,300.5h1.8v1.8h-1.8zM163.9,306.3h1.8v1.8h-1.8zM175.1,262.8h1.8v1.8h-1.8zM95.6,395.7h1.8v1.8h-1.8zM75.9,380.8h1.8v1.8h-1.8zM203.7,406.8h1.8v1.8h-1.8zM184.2,414.5h1.8v1.8h-1.8zM171.4,413.1h1.8v1.8h-1.8zM200.0,401.5h1.8v1.8h-1.8zM163.0,406.4h1.8v1.8h-1.8zM117.4,402.7h1.8v1.8h-1.8zM90.9,378.4h1.8v1.8h-1.8zM87.4,413.6h1.8v1.8h-1.8zM140.0,410.0h1.8v1.8h-1.8zM165.3,289.3h1.8v1.8h-1.8zM112.7,403.4h1.8v1.8h-1.8zM84.5,402.0h1.8v1.8h-1.8zM182.5,406.3h1.8v1.8h-1.8zM200.5,264.9h1.8v1.8h-1.8zM174.6,320.6h1.8v1.8h-1.8zM75.6,386.3h1.8v1.8h-1.8zM102.3,404.2h1.8v1.8h-1.8zM92.8,393.5h1.8v1.8h-1.8zM182.3,404.6h1.8v1.8h-1.8zM103.4,401.0h1.8v1.8h-1.8zM100.9,395.4h1.8v1.8h-1.8zM216.4,240.6h1.8v1.8h-1.8zM80.4,400.5h1.8v1.8h-1.8zM181.5,279.3h1.8v1.8h-1.8zM172.4,276.6h1.8v1.8h-1.8zM202.6,249.2h1.8v1.8h-1.8zM189.5,250.4h1.8v1.8h-1.8zM88.0,403.9h1.8v1.8h-1.8zM78.4,385.1h1.8v1.8h-1.8zM74.6,382.3h1.8v1.8h-1.8zM105.7,406.0h1.8v1.8h-1.8z" fill="#fff"/></g>
<path d="M606.40,771.90 C607.50,771.08 610.38,770.33 612.60,770.50 C614.82,770.67 618.27,771.48 619.70,772.90 C621.13,774.32 621.37,777.12 621.20,779.00 C621.03,780.88 619.45,782.48 618.70,784.20 C617.95,785.92 617.32,787.50 616.70,789.30 C616.08,791.10 616.37,794.40 615.00,795.00 C613.63,795.60 610.20,793.52 608.50,792.90 C606.80,792.28 605.55,792.25 604.80,791.30 C604.05,790.35 603.55,788.90 604.00,787.20 C604.45,785.50 607.17,783.07 607.50,781.10 C607.83,779.13 606.18,776.93 606.00,775.40 C605.82,773.87 605.30,772.72 606.40,771.90Z" fill="#da88a5" fill-opacity="0.5"/>
<path d="M567.50,795.40 C568.70,795.23 571.07,797.13 572.60,798.50 C574.13,799.87 575.68,801.73 576.70,803.60 C577.72,805.47 578.20,807.67 578.70,809.70 C579.20,811.73 580.03,814.10 579.70,815.80 C579.37,817.50 577.88,819.38 576.70,819.90 C575.52,820.42 573.63,820.27 572.60,818.90 C571.57,817.53 571.52,813.92 570.50,811.70 C569.48,809.48 567.35,807.63 566.50,805.60 C565.65,803.57 565.23,801.20 565.40,799.50 C565.57,797.80 566.30,795.57 567.50,795.40Z" fill="#24679f" fill-opacity="0.85"/>
<path d="M10.7,851 L10.7,872.5 L32,872.5" fill="none" stroke="#2a2a2a" stroke-width="0.95"/>
<path d="M9.1,851.8 L10.7,847.9 L12.3,851.8 Z M31.5,870.9 L35.1,872.5 L31.5,874.1 Z" fill="#111"/>
<text transform="translate(8.1,862) rotate(-90)" font-size="5.7" text-anchor="middle" fill="#1a1a1a">UMAP2</text>
<text x="10.7" y="879.6" font-size="5.7" font-weight="normal" text-anchor="start" fill="#1a1a1a" >UMAP1</text></svg></body></html>
